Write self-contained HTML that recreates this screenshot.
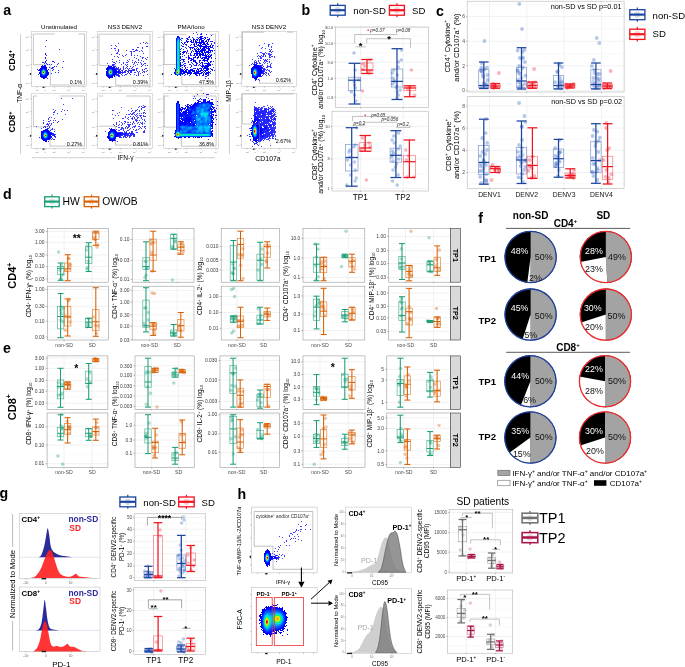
<!DOCTYPE html>
<html><head><meta charset="utf-8"><style>html,body{margin:0;padding:0;background:#fff;}svg{display:block;}</style></head>
<body><svg width="685" height="667" viewBox="0 0 685 667" font-family='"Liberation Sans", Arial, sans-serif'>
<rect width="685" height="667" fill="#fff"/>
<text x="3.2" y="14.9" font-size="14.2" font-weight="bold">a</text>
<text x="59" y="28.8" font-size="6.2" text-anchor="middle">Unstimulated</text>
<text x="125" y="28.8" font-size="6.2" text-anchor="middle">NS3 DENV2</text>
<text x="191" y="28.8" font-size="6.2" text-anchor="middle">PMA/Iono</text>
<text x="269" y="28.8" font-size="6.2" text-anchor="middle">NS3 DENV2</text>
<rect x="31.5" y="31.5" width="55" height="55" fill="none" stroke="#cdcdcd" stroke-width="0.7"/>
<line x1="33.4" y1="34" x2="54.8" y2="34" stroke="#8f8f8f" stroke-width="0.5"/>
<line x1="78.2" y1="34" x2="84.5" y2="34" stroke="#8f8f8f" stroke-width="0.5"/>
<line x1="33.4" y1="34" x2="33.4" y2="64.7" stroke="#8f8f8f" stroke-width="0.5"/>
<line x1="33.4" y1="64.7" x2="50.3" y2="64.7" stroke="#8f8f8f" stroke-width="0.5"/>
<line x1="50.3" y1="64.7" x2="50.3" y2="85" stroke="#8f8f8f" stroke-width="0.5"/>
<line x1="50.3" y1="85" x2="84.5" y2="85" stroke="#8f8f8f" stroke-width="0.5"/>
<line x1="84.5" y1="34" x2="84.5" y2="85" stroke="#8f8f8f" stroke-width="0.5"/>
<line x1="30.2" y1="37" x2="31.5" y2="37" stroke="#777" stroke-width="0.4"/>
<line x1="30.2" y1="50" x2="31.5" y2="50" stroke="#777" stroke-width="0.4"/>
<line x1="30.2" y1="64.8" x2="31.5" y2="64.8" stroke="#777" stroke-width="0.4"/>
<line x1="30.2" y1="74" x2="31.5" y2="74" stroke="#777" stroke-width="0.4"/>
<line x1="30.2" y1="83.2" x2="31.5" y2="83.2" stroke="#777" stroke-width="0.4"/>
<line x1="36.8" y1="86.5" x2="36.8" y2="87.8" stroke="#777" stroke-width="0.4"/>
<line x1="45.1" y1="86.5" x2="45.1" y2="87.8" stroke="#777" stroke-width="0.4"/>
<line x1="54.2" y1="86.5" x2="54.2" y2="87.8" stroke="#777" stroke-width="0.4"/>
<line x1="69" y1="86.5" x2="69" y2="87.8" stroke="#777" stroke-width="0.4"/>
<line x1="83.8" y1="86.5" x2="83.8" y2="87.8" stroke="#777" stroke-width="0.4"/>
<line x1="30.8" y1="34.5" x2="31.5" y2="34.5" stroke="#aaa" stroke-width="0.3"/>
<line x1="30.8" y1="37.5" x2="31.5" y2="37.5" stroke="#aaa" stroke-width="0.3"/>
<line x1="30.8" y1="40.5" x2="31.5" y2="40.5" stroke="#aaa" stroke-width="0.3"/>
<line x1="30.8" y1="43.5" x2="31.5" y2="43.5" stroke="#aaa" stroke-width="0.3"/>
<line x1="30.8" y1="46.5" x2="31.5" y2="46.5" stroke="#aaa" stroke-width="0.3"/>
<line x1="30.8" y1="49.5" x2="31.5" y2="49.5" stroke="#aaa" stroke-width="0.3"/>
<line x1="30.8" y1="52.5" x2="31.5" y2="52.5" stroke="#aaa" stroke-width="0.3"/>
<line x1="30.8" y1="55.5" x2="31.5" y2="55.5" stroke="#aaa" stroke-width="0.3"/>
<line x1="30.8" y1="58.5" x2="31.5" y2="58.5" stroke="#aaa" stroke-width="0.3"/>
<line x1="30.8" y1="61.5" x2="31.5" y2="61.5" stroke="#aaa" stroke-width="0.3"/>
<line x1="30.8" y1="64.5" x2="31.5" y2="64.5" stroke="#aaa" stroke-width="0.3"/>
<line x1="30.8" y1="67.5" x2="31.5" y2="67.5" stroke="#aaa" stroke-width="0.3"/>
<line x1="30.8" y1="70.5" x2="31.5" y2="70.5" stroke="#aaa" stroke-width="0.3"/>
<line x1="30.8" y1="73.5" x2="31.5" y2="73.5" stroke="#aaa" stroke-width="0.3"/>
<line x1="30.8" y1="76.5" x2="31.5" y2="76.5" stroke="#aaa" stroke-width="0.3"/>
<line x1="30.8" y1="79.5" x2="31.5" y2="79.5" stroke="#aaa" stroke-width="0.3"/>
<line x1="30.8" y1="82.5" x2="31.5" y2="82.5" stroke="#aaa" stroke-width="0.3"/>
<line x1="34.5" y1="86.5" x2="34.5" y2="87.2" stroke="#aaa" stroke-width="0.3"/>
<line x1="37.5" y1="86.5" x2="37.5" y2="87.2" stroke="#aaa" stroke-width="0.3"/>
<line x1="40.5" y1="86.5" x2="40.5" y2="87.2" stroke="#aaa" stroke-width="0.3"/>
<line x1="43.5" y1="86.5" x2="43.5" y2="87.2" stroke="#aaa" stroke-width="0.3"/>
<line x1="46.5" y1="86.5" x2="46.5" y2="87.2" stroke="#aaa" stroke-width="0.3"/>
<line x1="49.5" y1="86.5" x2="49.5" y2="87.2" stroke="#aaa" stroke-width="0.3"/>
<line x1="52.5" y1="86.5" x2="52.5" y2="87.2" stroke="#aaa" stroke-width="0.3"/>
<line x1="55.5" y1="86.5" x2="55.5" y2="87.2" stroke="#aaa" stroke-width="0.3"/>
<line x1="58.5" y1="86.5" x2="58.5" y2="87.2" stroke="#aaa" stroke-width="0.3"/>
<line x1="61.5" y1="86.5" x2="61.5" y2="87.2" stroke="#aaa" stroke-width="0.3"/>
<line x1="64.5" y1="86.5" x2="64.5" y2="87.2" stroke="#aaa" stroke-width="0.3"/>
<line x1="67.5" y1="86.5" x2="67.5" y2="87.2" stroke="#aaa" stroke-width="0.3"/>
<line x1="70.5" y1="86.5" x2="70.5" y2="87.2" stroke="#aaa" stroke-width="0.3"/>
<line x1="73.5" y1="86.5" x2="73.5" y2="87.2" stroke="#aaa" stroke-width="0.3"/>
<line x1="76.5" y1="86.5" x2="76.5" y2="87.2" stroke="#aaa" stroke-width="0.3"/>
<line x1="79.5" y1="86.5" x2="79.5" y2="87.2" stroke="#aaa" stroke-width="0.3"/>
<line x1="82.5" y1="86.5" x2="82.5" y2="87.2" stroke="#aaa" stroke-width="0.3"/>
<rect x="29.9" y="73.1" width="1.2" height="1.8" fill="#222" stroke="none" stroke-width="1"/>
<rect x="42.6" y="86.8" width="1.8" height="1.2" fill="#222" stroke="none" stroke-width="1"/>
<text x="29.3" y="37.9" font-size="2.3" text-anchor="end" fill="#777">10⁵</text>
<text x="29.3" y="50.9" font-size="2.3" text-anchor="end" fill="#777">10⁴</text>
<text x="29.3" y="65.7" font-size="2.3" text-anchor="end" fill="#777">10³</text>
<text x="29.3" y="74.9" font-size="2.3" text-anchor="end" fill="#777">0</text>
<text x="29.3" y="84.1" font-size="2.3" text-anchor="end" fill="#777">-10³</text>
<text x="36.8" y="90.7" font-size="2.3" text-anchor="middle" fill="#777">-10³</text>
<text x="45.1" y="90.7" font-size="2.3" text-anchor="middle" fill="#777">0</text>
<text x="54.2" y="90.7" font-size="2.3" text-anchor="middle" fill="#777">10³</text>
<text x="69" y="90.7" font-size="2.3" text-anchor="middle" fill="#777">10⁴</text>
<text x="83.8" y="90.7" font-size="2.3" text-anchor="middle" fill="#777">10⁵</text>
<g transform="translate(31.5 31.5)" stroke-width="1" stroke-linecap="square"><path d="M15 9h0M14 15h0M28 18h0M32 30h0M18 33h0M20 33h0M25 35h0M18 36h0M31 36h0M27 39h0M24 41h0M27 41h0M20 42h0" stroke="#3333ff"/><path d="M7 39h0" stroke="#2525ff"/><path d="M11 35h3M10 36h5M9 37h2M14 37h1M9 38h1M15 38h0M8 39h1M15 39h1M9 40h0M15 40h1M8 41h1M16 41h0M8 42h1M15 42h1M9 43h0M15 43h1M9 44h1M14 44h2M9 45h6M10 46h4M12 47h0" stroke="#0000ff"/><path d="M12 41h0" stroke="#f00000"/><path d="M12 31h0M13 32h0M15 32h0M20 37h0" stroke="#2626ff"/><path d="M12 43h0" stroke="#00b8ff"/><path d="M11 31h0M22 38h0" stroke="#2a2aff"/><path d="M14 22h0M14 27h0M15 29h0M21 30h0M21 37h0M17 38h0" stroke="#1818ff"/><path d="M14 40h0" stroke="#006dff"/><path d="M12 44h0" stroke="#0038ff"/><path d="M11 34h0" stroke="#1616ff"/><path d="M10 40h0" stroke="#0053ff"/><path d="M10 39h0M14 43h0" stroke="#0026ff"/><path d="M12 38h0" stroke="#0067ff"/><path d="M13 44h0" stroke="#0025ff"/><path d="M8 38h0M17 41h0" stroke="#0a0aff"/><path d="M14 41h0" stroke="#0079ff"/><path d="M12 42h0" stroke="#bcff04"/><path d="M13 40h0" stroke="#04ff4e"/><path d="M15 24h0M23 31h0M27 32h0M16 33h0M26 33h0M23 35h0M6 38h0M21 39h0" stroke="#2f2fff"/><path d="M12 37h0M14 38h0" stroke="#000dff"/><path d="M13 34h0" stroke="#1111ff"/><path d="M11 41h0" stroke="#53ff2e"/><path d="M10 41h0" stroke="#0062ff"/><path d="M13 39h0" stroke="#00b7ff"/><path d="M16 47h0" stroke="#2c2cff"/><path d="M11 44h0" stroke="#001aff"/><path d="M14 30h0M14 31h0" stroke="#0606ff"/><path d="M11 40h0" stroke="#00fa65"/><path d="M7 43h0" stroke="#2828ff"/><path d="M14 34h0" stroke="#1a1aff"/><path d="M14 26h0M22 36h0" stroke="#2121ff"/><path d="M14 23h0M22 30h0M21 36h0" stroke="#1d1dff"/><path d="M10 35h0" stroke="#0909ff"/><path d="M10 42h0" stroke="#0042ff"/><path d="M10 43h0" stroke="#0012ff"/><path d="M11 38h0" stroke="#003cff"/><path d="M11 39h0" stroke="#00aaff"/><path d="M11 42h0" stroke="#00e7c3"/><path d="M11 43h0" stroke="#007aff"/><path d="M12 39h0" stroke="#00eab4"/><path d="M12 40h0" stroke="#ffad00"/><path d="M13 37h0" stroke="#0003ff"/><path d="M13 38h0" stroke="#0048ff"/><path d="M13 41h0" stroke="#75ff21"/><path d="M13 42h0" stroke="#00ecac"/><path d="M13 43h0" stroke="#0085ff"/><path d="M13 47h0" stroke="#0101ff"/><path d="M14 39h0" stroke="#003dff"/><path d="M14 42h0" stroke="#005aff"/><path d="M15 41h0" stroke="#0002ff"/><path d="M15 46h0" stroke="#0707ff"/><path d="M17 42h0" stroke="#0d0dff"/><path d="M17 43h0" stroke="#1515ff"/></g>
<text x="81.9" y="83.9" font-size="5.35" text-anchor="end">0.1%</text>
<rect x="97.6" y="31.5" width="55" height="55" fill="none" stroke="#cdcdcd" stroke-width="0.7"/>
<line x1="99" y1="34.2" x2="150" y2="34.2" stroke="#8f8f8f" stroke-width="0.5"/>
<line x1="99" y1="34.2" x2="99" y2="65.4" stroke="#8f8f8f" stroke-width="0.5"/>
<line x1="99" y1="65.4" x2="115.7" y2="65.4" stroke="#8f8f8f" stroke-width="0.5"/>
<line x1="115.7" y1="65.4" x2="115.7" y2="85.3" stroke="#8f8f8f" stroke-width="0.5"/>
<line x1="115.7" y1="85.3" x2="150" y2="85.3" stroke="#8f8f8f" stroke-width="0.5"/>
<line x1="150" y1="34.2" x2="150" y2="85.3" stroke="#8f8f8f" stroke-width="0.5"/>
<line x1="96.3" y1="37" x2="97.6" y2="37" stroke="#777" stroke-width="0.4"/>
<line x1="96.3" y1="50" x2="97.6" y2="50" stroke="#777" stroke-width="0.4"/>
<line x1="96.3" y1="64.8" x2="97.6" y2="64.8" stroke="#777" stroke-width="0.4"/>
<line x1="96.3" y1="74" x2="97.6" y2="74" stroke="#777" stroke-width="0.4"/>
<line x1="96.3" y1="83.2" x2="97.6" y2="83.2" stroke="#777" stroke-width="0.4"/>
<line x1="102.9" y1="86.5" x2="102.9" y2="87.8" stroke="#777" stroke-width="0.4"/>
<line x1="111.2" y1="86.5" x2="111.2" y2="87.8" stroke="#777" stroke-width="0.4"/>
<line x1="120.3" y1="86.5" x2="120.3" y2="87.8" stroke="#777" stroke-width="0.4"/>
<line x1="135.1" y1="86.5" x2="135.1" y2="87.8" stroke="#777" stroke-width="0.4"/>
<line x1="149.9" y1="86.5" x2="149.9" y2="87.8" stroke="#777" stroke-width="0.4"/>
<line x1="96.9" y1="34.5" x2="97.6" y2="34.5" stroke="#aaa" stroke-width="0.3"/>
<line x1="96.9" y1="37.5" x2="97.6" y2="37.5" stroke="#aaa" stroke-width="0.3"/>
<line x1="96.9" y1="40.5" x2="97.6" y2="40.5" stroke="#aaa" stroke-width="0.3"/>
<line x1="96.9" y1="43.5" x2="97.6" y2="43.5" stroke="#aaa" stroke-width="0.3"/>
<line x1="96.9" y1="46.5" x2="97.6" y2="46.5" stroke="#aaa" stroke-width="0.3"/>
<line x1="96.9" y1="49.5" x2="97.6" y2="49.5" stroke="#aaa" stroke-width="0.3"/>
<line x1="96.9" y1="52.5" x2="97.6" y2="52.5" stroke="#aaa" stroke-width="0.3"/>
<line x1="96.9" y1="55.5" x2="97.6" y2="55.5" stroke="#aaa" stroke-width="0.3"/>
<line x1="96.9" y1="58.5" x2="97.6" y2="58.5" stroke="#aaa" stroke-width="0.3"/>
<line x1="96.9" y1="61.5" x2="97.6" y2="61.5" stroke="#aaa" stroke-width="0.3"/>
<line x1="96.9" y1="64.5" x2="97.6" y2="64.5" stroke="#aaa" stroke-width="0.3"/>
<line x1="96.9" y1="67.5" x2="97.6" y2="67.5" stroke="#aaa" stroke-width="0.3"/>
<line x1="96.9" y1="70.5" x2="97.6" y2="70.5" stroke="#aaa" stroke-width="0.3"/>
<line x1="96.9" y1="73.5" x2="97.6" y2="73.5" stroke="#aaa" stroke-width="0.3"/>
<line x1="96.9" y1="76.5" x2="97.6" y2="76.5" stroke="#aaa" stroke-width="0.3"/>
<line x1="96.9" y1="79.5" x2="97.6" y2="79.5" stroke="#aaa" stroke-width="0.3"/>
<line x1="96.9" y1="82.5" x2="97.6" y2="82.5" stroke="#aaa" stroke-width="0.3"/>
<line x1="100.6" y1="86.5" x2="100.6" y2="87.2" stroke="#aaa" stroke-width="0.3"/>
<line x1="103.6" y1="86.5" x2="103.6" y2="87.2" stroke="#aaa" stroke-width="0.3"/>
<line x1="106.6" y1="86.5" x2="106.6" y2="87.2" stroke="#aaa" stroke-width="0.3"/>
<line x1="109.6" y1="86.5" x2="109.6" y2="87.2" stroke="#aaa" stroke-width="0.3"/>
<line x1="112.6" y1="86.5" x2="112.6" y2="87.2" stroke="#aaa" stroke-width="0.3"/>
<line x1="115.6" y1="86.5" x2="115.6" y2="87.2" stroke="#aaa" stroke-width="0.3"/>
<line x1="118.6" y1="86.5" x2="118.6" y2="87.2" stroke="#aaa" stroke-width="0.3"/>
<line x1="121.6" y1="86.5" x2="121.6" y2="87.2" stroke="#aaa" stroke-width="0.3"/>
<line x1="124.6" y1="86.5" x2="124.6" y2="87.2" stroke="#aaa" stroke-width="0.3"/>
<line x1="127.6" y1="86.5" x2="127.6" y2="87.2" stroke="#aaa" stroke-width="0.3"/>
<line x1="130.6" y1="86.5" x2="130.6" y2="87.2" stroke="#aaa" stroke-width="0.3"/>
<line x1="133.6" y1="86.5" x2="133.6" y2="87.2" stroke="#aaa" stroke-width="0.3"/>
<line x1="136.6" y1="86.5" x2="136.6" y2="87.2" stroke="#aaa" stroke-width="0.3"/>
<line x1="139.6" y1="86.5" x2="139.6" y2="87.2" stroke="#aaa" stroke-width="0.3"/>
<line x1="142.6" y1="86.5" x2="142.6" y2="87.2" stroke="#aaa" stroke-width="0.3"/>
<line x1="145.6" y1="86.5" x2="145.6" y2="87.2" stroke="#aaa" stroke-width="0.3"/>
<line x1="148.6" y1="86.5" x2="148.6" y2="87.2" stroke="#aaa" stroke-width="0.3"/>
<rect x="96" y="73.1" width="1.2" height="1.8" fill="#222" stroke="none" stroke-width="1"/>
<rect x="108.7" y="86.8" width="1.8" height="1.2" fill="#222" stroke="none" stroke-width="1"/>
<text x="95.4" y="37.9" font-size="2.3" text-anchor="end" fill="#777">10⁵</text>
<text x="95.4" y="50.9" font-size="2.3" text-anchor="end" fill="#777">10⁴</text>
<text x="95.4" y="65.7" font-size="2.3" text-anchor="end" fill="#777">10³</text>
<text x="95.4" y="74.9" font-size="2.3" text-anchor="end" fill="#777">0</text>
<text x="95.4" y="84.1" font-size="2.3" text-anchor="end" fill="#777">-10³</text>
<text x="102.9" y="90.7" font-size="2.3" text-anchor="middle" fill="#777">-10³</text>
<text x="111.2" y="90.7" font-size="2.3" text-anchor="middle" fill="#777">0</text>
<text x="120.3" y="90.7" font-size="2.3" text-anchor="middle" fill="#777">10³</text>
<text x="135.1" y="90.7" font-size="2.3" text-anchor="middle" fill="#777">10⁴</text>
<text x="149.9" y="90.7" font-size="2.3" text-anchor="middle" fill="#777">10⁵</text>
<g transform="translate(97.5 31.5)" stroke-width="1" stroke-linecap="square"><path d="M12 35h2M11 36h5M10 37h2M15 37h1M10 38h0M16 38h1M10 39h0M16 39h2M9 40h1M16 40h2M9 41h1M16 41h3M9 42h1M16 42h1M10 43h0M16 43h1M10 44h1M15 44h2M11 45h4M12 46h3" stroke="#0000ff"/><path d="M17 45h0M12 47h0" stroke="#1515ff"/><path d="M17 37h0M9 43h0" stroke="#0303ff"/><path d="M13 39h0" stroke="#00f388"/><path d="M14 44h0" stroke="#0014ff"/><path d="M14 41h0" stroke="#00ff4f"/><path d="M12 38h0" stroke="#004eff"/><path d="M14 40h0" stroke="#00f57f"/><path d="M16 35h0M22 41h0M9 44h0" stroke="#1414ff"/><path d="M10 32h0" stroke="#3e3eff"/><path d="M15 34h0" stroke="#1c1cff"/><path d="M14 42h0" stroke="#00ddf7"/><path d="M14 39h0" stroke="#00b1ff"/><path d="M17 35h0" stroke="#2626ff"/><path d="M13 40h0" stroke="#ff7700"/><path d="M11 40h0" stroke="#0078ff"/><path d="M14 37h0" stroke="#0003ff"/><path d="M15 38h0" stroke="#000cff"/><path d="M11 34h0" stroke="#2323ff"/><path d="M12 40h0" stroke="#90ff16"/><path d="M16 34h0M19 38h0M21 39h0M22 42h0" stroke="#2424ff"/><path d="M18 37h0" stroke="#1d1dff"/><path d="M13 38h0" stroke="#0073ff"/><path d="M15 40h0" stroke="#005fff"/><path d="M48 12h0M34 21h0M19 22h0M16 31h0M17 33h0M31 38h0M37 38h0M39 38h0M25 39h0M28 39h0M37 39h0M49 40h0M28 41h0M47 41h0M24 43h0M33 43h0M22 45h0" stroke="#3636ff"/><path d="M21 20h0M20 21h0M17 31h0M18 35h0M21 36h0M23 38h0M24 39h0M27 40h0M46 40h0M27 41h0M31 41h0M21 45h0" stroke="#3333ff"/><path d="M15 42h0" stroke="#0047ff"/><path d="M21 18h0M39 19h0M19 36h0M34 37h0M29 39h0M22 44h0" stroke="#3535ff"/><path d="M14 38h0" stroke="#0049ff"/><path d="M13 41h0" stroke="#f00000"/><path d="M15 41h0" stroke="#0067ff"/><path d="M15 33h1M21 37h0M20 38h0M33 41h1M25 42h0" stroke="#2e2eff"/><path d="M19 37h0M30 40h0M34 40h0" stroke="#2929ff"/><path d="M22 39h0M21 42h0" stroke="#1f1fff"/><path d="M21 40h1" stroke="#1313ff"/><path d="M25 41h0M21 43h0M19 44h0M21 44h0" stroke="#2a2aff"/><path d="M20 41h0M18 42h0" stroke="#0707ff"/><path d="M21 19h0M20 22h0M35 38h1M32 39h0M35 39h1M25 40h0M28 40h0M47 40h0M26 41h0" stroke="#3131ff"/><path d="M20 37h0M21 38h1M31 40h0" stroke="#2c2cff"/><path d="M17 36h0M9 37h0" stroke="#1616ff"/><path d="M49 15h1M40 16h1M45 16h0M17 17h1M45 17h0M35 18h1M36 20h0M34 24h0M41 28h0M41 29h0M31 30h0M38 30h0M26 31h0M29 31h0M26 32h0M48 32h0M46 33h0M26 35h0M30 35h0M30 37h0M49 37h0M45 38h0M50 39h0M40 40h0M37 41h1M30 42h0M41 44h0" stroke="#3b3bff"/><path d="M49 11h0M40 19h0M33 20h0M37 20h0M46 26h0M45 27h0M30 31h0M37 31h0M18 32h0M37 32h0M44 32h0M47 32h0M44 33h0M29 34h0M45 34h0M29 36h0M35 36h0M23 37h0M40 37h0M48 37h0M26 38h0M39 39h0M45 39h0M28 43h1" stroke="#3a3aff"/><path d="M19 43h0" stroke="#2222ff"/><path d="M19 42h0" stroke="#1111ff"/><path d="M20 40h0" stroke="#0f0fff"/><path d="M24 41h0" stroke="#2020ff"/><path d="M31 39h0M33 39h1" stroke="#2f2fff"/><path d="M11 35h0M18 38h0" stroke="#0a0aff"/><path d="M19 40h0M11 46h0" stroke="#0505ff"/><path d="M23 41h0" stroke="#1818ff"/><path d="M33 40h0M23 42h0" stroke="#2727ff"/><path d="M23 40h0" stroke="#1919ff"/><path d="M19 39h0" stroke="#1b1bff"/><path d="M50 12h0M18 14h0M19 15h0M44 19h0M45 20h0M29 23h0M25 24h0M28 24h0M20 25h0M26 25h0M21 26h0M48 27h0M49 28h0M30 29h0M15 30h0M39 31h0M43 31h0M28 33h0M30 33h0M36 33h0M36 35h0M44 35h0M28 37h0M32 37h0M47 38h0M42 40h0M45 41h0M25 44h0M27 44h0" stroke="#3d3dff"/><path d="M20 43h0M20 44h0" stroke="#2525ff"/><path d="M21 41h0" stroke="#0e0eff"/><path d="M46 11h0M39 18h0M18 19h0M38 19h0M34 20h0M34 22h0M34 23h0M45 26h0M35 29h0M40 33h0M26 36h0M26 37h0M39 37h0M41 41h0M32 42h0M41 42h0M41 43h0" stroke="#3838ff"/><path d="M18 43h0" stroke="#1717ff"/><path d="M21 12h0M43 12h0M14 14h0M14 17h0M29 19h0M42 20h0M46 22h0M14 23h0M22 23h0M37 24h0M40 24h0M17 25h0M43 25h0M37 26h0M50 26h0M39 27h0M15 28h0M32 28h0M22 29h0M44 29h0M19 30h0M46 30h0M22 31h0M35 31h0M41 31h0M24 33h0M38 34h0M48 34h0M50 34h0M33 35h0M43 42h0M37 43h0M50 43h0M39 44h0M46 44h0" stroke="#3f3fff"/><path d="M15 43h0" stroke="#0019ff"/><path d="M9 38h0" stroke="#0606ff"/><path d="M10 36h0" stroke="#0909ff"/><path d="M10 45h0" stroke="#0404ff"/><path d="M11 38h0" stroke="#0005ff"/><path d="M11 39h0" stroke="#003eff"/><path d="M11 41h0" stroke="#0083ff"/><path d="M11 42h0" stroke="#0056ff"/><path d="M11 43h0" stroke="#0016ff"/><path d="M12 39h0" stroke="#00d6ff"/><path d="M12 41h0" stroke="#d4f200"/><path d="M12 42h0" stroke="#00f192"/><path d="M12 43h0" stroke="#007cff"/><path d="M12 44h0" stroke="#0013ff"/><path d="M13 37h0" stroke="#000fff"/><path d="M13 42h0" stroke="#8dff17"/><path d="M13 43h0" stroke="#00a6ff"/><path d="M13 44h0" stroke="#0028ff"/><path d="M14 43h0" stroke="#006eff"/><path d="M15 39h0" stroke="#0038ff"/></g>
<text x="148" y="83.9" font-size="5.35" text-anchor="end">0.39%</text>
<rect x="163.7" y="31.5" width="55" height="55" fill="none" stroke="#cdcdcd" stroke-width="0.7"/>
<line x1="164.2" y1="34.3" x2="186" y2="34.3" stroke="#8f8f8f" stroke-width="0.5"/>
<line x1="209.7" y1="34.3" x2="215.6" y2="34.3" stroke="#8f8f8f" stroke-width="0.5"/>
<line x1="164.2" y1="34.3" x2="164.2" y2="64.5" stroke="#8f8f8f" stroke-width="0.5"/>
<line x1="164.2" y1="64.5" x2="181.8" y2="64.5" stroke="#8f8f8f" stroke-width="0.5"/>
<line x1="181.8" y1="64.5" x2="181.8" y2="84.7" stroke="#8f8f8f" stroke-width="0.5"/>
<line x1="181.8" y1="84.7" x2="215.6" y2="84.7" stroke="#8f8f8f" stroke-width="0.5"/>
<line x1="215.6" y1="34.3" x2="215.6" y2="84.7" stroke="#8f8f8f" stroke-width="0.5"/>
<line x1="162.4" y1="37" x2="163.7" y2="37" stroke="#777" stroke-width="0.4"/>
<line x1="162.4" y1="50" x2="163.7" y2="50" stroke="#777" stroke-width="0.4"/>
<line x1="162.4" y1="64.8" x2="163.7" y2="64.8" stroke="#777" stroke-width="0.4"/>
<line x1="162.4" y1="74" x2="163.7" y2="74" stroke="#777" stroke-width="0.4"/>
<line x1="162.4" y1="83.2" x2="163.7" y2="83.2" stroke="#777" stroke-width="0.4"/>
<line x1="169" y1="86.5" x2="169" y2="87.8" stroke="#777" stroke-width="0.4"/>
<line x1="177.3" y1="86.5" x2="177.3" y2="87.8" stroke="#777" stroke-width="0.4"/>
<line x1="186.4" y1="86.5" x2="186.4" y2="87.8" stroke="#777" stroke-width="0.4"/>
<line x1="201.2" y1="86.5" x2="201.2" y2="87.8" stroke="#777" stroke-width="0.4"/>
<line x1="216" y1="86.5" x2="216" y2="87.8" stroke="#777" stroke-width="0.4"/>
<line x1="163" y1="34.5" x2="163.7" y2="34.5" stroke="#aaa" stroke-width="0.3"/>
<line x1="163" y1="37.5" x2="163.7" y2="37.5" stroke="#aaa" stroke-width="0.3"/>
<line x1="163" y1="40.5" x2="163.7" y2="40.5" stroke="#aaa" stroke-width="0.3"/>
<line x1="163" y1="43.5" x2="163.7" y2="43.5" stroke="#aaa" stroke-width="0.3"/>
<line x1="163" y1="46.5" x2="163.7" y2="46.5" stroke="#aaa" stroke-width="0.3"/>
<line x1="163" y1="49.5" x2="163.7" y2="49.5" stroke="#aaa" stroke-width="0.3"/>
<line x1="163" y1="52.5" x2="163.7" y2="52.5" stroke="#aaa" stroke-width="0.3"/>
<line x1="163" y1="55.5" x2="163.7" y2="55.5" stroke="#aaa" stroke-width="0.3"/>
<line x1="163" y1="58.5" x2="163.7" y2="58.5" stroke="#aaa" stroke-width="0.3"/>
<line x1="163" y1="61.5" x2="163.7" y2="61.5" stroke="#aaa" stroke-width="0.3"/>
<line x1="163" y1="64.5" x2="163.7" y2="64.5" stroke="#aaa" stroke-width="0.3"/>
<line x1="163" y1="67.5" x2="163.7" y2="67.5" stroke="#aaa" stroke-width="0.3"/>
<line x1="163" y1="70.5" x2="163.7" y2="70.5" stroke="#aaa" stroke-width="0.3"/>
<line x1="163" y1="73.5" x2="163.7" y2="73.5" stroke="#aaa" stroke-width="0.3"/>
<line x1="163" y1="76.5" x2="163.7" y2="76.5" stroke="#aaa" stroke-width="0.3"/>
<line x1="163" y1="79.5" x2="163.7" y2="79.5" stroke="#aaa" stroke-width="0.3"/>
<line x1="163" y1="82.5" x2="163.7" y2="82.5" stroke="#aaa" stroke-width="0.3"/>
<line x1="166.7" y1="86.5" x2="166.7" y2="87.2" stroke="#aaa" stroke-width="0.3"/>
<line x1="169.7" y1="86.5" x2="169.7" y2="87.2" stroke="#aaa" stroke-width="0.3"/>
<line x1="172.7" y1="86.5" x2="172.7" y2="87.2" stroke="#aaa" stroke-width="0.3"/>
<line x1="175.7" y1="86.5" x2="175.7" y2="87.2" stroke="#aaa" stroke-width="0.3"/>
<line x1="178.7" y1="86.5" x2="178.7" y2="87.2" stroke="#aaa" stroke-width="0.3"/>
<line x1="181.7" y1="86.5" x2="181.7" y2="87.2" stroke="#aaa" stroke-width="0.3"/>
<line x1="184.7" y1="86.5" x2="184.7" y2="87.2" stroke="#aaa" stroke-width="0.3"/>
<line x1="187.7" y1="86.5" x2="187.7" y2="87.2" stroke="#aaa" stroke-width="0.3"/>
<line x1="190.7" y1="86.5" x2="190.7" y2="87.2" stroke="#aaa" stroke-width="0.3"/>
<line x1="193.7" y1="86.5" x2="193.7" y2="87.2" stroke="#aaa" stroke-width="0.3"/>
<line x1="196.7" y1="86.5" x2="196.7" y2="87.2" stroke="#aaa" stroke-width="0.3"/>
<line x1="199.7" y1="86.5" x2="199.7" y2="87.2" stroke="#aaa" stroke-width="0.3"/>
<line x1="202.7" y1="86.5" x2="202.7" y2="87.2" stroke="#aaa" stroke-width="0.3"/>
<line x1="205.7" y1="86.5" x2="205.7" y2="87.2" stroke="#aaa" stroke-width="0.3"/>
<line x1="208.7" y1="86.5" x2="208.7" y2="87.2" stroke="#aaa" stroke-width="0.3"/>
<line x1="211.7" y1="86.5" x2="211.7" y2="87.2" stroke="#aaa" stroke-width="0.3"/>
<line x1="214.7" y1="86.5" x2="214.7" y2="87.2" stroke="#aaa" stroke-width="0.3"/>
<rect x="162.1" y="73.1" width="1.2" height="1.8" fill="#222" stroke="none" stroke-width="1"/>
<rect x="174.8" y="86.8" width="1.8" height="1.2" fill="#222" stroke="none" stroke-width="1"/>
<text x="161.5" y="37.9" font-size="2.3" text-anchor="end" fill="#777">10⁵</text>
<text x="161.5" y="50.9" font-size="2.3" text-anchor="end" fill="#777">10⁴</text>
<text x="161.5" y="65.7" font-size="2.3" text-anchor="end" fill="#777">10³</text>
<text x="161.5" y="74.9" font-size="2.3" text-anchor="end" fill="#777">0</text>
<text x="161.5" y="84.1" font-size="2.3" text-anchor="end" fill="#777">-10³</text>
<text x="169" y="90.7" font-size="2.3" text-anchor="middle" fill="#777">-10³</text>
<text x="177.3" y="90.7" font-size="2.3" text-anchor="middle" fill="#777">0</text>
<text x="186.4" y="90.7" font-size="2.3" text-anchor="middle" fill="#777">10³</text>
<text x="201.2" y="90.7" font-size="2.3" text-anchor="middle" fill="#777">10⁴</text>
<text x="216" y="90.7" font-size="2.3" text-anchor="middle" fill="#777">10⁵</text>
<g transform="translate(163.5 31.5)" stroke-width="1" stroke-linecap="square"><path d="M38 3h0M42 7h0M24 8h0M38 9h0M40 9h0M24 11h0M34 11h0M44 11h0M33 12h0M28 16h0M27 17h0M31 17h0M32 18h0M42 19h0M45 22h0M25 25h0M25 27h0M27 27h0M30 27h0M27 29h0M36 29h0M47 30h0M33 31h0M33 32h0M33 33h0M33 34h0M42 34h0M41 37h0M19 38h0M35 38h0M33 39h0M41 39h0" stroke="#0707ff"/><path d="M14 5h1M37 5h1M16 6h0M36 6h2M13 7h0M35 7h0M37 7h1M13 8h0M17 8h0M30 8h1M33 8h1M36 8h2M23 9h0M28 9h0M30 9h0M32 9h0M39 9h0M43 9h0M23 10h1M27 10h1M32 10h1M36 10h0M38 10h2M42 10h1M28 11h1M33 11h0M35 11h6M36 12h2M40 12h1M43 12h1M31 13h0M35 13h0M37 13h0M39 13h3M44 13h0M31 14h0M35 14h3M42 14h1M31 15h0M36 15h11M27 16h0M37 16h0M40 16h3M45 16h0M35 17h0M37 17h0M39 17h2M43 17h2M17 18h0M34 18h2M38 18h4M45 18h1M32 19h1M35 19h0M37 19h4M45 19h3M17 20h0M32 20h7M41 20h0M43 20h2M47 20h0M33 21h1M36 21h0M38 21h1M41 21h5M17 22h0M31 22h6M39 22h1M42 22h0M17 23h0M31 23h0M33 23h1M36 23h4M42 23h0M34 24h0M36 24h1M39 24h4M45 24h0M47 24h0M17 25h0M35 25h0M42 25h5M17 26h0M26 26h0M34 26h0M41 26h2M45 26h1M17 27h0M26 27h0M38 27h1M41 27h4M28 28h2M40 28h1M44 28h1M17 29h0M30 29h1M40 29h4M31 30h1M41 30h0M44 30h0M17 31h0M32 31h0M45 31h0M17 32h0M39 32h0M44 32h2M17 33h0M39 33h0M44 33h3M17 34h0M39 34h1M43 34h4M17 35h0M39 35h6M41 36h3M17 37h0M42 37h3M47 37h0M12 38h0M17 38h0M23 38h1M27 38h2M38 38h0M43 38h2M48 38h0M17 39h3M22 39h1M25 39h6M35 39h0M37 39h2M42 39h2M18 40h5M25 40h2M29 40h2M33 40h4M40 40h0M42 40h0M11 41h0M17 41h1M20 41h8M31 41h4M38 41h1M43 41h3M11 42h0M17 42h0M19 42h2M24 42h3M30 42h8M40 42h0M42 42h2M12 43h0M17 43h0M32 43h1M36 43h0M40 43h0M14 44h0" stroke="#0000ff"/><path d="M30 7h0M45 9h0M30 11h0M19 12h0M33 13h0M34 14h0M47 14h0M19 15h0M26 16h0M30 16h0M48 16h0M31 18h0M21 20h0M24 20h0M21 21h0M20 22h0M31 26h0M39 26h0M28 27h0M20 29h0M36 30h0M43 32h0M32 34h0M22 36h0M22 37h0M38 37h0M34 38h0M18 42h0M33 44h0" stroke="#0c0cff"/><path d="M26 5h0M34 6h0M23 7h0M25 8h0M45 10h0M20 13h0M23 14h0M50 14h0M28 20h0M28 21h0M27 22h0M28 24h0M30 24h0M48 26h0M21 28h0M25 28h0M39 29h0M21 30h0M36 31h0M21 32h0M37 32h0M20 33h0M27 33h0M36 33h0M22 34h0M28 34h0M31 34h0M28 35h0M34 37h0M36 37h0M21 38h0M43 45h0" stroke="#2121ff"/><path d="M48 4h0M25 6h1M44 6h0M40 7h0M41 8h0M25 10h0M48 10h0M21 11h1M22 13h1M48 13h0M20 15h0M33 15h0M34 16h0M29 17h0M24 19h0M22 20h0M49 20h0M19 21h0M47 21h0M21 24h0M27 24h0M19 25h0M30 26h0M34 32h0M42 32h0M30 37h1M49 39h0M34 44h0M39 44h0M45 44h0" stroke="#1c1cff"/><path d="M33 1h0M30 2h0M34 3h0M43 3h0M18 9h0M54 15h0M18 17h0M20 18h0M51 19h0M25 22h0M51 22h0M23 26h0M52 27h0M50 30h0M49 33h0M19 36h0M24 36h0M50 36h0M51 39h0M8 43h0M42 47h0M45 47h0M44 50h0" stroke="#3131ff"/><path d="M45 8h1M36 9h0M30 10h0M32 11h0M45 13h0M32 15h0M47 16h0M46 17h0M20 21h0M19 23h0M44 23h0M33 24h0M48 24h0M32 25h0M25 26h0M35 26h0M28 29h0M30 30h0M47 31h0M18 38h0M41 41h0M28 42h0M45 42h0M27 43h0M43 43h0" stroke="#0202ff"/><path d="M42 6h0M24 7h0M39 7h0M34 9h0M18 11h0M30 13h0M49 15h0M29 16h0M33 17h0M49 19h0M20 20h0M25 24h0M31 24h0M32 26h0M40 26h0M20 28h0M39 31h0M18 34h0M38 35h0M39 36h0M37 37h0M40 37h0M40 38h0M49 38h0M45 40h0M24 43h0M42 43h0M45 43h0M40 44h0" stroke="#1111ff"/><path d="M18 7h1M27 8h0M47 10h0M49 10h0M51 11h0M48 12h0M51 12h0M18 14h0M23 17h0M27 18h0M29 19h0M23 22h0M48 27h0M18 28h0M25 30h0M25 31h0M22 32h0M29 32h0M41 32h0M26 33h0M30 33h0M37 34h0M32 37h0M47 40h0M47 42h0M22 43h0M36 44h0M42 45h0" stroke="#2626ff"/><path d="M38 2h0M37 3h0M39 5h0M41 6h0M46 7h0M44 8h0M21 12h0M31 12h0M49 14h0M25 15h0M22 16h0M49 16h0M23 21h0M27 23h0M46 23h0M48 23h0M37 25h0M37 26h0M34 27h0M19 28h0M32 29h0M37 29h0M20 30h0M48 30h0M38 31h0M19 34h0M21 34h0M21 35h0M19 43h0M26 44h0M44 44h0" stroke="#1717ff"/><path d="M29 6h0M28 13h0M27 14h0M50 17h0M30 20h0M19 31h0M28 31h0M35 34h0M27 36h0M21 44h0" stroke="#2b2bff"/><path d="M17 44h0" stroke="#1212ff"/><path d="M12 40h0" stroke="#0030ff"/><path d="M11 37h0" stroke="#2a2aff"/><path d="M14 38h0" stroke="#00eea3"/><path d="M16 42h0" stroke="#0075ff"/><path d="M16 40h0" stroke="#00d3ff"/><path d="M13 37h0" stroke="#0036ff"/><path d="M12 39h0" stroke="#0003ff"/><path d="M12 41h0" stroke="#0043ff"/><path d="M12 42h0" stroke="#0020ff"/><path d="M13 9h0" stroke="#0006ff"/><path d="M13 10h0" stroke="#0012ff"/><path d="M13 11h0" stroke="#0018ff"/><path d="M13 12h0" stroke="#001aff"/><path d="M13 13h0M13 14h0M13 15h0M13 16h0M13 17h0M13 18h0M13 19h0M13 20h0M13 21h0M13 22h0M13 23h0M13 24h0M13 25h0M13 26h0M13 27h0M13 28h0M13 29h0M13 30h0M13 31h0M13 32h0M13 33h0" stroke="#001bff"/><path d="M13 34h0" stroke="#001cff"/><path d="M13 35h0" stroke="#001eff"/><path d="M13 36h0" stroke="#0024ff"/><path d="M13 38h0" stroke="#005dff"/><path d="M13 39h0" stroke="#00a3ff"/><path d="M13 40h0" stroke="#00eda8"/><path d="M13 41h0" stroke="#0eff4a"/><path d="M13 42h0" stroke="#00e2df"/><path d="M13 43h0" stroke="#0052ff"/><path d="M14 6h0" stroke="#0014ff"/><path d="M14 7h0" stroke="#0051ff"/><path d="M14 8h0" stroke="#0082ff"/><path d="M14 9h0" stroke="#00a6ff"/><path d="M14 10h0" stroke="#00c0ff"/><path d="M14 11h0" stroke="#00cfff"/><path d="M14 12h0" stroke="#00d4ff"/><path d="M14 13h0M14 14h0M14 15h0M14 16h0M14 17h0M14 18h0M14 19h0M14 20h0M14 21h0M14 22h0M14 23h0M14 24h0M14 25h0M14 26h0M14 27h0M14 28h0M14 29h0M14 30h0M14 31h0M14 32h0M14 33h0" stroke="#00d6ff"/><path d="M14 34h0" stroke="#00d7ff"/><path d="M14 35h0" stroke="#00d9ff"/><path d="M14 36h0" stroke="#00ddf8"/><path d="M14 37h0" stroke="#00e2dd"/><path d="M14 39h0" stroke="#4fff30"/><path d="M14 40h0" stroke="#ff9900"/><path d="M14 41h0" stroke="#f00000"/><path d="M14 42h0" stroke="#cef800"/><path d="M14 43h0" stroke="#00a5ff"/><path d="M15 6h0" stroke="#003eff"/><path d="M15 7h0" stroke="#0087ff"/><path d="M15 8h0" stroke="#00bfff"/><path d="M15 9h0" stroke="#00e2dc"/><path d="M15 10h0" stroke="#00ef9f"/><path d="M15 11h0" stroke="#00f67c"/><path d="M15 12h0" stroke="#00f86e"/><path d="M15 13h0" stroke="#00f96b"/><path d="M15 14h0M15 15h0M15 16h0M15 17h0M15 18h0M15 19h0M15 20h0M15 21h0M15 22h0M15 23h0M15 24h0M15 25h0M15 26h0M15 27h0M15 28h0M15 29h0M15 30h0M15 31h0M15 32h0M15 33h0" stroke="#00f96a"/><path d="M15 34h0" stroke="#00f969"/><path d="M15 35h0" stroke="#00fa66"/><path d="M15 36h0" stroke="#00fc5c"/><path d="M15 37h0" stroke="#0cff4a"/><path d="M15 38h0" stroke="#40ff36"/><path d="M15 39h0" stroke="#a5ff0d"/><path d="M15 40h0" stroke="#f2d400"/><path d="M15 41h0" stroke="#f9cd00"/><path d="M15 42h0" stroke="#0bff4b"/><path d="M15 43h0" stroke="#007dff"/><path d="M16 7h0" stroke="#0026ff"/><path d="M16 8h0" stroke="#0050ff"/><path d="M16 9h0" stroke="#0073ff"/><path d="M16 10h0" stroke="#0088ff"/><path d="M16 11h0" stroke="#0094ff"/><path d="M16 12h0" stroke="#0099ff"/><path d="M16 13h0M16 14h0M16 15h0M16 16h0M16 17h0M16 18h0M16 19h0M16 20h0M16 21h0M16 22h0M16 23h0M16 24h0M16 25h0M16 26h0M16 27h0M16 28h0M16 29h0M16 30h0M16 31h0M16 32h0M16 33h0M16 34h0" stroke="#009aff"/><path d="M16 35h0" stroke="#009cff"/><path d="M16 36h0" stroke="#00a0ff"/><path d="M16 37h0" stroke="#00a9ff"/><path d="M16 38h0" stroke="#00b8ff"/><path d="M16 39h0" stroke="#00c8ff"/><path d="M16 41h0" stroke="#00bdff"/><path d="M16 43h0" stroke="#000dff"/><path d="M17 40h0" stroke="#0008ff"/></g>
<text x="214.1" y="83.9" font-size="5.35" text-anchor="end">47.5%</text>
<rect x="241.7" y="31.5" width="55" height="55" fill="none" stroke="#cdcdcd" stroke-width="0.7"/>
<line x1="242.5" y1="32.2" x2="264.3" y2="32.2" stroke="#8f8f8f" stroke-width="0.5"/>
<line x1="287.3" y1="32.2" x2="293.2" y2="32.2" stroke="#8f8f8f" stroke-width="0.5"/>
<line x1="242.5" y1="32.2" x2="242.5" y2="78.6" stroke="#8f8f8f" stroke-width="0.5"/>
<line x1="259.4" y1="78.6" x2="259.4" y2="83.2" stroke="#8f8f8f" stroke-width="0.5"/>
<line x1="259.4" y1="83.2" x2="293.2" y2="83.2" stroke="#8f8f8f" stroke-width="0.5"/>
<line x1="240.4" y1="37" x2="241.7" y2="37" stroke="#777" stroke-width="0.4"/>
<line x1="240.4" y1="50" x2="241.7" y2="50" stroke="#777" stroke-width="0.4"/>
<line x1="240.4" y1="64.8" x2="241.7" y2="64.8" stroke="#777" stroke-width="0.4"/>
<line x1="240.4" y1="74" x2="241.7" y2="74" stroke="#777" stroke-width="0.4"/>
<line x1="240.4" y1="83.2" x2="241.7" y2="83.2" stroke="#777" stroke-width="0.4"/>
<line x1="247" y1="86.5" x2="247" y2="87.8" stroke="#777" stroke-width="0.4"/>
<line x1="255.3" y1="86.5" x2="255.3" y2="87.8" stroke="#777" stroke-width="0.4"/>
<line x1="264.4" y1="86.5" x2="264.4" y2="87.8" stroke="#777" stroke-width="0.4"/>
<line x1="279.2" y1="86.5" x2="279.2" y2="87.8" stroke="#777" stroke-width="0.4"/>
<line x1="294" y1="86.5" x2="294" y2="87.8" stroke="#777" stroke-width="0.4"/>
<line x1="241" y1="34.5" x2="241.7" y2="34.5" stroke="#aaa" stroke-width="0.3"/>
<line x1="241" y1="37.5" x2="241.7" y2="37.5" stroke="#aaa" stroke-width="0.3"/>
<line x1="241" y1="40.5" x2="241.7" y2="40.5" stroke="#aaa" stroke-width="0.3"/>
<line x1="241" y1="43.5" x2="241.7" y2="43.5" stroke="#aaa" stroke-width="0.3"/>
<line x1="241" y1="46.5" x2="241.7" y2="46.5" stroke="#aaa" stroke-width="0.3"/>
<line x1="241" y1="49.5" x2="241.7" y2="49.5" stroke="#aaa" stroke-width="0.3"/>
<line x1="241" y1="52.5" x2="241.7" y2="52.5" stroke="#aaa" stroke-width="0.3"/>
<line x1="241" y1="55.5" x2="241.7" y2="55.5" stroke="#aaa" stroke-width="0.3"/>
<line x1="241" y1="58.5" x2="241.7" y2="58.5" stroke="#aaa" stroke-width="0.3"/>
<line x1="241" y1="61.5" x2="241.7" y2="61.5" stroke="#aaa" stroke-width="0.3"/>
<line x1="241" y1="64.5" x2="241.7" y2="64.5" stroke="#aaa" stroke-width="0.3"/>
<line x1="241" y1="67.5" x2="241.7" y2="67.5" stroke="#aaa" stroke-width="0.3"/>
<line x1="241" y1="70.5" x2="241.7" y2="70.5" stroke="#aaa" stroke-width="0.3"/>
<line x1="241" y1="73.5" x2="241.7" y2="73.5" stroke="#aaa" stroke-width="0.3"/>
<line x1="241" y1="76.5" x2="241.7" y2="76.5" stroke="#aaa" stroke-width="0.3"/>
<line x1="241" y1="79.5" x2="241.7" y2="79.5" stroke="#aaa" stroke-width="0.3"/>
<line x1="241" y1="82.5" x2="241.7" y2="82.5" stroke="#aaa" stroke-width="0.3"/>
<line x1="244.7" y1="86.5" x2="244.7" y2="87.2" stroke="#aaa" stroke-width="0.3"/>
<line x1="247.7" y1="86.5" x2="247.7" y2="87.2" stroke="#aaa" stroke-width="0.3"/>
<line x1="250.7" y1="86.5" x2="250.7" y2="87.2" stroke="#aaa" stroke-width="0.3"/>
<line x1="253.7" y1="86.5" x2="253.7" y2="87.2" stroke="#aaa" stroke-width="0.3"/>
<line x1="256.7" y1="86.5" x2="256.7" y2="87.2" stroke="#aaa" stroke-width="0.3"/>
<line x1="259.7" y1="86.5" x2="259.7" y2="87.2" stroke="#aaa" stroke-width="0.3"/>
<line x1="262.7" y1="86.5" x2="262.7" y2="87.2" stroke="#aaa" stroke-width="0.3"/>
<line x1="265.7" y1="86.5" x2="265.7" y2="87.2" stroke="#aaa" stroke-width="0.3"/>
<line x1="268.7" y1="86.5" x2="268.7" y2="87.2" stroke="#aaa" stroke-width="0.3"/>
<line x1="271.7" y1="86.5" x2="271.7" y2="87.2" stroke="#aaa" stroke-width="0.3"/>
<line x1="274.7" y1="86.5" x2="274.7" y2="87.2" stroke="#aaa" stroke-width="0.3"/>
<line x1="277.7" y1="86.5" x2="277.7" y2="87.2" stroke="#aaa" stroke-width="0.3"/>
<line x1="280.7" y1="86.5" x2="280.7" y2="87.2" stroke="#aaa" stroke-width="0.3"/>
<line x1="283.7" y1="86.5" x2="283.7" y2="87.2" stroke="#aaa" stroke-width="0.3"/>
<line x1="286.7" y1="86.5" x2="286.7" y2="87.2" stroke="#aaa" stroke-width="0.3"/>
<line x1="289.7" y1="86.5" x2="289.7" y2="87.2" stroke="#aaa" stroke-width="0.3"/>
<line x1="292.7" y1="86.5" x2="292.7" y2="87.2" stroke="#aaa" stroke-width="0.3"/>
<rect x="240.1" y="73.1" width="1.2" height="1.8" fill="#222" stroke="none" stroke-width="1"/>
<rect x="252.8" y="86.8" width="1.8" height="1.2" fill="#222" stroke="none" stroke-width="1"/>
<text x="239.5" y="37.9" font-size="2.3" text-anchor="end" fill="#777">10⁵</text>
<text x="239.5" y="50.9" font-size="2.3" text-anchor="end" fill="#777">10⁴</text>
<text x="239.5" y="65.7" font-size="2.3" text-anchor="end" fill="#777">10³</text>
<text x="239.5" y="74.9" font-size="2.3" text-anchor="end" fill="#777">0</text>
<text x="239.5" y="84.1" font-size="2.3" text-anchor="end" fill="#777">-10³</text>
<text x="247" y="90.7" font-size="2.3" text-anchor="middle" fill="#777">-10³</text>
<text x="255.3" y="90.7" font-size="2.3" text-anchor="middle" fill="#777">0</text>
<text x="264.4" y="90.7" font-size="2.3" text-anchor="middle" fill="#777">10³</text>
<text x="279.2" y="90.7" font-size="2.3" text-anchor="middle" fill="#777">10⁴</text>
<text x="294" y="90.7" font-size="2.3" text-anchor="middle" fill="#777">10⁵</text>
<g transform="translate(241.5 31.5)" stroke-width="1" stroke-linecap="square"><path d="M12 41h0" stroke="#00e0e9"/><path d="M16 38h0" stroke="#000dff"/><path d="M13 34h3M12 35h5M11 36h7M11 37h1M16 37h3M10 38h1M17 38h2M10 39h1M17 39h2M10 40h1M17 40h2M10 41h0M17 41h2M10 42h1M17 42h2M11 43h0M17 43h2M11 44h0M17 44h2M11 45h1M16 45h2M12 46h4M13 47h2" stroke="#0000ff"/><path d="M13 42h0" stroke="#ff7700"/><path d="M16 44h0" stroke="#0002ff"/><path d="M14 39h0" stroke="#00e3d9"/><path d="M21 42h0M14 49h0" stroke="#2020ff"/><path d="M15 43h0" stroke="#0074ff"/><path d="M13 32h0M20 35h0" stroke="#2a2aff"/><path d="M14 37h0" stroke="#002eff"/><path d="M14 45h0" stroke="#002cff"/><path d="M16 32h0M21 37h0" stroke="#2828ff"/><path d="M15 37h0" stroke="#0013ff"/><path d="M14 38h0" stroke="#0083ff"/><path d="M23 12h0M31 12h0M18 14h0M16 22h0M17 27h0M11 28h0M28 28h0M19 29h0M26 32h0" stroke="#4141ff"/><path d="M21 16h0M20 17h0M28 18h0M30 18h0M25 22h0M16 25h0M30 32h0M8 34h0M25 44h0M28 44h0" stroke="#3f3fff"/><path d="M21 25h1M28 25h0M25 30h0M11 32h0M10 33h0M27 35h0M24 41h0M25 42h0" stroke="#3737ff"/><path d="M13 33h0M21 41h0" stroke="#1717ff"/><path d="M29 19h0M21 22h0M27 22h0M13 30h0M17 30h0M26 36h0M30 36h0M28 40h0" stroke="#3b3bff"/><path d="M13 37h0" stroke="#0027ff"/><path d="M20 37h0M20 42h0" stroke="#0a0aff"/><path d="M19 36h0M10 37h0M20 38h0M19 45h0" stroke="#0c0cff"/><path d="M19 35h0" stroke="#1a1aff"/><path d="M15 42h0" stroke="#009aff"/><path d="M22 39h0M20 45h0" stroke="#2121ff"/><path d="M14 40h0" stroke="#6fff23"/><path d="M12 38h0" stroke="#0029ff"/><path d="M12 39h0" stroke="#0077ff"/><path d="M16 43h0" stroke="#001eff"/><path d="M14 43h0" stroke="#00eea1"/><path d="M16 40h0" stroke="#0037ff"/><path d="M15 41h0" stroke="#00a9ff"/><path d="M18 34h0" stroke="#1919ff"/><path d="M13 38h0" stroke="#008bff"/><path d="M14 33h1M21 40h0" stroke="#1111ff"/><path d="M14 42h0" stroke="#b6ff07"/><path d="M13 40h0" stroke="#f6d000"/><path d="M15 38h0" stroke="#0042ff"/><path d="M18 35h0M20 40h0M20 41h0M15 48h0" stroke="#0707ff"/><path d="M22 23h0M28 23h0M28 24h0M14 31h1M22 37h0M24 38h0M23 40h0M18 49h0" stroke="#3232ff"/><path d="M15 44h0" stroke="#003bff"/><path d="M12 33h0M22 41h0" stroke="#2323ff"/><path d="M30 15h0M30 16h0M31 20h0M19 21h0M24 21h0M17 24h0M20 24h0M24 25h0M31 25h0M33 25h0M33 26h0M14 29h0M17 29h0M28 30h0M22 31h0M28 31h0M23 32h0M26 38h0M30 40h0M27 42h0" stroke="#3e3eff"/><path d="M15 39h0" stroke="#0075ff"/><path d="M12 40h0" stroke="#00bfff"/><path d="M13 31h0" stroke="#3535ff"/><path d="M13 39h0" stroke="#00f389"/><path d="M20 39h0" stroke="#0909ff"/><path d="M19 34h0M22 42h0" stroke="#2626ff"/><path d="M12 43h0" stroke="#0088ff"/><path d="M23 29h1M18 32h0" stroke="#3030ff"/><path d="M15 32h0" stroke="#2525ff"/><path d="M23 38h0" stroke="#2929ff"/><path d="M16 41h0" stroke="#003cff"/><path d="M27 13h0M29 20h0M30 21h0M28 22h0M19 27h0M21 34h0M29 34h0M25 41h0M29 41h0M24 43h0" stroke="#3939ff"/><path d="M23 39h0M23 42h0" stroke="#2d2dff"/><path d="M28 20h0M20 21h0M30 23h0M24 24h0M22 28h0M24 31h0M21 33h0M29 33h0M26 34h0M22 35h0M25 36h0M25 39h0M27 43h0" stroke="#3d3dff"/><path d="M21 36h0M22 38h0" stroke="#2c2cff"/><path d="M17 34h0" stroke="#0b0bff"/><path d="M16 39h0" stroke="#0026ff"/><path d="M21 39h0" stroke="#1414ff"/><path d="M20 36h0" stroke="#1818ff"/><path d="M16 42h0" stroke="#0033ff"/><path d="M25 29h0M20 34h0M23 37h0" stroke="#3131ff"/><path d="M28 13h0M27 15h0M24 17h0M18 25h0M30 25h0M28 26h1M26 30h0M27 39h1" stroke="#3c3cff"/><path d="M20 26h0M19 32h0M28 35h1M22 43h0" stroke="#3333ff"/><path d="M22 40h0" stroke="#1e1eff"/><path d="M21 44h0" stroke="#2b2bff"/><path d="M22 24h0M29 24h0M19 26h0M26 28h0M29 36h0" stroke="#3434ff"/><path d="M23 22h0M27 23h0M19 25h0M20 27h0M24 28h0M26 35h0" stroke="#3838ff"/><path d="M27 14h0M22 22h0M23 23h0M29 23h0M23 30h0" stroke="#3636ff"/><path d="M18 31h0" stroke="#2e2eff"/><path d="M15 30h0" stroke="#3a3aff"/><path d="M11 41h0" stroke="#0004ff"/><path d="M11 46h0" stroke="#0202ff"/><path d="M12 42h0" stroke="#00d0ff"/><path d="M12 44h0" stroke="#0032ff"/><path d="M13 41h0" stroke="#f00000"/><path d="M13 43h0" stroke="#35ff3a"/><path d="M13 44h0" stroke="#00a8ff"/><path d="M13 45h0" stroke="#002dff"/><path d="M14 41h0" stroke="#e1e500"/><path d="M14 44h0" stroke="#0091ff"/><path d="M14 48h0" stroke="#0303ff"/><path d="M15 40h0" stroke="#0099ff"/><path d="M15 45h0" stroke="#0008ff"/><path d="M17 48h0" stroke="#1c1cff"/></g>
<text x="291" y="81.5" font-size="5.35" text-anchor="end">0.62%</text>
<rect x="31.5" y="93.3" width="55" height="55" fill="none" stroke="#cdcdcd" stroke-width="0.7"/>
<line x1="33.4" y1="96" x2="37.1" y2="96" stroke="#8f8f8f" stroke-width="0.5"/>
<line x1="60.2" y1="96" x2="84.5" y2="96" stroke="#8f8f8f" stroke-width="0.5"/>
<line x1="33.4" y1="96" x2="33.4" y2="126.9" stroke="#8f8f8f" stroke-width="0.5"/>
<line x1="33.4" y1="126.9" x2="50" y2="126.9" stroke="#8f8f8f" stroke-width="0.5"/>
<line x1="50" y1="126.9" x2="50" y2="146.1" stroke="#8f8f8f" stroke-width="0.5"/>
<line x1="50" y1="146.1" x2="84.5" y2="146.1" stroke="#8f8f8f" stroke-width="0.5"/>
<line x1="84.5" y1="96" x2="84.5" y2="146.1" stroke="#8f8f8f" stroke-width="0.5"/>
<line x1="30.2" y1="98.8" x2="31.5" y2="98.8" stroke="#777" stroke-width="0.4"/>
<line x1="30.2" y1="111.8" x2="31.5" y2="111.8" stroke="#777" stroke-width="0.4"/>
<line x1="30.2" y1="126.6" x2="31.5" y2="126.6" stroke="#777" stroke-width="0.4"/>
<line x1="30.2" y1="135.8" x2="31.5" y2="135.8" stroke="#777" stroke-width="0.4"/>
<line x1="30.2" y1="145" x2="31.5" y2="145" stroke="#777" stroke-width="0.4"/>
<line x1="36.8" y1="148.3" x2="36.8" y2="149.6" stroke="#777" stroke-width="0.4"/>
<line x1="45.1" y1="148.3" x2="45.1" y2="149.6" stroke="#777" stroke-width="0.4"/>
<line x1="54.2" y1="148.3" x2="54.2" y2="149.6" stroke="#777" stroke-width="0.4"/>
<line x1="69" y1="148.3" x2="69" y2="149.6" stroke="#777" stroke-width="0.4"/>
<line x1="83.8" y1="148.3" x2="83.8" y2="149.6" stroke="#777" stroke-width="0.4"/>
<line x1="30.8" y1="96.3" x2="31.5" y2="96.3" stroke="#aaa" stroke-width="0.3"/>
<line x1="30.8" y1="99.3" x2="31.5" y2="99.3" stroke="#aaa" stroke-width="0.3"/>
<line x1="30.8" y1="102.3" x2="31.5" y2="102.3" stroke="#aaa" stroke-width="0.3"/>
<line x1="30.8" y1="105.3" x2="31.5" y2="105.3" stroke="#aaa" stroke-width="0.3"/>
<line x1="30.8" y1="108.3" x2="31.5" y2="108.3" stroke="#aaa" stroke-width="0.3"/>
<line x1="30.8" y1="111.3" x2="31.5" y2="111.3" stroke="#aaa" stroke-width="0.3"/>
<line x1="30.8" y1="114.3" x2="31.5" y2="114.3" stroke="#aaa" stroke-width="0.3"/>
<line x1="30.8" y1="117.3" x2="31.5" y2="117.3" stroke="#aaa" stroke-width="0.3"/>
<line x1="30.8" y1="120.3" x2="31.5" y2="120.3" stroke="#aaa" stroke-width="0.3"/>
<line x1="30.8" y1="123.3" x2="31.5" y2="123.3" stroke="#aaa" stroke-width="0.3"/>
<line x1="30.8" y1="126.3" x2="31.5" y2="126.3" stroke="#aaa" stroke-width="0.3"/>
<line x1="30.8" y1="129.3" x2="31.5" y2="129.3" stroke="#aaa" stroke-width="0.3"/>
<line x1="30.8" y1="132.3" x2="31.5" y2="132.3" stroke="#aaa" stroke-width="0.3"/>
<line x1="30.8" y1="135.3" x2="31.5" y2="135.3" stroke="#aaa" stroke-width="0.3"/>
<line x1="30.8" y1="138.3" x2="31.5" y2="138.3" stroke="#aaa" stroke-width="0.3"/>
<line x1="30.8" y1="141.3" x2="31.5" y2="141.3" stroke="#aaa" stroke-width="0.3"/>
<line x1="30.8" y1="144.3" x2="31.5" y2="144.3" stroke="#aaa" stroke-width="0.3"/>
<line x1="34.5" y1="148.3" x2="34.5" y2="149" stroke="#aaa" stroke-width="0.3"/>
<line x1="37.5" y1="148.3" x2="37.5" y2="149" stroke="#aaa" stroke-width="0.3"/>
<line x1="40.5" y1="148.3" x2="40.5" y2="149" stroke="#aaa" stroke-width="0.3"/>
<line x1="43.5" y1="148.3" x2="43.5" y2="149" stroke="#aaa" stroke-width="0.3"/>
<line x1="46.5" y1="148.3" x2="46.5" y2="149" stroke="#aaa" stroke-width="0.3"/>
<line x1="49.5" y1="148.3" x2="49.5" y2="149" stroke="#aaa" stroke-width="0.3"/>
<line x1="52.5" y1="148.3" x2="52.5" y2="149" stroke="#aaa" stroke-width="0.3"/>
<line x1="55.5" y1="148.3" x2="55.5" y2="149" stroke="#aaa" stroke-width="0.3"/>
<line x1="58.5" y1="148.3" x2="58.5" y2="149" stroke="#aaa" stroke-width="0.3"/>
<line x1="61.5" y1="148.3" x2="61.5" y2="149" stroke="#aaa" stroke-width="0.3"/>
<line x1="64.5" y1="148.3" x2="64.5" y2="149" stroke="#aaa" stroke-width="0.3"/>
<line x1="67.5" y1="148.3" x2="67.5" y2="149" stroke="#aaa" stroke-width="0.3"/>
<line x1="70.5" y1="148.3" x2="70.5" y2="149" stroke="#aaa" stroke-width="0.3"/>
<line x1="73.5" y1="148.3" x2="73.5" y2="149" stroke="#aaa" stroke-width="0.3"/>
<line x1="76.5" y1="148.3" x2="76.5" y2="149" stroke="#aaa" stroke-width="0.3"/>
<line x1="79.5" y1="148.3" x2="79.5" y2="149" stroke="#aaa" stroke-width="0.3"/>
<line x1="82.5" y1="148.3" x2="82.5" y2="149" stroke="#aaa" stroke-width="0.3"/>
<rect x="29.9" y="134.9" width="1.2" height="1.8" fill="#222" stroke="none" stroke-width="1"/>
<rect x="42.6" y="148.6" width="1.8" height="1.2" fill="#222" stroke="none" stroke-width="1"/>
<text x="29.3" y="99.7" font-size="2.3" text-anchor="end" fill="#777">10⁵</text>
<text x="29.3" y="112.7" font-size="2.3" text-anchor="end" fill="#777">10⁴</text>
<text x="29.3" y="127.5" font-size="2.3" text-anchor="end" fill="#777">10³</text>
<text x="29.3" y="136.7" font-size="2.3" text-anchor="end" fill="#777">0</text>
<text x="29.3" y="145.9" font-size="2.3" text-anchor="end" fill="#777">-10³</text>
<text x="36.8" y="152.5" font-size="2.3" text-anchor="middle" fill="#777">-10³</text>
<text x="45.1" y="152.5" font-size="2.3" text-anchor="middle" fill="#777">0</text>
<text x="54.2" y="152.5" font-size="2.3" text-anchor="middle" fill="#777">10³</text>
<text x="69" y="152.5" font-size="2.3" text-anchor="middle" fill="#777">10⁴</text>
<text x="83.8" y="152.5" font-size="2.3" text-anchor="middle" fill="#777">10⁵</text>
<g transform="translate(31.5 93.5)" stroke-width="1" stroke-linecap="square"><path d="M13 38h0M15 38h0M11 42h0" stroke="#0002ff"/><path d="M14 36h2M12 37h5M11 38h1M16 38h2M10 39h1M17 39h1M10 40h1M17 40h2M10 41h1M17 41h2M10 42h0M17 42h1M10 43h1M17 43h2M10 44h1M17 44h2M11 45h1M16 45h2M11 46h6M12 47h3M14 48h0" stroke="#0000ff"/><path d="M14 41h0" stroke="#f8ce00"/><path d="M15 41h0" stroke="#00ecab"/><path d="M15 40h0" stroke="#009bff"/><path d="M16 42h0" stroke="#0065ff"/><path d="M14 43h0" stroke="#d1f500"/><path d="M17 25h0M17 32h0M18 34h0M20 36h0M24 44h0M21 45h0" stroke="#3838ff"/><path d="M13 39h0" stroke="#0048ff"/><path d="M17 28h0M12 29h0M12 30h0M20 30h0M19 32h0" stroke="#3c3cff"/><path d="M13 44h0" stroke="#0097ff"/><path d="M10 45h0M15 48h0" stroke="#0404ff"/><path d="M14 42h0" stroke="#f00000"/><path d="M16 31h0M13 33h0M21 35h0M24 41h0M22 46h0" stroke="#3535ff"/><path d="M16 40h0" stroke="#0032ff"/><path d="M16 44h0" stroke="#0020ff"/><path d="M12 40h0" stroke="#0041ff"/><path d="M17 26h0M17 31h0M16 33h0M21 36h0M20 46h0" stroke="#3636ff"/><path d="M14 38h0" stroke="#000eff"/><path d="M12 39h0" stroke="#000bff"/><path d="M12 41h0M15 44h0" stroke="#007cff"/><path d="M13 40h0" stroke="#00beff"/><path d="M12 34h0" stroke="#2e2eff"/><path d="M10 35h0M8 44h0" stroke="#3434ff"/><path d="M12 43h0" stroke="#006eff"/><path d="M14 34h0" stroke="#2525ff"/><path d="M13 43h0" stroke="#00fd57"/><path d="M14 40h0" stroke="#00e5d0"/><path d="M18 46h0" stroke="#0e0eff"/><path d="M15 42h0" stroke="#00fd55"/><path d="M10 38h0" stroke="#0c0cff"/><path d="M14 39h0" stroke="#0063ff"/><path d="M24 43h0" stroke="#2b2bff"/><path d="M23 42h0M20 43h0" stroke="#1717ff"/><path d="M22 40h0" stroke="#2a2aff"/><path d="M20 40h0M19 42h0" stroke="#0606ff"/><path d="M20 39h0M22 41h0" stroke="#2121ff"/><path d="M19 45h0" stroke="#1a1aff"/><path d="M20 44h0" stroke="#1919ff"/><path d="M19 39h0" stroke="#1515ff"/><path d="M17 35h0M23 41h0" stroke="#2424ff"/><path d="M21 42h0" stroke="#2828ff"/><path d="M20 41h0" stroke="#0b0bff"/><path d="M23 43h0" stroke="#2727ff"/><path d="M21 40h0M17 48h0" stroke="#1f1fff"/><path d="M22 42h0" stroke="#2222ff"/><path d="M23 18h0M23 19h0M16 30h0M18 33h0M23 46h0" stroke="#3939ff"/><path d="M19 37h0" stroke="#2929ff"/><path d="M21 41h0" stroke="#1c1cff"/><path d="M30 5h0M41 5h0M32 11h0M22 16h0M31 16h0M33 17h0M36 17h0M30 18h0M26 20h0M22 21h0M34 21h0M20 24h0M23 25h0M31 26h0M12 27h0M22 27h0M24 27h0M22 29h0M5 33h0M23 36h0M23 38h0" stroke="#3f3fff"/><path d="M24 17h0M18 24h0M19 27h0M27 28h0M26 29h0M18 30h0" stroke="#3e3eff"/><path d="M14 33h0" stroke="#3333ff"/><path d="M22 19h0M18 28h0M15 31h0M20 31h0" stroke="#3b3bff"/><path d="M16 35h0" stroke="#1818ff"/><path d="M12 42h0" stroke="#008fff"/><path d="M12 44h0" stroke="#002bff"/><path d="M13 41h0" stroke="#50ff2f"/><path d="M13 42h0" stroke="#d9ed00"/><path d="M13 45h0" stroke="#0026ff"/><path d="M14 44h0" stroke="#00c4ff"/><path d="M14 45h0" stroke="#003bff"/><path d="M15 39h0" stroke="#003fff"/><path d="M15 43h0" stroke="#00e2dc"/><path d="M15 45h0" stroke="#0021ff"/><path d="M16 39h0" stroke="#0009ff"/><path d="M16 41h0" stroke="#0058ff"/><path d="M16 43h0" stroke="#004bff"/></g>
<text x="81.9" y="145.7" font-size="5.35" text-anchor="end">0.27%</text>
<rect x="97.6" y="93.3" width="55" height="55" fill="none" stroke="#cdcdcd" stroke-width="0.7"/>
<line x1="98.7" y1="96" x2="103.2" y2="96" stroke="#8f8f8f" stroke-width="0.5"/>
<line x1="126.1" y1="96" x2="150.1" y2="96" stroke="#8f8f8f" stroke-width="0.5"/>
<line x1="98.7" y1="126.2" x2="115.5" y2="126.2" stroke="#8f8f8f" stroke-width="0.5"/>
<line x1="115.5" y1="126.2" x2="115.5" y2="145.1" stroke="#8f8f8f" stroke-width="0.5"/>
<line x1="115.5" y1="145.1" x2="150.1" y2="145.1" stroke="#8f8f8f" stroke-width="0.5"/>
<line x1="150.1" y1="96" x2="150.1" y2="145.1" stroke="#8f8f8f" stroke-width="0.5"/>
<line x1="96.3" y1="98.8" x2="97.6" y2="98.8" stroke="#777" stroke-width="0.4"/>
<line x1="96.3" y1="111.8" x2="97.6" y2="111.8" stroke="#777" stroke-width="0.4"/>
<line x1="96.3" y1="126.6" x2="97.6" y2="126.6" stroke="#777" stroke-width="0.4"/>
<line x1="96.3" y1="135.8" x2="97.6" y2="135.8" stroke="#777" stroke-width="0.4"/>
<line x1="96.3" y1="145" x2="97.6" y2="145" stroke="#777" stroke-width="0.4"/>
<line x1="102.9" y1="148.3" x2="102.9" y2="149.6" stroke="#777" stroke-width="0.4"/>
<line x1="111.2" y1="148.3" x2="111.2" y2="149.6" stroke="#777" stroke-width="0.4"/>
<line x1="120.3" y1="148.3" x2="120.3" y2="149.6" stroke="#777" stroke-width="0.4"/>
<line x1="135.1" y1="148.3" x2="135.1" y2="149.6" stroke="#777" stroke-width="0.4"/>
<line x1="149.9" y1="148.3" x2="149.9" y2="149.6" stroke="#777" stroke-width="0.4"/>
<line x1="96.9" y1="96.3" x2="97.6" y2="96.3" stroke="#aaa" stroke-width="0.3"/>
<line x1="96.9" y1="99.3" x2="97.6" y2="99.3" stroke="#aaa" stroke-width="0.3"/>
<line x1="96.9" y1="102.3" x2="97.6" y2="102.3" stroke="#aaa" stroke-width="0.3"/>
<line x1="96.9" y1="105.3" x2="97.6" y2="105.3" stroke="#aaa" stroke-width="0.3"/>
<line x1="96.9" y1="108.3" x2="97.6" y2="108.3" stroke="#aaa" stroke-width="0.3"/>
<line x1="96.9" y1="111.3" x2="97.6" y2="111.3" stroke="#aaa" stroke-width="0.3"/>
<line x1="96.9" y1="114.3" x2="97.6" y2="114.3" stroke="#aaa" stroke-width="0.3"/>
<line x1="96.9" y1="117.3" x2="97.6" y2="117.3" stroke="#aaa" stroke-width="0.3"/>
<line x1="96.9" y1="120.3" x2="97.6" y2="120.3" stroke="#aaa" stroke-width="0.3"/>
<line x1="96.9" y1="123.3" x2="97.6" y2="123.3" stroke="#aaa" stroke-width="0.3"/>
<line x1="96.9" y1="126.3" x2="97.6" y2="126.3" stroke="#aaa" stroke-width="0.3"/>
<line x1="96.9" y1="129.3" x2="97.6" y2="129.3" stroke="#aaa" stroke-width="0.3"/>
<line x1="96.9" y1="132.3" x2="97.6" y2="132.3" stroke="#aaa" stroke-width="0.3"/>
<line x1="96.9" y1="135.3" x2="97.6" y2="135.3" stroke="#aaa" stroke-width="0.3"/>
<line x1="96.9" y1="138.3" x2="97.6" y2="138.3" stroke="#aaa" stroke-width="0.3"/>
<line x1="96.9" y1="141.3" x2="97.6" y2="141.3" stroke="#aaa" stroke-width="0.3"/>
<line x1="96.9" y1="144.3" x2="97.6" y2="144.3" stroke="#aaa" stroke-width="0.3"/>
<line x1="100.6" y1="148.3" x2="100.6" y2="149" stroke="#aaa" stroke-width="0.3"/>
<line x1="103.6" y1="148.3" x2="103.6" y2="149" stroke="#aaa" stroke-width="0.3"/>
<line x1="106.6" y1="148.3" x2="106.6" y2="149" stroke="#aaa" stroke-width="0.3"/>
<line x1="109.6" y1="148.3" x2="109.6" y2="149" stroke="#aaa" stroke-width="0.3"/>
<line x1="112.6" y1="148.3" x2="112.6" y2="149" stroke="#aaa" stroke-width="0.3"/>
<line x1="115.6" y1="148.3" x2="115.6" y2="149" stroke="#aaa" stroke-width="0.3"/>
<line x1="118.6" y1="148.3" x2="118.6" y2="149" stroke="#aaa" stroke-width="0.3"/>
<line x1="121.6" y1="148.3" x2="121.6" y2="149" stroke="#aaa" stroke-width="0.3"/>
<line x1="124.6" y1="148.3" x2="124.6" y2="149" stroke="#aaa" stroke-width="0.3"/>
<line x1="127.6" y1="148.3" x2="127.6" y2="149" stroke="#aaa" stroke-width="0.3"/>
<line x1="130.6" y1="148.3" x2="130.6" y2="149" stroke="#aaa" stroke-width="0.3"/>
<line x1="133.6" y1="148.3" x2="133.6" y2="149" stroke="#aaa" stroke-width="0.3"/>
<line x1="136.6" y1="148.3" x2="136.6" y2="149" stroke="#aaa" stroke-width="0.3"/>
<line x1="139.6" y1="148.3" x2="139.6" y2="149" stroke="#aaa" stroke-width="0.3"/>
<line x1="142.6" y1="148.3" x2="142.6" y2="149" stroke="#aaa" stroke-width="0.3"/>
<line x1="145.6" y1="148.3" x2="145.6" y2="149" stroke="#aaa" stroke-width="0.3"/>
<line x1="148.6" y1="148.3" x2="148.6" y2="149" stroke="#aaa" stroke-width="0.3"/>
<rect x="96" y="134.9" width="1.2" height="1.8" fill="#222" stroke="none" stroke-width="1"/>
<rect x="108.7" y="148.6" width="1.8" height="1.2" fill="#222" stroke="none" stroke-width="1"/>
<text x="95.4" y="99.7" font-size="2.3" text-anchor="end" fill="#777">10⁵</text>
<text x="95.4" y="112.7" font-size="2.3" text-anchor="end" fill="#777">10⁴</text>
<text x="95.4" y="127.5" font-size="2.3" text-anchor="end" fill="#777">10³</text>
<text x="95.4" y="136.7" font-size="2.3" text-anchor="end" fill="#777">0</text>
<text x="95.4" y="145.9" font-size="2.3" text-anchor="end" fill="#777">-10³</text>
<text x="102.9" y="152.5" font-size="2.3" text-anchor="middle" fill="#777">-10³</text>
<text x="111.2" y="152.5" font-size="2.3" text-anchor="middle" fill="#777">0</text>
<text x="120.3" y="152.5" font-size="2.3" text-anchor="middle" fill="#777">10³</text>
<text x="135.1" y="152.5" font-size="2.3" text-anchor="middle" fill="#777">10⁴</text>
<text x="149.9" y="152.5" font-size="2.3" text-anchor="middle" fill="#777">10⁵</text>
<g transform="translate(97.5 93.5)" stroke-width="1" stroke-linecap="square"><path d="M13 40h0" stroke="#007dff"/><path d="M14 41h0" stroke="#f9cd00"/><path d="M13 36h3M13 37h4M12 38h1M16 38h2M11 39h1M17 39h2M11 40h0M18 40h1M11 41h0M18 41h3M11 42h0M18 42h1M11 43h0M18 43h1M11 44h1M18 44h0M11 45h1M17 45h1M12 46h5M13 47h4" stroke="#0000ff"/><path d="M16 42h0" stroke="#00ddf6"/><path d="M15 44h0" stroke="#00baff"/><path d="M16 41h0M13 43h0M14 44h0" stroke="#00c2ff"/><path d="M18 47h0" stroke="#1313ff"/><path d="M17 41h0M12 42h0" stroke="#0034ff"/><path d="M15 42h0" stroke="#ff5b00"/><path d="M21 42h0" stroke="#0a0aff"/><path d="M44 15h0M38 18h0M36 19h0M34 21h1M47 23h0M40 24h0M47 27h0M38 33h0M24 34h0M28 34h0M37 34h0M26 35h0M26 36h0M8 38h0M24 44h0" stroke="#3d3dff"/><path d="M47 13h0M46 14h0M39 17h0M36 20h0M39 26h0M38 27h0M36 28h0M48 28h0M45 30h0M19 31h0M31 32h1M31 33h0M36 33h1M24 36h0M21 37h0M47 38h0M30 43h0M20 48h0" stroke="#3a3aff"/><path d="M46 12h0M42 13h0M41 14h0M35 17h0M34 18h0M40 20h0M48 20h0M31 24h0M31 26h0M45 26h0M24 29h0M41 29h0M43 29h0M27 30h0M40 30h0M16 31h0M22 31h0M21 32h0M24 32h0M44 35h0M48 35h0M41 36h0" stroke="#4141ff"/><path d="M14 39h1" stroke="#0060ff"/><path d="M12 43h0" stroke="#0021ff"/><path d="M15 40h0" stroke="#00e1e4"/><path d="M19 38h0M21 40h0M24 40h0M10 44h0" stroke="#0d0dff"/><path d="M17 42h0" stroke="#003bff"/><path d="M17 40h0" stroke="#001aff"/><path d="M12 41h0" stroke="#002bff"/><path d="M15 38h0M13 45h0" stroke="#000cff"/><path d="M16 45h0" stroke="#0011ff"/><path d="M16 40h0" stroke="#0079ff"/><path d="M13 42h0" stroke="#00e9bc"/><path d="M27 41h0M21 43h0" stroke="#1b1bff"/><path d="M12 40h0" stroke="#000eff"/><path d="M16 39h0" stroke="#002dff"/><path d="M17 36h0M22 40h1" stroke="#0505ff"/><path d="M12 35h0M27 42h0" stroke="#2626ff"/><path d="M23 42h0" stroke="#2020ff"/><path d="M28 44h0" stroke="#3838ff"/><path d="M21 39h0M33 40h0M33 41h0M35 41h0M36 42h0M23 43h0" stroke="#2b2bff"/><path d="M31 40h0M31 41h0M34 42h0M22 44h0" stroke="#3333ff"/><path d="M44 22h0M34 25h0M36 29h0M19 30h0M24 35h1M46 38h0M29 44h0" stroke="#3939ff"/><path d="M23 39h0M24 41h0M20 43h0" stroke="#1616ff"/><path d="M23 41h0" stroke="#1010ff"/><path d="M39 27h0M35 39h0M31 42h0M27 43h0M33 43h0M23 44h0" stroke="#3636ff"/><path d="M28 40h0M36 41h0M22 43h0" stroke="#2525ff"/><path d="M29 40h0M29 42h0" stroke="#2727ff"/><path d="M25 39h0" stroke="#3131ff"/><path d="M43 22h0M27 39h0M36 43h1" stroke="#3535ff"/><path d="M29 39h0M30 40h0M25 42h0" stroke="#3030ff"/><path d="M26 41h0" stroke="#2424ff"/><path d="M26 40h0M35 40h1M34 41h0" stroke="#2e2eff"/><path d="M25 40h0M29 41h0" stroke="#2323ff"/><path d="M20 42h0M10 43h0" stroke="#0101ff"/><path d="M32 40h0" stroke="#2c2cff"/><path d="M37 41h0M30 42h0M32 42h0" stroke="#3232ff"/><path d="M22 41h0" stroke="#0808ff"/><path d="M20 40h0M12 47h0" stroke="#0606ff"/><path d="M20 39h0M28 42h0" stroke="#1f1fff"/><path d="M27 40h0M24 42h0" stroke="#2828ff"/><path d="M44 13h0M46 20h0M39 21h0M46 22h0M39 23h0M37 24h0M41 24h0M37 25h0M44 25h0M27 28h0M25 30h0M25 31h0M30 31h0M33 31h0M45 31h0M17 32h0M38 32h0M19 33h0M42 33h0M48 33h0M43 34h0M30 35h0M39 36h0M26 37h0M30 37h0M38 37h0M26 44h0M32 44h0" stroke="#3f3fff"/><path d="M48 13h0M35 24h0M38 26h0M45 29h0M31 31h1M23 36h0M32 36h0M22 37h0M27 38h0M29 38h0M34 38h0M46 39h0M26 43h0" stroke="#3b3bff"/><path d="M24 39h0" stroke="#1d1dff"/><path d="M34 39h0" stroke="#3434ff"/><path d="M45 14h0M43 23h0M35 25h0M32 39h0M32 43h0" stroke="#3737ff"/><path d="M33 42h0" stroke="#2d2dff"/><path d="M28 39h0M34 40h0M30 41h0M37 42h0M28 43h0" stroke="#2f2fff"/><path d="M28 41h0M22 42h0" stroke="#1919ff"/><path d="M17 43h0" stroke="#002aff"/><path d="M22 39h0" stroke="#1c1cff"/><path d="M25 41h0" stroke="#2222ff"/><path d="M24 14h0M34 15h0M31 17h0M47 17h0M22 19h0M20 20h0M42 20h0M44 20h0M15 21h0M29 21h0M18 22h0M21 22h0M33 23h0M16 25h0M42 27h0M22 28h0M33 29h0M47 30h0M45 33h0M36 36h0" stroke="#4242ff"/><path d="M47 14h0M40 16h0M38 17h0M33 20h0M35 20h0M37 21h0M42 22h0M25 25h0M35 26h0M40 27h0M39 28h0M44 30h0M32 33h0M25 34h0M30 34h1M28 35h0M33 35h0M35 38h0M47 39h0" stroke="#3c3cff"/><path d="M44 16h0M15 17h1M42 17h0M42 18h0M31 21h0M40 22h0M28 23h0M36 23h0M48 23h0M28 24h0M30 25h0M47 26h0M30 29h1M37 30h0M35 31h0M29 33h0M41 33h0M21 34h1M35 34h0M42 35h0M39 39h1" stroke="#4040ff"/><path d="M37 19h0M46 19h1M32 21h0M38 22h0M46 23h0M44 24h0M26 25h0M40 25h0M28 28h0M19 29h0M28 29h0M35 30h0M42 31h0M47 33h0M47 34h0M31 37h0M39 37h0M47 37h0" stroke="#3e3eff"/><path d="M19 36h0" stroke="#2a2aff"/><path d="M13 39h0" stroke="#0027ff"/><path d="M13 41h0" stroke="#00daff"/><path d="M13 44h0" stroke="#005eff"/><path d="M14 35h0" stroke="#1212ff"/><path d="M14 38h0" stroke="#0009ff"/><path d="M14 40h0" stroke="#00e5d1"/><path d="M14 42h0" stroke="#f00000"/><path d="M14 43h0" stroke="#d1f500"/><path d="M14 45h1" stroke="#0037ff"/><path d="M15 41h0" stroke="#e1e500"/><path d="M15 43h0" stroke="#a4ff0e"/><path d="M15 48h0" stroke="#0404ff"/><path d="M16 43h0" stroke="#00adff"/><path d="M16 44h0" stroke="#005bff"/><path d="M17 44h0" stroke="#000aff"/><path d="M18 37h0" stroke="#0202ff"/></g>
<text x="148" y="145.7" font-size="5.35" text-anchor="end">0.81%</text>
<rect x="163.7" y="93.3" width="55" height="55" fill="none" stroke="#cdcdcd" stroke-width="0.7"/>
<line x1="164.3" y1="96" x2="168.7" y2="96" stroke="#8f8f8f" stroke-width="0.5"/>
<line x1="191.7" y1="96" x2="216.1" y2="96" stroke="#8f8f8f" stroke-width="0.5"/>
<line x1="164.3" y1="96" x2="164.3" y2="127.1" stroke="#8f8f8f" stroke-width="0.5"/>
<line x1="164.3" y1="127.1" x2="181.4" y2="127.1" stroke="#8f8f8f" stroke-width="0.5"/>
<line x1="181.4" y1="127.1" x2="181.4" y2="146.2" stroke="#8f8f8f" stroke-width="0.5"/>
<line x1="181.4" y1="146.2" x2="216.1" y2="146.2" stroke="#8f8f8f" stroke-width="0.5"/>
<line x1="216.1" y1="96" x2="216.1" y2="146.2" stroke="#8f8f8f" stroke-width="0.5"/>
<line x1="162.4" y1="98.8" x2="163.7" y2="98.8" stroke="#777" stroke-width="0.4"/>
<line x1="162.4" y1="111.8" x2="163.7" y2="111.8" stroke="#777" stroke-width="0.4"/>
<line x1="162.4" y1="126.6" x2="163.7" y2="126.6" stroke="#777" stroke-width="0.4"/>
<line x1="162.4" y1="135.8" x2="163.7" y2="135.8" stroke="#777" stroke-width="0.4"/>
<line x1="162.4" y1="145" x2="163.7" y2="145" stroke="#777" stroke-width="0.4"/>
<line x1="169" y1="148.3" x2="169" y2="149.6" stroke="#777" stroke-width="0.4"/>
<line x1="177.3" y1="148.3" x2="177.3" y2="149.6" stroke="#777" stroke-width="0.4"/>
<line x1="186.4" y1="148.3" x2="186.4" y2="149.6" stroke="#777" stroke-width="0.4"/>
<line x1="201.2" y1="148.3" x2="201.2" y2="149.6" stroke="#777" stroke-width="0.4"/>
<line x1="216" y1="148.3" x2="216" y2="149.6" stroke="#777" stroke-width="0.4"/>
<line x1="163" y1="96.3" x2="163.7" y2="96.3" stroke="#aaa" stroke-width="0.3"/>
<line x1="163" y1="99.3" x2="163.7" y2="99.3" stroke="#aaa" stroke-width="0.3"/>
<line x1="163" y1="102.3" x2="163.7" y2="102.3" stroke="#aaa" stroke-width="0.3"/>
<line x1="163" y1="105.3" x2="163.7" y2="105.3" stroke="#aaa" stroke-width="0.3"/>
<line x1="163" y1="108.3" x2="163.7" y2="108.3" stroke="#aaa" stroke-width="0.3"/>
<line x1="163" y1="111.3" x2="163.7" y2="111.3" stroke="#aaa" stroke-width="0.3"/>
<line x1="163" y1="114.3" x2="163.7" y2="114.3" stroke="#aaa" stroke-width="0.3"/>
<line x1="163" y1="117.3" x2="163.7" y2="117.3" stroke="#aaa" stroke-width="0.3"/>
<line x1="163" y1="120.3" x2="163.7" y2="120.3" stroke="#aaa" stroke-width="0.3"/>
<line x1="163" y1="123.3" x2="163.7" y2="123.3" stroke="#aaa" stroke-width="0.3"/>
<line x1="163" y1="126.3" x2="163.7" y2="126.3" stroke="#aaa" stroke-width="0.3"/>
<line x1="163" y1="129.3" x2="163.7" y2="129.3" stroke="#aaa" stroke-width="0.3"/>
<line x1="163" y1="132.3" x2="163.7" y2="132.3" stroke="#aaa" stroke-width="0.3"/>
<line x1="163" y1="135.3" x2="163.7" y2="135.3" stroke="#aaa" stroke-width="0.3"/>
<line x1="163" y1="138.3" x2="163.7" y2="138.3" stroke="#aaa" stroke-width="0.3"/>
<line x1="163" y1="141.3" x2="163.7" y2="141.3" stroke="#aaa" stroke-width="0.3"/>
<line x1="163" y1="144.3" x2="163.7" y2="144.3" stroke="#aaa" stroke-width="0.3"/>
<line x1="166.7" y1="148.3" x2="166.7" y2="149" stroke="#aaa" stroke-width="0.3"/>
<line x1="169.7" y1="148.3" x2="169.7" y2="149" stroke="#aaa" stroke-width="0.3"/>
<line x1="172.7" y1="148.3" x2="172.7" y2="149" stroke="#aaa" stroke-width="0.3"/>
<line x1="175.7" y1="148.3" x2="175.7" y2="149" stroke="#aaa" stroke-width="0.3"/>
<line x1="178.7" y1="148.3" x2="178.7" y2="149" stroke="#aaa" stroke-width="0.3"/>
<line x1="181.7" y1="148.3" x2="181.7" y2="149" stroke="#aaa" stroke-width="0.3"/>
<line x1="184.7" y1="148.3" x2="184.7" y2="149" stroke="#aaa" stroke-width="0.3"/>
<line x1="187.7" y1="148.3" x2="187.7" y2="149" stroke="#aaa" stroke-width="0.3"/>
<line x1="190.7" y1="148.3" x2="190.7" y2="149" stroke="#aaa" stroke-width="0.3"/>
<line x1="193.7" y1="148.3" x2="193.7" y2="149" stroke="#aaa" stroke-width="0.3"/>
<line x1="196.7" y1="148.3" x2="196.7" y2="149" stroke="#aaa" stroke-width="0.3"/>
<line x1="199.7" y1="148.3" x2="199.7" y2="149" stroke="#aaa" stroke-width="0.3"/>
<line x1="202.7" y1="148.3" x2="202.7" y2="149" stroke="#aaa" stroke-width="0.3"/>
<line x1="205.7" y1="148.3" x2="205.7" y2="149" stroke="#aaa" stroke-width="0.3"/>
<line x1="208.7" y1="148.3" x2="208.7" y2="149" stroke="#aaa" stroke-width="0.3"/>
<line x1="211.7" y1="148.3" x2="211.7" y2="149" stroke="#aaa" stroke-width="0.3"/>
<line x1="214.7" y1="148.3" x2="214.7" y2="149" stroke="#aaa" stroke-width="0.3"/>
<rect x="162.1" y="134.9" width="1.2" height="1.8" fill="#222" stroke="none" stroke-width="1"/>
<rect x="174.8" y="148.6" width="1.8" height="1.2" fill="#222" stroke="none" stroke-width="1"/>
<text x="161.5" y="99.7" font-size="2.3" text-anchor="end" fill="#777">10⁵</text>
<text x="161.5" y="112.7" font-size="2.3" text-anchor="end" fill="#777">10⁴</text>
<text x="161.5" y="127.5" font-size="2.3" text-anchor="end" fill="#777">10³</text>
<text x="161.5" y="136.7" font-size="2.3" text-anchor="end" fill="#777">0</text>
<text x="161.5" y="145.9" font-size="2.3" text-anchor="end" fill="#777">-10³</text>
<text x="169" y="152.5" font-size="2.3" text-anchor="middle" fill="#777">-10³</text>
<text x="177.3" y="152.5" font-size="2.3" text-anchor="middle" fill="#777">0</text>
<text x="186.4" y="152.5" font-size="2.3" text-anchor="middle" fill="#777">10³</text>
<text x="201.2" y="152.5" font-size="2.3" text-anchor="middle" fill="#777">10⁴</text>
<text x="216" y="152.5" font-size="2.3" text-anchor="middle" fill="#777">10⁵</text>
<g transform="translate(163.5 93.5)" stroke-width="1" stroke-linecap="square"><path d="M18 40h0" stroke="#0076ff"/><path d="M38 10h0M28 16h0M28 19h0M26 21h0M23 22h0M28 23h0M28 27h0M32 27h0M24 31h0M29 32h0M48 41h0" stroke="#001aff"/><path d="M46 15h0M30 17h0M28 21h0M21 23h0M29 23h0M20 32h0M47 32h0M18 36h0M26 37h0M44 43h0" stroke="#003cff"/><path d="M19 41h0" stroke="#00eab6"/><path d="M37 13h0M42 14h0M26 16h0M46 19h0M35 20h0M47 26h0M38 31h0M40 31h0M22 33h0M23 34h0M23 38h0M30 38h0M41 38h0M33 39h0" stroke="#0066ff"/><path d="M45 33h0M45 41h0M21 42h21" stroke="#00e2e0"/><path d="M21 40h21" stroke="#0069ff"/><path d="M22 41h20" stroke="#00e9ba"/><path d="M41 20h0M42 22h0" stroke="#00e3da"/><path d="M31 14h0M31 15h0M47 15h0M31 16h0M28 17h0M25 19h0M18 20h0M25 21h0M18 25h0M22 26h0M28 26h0M23 28h0M48 28h0M25 30h0M20 31h0M27 32h0" stroke="#0012ff"/><path d="M36 11h0M47 11h0M38 13h0M32 20h0M38 26h0M29 27h0M30 29h0M46 30h0M33 31h0M27 37h0M25 38h0M47 40h0" stroke="#0046ff"/><path d="M46 18h0M29 19h0M47 19h0M46 20h0M34 21h0M47 25h0M31 33h0M24 38h0M31 39h0M47 39h0M17 43h0" stroke="#0056ff"/><path d="M45 34h0M45 42h0" stroke="#00d9ff"/><path d="M44 12h0M14 13h0M44 13h0M31 23h0M29 28h0M32 29h0M47 29h0M32 32h0M26 33h0M29 33h0M22 35h0M23 39h0M46 40h0" stroke="#004cff"/><path d="M40 13h0M45 24h0M33 25h0M37 27h0M35 30h0M42 31h0M40 35h0M33 38h0" stroke="#008dff"/><path d="M41 6h1M35 7h0M40 7h2M14 8h1M35 8h2M40 8h2M44 8h2M14 9h1M34 9h1M38 9h4M46 9h3M13 10h0M31 10h2M47 10h2M13 11h0M16 11h0M30 11h2M49 11h0M13 12h0M16 12h0M24 12h0M26 12h1M29 12h2M13 13h0M16 13h0M23 13h2M27 13h3M49 13h0M13 14h0M16 14h0M18 14h1M24 14h0M27 14h3M47 14h0M49 14h1M13 15h0M16 15h1M19 15h3M24 15h0M29 15h0M48 15h0M50 15h0M13 16h0M16 16h3M21 16h0M23 16h1M48 16h0M51 16h0M13 17h0M16 17h2M22 17h2M48 17h0M51 17h1M13 18h0M16 18h0M18 18h0M20 18h3M25 18h0M49 18h2M13 19h0M16 19h1M19 19h5M49 19h1M13 20h0M16 20h1M21 20h2M48 20h0M13 21h0M16 21h0M21 21h0M48 21h2M13 22h0M16 22h0M18 22h1M48 22h0M50 22h0M13 23h0M16 23h3M23 23h0M48 23h1M13 24h0M16 24h0M22 24h4M48 24h1M13 25h0M16 25h1M23 25h4M49 25h0M13 26h0M16 26h0M18 26h0M23 26h4M31 26h0M13 27h0M16 27h1M19 27h0M21 27h6M49 27h0M13 28h0M16 28h3M21 28h1M26 28h1M49 28h0M13 29h0M16 29h1M20 29h2M26 29h0M28 29h0M48 29h2M13 30h0M16 30h1M20 30h3M49 30h0M13 31h0M16 31h2M30 31h1M49 31h0M13 32h0M16 32h0M49 32h0M13 33h0M16 33h0M49 33h0M13 34h0M16 34h0M16 35h0M48 35h0M16 36h0M12 37h0M12 38h0M48 38h0M48 39h0M11 40h0M49 40h0M49 41h0M49 42h0M11 43h0M47 43h0M13 44h0M16 44h2M21 44h1M25 44h1M30 44h0M32 44h0M34 44h2M38 44h0M15 45h0" stroke="#0000ff"/><path d="M41 11h0M41 13h0M44 15h0M45 19h0M37 22h0M38 24h0M45 25h0M41 32h0M44 32h0M26 34h0M26 35h0M34 37h0M45 37h0" stroke="#008fff"/><path d="M30 15h0M26 20h0M24 21h0M22 23h0M18 24h0M28 28h0M25 29h0M22 31h0M26 31h1M48 31h0" stroke="#000aff"/><path d="M41 14h0M36 15h0M36 16h0M41 16h0M33 17h0M35 28h0M40 29h0M45 29h0M21 33h0M34 35h0" stroke="#0073ff"/><path d="M31 17h0M46 17h0M19 21h0M27 21h0M20 22h1M25 23h0M20 24h0M20 25h0M30 27h0M25 31h0M17 32h0M21 32h0M25 32h0" stroke="#0024ff"/><path d="M43 10h0M26 17h0M28 20h0M31 29h0M45 31h0M30 33h0M15 35h0M29 36h0" stroke="#0044ff"/><path d="M34 13h0M47 18h0M32 21h1M46 21h0M32 26h0M13 38h0M26 39h0M43 43h0" stroke="#003eff"/><path d="M14 10h0M37 10h0M32 15h0M32 16h0M46 16h0M47 20h0M29 22h0M28 24h0M31 28h1M28 30h0M22 32h0" stroke="#0027ff"/><path d="M40 18h0M34 23h0M38 23h0M41 24h0M34 25h0M33 26h0M37 28h0M39 35h0M35 36h0M46 36h0M35 37h0" stroke="#00a1ff"/><path d="M32 14h0M45 16h0M29 17h0M32 17h0M19 25h0M29 26h0" stroke="#002fff"/><path d="M33 24h0M37 25h0M46 26h0M35 32h0M42 32h0M45 32h0M28 34h0M37 38h0M39 38h0" stroke="#0093ff"/><path d="M40 11h0M41 12h0M38 32h0M21 38h0" stroke="#009dff"/><path d="M44 22h0M43 28h0M34 32h0M36 33h0M40 34h0M41 35h0M40 36h0M38 39h0" stroke="#0099ff"/><path d="M45 15h0M35 23h0M39 29h0M44 29h0M43 30h0M37 31h0M24 34h0M28 35h0M43 39h0" stroke="#0079ff"/><path d="M30 19h0M35 19h0M37 26h0M39 28h0M34 29h0M36 32h0M33 34h0M22 38h0M37 39h0" stroke="#0085ff"/><path d="M25 15h0M19 20h0M28 31h0M28 32h0M26 38h1" stroke="#0031ff"/><path d="M38 17h0M43 27h0M39 34h0" stroke="#00abff"/><path d="M34 14h0M35 22h0M45 23h0M47 27h0M36 30h0M19 33h1M15 38h0M39 39h0" stroke="#0077ff"/><path d="M44 36h0M15 43h0" stroke="#00bbff"/><path d="M40 12h0M38 16h0M35 18h0M35 33h0M40 33h0M36 37h1" stroke="#00a3ff"/><path d="M35 14h0M35 15h0M43 18h0M45 21h0M35 24h0M44 26h0M33 27h0M38 27h0M34 28h0M35 29h0M42 29h0M47 33h0M21 37h0M36 38h0M35 39h0M46 39h0" stroke="#0081ff"/><path d="M15 14h0M15 15h0M15 16h0M15 17h0M15 18h0M15 19h0M15 20h0M15 21h0M15 22h0M15 23h0M15 24h0M15 25h0M15 26h0M15 27h0M15 28h0M15 29h0M15 30h0M15 31h0M15 32h0M15 33h0M15 34h0M19 43h0" stroke="#0042ff"/><path d="M46 12h1M36 17h0M46 24h0M46 25h0M45 26h0M46 28h0M24 36h0M41 37h0" stroke="#0089ff"/><path d="M41 10h0M38 11h0M46 14h0M30 24h0M47 24h0M32 25h0M40 38h0M19 39h0" stroke="#0051ff"/><path d="M42 10h0M35 12h0M25 16h0M47 16h0M27 17h0M32 18h0M48 19h0M26 22h0M30 22h0M20 23h0M29 29h0M29 30h0M18 32h0M25 39h0" stroke="#002cff"/><path d="M38 15h0M43 15h0M42 18h0M37 19h0M41 25h0M34 31h0M33 32h0M32 33h0M25 34h0M22 37h0M33 37h0" stroke="#0083ff"/><path d="M40 21h0M37 35h0M43 35h0" stroke="#00cbff"/><path d="M42 13h0M46 13h0M34 16h0M37 23h0M36 24h0M39 27h0M36 29h0M42 30h0M36 31h0M39 32h0M20 35h0M32 37h0M40 37h0M29 38h0M17 39h0M21 39h0" stroke="#007dff"/><path d="M39 17h0M39 18h0M40 19h0M43 23h0M42 35h0" stroke="#00c1ff"/><path d="M38 28h0M38 38h0" stroke="#00b3ff"/><path d="M40 14h0M42 16h0M40 25h0M45 27h0M40 28h0M46 29h0M40 30h0M27 33h0M32 34h0M31 37h0M32 38h0" stroke="#0071ff"/><path d="M44 10h0M39 13h0M33 15h0M42 17h0M36 22h0M33 28h0M39 30h0M47 35h0M30 39h0M36 39h0" stroke="#0060ff"/><path d="M44 11h0M36 13h0M45 13h0M41 15h0M41 17h0M33 18h0M33 19h0M30 20h0M33 20h1M39 26h0M36 28h0M45 28h0M33 29h0M44 31h0M25 36h1M20 37h0M24 37h0M29 39h0M47 42h0" stroke="#006fff"/><path d="M34 17h0M36 27h0M37 32h0M18 34h0M17 38h0" stroke="#0095ff"/><path d="M33 23h0M37 24h0M41 27h0M43 31h0M20 34h0M34 34h0M18 39h0M34 39h0M44 39h0" stroke="#008bff"/><path d="M36 25h0M38 35h0M45 35h0M43 36h0M38 37h0M42 37h0M44 37h0" stroke="#00b7ff"/><path d="M40 10h0M37 11h0M43 13h0M33 14h0M39 14h0M31 19h0M33 30h0M39 31h0M23 33h1M22 36h0M32 36h0M32 39h0" stroke="#005bff"/><path d="M36 10h0M34 12h0M20 20h0M27 22h0M28 25h0M20 26h0M30 30h1M46 43h0" stroke="#001dff"/><path d="M36 14h0M36 18h0M41 18h0M36 20h0M40 27h0M41 29h0M40 32h0M20 38h0M46 38h0M16 43h0" stroke="#007bff"/><path d="M38 34h0M43 34h1M36 36h0" stroke="#00c7ff"/><path d="M44 9h0M26 18h0M18 21h0M22 22h0M28 22h0M21 26h0M30 26h0M24 28h0M24 29h0M48 33h0M16 38h0" stroke="#0017ff"/><path d="M34 26h0M42 27h0M41 33h0M44 33h0M37 36h0M44 38h0" stroke="#00bfff"/><path d="M40 17h0M34 24h0M44 24h0M42 25h0M42 28h0M27 35h0" stroke="#00a5ff"/><path d="M38 19h0M41 34h0M38 36h0" stroke="#00b5ff"/><path d="M38 12h0M44 17h0M31 24h0M45 30h0M25 33h0M17 34h0M29 35h0M33 35h0M19 36h0M19 37h0M25 37h0M20 39h0" stroke="#0053ff"/><path d="M33 11h0M33 12h0M32 13h0M26 14h0M29 16h0M48 18h0M27 20h0M23 21h0M24 22h0M21 25h0M48 27h0M18 29h0M19 31h0M31 32h0M48 32h0M13 37h0" stroke="#0015ff"/><path d="M37 20h0M39 23h0M43 25h0M43 26h0M37 33h0M42 36h0M39 37h0M42 38h0" stroke="#00adff"/><path d="M45 9h0M32 12h0M48 13h0M25 17h0M22 21h0M47 22h0M48 26h0M20 27h0M25 28h0M19 29h0M24 30h0M12 43h0" stroke="#0005ff"/><path d="M36 12h0M45 12h0M47 13h0M38 14h0M21 36h0M30 36h1M33 36h0M47 37h0" stroke="#0059ff"/><path d="M42 12h0M44 14h0M34 15h0M37 16h0M43 16h0M37 18h0M40 26h0M43 29h0M18 33h0M25 35h0M23 36h0M27 36h0M23 37h0M46 37h0" stroke="#007fff"/><path d="M39 11h0M33 16h0M30 18h0M45 18h0M36 19h0M29 20h0M35 21h0M38 25h1M47 28h0M44 30h0M18 35h0M20 36h0M17 37h0" stroke="#006bff"/><path d="M41 22h0" stroke="#00dfeb"/><path d="M39 15h0M44 23h0M44 25h0M37 29h1" stroke="#0097ff"/><path d="M43 11h0M46 11h0M37 12h0M44 27h0M38 30h0M46 32h0M30 37h0M31 38h0" stroke="#0063ff"/><path d="M38 22h0M41 23h0M38 33h0M36 34h1M46 34h0M43 38h0" stroke="#00c9ff"/><path d="M45 10h0M35 13h0M27 16h0M30 23h0M30 28h0M12 42h0" stroke="#004eff"/><path d="M41 19h0M34 27h0M46 42h0" stroke="#00b1ff"/><path d="M45 11h0M43 12h0M37 14h0M44 16h0M46 23h0M31 34h0M23 35h0M34 36h0M18 37h0M28 38h0M22 39h0M42 39h0M43 40h0" stroke="#0068ff"/><path d="M40 15h0M39 24h1M41 26h0M41 28h0M35 31h0M43 32h0M21 34h0M47 34h0M19 35h0M24 35h0" stroke="#0087ff"/><path d="M35 10h0M28 15h0M26 19h0M25 20h0M17 22h0M27 23h0M19 26h0M19 30h0M23 31h0" stroke="#000fff"/><path d="M45 14h0M35 17h0M37 17h0M34 19h0M34 30h0M45 39h0" stroke="#0091ff"/><path d="M15 12h0M21 43h21" stroke="#003fff"/><path d="M37 15h0M43 17h0M34 22h0M44 28h0M29 34h1M19 38h0M19 40h0" stroke="#006eff"/><path d="M40 16h0M34 18h0M35 27h0M33 33h0M39 33h0M27 34h0M46 35h0" stroke="#00a9ff"/><path d="M42 23h0M42 34h0" stroke="#00d5ff"/><path d="M46 10h0M34 11h0M30 16h0M20 21h0M25 22h0M21 24h0M29 31h0M47 31h0" stroke="#0022ff"/><path d="M42 11h0M43 14h0M45 22h0M32 23h0M36 23h0M32 24h0M17 33h0M21 35h0M30 35h0M28 36h0M47 36h0M28 37h1" stroke="#005eff"/><path d="M40 6h0M32 9h0M50 11h0M22 14h0M53 22h0M49 38h0" stroke="#0808ff"/><path d="M39 20h1" stroke="#00ddf8"/><path d="M48 11h0M27 18h0M17 21h0M22 25h0M26 30h1" stroke="#000dff"/><path d="M39 19h0M44 21h0" stroke="#00cfff"/><path d="M43 19h0M37 21h0M40 23h0M35 34h0M35 35h0M39 36h0M45 36h0M35 38h0" stroke="#00afff"/><path d="M39 22h0M44 35h0M34 38h0" stroke="#00bdff"/><path d="M38 20h0M44 20h0" stroke="#00dbff"/><path d="M42 19h0M40 22h0M42 24h0M42 26h0M42 33h0" stroke="#00b9ff"/><path d="M35 26h1" stroke="#00cdff"/><path d="M32 19h0M31 21h0M47 23h0M29 25h1M47 30h0M19 32h0M23 32h1M27 39h0" stroke="#0037ff"/><path d="M38 18h0M44 19h0M35 25h0M34 33h0" stroke="#00a7ff"/><path d="M43 9h0M31 13h0M27 24h0M48 25h0M18 30h0M21 31h0M26 32h0M30 32h0M48 40h0" stroke="#0002ff"/><path d="M15 13h0M29 21h0M32 22h0M29 24h0M32 35h0" stroke="#0041ff"/><path d="M18 38h0M45 38h0" stroke="#009fff"/><path d="M39 10h0M35 11h0M48 12h0M45 17h0M32 30h0" stroke="#002aff"/><path d="M33 13h0M27 15h0M30 21h0M46 22h0M31 25h0M17 35h0" stroke="#0034ff"/><path d="M44 42h0" stroke="#00e0e9"/><path d="M39 16h0M46 33h0M43 37h0" stroke="#00c5ff"/><path d="M45 20h0M46 27h0M43 33h0M19 34h0M41 36h0" stroke="#009bff"/><path d="M43 24h0M46 41h0" stroke="#00c3ff"/><path d="M18 42h0" stroke="#00e2dc"/><path d="M39 21h0M43 22h0" stroke="#00d1ff"/><path d="M34 10h0M28 18h0M27 19h0M24 23h0M23 29h0M16 37h0" stroke="#0008ff"/><path d="M14 37h0M16 39h0" stroke="#0062ff"/><path d="M41 21h0" stroke="#00e8c2"/><path d="M45 40h0" stroke="#005aff"/><path d="M17 42h0" stroke="#00e3d7"/><path d="M19 42h0" stroke="#00e2dd"/><path d="M51 14h0M52 19h0M49 37h0" stroke="#1a1aff"/><path d="M39 12h0M42 15h0M35 16h0M44 18h0M36 21h0M37 30h0M41 30h0M41 31h0M28 33h0M22 34h0" stroke="#0075ff"/><path d="M26 15h0M31 18h0M31 20h0M31 35h0M15 36h0M47 38h0M28 39h0M40 39h1" stroke="#0049ff"/><path d="M17 40h0" stroke="#008eff"/><path d="M18 43h0" stroke="#0048ff"/><path d="M38 21h0" stroke="#00e0e7"/><path d="M43 21h0M43 41h0" stroke="#00e9bb"/><path d="M42 20h0" stroke="#00e5d0"/><path d="M44 41h0" stroke="#00e7c3"/><path d="M20 41h0" stroke="#00eab8"/><path d="M29 18h0M31 22h0M17 36h0M24 39h0" stroke="#0039ff"/><path d="M20 40h0" stroke="#006aff"/><path d="M47 41h0" stroke="#007cff"/><path d="M15 10h0M25 14h0M26 23h0" stroke="#001fff"/><path d="M42 21h0" stroke="#00eda7"/><path d="M43 42h0" stroke="#00e1e2"/><path d="M12 39h0M48 42h0" stroke="#0011ff"/><path d="M37 5h0M36 6h0M49 16h0M52 18h0M50 25h0M50 26h0M49 34h0M49 43h0" stroke="#0202ff"/><path d="M16 42h0" stroke="#00f38b"/><path d="M43 20h0" stroke="#00e4d6"/><path d="M44 1h0M34 7h0M24 11h1M52 22h0M52 31h0M49 35h0" stroke="#1414ff"/><path d="M46 7h0M28 11h0" stroke="#0e0eff"/><path d="M14 11h0M20 43h0" stroke="#0040ff"/><path d="M45 43h0" stroke="#0033ff"/><path d="M16 40h0" stroke="#00def4"/><path d="M17 41h0" stroke="#00eda6"/><path d="M20 42h0" stroke="#00e2df"/><path d="M36 35h0" stroke="#00d3ff"/><path d="M18 41h0" stroke="#00eab4"/><path d="M16 41h0" stroke="#26ff40"/><path d="M40 0h0M34 1h0M31 3h0M43 4h0M30 5h0M32 5h0M45 5h0M54 8h0M54 12h0M53 15h0M52 24h0M53 26h0M45 46h0" stroke="#2d2dff"/><path d="M43 1h0M45 1h0M38 6h0M48 6h1" stroke="#2020ff"/><path d="M22 12h0" stroke="#2727ff"/><path d="M12 40h0" stroke="#0052ff"/><path d="M12 41h0" stroke="#0072ff"/><path d="M13 35h0" stroke="#0001ff"/><path d="M13 36h0" stroke="#0007ff"/><path d="M13 39h0" stroke="#009cff"/><path d="M13 40h0" stroke="#00f483"/><path d="M13 41h0" stroke="#64ff27"/><path d="M13 42h0" stroke="#00f194"/><path d="M13 43h0" stroke="#007eff"/><path d="M14 12h0" stroke="#004aff"/><path d="M14 14h0M14 15h0M14 16h0M14 17h0M14 18h0M14 19h0M14 20h0M14 21h0M14 22h0M14 23h0M14 24h0M14 25h0M14 26h0M14 27h0M14 28h0M14 29h0M14 30h0M14 31h0M14 32h0M14 33h0M14 34h0" stroke="#004dff"/><path d="M14 35h0" stroke="#004fff"/><path d="M14 36h0" stroke="#0055ff"/><path d="M14 38h0" stroke="#008aff"/><path d="M14 39h0" stroke="#00e8c1"/><path d="M14 40h0" stroke="#eed800"/><path d="M14 41h0" stroke="#f00000"/><path d="M14 42h0" stroke="#e8de00"/><path d="M14 43h0" stroke="#00d0ff"/><path d="M14 44h0" stroke="#001bff"/><path d="M15 11h0" stroke="#0036ff"/><path d="M15 37h0" stroke="#0054ff"/><path d="M15 39h0" stroke="#00d6ff"/><path d="M15 40h0" stroke="#a1ff0f"/><path d="M15 41h0" stroke="#ff8f00"/><path d="M15 42h0" stroke="#c6ff00"/><path d="M15 44h0" stroke="#0010ff"/><path d="M21 41h0" stroke="#00e9b9"/><path d="M44 40h0" stroke="#0065ff"/></g>
<text x="214.1" y="145.7" font-size="5.35" text-anchor="end">36.8%</text>
<rect x="241.7" y="93.3" width="55" height="55" fill="none" stroke="#cdcdcd" stroke-width="0.7"/>
<line x1="240.4" y1="98.8" x2="241.7" y2="98.8" stroke="#777" stroke-width="0.4"/>
<line x1="240.4" y1="111.8" x2="241.7" y2="111.8" stroke="#777" stroke-width="0.4"/>
<line x1="240.4" y1="126.6" x2="241.7" y2="126.6" stroke="#777" stroke-width="0.4"/>
<line x1="240.4" y1="135.8" x2="241.7" y2="135.8" stroke="#777" stroke-width="0.4"/>
<line x1="240.4" y1="145" x2="241.7" y2="145" stroke="#777" stroke-width="0.4"/>
<line x1="247" y1="148.3" x2="247" y2="149.6" stroke="#777" stroke-width="0.4"/>
<line x1="255.3" y1="148.3" x2="255.3" y2="149.6" stroke="#777" stroke-width="0.4"/>
<line x1="264.4" y1="148.3" x2="264.4" y2="149.6" stroke="#777" stroke-width="0.4"/>
<line x1="279.2" y1="148.3" x2="279.2" y2="149.6" stroke="#777" stroke-width="0.4"/>
<line x1="294" y1="148.3" x2="294" y2="149.6" stroke="#777" stroke-width="0.4"/>
<line x1="241" y1="96.3" x2="241.7" y2="96.3" stroke="#aaa" stroke-width="0.3"/>
<line x1="241" y1="99.3" x2="241.7" y2="99.3" stroke="#aaa" stroke-width="0.3"/>
<line x1="241" y1="102.3" x2="241.7" y2="102.3" stroke="#aaa" stroke-width="0.3"/>
<line x1="241" y1="105.3" x2="241.7" y2="105.3" stroke="#aaa" stroke-width="0.3"/>
<line x1="241" y1="108.3" x2="241.7" y2="108.3" stroke="#aaa" stroke-width="0.3"/>
<line x1="241" y1="111.3" x2="241.7" y2="111.3" stroke="#aaa" stroke-width="0.3"/>
<line x1="241" y1="114.3" x2="241.7" y2="114.3" stroke="#aaa" stroke-width="0.3"/>
<line x1="241" y1="117.3" x2="241.7" y2="117.3" stroke="#aaa" stroke-width="0.3"/>
<line x1="241" y1="120.3" x2="241.7" y2="120.3" stroke="#aaa" stroke-width="0.3"/>
<line x1="241" y1="123.3" x2="241.7" y2="123.3" stroke="#aaa" stroke-width="0.3"/>
<line x1="241" y1="126.3" x2="241.7" y2="126.3" stroke="#aaa" stroke-width="0.3"/>
<line x1="241" y1="129.3" x2="241.7" y2="129.3" stroke="#aaa" stroke-width="0.3"/>
<line x1="241" y1="132.3" x2="241.7" y2="132.3" stroke="#aaa" stroke-width="0.3"/>
<line x1="241" y1="135.3" x2="241.7" y2="135.3" stroke="#aaa" stroke-width="0.3"/>
<line x1="241" y1="138.3" x2="241.7" y2="138.3" stroke="#aaa" stroke-width="0.3"/>
<line x1="241" y1="141.3" x2="241.7" y2="141.3" stroke="#aaa" stroke-width="0.3"/>
<line x1="241" y1="144.3" x2="241.7" y2="144.3" stroke="#aaa" stroke-width="0.3"/>
<line x1="244.7" y1="148.3" x2="244.7" y2="149" stroke="#aaa" stroke-width="0.3"/>
<line x1="247.7" y1="148.3" x2="247.7" y2="149" stroke="#aaa" stroke-width="0.3"/>
<line x1="250.7" y1="148.3" x2="250.7" y2="149" stroke="#aaa" stroke-width="0.3"/>
<line x1="253.7" y1="148.3" x2="253.7" y2="149" stroke="#aaa" stroke-width="0.3"/>
<line x1="256.7" y1="148.3" x2="256.7" y2="149" stroke="#aaa" stroke-width="0.3"/>
<line x1="259.7" y1="148.3" x2="259.7" y2="149" stroke="#aaa" stroke-width="0.3"/>
<line x1="262.7" y1="148.3" x2="262.7" y2="149" stroke="#aaa" stroke-width="0.3"/>
<line x1="265.7" y1="148.3" x2="265.7" y2="149" stroke="#aaa" stroke-width="0.3"/>
<line x1="268.7" y1="148.3" x2="268.7" y2="149" stroke="#aaa" stroke-width="0.3"/>
<line x1="271.7" y1="148.3" x2="271.7" y2="149" stroke="#aaa" stroke-width="0.3"/>
<line x1="274.7" y1="148.3" x2="274.7" y2="149" stroke="#aaa" stroke-width="0.3"/>
<line x1="277.7" y1="148.3" x2="277.7" y2="149" stroke="#aaa" stroke-width="0.3"/>
<line x1="280.7" y1="148.3" x2="280.7" y2="149" stroke="#aaa" stroke-width="0.3"/>
<line x1="283.7" y1="148.3" x2="283.7" y2="149" stroke="#aaa" stroke-width="0.3"/>
<line x1="286.7" y1="148.3" x2="286.7" y2="149" stroke="#aaa" stroke-width="0.3"/>
<line x1="289.7" y1="148.3" x2="289.7" y2="149" stroke="#aaa" stroke-width="0.3"/>
<line x1="292.7" y1="148.3" x2="292.7" y2="149" stroke="#aaa" stroke-width="0.3"/>
<rect x="240.1" y="134.9" width="1.2" height="1.8" fill="#222" stroke="none" stroke-width="1"/>
<rect x="252.8" y="148.6" width="1.8" height="1.2" fill="#222" stroke="none" stroke-width="1"/>
<text x="239.5" y="99.7" font-size="2.3" text-anchor="end" fill="#777">10⁵</text>
<text x="239.5" y="112.7" font-size="2.3" text-anchor="end" fill="#777">10⁴</text>
<text x="239.5" y="127.5" font-size="2.3" text-anchor="end" fill="#777">10³</text>
<text x="239.5" y="136.7" font-size="2.3" text-anchor="end" fill="#777">0</text>
<text x="239.5" y="145.9" font-size="2.3" text-anchor="end" fill="#777">-10³</text>
<text x="247" y="152.5" font-size="2.3" text-anchor="middle" fill="#777">-10³</text>
<text x="255.3" y="152.5" font-size="2.3" text-anchor="middle" fill="#777">0</text>
<text x="264.4" y="152.5" font-size="2.3" text-anchor="middle" fill="#777">10³</text>
<text x="279.2" y="152.5" font-size="2.3" text-anchor="middle" fill="#777">10⁴</text>
<text x="294" y="152.5" font-size="2.3" text-anchor="middle" fill="#777">10⁵</text>
<g transform="translate(241.5 93.5)" stroke-width="1" stroke-linecap="square"><path d="M20 17h0M22 17h0M22 18h0M26 19h0M18 20h0M18 21h0M24 21h0M30 22h0M20 23h0M25 24h0M30 25h0M19 26h0M20 27h0M24 27h0M26 29h0M22 30h0M24 30h0M21 31h0M28 33h0M31 39h0M27 40h0M22 41h0M24 41h0M28 41h0M27 42h0M26 43h0" stroke="#2828ff"/><path d="M22 13h0M34 42h0" stroke="#3f3fff"/><path d="M13 14h0M20 15h0M25 16h0M27 17h0M25 21h0M32 21h0M25 23h0M19 24h0M31 28h0M21 32h0M26 32h0M30 33h0M32 34h1M31 35h0M32 38h0M32 39h1M32 43h0M23 45h0M20 46h0" stroke="#3232ff"/><path d="M15 15h0M23 19h0M27 20h0M20 22h0M29 23h0M20 24h0M22 25h0M27 25h0M30 27h0M19 28h1M27 29h0M32 29h0M27 31h0M33 32h0M31 41h0" stroke="#2c2cff"/><path d="M30 17h0M32 18h0M15 20h0M24 24h0M26 24h0M20 26h0M22 27h0M28 28h1M30 31h0M20 32h0M25 32h0M26 33h0M9 35h0M25 38h0M26 40h0M24 43h0" stroke="#2929ff"/><path d="M24 15h0M27 18h1M13 19h0M19 22h0M24 22h0M19 23h0M24 23h0M27 24h0M29 24h0M33 24h0M26 30h0M22 33h0M27 35h0M30 35h0M30 42h0M27 43h0M21 45h0M17 48h0" stroke="#2f2fff"/><path d="M14 28h0M12 29h1M15 29h0M12 30h4M12 31h0M15 31h1M11 32h0M16 32h1M11 33h0M16 33h1M10 34h1M16 34h1M10 35h1M17 35h2M17 36h2M10 37h0M17 37h3M17 38h3M10 39h0M17 39h2M10 40h0M17 40h1M10 41h1M17 41h0M11 42h0M16 42h1M11 43h0M16 43h1M12 44h0M15 44h2M12 45h4M12 46h3M12 47h3" stroke="#0000ff"/><path d="M16 15h1M26 20h0M27 21h0M26 23h0M32 23h0M22 24h0M21 25h0M31 29h0M31 30h0M25 31h0M33 31h0M28 43h0M19 47h0" stroke="#3030ff"/><path d="M14 24h0M16 29h0M23 35h0M18 43h0" stroke="#0c0cff"/><path d="M15 25h0M15 27h0M16 28h0M25 33h0M22 35h0M25 35h0M22 36h0M27 37h0M18 44h0" stroke="#1717ff"/><path d="M20 40h0" stroke="#0808ff"/><path d="M13 15h0M19 17h0M21 17h0M23 18h0M22 19h0M28 19h1M19 20h0M29 21h1M18 22h0M18 23h0M30 23h0M29 27h0M11 28h0M18 28h0M20 29h0M33 29h0M25 30h0M31 31h1M31 40h0M19 46h0M11 48h0M14 50h0" stroke="#2a2aff"/><path d="M31 16h0M25 17h0M19 21h0M33 21h0M28 23h0M23 24h0M29 25h0M32 30h0M28 42h1M24 44h0M26 44h0" stroke="#2e2eff"/><path d="M23 15h0M19 16h1M29 18h0M23 23h0M27 23h0M30 24h0M21 26h0M28 26h0M21 27h0M30 28h0M33 30h0M32 33h0M24 40h0M18 47h0M15 50h0" stroke="#2d2dff"/><path d="M11 27h0M34 27h0M29 29h0M28 34h1M33 38h0M32 42h0M29 43h0M22 45h0M24 45h0" stroke="#3434ff"/><path d="M17 16h0M30 18h0M23 20h0M28 20h1M17 21h0M17 22h0M23 25h0M25 27h0M28 27h0M21 29h0M24 29h0M18 30h0M30 32h0M28 36h0M28 37h0M31 38h0M24 39h0M29 39h0M17 47h0" stroke="#2626ff"/><path d="M13 16h0M15 16h0M15 17h0M17 18h0M19 18h0M21 18h0M14 20h0M22 20h0M16 23h0M16 24h0M27 26h0M23 28h0M26 35h0M25 37h0M30 38h0M28 40h0M20 45h0" stroke="#2323ff"/><path d="M13 33h0" stroke="#0095ff"/><path d="M14 15h0M24 17h0M18 18h0M24 18h1M15 19h1M18 19h0M20 19h0M13 20h0M21 20h0M14 21h0M21 22h0M23 22h0M17 24h0M25 25h0M23 26h0M19 27h0M23 27h0M22 28h0M25 28h0M27 28h0M25 29h0M19 30h0M21 30h0M29 31h0M24 32h0M32 32h0M26 34h0M29 36h0M24 37h0M23 38h1M26 38h0M25 41h0M27 41h0M23 43h0M25 43h0M22 44h0" stroke="#2424ff"/><path d="M18 16h0M13 18h0M27 19h0M30 19h0M20 20h0M30 20h0M16 21h0M28 21h0M16 22h0M31 22h2M22 23h0M31 23h0M18 24h0M21 24h0M22 26h0M31 26h0M27 30h0M22 32h0M20 33h0M31 36h0M25 39h3M25 40h0M23 41h0M23 44h0M25 44h0M16 49h0M13 50h0" stroke="#2b2bff"/><path d="M13 44h1" stroke="#002aff"/><path d="M14 23h0M25 34h0M24 35h0M21 40h0M22 43h0" stroke="#1010ff"/><path d="M17 17h0M23 17h0M31 17h0M16 18h0M20 18h0M31 18h0M19 19h0M23 21h0M17 23h0M26 25h0M23 31h0M23 32h0M28 32h0M27 38h0M30 39h0M24 42h0M26 42h0M18 45h0" stroke="#2222ff"/><path d="M14 43h0" stroke="#006dff"/><path d="M24 16h0M15 18h0M14 19h0M17 19h0M21 19h0M24 19h0M16 20h1M24 20h0M21 23h0M25 26h0M22 31h0M9 37h0M23 39h0M30 41h0M18 46h0" stroke="#2525ff"/><path d="M13 21h0M14 22h0M26 26h0M34 26h0M18 27h0M26 27h1M17 28h0M29 32h0M24 36h1M27 36h0M22 37h0M30 37h0M29 40h0" stroke="#1e1eff"/><path d="M16 16h0M32 17h0M32 25h0M24 26h0M30 26h0M32 26h0M24 28h0M22 29h1M23 30h0M28 30h0M29 33h0M23 37h0M31 37h0M22 40h0M12 49h0" stroke="#2727ff"/><path d="M23 16h0M16 17h0M25 19h0M21 21h0M13 24h0M34 25h0M26 41h0M25 42h0" stroke="#2121ff"/><path d="M14 27h0M20 35h0M17 45h0M15 48h0" stroke="#0d0dff"/><path d="M30 14h0M29 45h0M28 47h0M16 51h0" stroke="#3a3aff"/><path d="M14 9h0M26 12h0M10 25h0M6 42h0M29 52h0M11 53h0M20 53h0" stroke="#4242ff"/><path d="M13 28h0M20 36h0M14 48h0" stroke="#0101ff"/><path d="M22 39h0M19 42h1M20 43h0M20 44h0M17 46h0" stroke="#1a1aff"/><path d="M16 26h0M13 27h0M24 34h0M21 38h0M21 39h0" stroke="#0a0aff"/><path d="M17 27h0M18 42h0" stroke="#0f0fff"/><path d="M30 16h0M32 16h0M15 21h0M12 22h0M27 22h0M31 24h0M19 25h0M18 29h0M27 32h0M29 35h0M29 38h0M31 42h0M9 43h0M28 44h0" stroke="#3131ff"/><path d="M14 25h0M17 26h0M17 31h0M23 34h0M21 36h0M19 41h0M21 42h0M16 47h0" stroke="#0e0eff"/><path d="M13 26h0M16 27h0" stroke="#0b0bff"/><path d="M13 42h0" stroke="#00c5ff"/><path d="M22 21h0M15 23h0M13 25h0M19 32h0M19 33h0M23 33h0M23 36h0M26 37h0M21 44h0" stroke="#1c1cff"/><path d="M14 14h0M26 16h1M29 17h0M32 27h0M10 29h0M34 34h0M32 35h0M32 37h0" stroke="#3333ff"/><path d="M13 17h0M17 25h0M18 26h0M26 28h0M17 29h0M20 30h0M28 31h0M21 35h0M30 36h0M30 40h0M23 42h0M15 49h0" stroke="#2020ff"/><path d="M20 14h0M27 15h0M29 15h0M31 15h0M33 16h0M26 21h0M30 34h0M33 36h0" stroke="#3838ff"/><path d="M13 37h0" stroke="#f52200"/><path d="M18 41h0" stroke="#0303ff"/><path d="M13 43h0" stroke="#0072ff"/><path d="M15 24h0M12 28h0M17 30h0" stroke="#1515ff"/><path d="M14 35h0" stroke="#0bff4b"/><path d="M18 34h1M20 39h0" stroke="#0505ff"/><path d="M14 37h0" stroke="#ffb800"/><path d="M15 32h0M16 41h0" stroke="#0007ff"/><path d="M14 17h0M13 22h0M13 23h0M22 38h0M19 43h0" stroke="#1b1bff"/><path d="M15 34h0" stroke="#005eff"/><path d="M23 13h0M29 13h0M31 13h0M34 19h0M34 43h0M34 45h0M34 46h0M22 47h0" stroke="#4040ff"/><path d="M15 40h0" stroke="#009fff"/><path d="M13 35h0" stroke="#6bff25"/><path d="M15 35h0" stroke="#0089ff"/><path d="M19 31h0M18 33h0M24 33h0" stroke="#1616ff"/><path d="M13 13h0M18 14h0M8 43h0M9 47h0" stroke="#3e3eff"/><path d="M22 22h0M19 45h0" stroke="#1f1fff"/><path d="M14 16h0M33 25h0M33 26h0M18 31h0" stroke="#1818ff"/><path d="M13 31h1M11 40h0" stroke="#0008ff"/><path d="M15 39h0" stroke="#00bdff"/><path d="M27 14h0M8 35h0M8 41h0M32 45h0M23 46h0M25 46h0" stroke="#3c3cff"/><path d="M15 37h0" stroke="#00c6ff"/><path d="M14 26h0" stroke="#0707ff"/><path d="M16 37h0M15 43h0" stroke="#0022ff"/><path d="M20 41h0M22 42h0" stroke="#1414ff"/><path d="M35 23h0M31 45h0" stroke="#3d3dff"/><path d="M19 15h0M31 20h0M33 28h0M34 29h0M27 34h0M33 35h0M32 36h0M31 43h0M27 45h1M13 51h0" stroke="#3535ff"/><path d="M21 15h0M34 33h0M33 37h0M34 39h0M18 48h1" stroke="#3737ff"/><path d="M33 18h0M32 19h0M34 23h0M34 30h0M31 34h0M33 40h0M32 41h0" stroke="#3636ff"/><path d="M15 41h0" stroke="#007aff"/><path d="M14 38h0" stroke="#ff9c00"/><path d="M15 33h0" stroke="#002fff"/><path d="M15 14h0M21 14h0M25 15h0M28 15h0M34 17h0M33 20h0M34 21h0M34 35h0M34 38h0M31 44h0M21 46h0M27 46h0M20 47h0" stroke="#3939ff"/><path d="M14 36h0M13 40h0" stroke="#d3f300"/><path d="M16 38h0" stroke="#0024ff"/><path d="M14 39h0" stroke="#eed800"/><path d="M17 14h0M32 15h0M34 31h0M33 41h0M9 46h0M26 46h0" stroke="#3b3bff"/><path d="M14 33h0" stroke="#008aff"/><path d="M16 40h0" stroke="#0016ff"/><path d="M14 34h0" stroke="#00ddf6"/><path d="M21 37h0M19 40h0" stroke="#0404ff"/><path d="M12 35h0" stroke="#00a7ff"/><path d="M15 36h0" stroke="#00adff"/><path d="M14 42h0" stroke="#00b6ff"/><path d="M14 40h0" stroke="#7bff1e"/><path d="M13 39h0" stroke="#ff6e00"/><path d="M13 34h0" stroke="#00e6cc"/><path d="M16 39h0" stroke="#0020ff"/><path d="M16 25h0M20 31h0M26 36h0" stroke="#1d1dff"/><path d="M18 32h0M20 34h0M19 44h0" stroke="#1919ff"/><path d="M14 32h0" stroke="#0041ff"/><path d="M14 41h0" stroke="#00eea0"/><path d="M12 42h0" stroke="#0054ff"/><path d="M13 36h0" stroke="#ffc400"/><path d="M21 43h0" stroke="#0909ff"/><path d="M15 26h0" stroke="#1212ff"/><path d="M13 41h0" stroke="#00f96b"/><path d="M16 35h0" stroke="#000aff"/><path d="M12 36h0" stroke="#00dcfd"/><path d="M15 42h0" stroke="#004dff"/><path d="M12 40h0" stroke="#00c3ff"/><path d="M15 38h0" stroke="#00cbff"/><path d="M11 36h0" stroke="#000dff"/><path d="M16 36h0M11 37h0" stroke="#0018ff"/><path d="M17 52h0" stroke="#4141ff"/><path d="M12 38h0" stroke="#00ebb2"/><path d="M12 34h0" stroke="#0070ff"/><path d="M13 38h0" stroke="#f00000"/><path d="M12 39h0" stroke="#00e3d9"/><path d="M12 37h0" stroke="#00e8bf"/><path d="M13 32h0" stroke="#0045ff"/><path d="M11 38h0" stroke="#001bff"/><path d="M11 39h0" stroke="#0015ff"/><path d="M12 32h0" stroke="#0003ff"/><path d="M12 33h0" stroke="#0033ff"/><path d="M12 41h0" stroke="#008dff"/><path d="M12 43h0" stroke="#001fff"/></g>
<line x1="242.3" y1="94" x2="293.7" y2="94" stroke="#8f8f8f" stroke-width="0.5"/>
<line x1="242.3" y1="94" x2="242.3" y2="124" stroke="#8f8f8f" stroke-width="0.5"/>
<line x1="242.3" y1="124" x2="259.4" y2="124" stroke="#8f8f8f" stroke-width="0.5"/>
<line x1="259.4" y1="124" x2="259.4" y2="145.6" stroke="#8f8f8f" stroke-width="0.5"/>
<text x="291" y="143.3" font-size="5.35" text-anchor="end">2.67%</text>
<line x1="20.5" y1="34" x2="20.5" y2="84" stroke="#b0b0b0" stroke-width="0.6"/>
<line x1="20.5" y1="103" x2="20.5" y2="154" stroke="#b0b0b0" stroke-width="0.6"/>
<text x="22.4" y="93.3" font-size="6.7" text-anchor="middle" transform="rotate(-90 22.4 93.3)">TNF-α</text>
<line x1="32" y1="157.7" x2="116" y2="157.7" stroke="#b0b0b0" stroke-width="0.6"/>
<line x1="135" y1="157.7" x2="215" y2="157.7" stroke="#b0b0b0" stroke-width="0.6"/>
<text x="125.5" y="160.2" font-size="6.6" text-anchor="middle">IFN-γ</text>
<line x1="229.5" y1="34" x2="229.5" y2="78" stroke="#b0b0b0" stroke-width="0.6"/>
<line x1="229.5" y1="104" x2="229.5" y2="154" stroke="#b0b0b0" stroke-width="0.6"/>
<text x="231.4" y="91" font-size="6.7" text-anchor="middle" transform="rotate(-90 231.4 91)">MIP-1β</text>
<text x="268" y="160.8" font-size="6.9" text-anchor="middle">CD107a</text>
<text x="15" y="60.5" font-size="8.8" text-anchor="middle" font-weight="bold" transform="rotate(-90 15 60.5)">CD4<tspan dy="-3.34" font-size="5.46">+</tspan></text>
<text x="15" y="122" font-size="8.8" text-anchor="middle" font-weight="bold" transform="rotate(-90 15 122)">CD8<tspan dy="-3.34" font-size="5.46">+</tspan></text>
<text x="301.6" y="14.9" font-size="14.2" font-weight="bold">b</text>
<circle cx="337.7" cy="10.2" r="3.08" fill="#1c45a0" fill-opacity="0.2"/>
<rect x="330.2" y="5.4" width="15" height="9.8" fill="none" stroke="#1c45a0" stroke-width="1.32"/>
<line x1="330.2" y1="10.2" x2="345.2" y2="10.2" stroke="#1c45a0" stroke-width="2.16"/>
<line x1="337.7" y1="3.2" x2="337.7" y2="5.4" stroke="#1c45a0" stroke-width="1.2"/>
<line x1="337.7" y1="15.2" x2="337.7" y2="17.2" stroke="#1c45a0" stroke-width="1.2"/>
<text x="353.3" y="14.2" font-size="9.6">non-SD</text>
<circle cx="396.9" cy="10.2" r="3.08" fill="#f0141e" fill-opacity="0.2"/>
<rect x="389.4" y="5.4" width="15" height="9.8" fill="none" stroke="#f0141e" stroke-width="1.32"/>
<line x1="389.4" y1="10.2" x2="404.4" y2="10.2" stroke="#f0141e" stroke-width="2.16"/>
<line x1="396.9" y1="3.2" x2="396.9" y2="5.4" stroke="#f0141e" stroke-width="1.2"/>
<line x1="396.9" y1="15.2" x2="396.9" y2="17.2" stroke="#f0141e" stroke-width="1.2"/>
<text x="412" y="14.2" font-size="9.6">SD</text>
<rect x="335.5" y="27" width="93" height="80.4" fill="#fff" stroke="none" stroke-width="1"/>
<line x1="335.5" y1="35.4" x2="428.5" y2="35.4" stroke="#f3f3f3" stroke-width="0.5"/>
<line x1="335.5" y1="52.8" x2="428.5" y2="52.8" stroke="#f3f3f3" stroke-width="0.5"/>
<line x1="335.5" y1="70.2" x2="428.5" y2="70.2" stroke="#f3f3f3" stroke-width="0.5"/>
<line x1="335.5" y1="87.7" x2="428.5" y2="87.7" stroke="#f3f3f3" stroke-width="0.5"/>
<line x1="335.5" y1="104.5" x2="428.5" y2="104.5" stroke="#f3f3f3" stroke-width="0.5"/>
<line x1="335.5" y1="27.3" x2="428.5" y2="27.3" stroke="#e8e8e8" stroke-width="0.6"/>
<line x1="335.5" y1="43.5" x2="428.5" y2="43.5" stroke="#e8e8e8" stroke-width="0.6"/>
<line x1="335.5" y1="62.2" x2="428.5" y2="62.2" stroke="#e8e8e8" stroke-width="0.6"/>
<line x1="335.5" y1="78.3" x2="428.5" y2="78.3" stroke="#e8e8e8" stroke-width="0.6"/>
<line x1="335.5" y1="97.2" x2="428.5" y2="97.2" stroke="#e8e8e8" stroke-width="0.6"/>
<line x1="360.7" y1="27" x2="360.7" y2="107.4" stroke="#e8e8e8" stroke-width="0.6"/>
<line x1="403.2" y1="27" x2="403.2" y2="107.4" stroke="#e8e8e8" stroke-width="0.6"/>
<rect x="335.5" y="27" width="93" height="80.4" fill="none" stroke="#b5b5b5" stroke-width="0.6"/>
<line x1="334.3" y1="27.3" x2="335.5" y2="27.3" stroke="#555" stroke-width="0.4"/>
<text x="333.3" y="28.8" font-size="4.4" text-anchor="end" fill="#4d4d4d">30.0</text>
<line x1="334.3" y1="43.5" x2="335.5" y2="43.5" stroke="#555" stroke-width="0.4"/>
<text x="333.3" y="45" font-size="4.4" text-anchor="end" fill="#4d4d4d">10.0</text>
<line x1="334.3" y1="62.2" x2="335.5" y2="62.2" stroke="#555" stroke-width="0.4"/>
<text x="333.3" y="63.7" font-size="4.4" text-anchor="end" fill="#4d4d4d">3.0</text>
<line x1="334.3" y1="78.3" x2="335.5" y2="78.3" stroke="#555" stroke-width="0.4"/>
<text x="333.3" y="79.8" font-size="4.4" text-anchor="end" fill="#4d4d4d">1.0</text>
<line x1="334.3" y1="97.2" x2="335.5" y2="97.2" stroke="#555" stroke-width="0.4"/>
<text x="333.3" y="98.7" font-size="4.4" text-anchor="end" fill="#4d4d4d">0.3</text>
<circle cx="354" cy="53" r="1.8" fill="#5f82cc" fill-opacity="0.45"/>
<circle cx="355.1" cy="70" r="1.8" fill="#5f82cc" fill-opacity="0.45"/>
<circle cx="358.7" cy="80" r="1.8" fill="#5f82cc" fill-opacity="0.45"/>
<circle cx="354.2" cy="82" r="1.8" fill="#5f82cc" fill-opacity="0.45"/>
<circle cx="354.6" cy="85" r="1.8" fill="#5f82cc" fill-opacity="0.45"/>
<circle cx="355.4" cy="88" r="1.8" fill="#5f82cc" fill-opacity="0.45"/>
<circle cx="351.4" cy="92" r="1.8" fill="#5f82cc" fill-opacity="0.45"/>
<circle cx="354.6" cy="95" r="1.8" fill="#5f82cc" fill-opacity="0.45"/>
<circle cx="355.8" cy="101" r="1.8" fill="#5f82cc" fill-opacity="0.45"/>
<rect x="348.3" y="77.2" width="12.4" height="13.5" fill="none" stroke="#1c45a0" stroke-width="0.7" stroke-opacity="0.55"/>
<line x1="354.5" y1="63.3" x2="354.5" y2="104" stroke="#1c45a0" stroke-width="1.25"/>
<line x1="348.6" y1="63.3" x2="360.4" y2="63.3" stroke="#1c45a0" stroke-width="1.25"/>
<line x1="348.6" y1="104" x2="360.4" y2="104" stroke="#1c45a0" stroke-width="1.25"/>
<line x1="348.3" y1="80.2" x2="360.7" y2="80.2" stroke="#1c45a0" stroke-width="1.25"/>
<circle cx="369.8" cy="60" r="1.8" fill="#f25566" fill-opacity="0.45"/>
<circle cx="363.1" cy="64" r="1.8" fill="#f25566" fill-opacity="0.45"/>
<circle cx="365.1" cy="66" r="1.8" fill="#f25566" fill-opacity="0.45"/>
<circle cx="363.1" cy="69" r="1.8" fill="#f25566" fill-opacity="0.45"/>
<circle cx="370" cy="71" r="1.8" fill="#f25566" fill-opacity="0.45"/>
<circle cx="368.9" cy="73" r="1.8" fill="#f25566" fill-opacity="0.45"/>
<circle cx="362.6" cy="91" r="1.8" fill="#f25566" fill-opacity="0.45"/>
<rect x="361" y="63" width="12" height="10.5" fill="none" stroke="#f0141e" stroke-width="0.7" stroke-opacity="0.55"/>
<line x1="367" y1="59.5" x2="367" y2="73.5" stroke="#f0141e" stroke-width="1.25"/>
<line x1="361.3" y1="59.5" x2="372.7" y2="59.5" stroke="#f0141e" stroke-width="1.25"/>
<line x1="361.3" y1="73.5" x2="372.7" y2="73.5" stroke="#f0141e" stroke-width="1.25"/>
<line x1="361" y1="70" x2="373" y2="70" stroke="#f0141e" stroke-width="1.25"/>
<circle cx="401.5" cy="50" r="1.8" fill="#5f82cc" fill-opacity="0.45"/>
<circle cx="401.3" cy="60" r="1.8" fill="#5f82cc" fill-opacity="0.45"/>
<circle cx="398.4" cy="62" r="1.8" fill="#5f82cc" fill-opacity="0.45"/>
<circle cx="398.1" cy="67" r="1.8" fill="#5f82cc" fill-opacity="0.45"/>
<circle cx="393.8" cy="70" r="1.8" fill="#5f82cc" fill-opacity="0.45"/>
<circle cx="392.5" cy="73" r="1.8" fill="#5f82cc" fill-opacity="0.45"/>
<circle cx="397.3" cy="75" r="1.8" fill="#5f82cc" fill-opacity="0.45"/>
<circle cx="392.9" cy="78" r="1.8" fill="#5f82cc" fill-opacity="0.45"/>
<circle cx="394.1" cy="80" r="1.8" fill="#5f82cc" fill-opacity="0.45"/>
<circle cx="394.6" cy="82" r="1.8" fill="#5f82cc" fill-opacity="0.45"/>
<circle cx="392.6" cy="84" r="1.8" fill="#5f82cc" fill-opacity="0.45"/>
<circle cx="396.7" cy="86" r="1.8" fill="#5f82cc" fill-opacity="0.45"/>
<circle cx="396.4" cy="88" r="1.8" fill="#5f82cc" fill-opacity="0.45"/>
<circle cx="400.2" cy="90" r="1.8" fill="#5f82cc" fill-opacity="0.45"/>
<circle cx="397.2" cy="92" r="1.8" fill="#5f82cc" fill-opacity="0.45"/>
<circle cx="398.3" cy="95" r="1.8" fill="#5f82cc" fill-opacity="0.45"/>
<circle cx="397" cy="98" r="1.8" fill="#5f82cc" fill-opacity="0.45"/>
<rect x="391.2" y="69" width="11.6" height="18" fill="none" stroke="#1c45a0" stroke-width="0.7" stroke-opacity="0.55"/>
<line x1="397" y1="48.7" x2="397" y2="99.5" stroke="#1c45a0" stroke-width="1.25"/>
<line x1="391.5" y1="48.7" x2="402.5" y2="48.7" stroke="#1c45a0" stroke-width="1.25"/>
<line x1="391.5" y1="99.5" x2="402.5" y2="99.5" stroke="#1c45a0" stroke-width="1.25"/>
<line x1="391.2" y1="81.4" x2="402.8" y2="81.4" stroke="#1c45a0" stroke-width="1.25"/>
<circle cx="411.4" cy="70" r="1.8" fill="#f25566" fill-opacity="0.45"/>
<circle cx="409.4" cy="87" r="1.8" fill="#f25566" fill-opacity="0.45"/>
<circle cx="407.7" cy="89" r="1.8" fill="#f25566" fill-opacity="0.45"/>
<circle cx="414.6" cy="95" r="1.8" fill="#f25566" fill-opacity="0.45"/>
<rect x="403.8" y="85.8" width="12" height="4.9" fill="none" stroke="#f0141e" stroke-width="0.7" stroke-opacity="0.55"/>
<line x1="409.8" y1="85.8" x2="409.8" y2="96.7" stroke="#f0141e" stroke-width="1.25"/>
<line x1="404.1" y1="85.8" x2="415.5" y2="85.8" stroke="#f0141e" stroke-width="1.25"/>
<line x1="404.1" y1="96.7" x2="415.5" y2="96.7" stroke="#f0141e" stroke-width="1.25"/>
<line x1="403.8" y1="88" x2="415.8" y2="88" stroke="#f0141e" stroke-width="1.25"/>
<circle cx="368.2" cy="30.2" r="0.9" fill="#f25566"/>
<text x="370.3" y="32.2" font-size="4.6" fill="#222" font-style="italic">p=0.37</text>
<text x="396.2" y="32.2" font-size="4.6" fill="#222" font-style="italic">p=0.08</text>
<path d="M354.7 43.5V34.5H397.5" fill="none" stroke="#888" stroke-width="0.5"/>
<path d="M366.7 43.5V38.7H410.5V48" fill="none" stroke="#888" stroke-width="0.5"/>
<text x="389.2" y="41.5" font-size="9.5" text-anchor="middle" font-weight="bold">*</text>
<text x="360.7" y="49" font-size="9.5" text-anchor="middle" font-weight="bold">*</text>
<line x1="355.5" y1="46.8" x2="366" y2="46.8" stroke="#888" stroke-width="0.5"/>
<rect x="332" y="111.2" width="96.4" height="79.8" fill="#fff" stroke="none" stroke-width="1"/>
<line x1="332" y1="117" x2="428.4" y2="117" stroke="#f3f3f3" stroke-width="0.5"/>
<line x1="332" y1="142.6" x2="428.4" y2="142.6" stroke="#f3f3f3" stroke-width="0.5"/>
<line x1="332" y1="173.5" x2="428.4" y2="173.5" stroke="#f3f3f3" stroke-width="0.5"/>
<line x1="332" y1="126.4" x2="428.4" y2="126.4" stroke="#e8e8e8" stroke-width="0.6"/>
<line x1="332" y1="158.9" x2="428.4" y2="158.9" stroke="#e8e8e8" stroke-width="0.6"/>
<line x1="332" y1="188.3" x2="428.4" y2="188.3" stroke="#e8e8e8" stroke-width="0.6"/>
<line x1="360.7" y1="111.2" x2="360.7" y2="191" stroke="#e8e8e8" stroke-width="0.6"/>
<line x1="403.2" y1="111.2" x2="403.2" y2="191" stroke="#e8e8e8" stroke-width="0.6"/>
<rect x="332" y="111.2" width="96.4" height="79.8" fill="none" stroke="#b5b5b5" stroke-width="0.6"/>
<line x1="330.8" y1="126.4" x2="332" y2="126.4" stroke="#555" stroke-width="0.4"/>
<text x="329.8" y="127.9" font-size="4.4" text-anchor="end" fill="#4d4d4d">10</text>
<line x1="330.8" y1="158.9" x2="332" y2="158.9" stroke="#555" stroke-width="0.4"/>
<text x="329.8" y="160.4" font-size="4.4" text-anchor="end" fill="#4d4d4d">3</text>
<line x1="330.8" y1="188.3" x2="332" y2="188.3" stroke="#555" stroke-width="0.4"/>
<text x="329.8" y="189.8" font-size="4.4" text-anchor="end" fill="#4d4d4d">1</text>
<circle cx="356.7" cy="128" r="1.8" fill="#5f82cc" fill-opacity="0.45"/>
<circle cx="355.1" cy="145" r="1.8" fill="#5f82cc" fill-opacity="0.45"/>
<circle cx="353.8" cy="147" r="1.8" fill="#5f82cc" fill-opacity="0.45"/>
<circle cx="349.8" cy="150" r="1.8" fill="#5f82cc" fill-opacity="0.45"/>
<circle cx="349" cy="152" r="1.8" fill="#5f82cc" fill-opacity="0.45"/>
<circle cx="349.6" cy="157" r="1.8" fill="#5f82cc" fill-opacity="0.45"/>
<circle cx="347.4" cy="160" r="1.8" fill="#5f82cc" fill-opacity="0.45"/>
<circle cx="354.4" cy="162" r="1.8" fill="#5f82cc" fill-opacity="0.45"/>
<circle cx="350.7" cy="165" r="1.8" fill="#5f82cc" fill-opacity="0.45"/>
<circle cx="355.2" cy="170" r="1.8" fill="#5f82cc" fill-opacity="0.45"/>
<circle cx="350.6" cy="175" r="1.8" fill="#5f82cc" fill-opacity="0.45"/>
<circle cx="356.3" cy="178" r="1.8" fill="#5f82cc" fill-opacity="0.45"/>
<circle cx="355.2" cy="181" r="1.8" fill="#5f82cc" fill-opacity="0.45"/>
<circle cx="346.7" cy="185" r="1.8" fill="#5f82cc" fill-opacity="0.45"/>
<rect x="345.4" y="144.5" width="12.6" height="26.5" fill="none" stroke="#1c45a0" stroke-width="0.7" stroke-opacity="0.55"/>
<line x1="351.7" y1="127.7" x2="351.7" y2="186.2" stroke="#1c45a0" stroke-width="1.25"/>
<line x1="345.7" y1="127.7" x2="357.7" y2="127.7" stroke="#1c45a0" stroke-width="1.25"/>
<line x1="345.7" y1="186.2" x2="357.7" y2="186.2" stroke="#1c45a0" stroke-width="1.25"/>
<line x1="345.4" y1="157.5" x2="358" y2="157.5" stroke="#1c45a0" stroke-width="1.25"/>
<circle cx="362.4" cy="138" r="1.8" fill="#f25566" fill-opacity="0.45"/>
<circle cx="369.1" cy="143" r="1.8" fill="#f25566" fill-opacity="0.45"/>
<circle cx="364.9" cy="145" r="1.8" fill="#f25566" fill-opacity="0.45"/>
<circle cx="369.8" cy="147" r="1.8" fill="#f25566" fill-opacity="0.45"/>
<circle cx="364.2" cy="148" r="1.8" fill="#f25566" fill-opacity="0.45"/>
<circle cx="361.1" cy="150" r="1.8" fill="#f25566" fill-opacity="0.45"/>
<circle cx="366.4" cy="180" r="1.8" fill="#f25566" fill-opacity="0.45"/>
<rect x="359.2" y="142.7" width="12" height="8.5" fill="none" stroke="#f0141e" stroke-width="0.7" stroke-opacity="0.55"/>
<line x1="365.2" y1="135.5" x2="365.2" y2="151.2" stroke="#f0141e" stroke-width="1.25"/>
<line x1="359.5" y1="135.5" x2="370.9" y2="135.5" stroke="#f0141e" stroke-width="1.25"/>
<line x1="359.5" y1="151.2" x2="370.9" y2="151.2" stroke="#f0141e" stroke-width="1.25"/>
<line x1="359.2" y1="148" x2="371.2" y2="148" stroke="#f0141e" stroke-width="1.25"/>
<circle cx="398.5" cy="133" r="1.8" fill="#5f82cc" fill-opacity="0.45"/>
<circle cx="393.8" cy="136" r="1.8" fill="#5f82cc" fill-opacity="0.45"/>
<circle cx="392.1" cy="140" r="1.8" fill="#5f82cc" fill-opacity="0.45"/>
<circle cx="394.3" cy="143" r="1.8" fill="#5f82cc" fill-opacity="0.45"/>
<circle cx="400.2" cy="146" r="1.8" fill="#5f82cc" fill-opacity="0.45"/>
<circle cx="398.3" cy="149" r="1.8" fill="#5f82cc" fill-opacity="0.45"/>
<circle cx="392.4" cy="151" r="1.8" fill="#5f82cc" fill-opacity="0.45"/>
<circle cx="393.5" cy="153" r="1.8" fill="#5f82cc" fill-opacity="0.45"/>
<circle cx="392.2" cy="155" r="1.8" fill="#5f82cc" fill-opacity="0.45"/>
<circle cx="391.8" cy="157" r="1.8" fill="#5f82cc" fill-opacity="0.45"/>
<circle cx="398.7" cy="159" r="1.8" fill="#5f82cc" fill-opacity="0.45"/>
<circle cx="392.9" cy="161" r="1.8" fill="#5f82cc" fill-opacity="0.45"/>
<circle cx="396.5" cy="164" r="1.8" fill="#5f82cc" fill-opacity="0.45"/>
<circle cx="395.4" cy="167" r="1.8" fill="#5f82cc" fill-opacity="0.45"/>
<circle cx="393" cy="170" r="1.8" fill="#5f82cc" fill-opacity="0.45"/>
<circle cx="398.1" cy="175" r="1.8" fill="#5f82cc" fill-opacity="0.45"/>
<circle cx="392.5" cy="181" r="1.8" fill="#5f82cc" fill-opacity="0.45"/>
<circle cx="397.2" cy="185" r="1.8" fill="#5f82cc" fill-opacity="0.45"/>
<rect x="390.1" y="148.2" width="11.6" height="14" fill="none" stroke="#1c45a0" stroke-width="0.7" stroke-opacity="0.55"/>
<line x1="395.9" y1="130.7" x2="395.9" y2="177.5" stroke="#1c45a0" stroke-width="1.25"/>
<line x1="390.4" y1="130.7" x2="401.4" y2="130.7" stroke="#1c45a0" stroke-width="1.25"/>
<line x1="390.4" y1="177.5" x2="401.4" y2="177.5" stroke="#1c45a0" stroke-width="1.25"/>
<line x1="390.1" y1="155.3" x2="401.7" y2="155.3" stroke="#1c45a0" stroke-width="1.25"/>
<circle cx="405.7" cy="150" r="1.8" fill="#f25566" fill-opacity="0.45"/>
<circle cx="408.6" cy="156" r="1.8" fill="#f25566" fill-opacity="0.45"/>
<circle cx="406.6" cy="160" r="1.8" fill="#f25566" fill-opacity="0.45"/>
<circle cx="407.2" cy="177" r="1.8" fill="#f25566" fill-opacity="0.45"/>
<circle cx="414" cy="177" r="1.8" fill="#f25566" fill-opacity="0.45"/>
<rect x="403.3" y="155.3" width="12.2" height="22.2" fill="none" stroke="#f0141e" stroke-width="0.7" stroke-opacity="0.55"/>
<line x1="409.4" y1="140" x2="409.4" y2="177.5" stroke="#f0141e" stroke-width="1.25"/>
<line x1="403.6" y1="140" x2="415.2" y2="140" stroke="#f0141e" stroke-width="1.25"/>
<line x1="403.6" y1="177.5" x2="415.2" y2="177.5" stroke="#f0141e" stroke-width="1.25"/>
<line x1="403.3" y1="161.7" x2="415.5" y2="161.7" stroke="#f0141e" stroke-width="1.25"/>
<circle cx="365.3" cy="115.2" r="0.9" fill="#f25566"/>
<text x="371.2" y="116.6" font-size="4.6" fill="#222" font-style="italic">p=0.65</text>
<path d="M352.5 121V116.4H396" fill="none" stroke="#888" stroke-width="0.5"/>
<text x="353.5" y="124.6" font-size="4.6" fill="#222" font-style="italic">p=0.2</text>
<path d="M352.5 125.5H364.5V121.5" fill="none" stroke="#888" stroke-width="0.5"/>
<path d="M364.5 122.3H397" fill="none" stroke="#888" stroke-width="0.5"/>
<text x="381.5" y="121.3" font-size="4.6" fill="#222" font-style="italic">p=0.056</text>
<text x="397.2" y="126.3" font-size="4.6" fill="#222" font-style="italic">p=0.2</text>
<path d="M396 127.5H410V125" fill="none" stroke="#888" stroke-width="0.5"/>
<line x1="360.3" y1="191" x2="360.3" y2="192.2" stroke="#555" stroke-width="0.4"/>
<text x="360.3" y="200.3" font-size="8.2" text-anchor="middle">TP1</text>
<line x1="402.8" y1="191" x2="402.8" y2="192.2" stroke="#555" stroke-width="0.4"/>
<text x="402.8" y="200.3" font-size="8.2" text-anchor="middle">TP2</text>
<line x1="360.7" y1="107.4" x2="360.7" y2="108.6" stroke="#555" stroke-width="0.4"/>
<line x1="403.2" y1="107.4" x2="403.2" y2="108.6" stroke="#555" stroke-width="0.4"/>
<text x="316.8" y="70" font-size="7.4" text-anchor="middle" transform="rotate(-90 316.8 70)">CD4<tspan dy="-2.81" font-size="4.59">+</tspan><tspan dy="2.81"> Cytokine</tspan><tspan dy="-2.81" font-size="4.59">+</tspan></text>
<text x="323.4" y="69.6" font-size="7" text-anchor="middle" transform="rotate(-90 323.4 69.6)">and/or CD107a<tspan dy="-2.66" font-size="4.34">+</tspan><tspan dy="2.66"> (%) log</tspan><tspan dy="1.40" font-size="4.34">10</tspan></text>
<text x="316.8" y="154.8" font-size="7.4" text-anchor="middle" transform="rotate(-90 316.8 154.8)">CD8<tspan dy="-2.81" font-size="4.59">+</tspan><tspan dy="2.81"> Cytokine</tspan><tspan dy="-2.81" font-size="4.59">+</tspan></text>
<text x="323.4" y="154.3" font-size="7" text-anchor="middle" transform="rotate(-90 323.4 154.3)">and/or CD107a<tspan dy="-2.66" font-size="4.34">+</tspan><tspan dy="2.66"> (%) log</tspan><tspan dy="1.40" font-size="4.34">10</tspan></text>
<text x="435.9" y="15.8" font-size="14.2" font-weight="bold">c</text>
<rect x="467.2" y="1.2" width="156.9" height="90.8" fill="#fff" stroke="none" stroke-width="1"/>
<line x1="467.2" y1="78.1" x2="624.1" y2="78.1" stroke="#f3f3f3" stroke-width="0.5"/>
<line x1="467.2" y1="53.5" x2="624.1" y2="53.5" stroke="#f3f3f3" stroke-width="0.5"/>
<line x1="467.2" y1="28.9" x2="624.1" y2="28.9" stroke="#f3f3f3" stroke-width="0.5"/>
<line x1="467.2" y1="4.3" x2="624.1" y2="4.3" stroke="#f3f3f3" stroke-width="0.5"/>
<line x1="467.2" y1="90.4" x2="624.1" y2="90.4" stroke="#e8e8e8" stroke-width="0.6"/>
<line x1="467.2" y1="65.8" x2="624.1" y2="65.8" stroke="#e8e8e8" stroke-width="0.6"/>
<line x1="467.2" y1="41.2" x2="624.1" y2="41.2" stroke="#e8e8e8" stroke-width="0.6"/>
<line x1="467.2" y1="16.6" x2="624.1" y2="16.6" stroke="#e8e8e8" stroke-width="0.6"/>
<line x1="489.5" y1="1.2" x2="489.5" y2="92" stroke="#e8e8e8" stroke-width="0.6"/>
<line x1="526.8" y1="1.2" x2="526.8" y2="92" stroke="#e8e8e8" stroke-width="0.6"/>
<line x1="564.1" y1="1.2" x2="564.1" y2="92" stroke="#e8e8e8" stroke-width="0.6"/>
<line x1="601.4" y1="1.2" x2="601.4" y2="92" stroke="#e8e8e8" stroke-width="0.6"/>
<rect x="467.2" y="1.2" width="156.9" height="90.8" fill="none" stroke="#b5b5b5" stroke-width="0.6"/>
<line x1="466" y1="90.4" x2="467.2" y2="90.4" stroke="#555" stroke-width="0.4"/>
<text x="465" y="92.2" font-size="5" text-anchor="end" fill="#4d4d4d">0</text>
<line x1="466" y1="65.8" x2="467.2" y2="65.8" stroke="#555" stroke-width="0.4"/>
<text x="465" y="67.6" font-size="5" text-anchor="end" fill="#4d4d4d">2</text>
<line x1="466" y1="41.2" x2="467.2" y2="41.2" stroke="#555" stroke-width="0.4"/>
<text x="465" y="43" font-size="5" text-anchor="end" fill="#4d4d4d">4</text>
<line x1="466" y1="16.6" x2="467.2" y2="16.6" stroke="#555" stroke-width="0.4"/>
<text x="465" y="18.3" font-size="5" text-anchor="end" fill="#4d4d4d">6</text>
<text x="621.5" y="8.6" font-size="7.3" text-anchor="end">non-SD vs SD p=0.01</text>
<circle cx="484.5" cy="41" r="1.9" fill="#5f82cc" fill-opacity="0.45"/>
<circle cx="481.7" cy="63" r="1.9" fill="#5f82cc" fill-opacity="0.45"/>
<circle cx="484.6" cy="69" r="1.9" fill="#5f82cc" fill-opacity="0.45"/>
<circle cx="482.8" cy="75" r="1.9" fill="#5f82cc" fill-opacity="0.45"/>
<circle cx="483.4" cy="77" r="1.9" fill="#5f82cc" fill-opacity="0.45"/>
<circle cx="487.5" cy="80" r="1.9" fill="#5f82cc" fill-opacity="0.45"/>
<circle cx="483.7" cy="83" r="1.9" fill="#5f82cc" fill-opacity="0.45"/>
<circle cx="484.4" cy="85" r="1.9" fill="#5f82cc" fill-opacity="0.45"/>
<circle cx="486.8" cy="86" r="1.9" fill="#5f82cc" fill-opacity="0.45"/>
<circle cx="481.2" cy="87" r="1.9" fill="#5f82cc" fill-opacity="0.45"/>
<circle cx="481" cy="70.1" r="1.9" fill="#5f82cc" fill-opacity="0.45"/>
<circle cx="487.1" cy="67.6" r="1.9" fill="#5f82cc" fill-opacity="0.45"/>
<circle cx="486.4" cy="85.1" r="1.9" fill="#5f82cc" fill-opacity="0.45"/>
<circle cx="481.8" cy="71.5" r="1.9" fill="#5f82cc" fill-opacity="0.45"/>
<circle cx="481.3" cy="67.7" r="1.9" fill="#5f82cc" fill-opacity="0.45"/>
<circle cx="485.8" cy="83.6" r="1.9" fill="#5f82cc" fill-opacity="0.45"/>
<circle cx="487.4" cy="75" r="1.9" fill="#5f82cc" fill-opacity="0.45"/>
<circle cx="481.3" cy="71.3" r="1.9" fill="#5f82cc" fill-opacity="0.45"/>
<rect x="478.7" y="69.7" width="10.2" height="18" fill="none" stroke="#1c45a0" stroke-width="0.7" stroke-opacity="0.55"/>
<line x1="483.8" y1="62" x2="483.8" y2="88.5" stroke="#1c45a0" stroke-width="1.25"/>
<line x1="479" y1="62" x2="488.6" y2="62" stroke="#1c45a0" stroke-width="1.25"/>
<line x1="479" y1="88.5" x2="488.6" y2="88.5" stroke="#1c45a0" stroke-width="1.25"/>
<line x1="478.7" y1="85.5" x2="488.9" y2="85.5" stroke="#1c45a0" stroke-width="1.25"/>
<circle cx="519.3" cy="4" r="1.9" fill="#5f82cc" fill-opacity="0.45"/>
<circle cx="522" cy="29" r="1.9" fill="#5f82cc" fill-opacity="0.45"/>
<circle cx="524.4" cy="50" r="1.9" fill="#5f82cc" fill-opacity="0.45"/>
<circle cx="522.4" cy="52" r="1.9" fill="#5f82cc" fill-opacity="0.45"/>
<circle cx="519.7" cy="58" r="1.9" fill="#5f82cc" fill-opacity="0.45"/>
<circle cx="524.9" cy="62" r="1.9" fill="#5f82cc" fill-opacity="0.45"/>
<circle cx="519.1" cy="66" r="1.9" fill="#5f82cc" fill-opacity="0.45"/>
<circle cx="517.6" cy="70" r="1.9" fill="#5f82cc" fill-opacity="0.45"/>
<circle cx="519.6" cy="74" r="1.9" fill="#5f82cc" fill-opacity="0.45"/>
<circle cx="521.1" cy="78" r="1.9" fill="#5f82cc" fill-opacity="0.45"/>
<circle cx="517.9" cy="80" r="1.9" fill="#5f82cc" fill-opacity="0.45"/>
<circle cx="518.9" cy="82" r="1.9" fill="#5f82cc" fill-opacity="0.45"/>
<circle cx="520.4" cy="84" r="1.9" fill="#5f82cc" fill-opacity="0.45"/>
<circle cx="522.1" cy="86" r="1.9" fill="#5f82cc" fill-opacity="0.45"/>
<circle cx="518.5" cy="87" r="1.9" fill="#5f82cc" fill-opacity="0.45"/>
<circle cx="520.4" cy="88" r="1.9" fill="#5f82cc" fill-opacity="0.45"/>
<circle cx="524.7" cy="84.1" r="1.9" fill="#5f82cc" fill-opacity="0.45"/>
<circle cx="525.4" cy="75.7" r="1.9" fill="#5f82cc" fill-opacity="0.45"/>
<circle cx="522.8" cy="68" r="1.9" fill="#5f82cc" fill-opacity="0.45"/>
<circle cx="523.1" cy="57.5" r="1.9" fill="#5f82cc" fill-opacity="0.45"/>
<circle cx="522.2" cy="58.3" r="1.9" fill="#5f82cc" fill-opacity="0.45"/>
<circle cx="518.6" cy="72.3" r="1.9" fill="#5f82cc" fill-opacity="0.45"/>
<circle cx="517.7" cy="70.7" r="1.9" fill="#5f82cc" fill-opacity="0.45"/>
<circle cx="517.6" cy="50.5" r="1.9" fill="#5f82cc" fill-opacity="0.45"/>
<rect x="516.4" y="67.2" width="10.2" height="20.2" fill="none" stroke="#1c45a0" stroke-width="0.7" stroke-opacity="0.55"/>
<line x1="521.5" y1="47.7" x2="521.5" y2="89" stroke="#1c45a0" stroke-width="1.25"/>
<line x1="516.7" y1="47.7" x2="526.3" y2="47.7" stroke="#1c45a0" stroke-width="1.25"/>
<line x1="516.7" y1="89" x2="526.3" y2="89" stroke="#1c45a0" stroke-width="1.25"/>
<line x1="516.4" y1="81" x2="526.6" y2="81" stroke="#1c45a0" stroke-width="1.25"/>
<circle cx="561.9" cy="67" r="1.9" fill="#5f82cc" fill-opacity="0.45"/>
<circle cx="557.3" cy="72" r="1.9" fill="#5f82cc" fill-opacity="0.45"/>
<circle cx="560" cy="78" r="1.9" fill="#5f82cc" fill-opacity="0.45"/>
<circle cx="561.8" cy="83" r="1.9" fill="#5f82cc" fill-opacity="0.45"/>
<circle cx="561.5" cy="86" r="1.9" fill="#5f82cc" fill-opacity="0.45"/>
<circle cx="557.8" cy="87" r="1.9" fill="#5f82cc" fill-opacity="0.45"/>
<circle cx="560.9" cy="88" r="1.9" fill="#5f82cc" fill-opacity="0.45"/>
<circle cx="561.5" cy="81.2" r="1.9" fill="#5f82cc" fill-opacity="0.45"/>
<circle cx="559.1" cy="63.6" r="1.9" fill="#5f82cc" fill-opacity="0.45"/>
<circle cx="559.5" cy="81.7" r="1.9" fill="#5f82cc" fill-opacity="0.45"/>
<circle cx="557.5" cy="71.3" r="1.9" fill="#5f82cc" fill-opacity="0.45"/>
<circle cx="559.2" cy="65" r="1.9" fill="#5f82cc" fill-opacity="0.45"/>
<circle cx="559.4" cy="85.1" r="1.9" fill="#5f82cc" fill-opacity="0.45"/>
<circle cx="555.1" cy="82.2" r="1.9" fill="#5f82cc" fill-opacity="0.45"/>
<circle cx="559.6" cy="83.6" r="1.9" fill="#5f82cc" fill-opacity="0.45"/>
<rect x="553.4" y="75.4" width="10.2" height="13.1" fill="none" stroke="#1c45a0" stroke-width="0.7" stroke-opacity="0.55"/>
<line x1="558.5" y1="63" x2="558.5" y2="89" stroke="#1c45a0" stroke-width="1.25"/>
<line x1="553.7" y1="63" x2="563.3" y2="63" stroke="#1c45a0" stroke-width="1.25"/>
<line x1="553.7" y1="89" x2="563.3" y2="89" stroke="#1c45a0" stroke-width="1.25"/>
<line x1="553.4" y1="85.5" x2="563.6" y2="85.5" stroke="#1c45a0" stroke-width="1.25"/>
<circle cx="596.8" cy="38" r="1.9" fill="#5f82cc" fill-opacity="0.45"/>
<circle cx="599.3" cy="43" r="1.9" fill="#5f82cc" fill-opacity="0.45"/>
<circle cx="593.9" cy="60" r="1.9" fill="#5f82cc" fill-opacity="0.45"/>
<circle cx="591.9" cy="66" r="1.9" fill="#5f82cc" fill-opacity="0.45"/>
<circle cx="594.3" cy="70" r="1.9" fill="#5f82cc" fill-opacity="0.45"/>
<circle cx="597.4" cy="74" r="1.9" fill="#5f82cc" fill-opacity="0.45"/>
<circle cx="593.5" cy="78" r="1.9" fill="#5f82cc" fill-opacity="0.45"/>
<circle cx="593.2" cy="82" r="1.9" fill="#5f82cc" fill-opacity="0.45"/>
<circle cx="599.2" cy="85" r="1.9" fill="#5f82cc" fill-opacity="0.45"/>
<circle cx="597.2" cy="87" r="1.9" fill="#5f82cc" fill-opacity="0.45"/>
<circle cx="595.4" cy="88" r="1.9" fill="#5f82cc" fill-opacity="0.45"/>
<circle cx="599.1" cy="85.9" r="1.9" fill="#5f82cc" fill-opacity="0.45"/>
<circle cx="594.5" cy="73.1" r="1.9" fill="#5f82cc" fill-opacity="0.45"/>
<circle cx="597.3" cy="78.1" r="1.9" fill="#5f82cc" fill-opacity="0.45"/>
<circle cx="593.4" cy="85.5" r="1.9" fill="#5f82cc" fill-opacity="0.45"/>
<circle cx="595.3" cy="83.8" r="1.9" fill="#5f82cc" fill-opacity="0.45"/>
<circle cx="598.4" cy="81" r="1.9" fill="#5f82cc" fill-opacity="0.45"/>
<circle cx="599.3" cy="74" r="1.9" fill="#5f82cc" fill-opacity="0.45"/>
<circle cx="599" cy="79" r="1.9" fill="#5f82cc" fill-opacity="0.45"/>
<rect x="590.8" y="69.7" width="10.2" height="18.8" fill="none" stroke="#1c45a0" stroke-width="0.7" stroke-opacity="0.55"/>
<line x1="595.9" y1="63" x2="595.9" y2="89" stroke="#1c45a0" stroke-width="1.25"/>
<line x1="591.1" y1="63" x2="600.7" y2="63" stroke="#1c45a0" stroke-width="1.25"/>
<line x1="591.1" y1="89" x2="600.7" y2="89" stroke="#1c45a0" stroke-width="1.25"/>
<line x1="590.8" y1="84.5" x2="601" y2="84.5" stroke="#1c45a0" stroke-width="1.25"/>
<circle cx="498.9" cy="73" r="1.9" fill="#f25566" fill-opacity="0.45"/>
<circle cx="493.4" cy="84" r="1.9" fill="#f25566" fill-opacity="0.45"/>
<circle cx="492.5" cy="86" r="1.9" fill="#f25566" fill-opacity="0.45"/>
<circle cx="494.8" cy="87" r="1.9" fill="#f25566" fill-opacity="0.45"/>
<circle cx="493.4" cy="88" r="1.9" fill="#f25566" fill-opacity="0.45"/>
<circle cx="492.9" cy="86.2" r="1.9" fill="#f25566" fill-opacity="0.45"/>
<circle cx="494.5" cy="84.7" r="1.9" fill="#f25566" fill-opacity="0.45"/>
<circle cx="496.2" cy="87.1" r="1.9" fill="#f25566" fill-opacity="0.45"/>
<circle cx="495.2" cy="86.9" r="1.9" fill="#f25566" fill-opacity="0.45"/>
<rect x="490.1" y="84.2" width="10.2" height="3.5" fill="none" stroke="#f0141e" stroke-width="0.7" stroke-opacity="0.55"/>
<line x1="495.2" y1="83.5" x2="495.2" y2="88.3" stroke="#f0141e" stroke-width="1.25"/>
<line x1="490.4" y1="83.5" x2="500" y2="83.5" stroke="#f0141e" stroke-width="1.25"/>
<line x1="490.4" y1="88.3" x2="500" y2="88.3" stroke="#f0141e" stroke-width="1.25"/>
<line x1="490.1" y1="86" x2="500.3" y2="86" stroke="#f0141e" stroke-width="1.25"/>
<circle cx="534.1" cy="69" r="1.9" fill="#f25566" fill-opacity="0.45"/>
<circle cx="533" cy="83" r="1.9" fill="#f25566" fill-opacity="0.45"/>
<circle cx="530.8" cy="85" r="1.9" fill="#f25566" fill-opacity="0.45"/>
<circle cx="534.8" cy="86" r="1.9" fill="#f25566" fill-opacity="0.45"/>
<circle cx="528.5" cy="87" r="1.9" fill="#f25566" fill-opacity="0.45"/>
<circle cx="529.4" cy="86.8" r="1.9" fill="#f25566" fill-opacity="0.45"/>
<circle cx="532" cy="84.9" r="1.9" fill="#f25566" fill-opacity="0.45"/>
<circle cx="528.5" cy="82.4" r="1.9" fill="#f25566" fill-opacity="0.45"/>
<circle cx="535.1" cy="82.3" r="1.9" fill="#f25566" fill-opacity="0.45"/>
<rect x="527.3" y="82.2" width="10.2" height="5.5" fill="none" stroke="#f0141e" stroke-width="0.7" stroke-opacity="0.55"/>
<line x1="532.4" y1="82" x2="532.4" y2="88.3" stroke="#f0141e" stroke-width="1.25"/>
<line x1="527.6" y1="82" x2="537.2" y2="82" stroke="#f0141e" stroke-width="1.25"/>
<line x1="527.6" y1="88.3" x2="537.2" y2="88.3" stroke="#f0141e" stroke-width="1.25"/>
<line x1="527.3" y1="85.5" x2="537.5" y2="85.5" stroke="#f0141e" stroke-width="1.25"/>
<circle cx="573.6" cy="84" r="1.9" fill="#f25566" fill-opacity="0.45"/>
<circle cx="571.4" cy="85" r="1.9" fill="#f25566" fill-opacity="0.45"/>
<circle cx="567.4" cy="86" r="1.9" fill="#f25566" fill-opacity="0.45"/>
<circle cx="569.7" cy="87" r="1.9" fill="#f25566" fill-opacity="0.45"/>
<circle cx="567.3" cy="88" r="1.9" fill="#f25566" fill-opacity="0.45"/>
<circle cx="565.9" cy="84.5" r="1.9" fill="#f25566" fill-opacity="0.45"/>
<circle cx="569.7" cy="86.3" r="1.9" fill="#f25566" fill-opacity="0.45"/>
<circle cx="571.6" cy="86.3" r="1.9" fill="#f25566" fill-opacity="0.45"/>
<circle cx="567.3" cy="87" r="1.9" fill="#f25566" fill-opacity="0.45"/>
<rect x="564.8" y="84" width="10.2" height="3.7" fill="none" stroke="#f0141e" stroke-width="0.7" stroke-opacity="0.55"/>
<line x1="569.9" y1="84" x2="569.9" y2="88" stroke="#f0141e" stroke-width="1.25"/>
<line x1="565.1" y1="84" x2="574.7" y2="84" stroke="#f0141e" stroke-width="1.25"/>
<line x1="565.1" y1="88" x2="574.7" y2="88" stroke="#f0141e" stroke-width="1.25"/>
<line x1="564.8" y1="86" x2="575" y2="86" stroke="#f0141e" stroke-width="1.25"/>
<circle cx="610.6" cy="71" r="1.9" fill="#f25566" fill-opacity="0.45"/>
<circle cx="603.9" cy="84" r="1.9" fill="#f25566" fill-opacity="0.45"/>
<circle cx="610.8" cy="86" r="1.9" fill="#f25566" fill-opacity="0.45"/>
<circle cx="609.1" cy="87" r="1.9" fill="#f25566" fill-opacity="0.45"/>
<circle cx="604.3" cy="88" r="1.9" fill="#f25566" fill-opacity="0.45"/>
<circle cx="606.9" cy="85.5" r="1.9" fill="#f25566" fill-opacity="0.45"/>
<circle cx="608.3" cy="86.1" r="1.9" fill="#f25566" fill-opacity="0.45"/>
<circle cx="610.6" cy="87" r="1.9" fill="#f25566" fill-opacity="0.45"/>
<circle cx="606.3" cy="87.1" r="1.9" fill="#f25566" fill-opacity="0.45"/>
<rect x="602.2" y="84.2" width="10.2" height="3.7" fill="none" stroke="#f0141e" stroke-width="0.7" stroke-opacity="0.55"/>
<line x1="607.3" y1="83" x2="607.3" y2="88.6" stroke="#f0141e" stroke-width="1.25"/>
<line x1="602.5" y1="83" x2="612.1" y2="83" stroke="#f0141e" stroke-width="1.25"/>
<line x1="602.5" y1="88.6" x2="612.1" y2="88.6" stroke="#f0141e" stroke-width="1.25"/>
<line x1="602.2" y1="86" x2="612.4" y2="86" stroke="#f0141e" stroke-width="1.25"/>
<rect x="467.2" y="96.7" width="156.9" height="91.6" fill="#fff" stroke="none" stroke-width="1"/>
<line x1="467.2" y1="183.6" x2="624.1" y2="183.6" stroke="#f3f3f3" stroke-width="0.5"/>
<line x1="467.2" y1="161.4" x2="624.1" y2="161.4" stroke="#f3f3f3" stroke-width="0.5"/>
<line x1="467.2" y1="139.2" x2="624.1" y2="139.2" stroke="#f3f3f3" stroke-width="0.5"/>
<line x1="467.2" y1="117" x2="624.1" y2="117" stroke="#f3f3f3" stroke-width="0.5"/>
<line x1="467.2" y1="172.5" x2="624.1" y2="172.5" stroke="#e8e8e8" stroke-width="0.6"/>
<line x1="467.2" y1="150.3" x2="624.1" y2="150.3" stroke="#e8e8e8" stroke-width="0.6"/>
<line x1="467.2" y1="128.1" x2="624.1" y2="128.1" stroke="#e8e8e8" stroke-width="0.6"/>
<line x1="467.2" y1="105.9" x2="624.1" y2="105.9" stroke="#e8e8e8" stroke-width="0.6"/>
<line x1="489.5" y1="96.7" x2="489.5" y2="188.3" stroke="#e8e8e8" stroke-width="0.6"/>
<line x1="526.8" y1="96.7" x2="526.8" y2="188.3" stroke="#e8e8e8" stroke-width="0.6"/>
<line x1="564.1" y1="96.7" x2="564.1" y2="188.3" stroke="#e8e8e8" stroke-width="0.6"/>
<line x1="601.4" y1="96.7" x2="601.4" y2="188.3" stroke="#e8e8e8" stroke-width="0.6"/>
<rect x="467.2" y="96.7" width="156.9" height="91.6" fill="none" stroke="#b5b5b5" stroke-width="0.6"/>
<line x1="466" y1="172.5" x2="467.2" y2="172.5" stroke="#555" stroke-width="0.4"/>
<text x="465" y="174.2" font-size="5" text-anchor="end" fill="#4d4d4d">2</text>
<line x1="466" y1="150.3" x2="467.2" y2="150.3" stroke="#555" stroke-width="0.4"/>
<text x="465" y="152" font-size="5" text-anchor="end" fill="#4d4d4d">4</text>
<line x1="466" y1="128.1" x2="467.2" y2="128.1" stroke="#555" stroke-width="0.4"/>
<text x="465" y="129.8" font-size="5" text-anchor="end" fill="#4d4d4d">6</text>
<line x1="466" y1="105.9" x2="467.2" y2="105.9" stroke="#555" stroke-width="0.4"/>
<text x="465" y="107.6" font-size="5" text-anchor="end" fill="#4d4d4d">8</text>
<text x="622" y="104.4" font-size="7.3" text-anchor="end">non-SD vs SD p=0.02</text>
<circle cx="486.2" cy="119" r="1.9" fill="#5f82cc" fill-opacity="0.45"/>
<circle cx="482.3" cy="138" r="1.9" fill="#5f82cc" fill-opacity="0.45"/>
<circle cx="487.2" cy="143" r="1.9" fill="#5f82cc" fill-opacity="0.45"/>
<circle cx="486.8" cy="150" r="1.9" fill="#5f82cc" fill-opacity="0.45"/>
<circle cx="482.5" cy="152" r="1.9" fill="#5f82cc" fill-opacity="0.45"/>
<circle cx="480.3" cy="156" r="1.9" fill="#5f82cc" fill-opacity="0.45"/>
<circle cx="483.3" cy="160" r="1.9" fill="#5f82cc" fill-opacity="0.45"/>
<circle cx="484.2" cy="163" r="1.9" fill="#5f82cc" fill-opacity="0.45"/>
<circle cx="486" cy="165" r="1.9" fill="#5f82cc" fill-opacity="0.45"/>
<circle cx="483.7" cy="168" r="1.9" fill="#5f82cc" fill-opacity="0.45"/>
<circle cx="479.9" cy="171" r="1.9" fill="#5f82cc" fill-opacity="0.45"/>
<circle cx="486.4" cy="174" r="1.9" fill="#5f82cc" fill-opacity="0.45"/>
<circle cx="480.2" cy="177" r="1.9" fill="#5f82cc" fill-opacity="0.45"/>
<circle cx="486.3" cy="180" r="1.9" fill="#5f82cc" fill-opacity="0.45"/>
<circle cx="481.1" cy="183" r="1.9" fill="#5f82cc" fill-opacity="0.45"/>
<circle cx="482.4" cy="170.9" r="1.9" fill="#5f82cc" fill-opacity="0.45"/>
<circle cx="486.2" cy="180.6" r="1.9" fill="#5f82cc" fill-opacity="0.45"/>
<circle cx="480.8" cy="164.3" r="1.9" fill="#5f82cc" fill-opacity="0.45"/>
<circle cx="480.9" cy="166.4" r="1.9" fill="#5f82cc" fill-opacity="0.45"/>
<circle cx="483.9" cy="160.9" r="1.9" fill="#5f82cc" fill-opacity="0.45"/>
<circle cx="485.7" cy="133.1" r="1.9" fill="#5f82cc" fill-opacity="0.45"/>
<circle cx="486.6" cy="182.9" r="1.9" fill="#5f82cc" fill-opacity="0.45"/>
<circle cx="485.4" cy="154.1" r="1.9" fill="#5f82cc" fill-opacity="0.45"/>
<rect x="478.6" y="145.5" width="10.4" height="28.9" fill="none" stroke="#1c45a0" stroke-width="0.7" stroke-opacity="0.55"/>
<line x1="483.8" y1="119.2" x2="483.8" y2="184.2" stroke="#1c45a0" stroke-width="1.25"/>
<line x1="478.9" y1="119.2" x2="488.7" y2="119.2" stroke="#1c45a0" stroke-width="1.25"/>
<line x1="478.9" y1="184.2" x2="488.7" y2="184.2" stroke="#1c45a0" stroke-width="1.25"/>
<line x1="478.6" y1="162.4" x2="489" y2="162.4" stroke="#1c45a0" stroke-width="1.25"/>
<circle cx="519.1" cy="103" r="1.9" fill="#5f82cc" fill-opacity="0.45"/>
<circle cx="524.4" cy="116" r="1.9" fill="#5f82cc" fill-opacity="0.45"/>
<circle cx="525.4" cy="122" r="1.9" fill="#5f82cc" fill-opacity="0.45"/>
<circle cx="521.7" cy="127" r="1.9" fill="#5f82cc" fill-opacity="0.45"/>
<circle cx="522.1" cy="140" r="1.9" fill="#5f82cc" fill-opacity="0.45"/>
<circle cx="519" cy="145" r="1.9" fill="#5f82cc" fill-opacity="0.45"/>
<circle cx="521.8" cy="148" r="1.9" fill="#5f82cc" fill-opacity="0.45"/>
<circle cx="521.5" cy="152" r="1.9" fill="#5f82cc" fill-opacity="0.45"/>
<circle cx="522.4" cy="155" r="1.9" fill="#5f82cc" fill-opacity="0.45"/>
<circle cx="517.6" cy="158" r="1.9" fill="#5f82cc" fill-opacity="0.45"/>
<circle cx="525.4" cy="160" r="1.9" fill="#5f82cc" fill-opacity="0.45"/>
<circle cx="521.6" cy="163" r="1.9" fill="#5f82cc" fill-opacity="0.45"/>
<circle cx="520.7" cy="166" r="1.9" fill="#5f82cc" fill-opacity="0.45"/>
<circle cx="524" cy="170" r="1.9" fill="#5f82cc" fill-opacity="0.45"/>
<circle cx="522" cy="174" r="1.9" fill="#5f82cc" fill-opacity="0.45"/>
<circle cx="521.4" cy="178" r="1.9" fill="#5f82cc" fill-opacity="0.45"/>
<circle cx="523.1" cy="182" r="1.9" fill="#5f82cc" fill-opacity="0.45"/>
<circle cx="517.9" cy="151.8" r="1.9" fill="#5f82cc" fill-opacity="0.45"/>
<circle cx="521.8" cy="126.4" r="1.9" fill="#5f82cc" fill-opacity="0.45"/>
<circle cx="520.8" cy="161.5" r="1.9" fill="#5f82cc" fill-opacity="0.45"/>
<circle cx="525.3" cy="166.8" r="1.9" fill="#5f82cc" fill-opacity="0.45"/>
<circle cx="525" cy="161.4" r="1.9" fill="#5f82cc" fill-opacity="0.45"/>
<circle cx="519.6" cy="156" r="1.9" fill="#5f82cc" fill-opacity="0.45"/>
<circle cx="521.3" cy="157.6" r="1.9" fill="#5f82cc" fill-opacity="0.45"/>
<circle cx="518.4" cy="177.3" r="1.9" fill="#5f82cc" fill-opacity="0.45"/>
<rect x="516.3" y="147.5" width="10.4" height="26.5" fill="none" stroke="#1c45a0" stroke-width="0.7" stroke-opacity="0.55"/>
<line x1="521.5" y1="121" x2="521.5" y2="183.5" stroke="#1c45a0" stroke-width="1.25"/>
<line x1="516.6" y1="121" x2="526.4" y2="121" stroke="#1c45a0" stroke-width="1.25"/>
<line x1="516.6" y1="183.5" x2="526.4" y2="183.5" stroke="#1c45a0" stroke-width="1.25"/>
<line x1="516.3" y1="160" x2="526.7" y2="160" stroke="#1c45a0" stroke-width="1.25"/>
<circle cx="559.5" cy="140" r="1.9" fill="#5f82cc" fill-opacity="0.45"/>
<circle cx="555.2" cy="148" r="1.9" fill="#5f82cc" fill-opacity="0.45"/>
<circle cx="560.4" cy="152" r="1.9" fill="#5f82cc" fill-opacity="0.45"/>
<circle cx="555.4" cy="156" r="1.9" fill="#5f82cc" fill-opacity="0.45"/>
<circle cx="558.6" cy="160" r="1.9" fill="#5f82cc" fill-opacity="0.45"/>
<circle cx="556.4" cy="163" r="1.9" fill="#5f82cc" fill-opacity="0.45"/>
<circle cx="556" cy="166" r="1.9" fill="#5f82cc" fill-opacity="0.45"/>
<circle cx="558.8" cy="170" r="1.9" fill="#5f82cc" fill-opacity="0.45"/>
<circle cx="558" cy="176" r="1.9" fill="#5f82cc" fill-opacity="0.45"/>
<circle cx="557.5" cy="164.2" r="1.9" fill="#5f82cc" fill-opacity="0.45"/>
<circle cx="557.8" cy="157.4" r="1.9" fill="#5f82cc" fill-opacity="0.45"/>
<circle cx="558.7" cy="152.6" r="1.9" fill="#5f82cc" fill-opacity="0.45"/>
<circle cx="555.7" cy="166.2" r="1.9" fill="#5f82cc" fill-opacity="0.45"/>
<circle cx="556" cy="163.5" r="1.9" fill="#5f82cc" fill-opacity="0.45"/>
<circle cx="559.6" cy="152.6" r="1.9" fill="#5f82cc" fill-opacity="0.45"/>
<circle cx="559.7" cy="161.8" r="1.9" fill="#5f82cc" fill-opacity="0.45"/>
<circle cx="558.7" cy="155.6" r="1.9" fill="#5f82cc" fill-opacity="0.45"/>
<rect x="553.3" y="149" width="10.4" height="18.6" fill="none" stroke="#1c45a0" stroke-width="0.7" stroke-opacity="0.55"/>
<line x1="558.5" y1="139.4" x2="558.5" y2="177.2" stroke="#1c45a0" stroke-width="1.25"/>
<line x1="553.6" y1="139.4" x2="563.4" y2="139.4" stroke="#1c45a0" stroke-width="1.25"/>
<line x1="553.6" y1="177.2" x2="563.4" y2="177.2" stroke="#1c45a0" stroke-width="1.25"/>
<line x1="553.3" y1="158.7" x2="563.7" y2="158.7" stroke="#1c45a0" stroke-width="1.25"/>
<circle cx="593.9" cy="130" r="1.9" fill="#5f82cc" fill-opacity="0.45"/>
<circle cx="592.5" cy="136" r="1.9" fill="#5f82cc" fill-opacity="0.45"/>
<circle cx="598.7" cy="141" r="1.9" fill="#5f82cc" fill-opacity="0.45"/>
<circle cx="595.2" cy="146" r="1.9" fill="#5f82cc" fill-opacity="0.45"/>
<circle cx="598.3" cy="152" r="1.9" fill="#5f82cc" fill-opacity="0.45"/>
<circle cx="592.8" cy="158" r="1.9" fill="#5f82cc" fill-opacity="0.45"/>
<circle cx="595.1" cy="164" r="1.9" fill="#5f82cc" fill-opacity="0.45"/>
<circle cx="597.4" cy="168" r="1.9" fill="#5f82cc" fill-opacity="0.45"/>
<circle cx="591.9" cy="172" r="1.9" fill="#5f82cc" fill-opacity="0.45"/>
<circle cx="593.4" cy="176" r="1.9" fill="#5f82cc" fill-opacity="0.45"/>
<circle cx="597.4" cy="180" r="1.9" fill="#5f82cc" fill-opacity="0.45"/>
<circle cx="599.3" cy="160.2" r="1.9" fill="#5f82cc" fill-opacity="0.45"/>
<circle cx="599.8" cy="137.6" r="1.9" fill="#5f82cc" fill-opacity="0.45"/>
<circle cx="592.7" cy="172" r="1.9" fill="#5f82cc" fill-opacity="0.45"/>
<circle cx="595.9" cy="142.5" r="1.9" fill="#5f82cc" fill-opacity="0.45"/>
<circle cx="598" cy="170" r="1.9" fill="#5f82cc" fill-opacity="0.45"/>
<circle cx="595.9" cy="172.3" r="1.9" fill="#5f82cc" fill-opacity="0.45"/>
<circle cx="597.4" cy="131.7" r="1.9" fill="#5f82cc" fill-opacity="0.45"/>
<circle cx="593.3" cy="163.9" r="1.9" fill="#5f82cc" fill-opacity="0.45"/>
<rect x="590.7" y="141.3" width="10.4" height="31.1" fill="none" stroke="#1c45a0" stroke-width="0.7" stroke-opacity="0.55"/>
<line x1="595.9" y1="123.7" x2="595.9" y2="183.3" stroke="#1c45a0" stroke-width="1.25"/>
<line x1="591" y1="123.7" x2="600.8" y2="123.7" stroke="#1c45a0" stroke-width="1.25"/>
<line x1="591" y1="183.3" x2="600.8" y2="183.3" stroke="#1c45a0" stroke-width="1.25"/>
<line x1="590.7" y1="160.6" x2="601.1" y2="160.6" stroke="#1c45a0" stroke-width="1.25"/>
<circle cx="492.6" cy="165" r="1.9" fill="#f25566" fill-opacity="0.45"/>
<circle cx="497.9" cy="168" r="1.9" fill="#f25566" fill-opacity="0.45"/>
<circle cx="499.2" cy="170" r="1.9" fill="#f25566" fill-opacity="0.45"/>
<circle cx="498.7" cy="172" r="1.9" fill="#f25566" fill-opacity="0.45"/>
<circle cx="491.7" cy="180" r="1.9" fill="#f25566" fill-opacity="0.45"/>
<circle cx="491.5" cy="167.1" r="1.9" fill="#f25566" fill-opacity="0.45"/>
<circle cx="498.9" cy="169.8" r="1.9" fill="#f25566" fill-opacity="0.45"/>
<circle cx="494.8" cy="169.9" r="1.9" fill="#f25566" fill-opacity="0.45"/>
<circle cx="497.3" cy="167.6" r="1.9" fill="#f25566" fill-opacity="0.45"/>
<rect x="489.9" y="166.5" width="10.4" height="6" fill="none" stroke="#f0141e" stroke-width="0.7" stroke-opacity="0.55"/>
<line x1="495.1" y1="166.5" x2="495.1" y2="172.5" stroke="#f0141e" stroke-width="1.25"/>
<line x1="490.2" y1="166.5" x2="500" y2="166.5" stroke="#f0141e" stroke-width="1.25"/>
<line x1="490.2" y1="172.5" x2="500" y2="172.5" stroke="#f0141e" stroke-width="1.25"/>
<line x1="489.9" y1="168.7" x2="500.3" y2="168.7" stroke="#f0141e" stroke-width="1.25"/>
<circle cx="529.7" cy="160" r="1.9" fill="#f25566" fill-opacity="0.45"/>
<circle cx="532" cy="168" r="1.9" fill="#f25566" fill-opacity="0.45"/>
<circle cx="534.4" cy="176" r="1.9" fill="#f25566" fill-opacity="0.45"/>
<circle cx="531.6" cy="178" r="1.9" fill="#f25566" fill-opacity="0.45"/>
<circle cx="529.9" cy="166.4" r="1.9" fill="#f25566" fill-opacity="0.45"/>
<circle cx="529.6" cy="165.6" r="1.9" fill="#f25566" fill-opacity="0.45"/>
<circle cx="532.5" cy="156.6" r="1.9" fill="#f25566" fill-opacity="0.45"/>
<circle cx="528.4" cy="170.5" r="1.9" fill="#f25566" fill-opacity="0.45"/>
<rect x="527.2" y="156.3" width="10.4" height="21.7" fill="none" stroke="#f0141e" stroke-width="0.7" stroke-opacity="0.55"/>
<line x1="532.4" y1="127.8" x2="532.4" y2="178.4" stroke="#f0141e" stroke-width="1.25"/>
<line x1="527.5" y1="127.8" x2="537.3" y2="127.8" stroke="#f0141e" stroke-width="1.25"/>
<line x1="527.5" y1="178.4" x2="537.3" y2="178.4" stroke="#f0141e" stroke-width="1.25"/>
<line x1="527.2" y1="165.4" x2="537.6" y2="165.4" stroke="#f0141e" stroke-width="1.25"/>
<circle cx="574.2" cy="170" r="1.9" fill="#f25566" fill-opacity="0.45"/>
<circle cx="572.7" cy="174" r="1.9" fill="#f25566" fill-opacity="0.45"/>
<circle cx="568.2" cy="176" r="1.9" fill="#f25566" fill-opacity="0.45"/>
<circle cx="573.6" cy="178" r="1.9" fill="#f25566" fill-opacity="0.45"/>
<circle cx="572.2" cy="176.2" r="1.9" fill="#f25566" fill-opacity="0.45"/>
<circle cx="572.5" cy="176.7" r="1.9" fill="#f25566" fill-opacity="0.45"/>
<circle cx="572.8" cy="175.1" r="1.9" fill="#f25566" fill-opacity="0.45"/>
<circle cx="569.4" cy="175.6" r="1.9" fill="#f25566" fill-opacity="0.45"/>
<rect x="565" y="173.1" width="10.4" height="4.9" fill="none" stroke="#f0141e" stroke-width="0.7" stroke-opacity="0.55"/>
<line x1="570.2" y1="168.8" x2="570.2" y2="178" stroke="#f0141e" stroke-width="1.25"/>
<line x1="565.3" y1="168.8" x2="575.1" y2="168.8" stroke="#f0141e" stroke-width="1.25"/>
<line x1="565.3" y1="178" x2="575.1" y2="178" stroke="#f0141e" stroke-width="1.25"/>
<line x1="565" y1="175.5" x2="575.4" y2="175.5" stroke="#f0141e" stroke-width="1.25"/>
<circle cx="606.3" cy="123" r="1.9" fill="#f25566" fill-opacity="0.45"/>
<circle cx="607.3" cy="150" r="1.9" fill="#f25566" fill-opacity="0.45"/>
<circle cx="603.5" cy="160" r="1.9" fill="#f25566" fill-opacity="0.45"/>
<circle cx="606.4" cy="170" r="1.9" fill="#f25566" fill-opacity="0.45"/>
<circle cx="608.8" cy="178" r="1.9" fill="#f25566" fill-opacity="0.45"/>
<circle cx="608.6" cy="182" r="1.9" fill="#f25566" fill-opacity="0.45"/>
<circle cx="605.4" cy="176.8" r="1.9" fill="#f25566" fill-opacity="0.45"/>
<circle cx="611.3" cy="174.2" r="1.9" fill="#f25566" fill-opacity="0.45"/>
<circle cx="609" cy="148.2" r="1.9" fill="#f25566" fill-opacity="0.45"/>
<circle cx="606.3" cy="128" r="1.9" fill="#f25566" fill-opacity="0.45"/>
<rect x="602.4" y="156.3" width="10.4" height="23.3" fill="none" stroke="#f0141e" stroke-width="0.7" stroke-opacity="0.55"/>
<line x1="607.6" y1="123.7" x2="607.6" y2="184" stroke="#f0141e" stroke-width="1.25"/>
<line x1="602.7" y1="123.7" x2="612.5" y2="123.7" stroke="#f0141e" stroke-width="1.25"/>
<line x1="602.7" y1="184" x2="612.5" y2="184" stroke="#f0141e" stroke-width="1.25"/>
<line x1="602.4" y1="166.6" x2="612.8" y2="166.6" stroke="#f0141e" stroke-width="1.25"/>
<line x1="489.5" y1="188.3" x2="489.5" y2="189.5" stroke="#555" stroke-width="0.4"/>
<text x="489.5" y="196.6" font-size="6.8" text-anchor="middle" fill="#111">DENV1</text>
<line x1="526.8" y1="188.3" x2="526.8" y2="189.5" stroke="#555" stroke-width="0.4"/>
<text x="526.8" y="196.6" font-size="6.8" text-anchor="middle" fill="#111">DENV2</text>
<line x1="564.1" y1="188.3" x2="564.1" y2="189.5" stroke="#555" stroke-width="0.4"/>
<text x="564.1" y="196.6" font-size="6.8" text-anchor="middle" fill="#111">DENV3</text>
<line x1="601.4" y1="188.3" x2="601.4" y2="189.5" stroke="#555" stroke-width="0.4"/>
<text x="601.4" y="196.6" font-size="6.8" text-anchor="middle" fill="#111">DENV4</text>
<line x1="489.5" y1="92" x2="489.5" y2="93.2" stroke="#555" stroke-width="0.4"/>
<line x1="526.8" y1="92" x2="526.8" y2="93.2" stroke="#555" stroke-width="0.4"/>
<line x1="564.1" y1="92" x2="564.1" y2="93.2" stroke="#555" stroke-width="0.4"/>
<line x1="601.4" y1="92" x2="601.4" y2="93.2" stroke="#555" stroke-width="0.4"/>
<text x="450.2" y="46.2" font-size="7.6" text-anchor="middle" transform="rotate(-90 450.2 46.2)">CD4<tspan dy="-2.89" font-size="4.71">+</tspan><tspan dy="2.89"> Cytokine</tspan><tspan dy="-2.89" font-size="4.71">+</tspan></text>
<text x="458.8" y="47.6" font-size="7.6" text-anchor="middle" transform="rotate(-90 458.8 47.6)">and/or CD107a<tspan dy="-2.89" font-size="4.71">+</tspan><tspan dy="2.89"> (%)</tspan></text>
<text x="450.5" y="145" font-size="7.6" text-anchor="middle" transform="rotate(-90 450.5 145)">CD8<tspan dy="-2.89" font-size="4.71">+</tspan><tspan dy="2.89"> Cytokine</tspan><tspan dy="-2.89" font-size="4.71">+</tspan></text>
<text x="459.1" y="145" font-size="7.6" text-anchor="middle" transform="rotate(-90 459.1 145)">and/or CD107a<tspan dy="-2.89" font-size="4.71">+</tspan><tspan dy="2.89"> (%)</tspan></text>
<circle cx="637.3" cy="14.6" r="3.1460000000000004" fill="#1c45a0" fill-opacity="0.2"/>
<rect x="629.8" y="9.7" width="15.1" height="10" fill="none" stroke="#1c45a0" stroke-width="1.32"/>
<line x1="629.8" y1="14.6" x2="644.9" y2="14.6" stroke="#1c45a0" stroke-width="2.16"/>
<line x1="637.3" y1="7.4" x2="637.3" y2="9.7" stroke="#1c45a0" stroke-width="1.2"/>
<line x1="637.3" y1="19.7" x2="637.3" y2="21.7" stroke="#1c45a0" stroke-width="1.2"/>
<text x="652.6" y="18.6" font-size="9.6">non-SD</text>
<circle cx="637.3" cy="34.2" r="3.2119999999999997" fill="#f0141e" fill-opacity="0.2"/>
<rect x="629.8" y="29.2" width="15.1" height="10.2" fill="none" stroke="#f0141e" stroke-width="1.32"/>
<line x1="629.8" y1="34.2" x2="644.9" y2="34.2" stroke="#f0141e" stroke-width="2.16"/>
<line x1="637.3" y1="26.9" x2="637.3" y2="29.2" stroke="#f0141e" stroke-width="1.2"/>
<line x1="637.3" y1="39.5" x2="637.3" y2="41.5" stroke="#f0141e" stroke-width="1.2"/>
<text x="652.6" y="37.4" font-size="9.6">SD</text>
<text x="3" y="199.3" font-size="14.2" font-weight="bold">d</text>
<circle cx="52" cy="201.6" r="3.08" fill="#1b9e77" fill-opacity="0.2"/>
<rect x="44.7" y="196.8" width="14.5" height="9.8" fill="none" stroke="#1b9e77" stroke-width="1.32"/>
<line x1="44.7" y1="201.6" x2="59.2" y2="201.6" stroke="#1b9e77" stroke-width="2.16"/>
<line x1="52" y1="194.6" x2="52" y2="196.8" stroke="#1b9e77" stroke-width="1.2"/>
<line x1="52" y1="206.6" x2="52" y2="208.6" stroke="#1b9e77" stroke-width="1.2"/>
<text x="62.6" y="205.2" font-size="10.4">HW</text>
<circle cx="91.5" cy="201.6" r="3.08" fill="#d95f02" fill-opacity="0.2"/>
<rect x="84.2" y="196.8" width="14.5" height="9.8" fill="none" stroke="#d95f02" stroke-width="1.32"/>
<line x1="84.2" y1="201.6" x2="98.7" y2="201.6" stroke="#d95f02" stroke-width="2.16"/>
<line x1="91.5" y1="194.6" x2="91.5" y2="196.8" stroke="#d95f02" stroke-width="1.2"/>
<line x1="91.5" y1="206.6" x2="91.5" y2="208.6" stroke="#d95f02" stroke-width="1.2"/>
<text x="102.2" y="205.2" font-size="10.3">OW/OB</text>
<rect x="47.3" y="228.5" width="61" height="53.7" fill="#fff" stroke="none" stroke-width="1"/>
<line x1="47.3" y1="236.9" x2="108.3" y2="236.9" stroke="#f3f3f3" stroke-width="0.5"/>
<line x1="47.3" y1="248.7" x2="108.3" y2="248.7" stroke="#f3f3f3" stroke-width="0.5"/>
<line x1="47.3" y1="260.8" x2="108.3" y2="260.8" stroke="#f3f3f3" stroke-width="0.5"/>
<line x1="47.3" y1="272.7" x2="108.3" y2="272.7" stroke="#f3f3f3" stroke-width="0.5"/>
<line x1="47.3" y1="231.5" x2="108.3" y2="231.5" stroke="#e8e8e8" stroke-width="0.6"/>
<line x1="47.3" y1="242.3" x2="108.3" y2="242.3" stroke="#e8e8e8" stroke-width="0.6"/>
<line x1="47.3" y1="255" x2="108.3" y2="255" stroke="#e8e8e8" stroke-width="0.6"/>
<line x1="47.3" y1="266.5" x2="108.3" y2="266.5" stroke="#e8e8e8" stroke-width="0.6"/>
<line x1="47.3" y1="278.9" x2="108.3" y2="278.9" stroke="#e8e8e8" stroke-width="0.6"/>
<line x1="64.1" y1="228.5" x2="64.1" y2="282.2" stroke="#e8e8e8" stroke-width="0.6"/>
<line x1="92.2" y1="228.5" x2="92.2" y2="282.2" stroke="#e8e8e8" stroke-width="0.6"/>
<rect x="47.3" y="228.5" width="61" height="53.7" fill="none" stroke="#9a9a9a" stroke-width="0.6"/>
<line x1="45.7" y1="231.5" x2="47.3" y2="231.5" stroke="#555" stroke-width="0.4"/>
<text x="44.5" y="233.2" font-size="4.9" text-anchor="end" fill="#3a3a3a">3.00</text>
<line x1="45.7" y1="242.3" x2="47.3" y2="242.3" stroke="#555" stroke-width="0.4"/>
<text x="44.5" y="244" font-size="4.9" text-anchor="end" fill="#3a3a3a">1.00</text>
<line x1="45.7" y1="255" x2="47.3" y2="255" stroke="#555" stroke-width="0.4"/>
<text x="44.5" y="256.7" font-size="4.9" text-anchor="end" fill="#3a3a3a">0.30</text>
<line x1="45.7" y1="266.5" x2="47.3" y2="266.5" stroke="#555" stroke-width="0.4"/>
<text x="44.5" y="268.2" font-size="4.9" text-anchor="end" fill="#3a3a3a">0.10</text>
<line x1="45.7" y1="278.9" x2="47.3" y2="278.9" stroke="#555" stroke-width="0.4"/>
<text x="44.5" y="280.6" font-size="4.9" text-anchor="end" fill="#3a3a3a">0.03</text>
<circle cx="61.4" cy="275.8" r="1.75" fill="#1b9e77" fill-opacity="0.36"/>
<circle cx="61" cy="279.3" r="1.75" fill="#1b9e77" fill-opacity="0.36"/>
<circle cx="60.8" cy="279" r="1.75" fill="#1b9e77" fill-opacity="0.36"/>
<circle cx="60" cy="270.2" r="1.75" fill="#1b9e77" fill-opacity="0.36"/>
<circle cx="63.2" cy="274.2" r="1.75" fill="#1b9e77" fill-opacity="0.36"/>
<circle cx="61.3" cy="265" r="1.75" fill="#1b9e77" fill-opacity="0.36"/>
<rect x="57.4" y="266.5" width="6.4" height="8" fill="none" stroke="#1b9e77" stroke-width="0.7" stroke-opacity="0.75"/>
<line x1="60.6" y1="263" x2="60.6" y2="280.3" stroke="#1b9e77" stroke-width="1.05"/>
<line x1="57.6" y1="263" x2="63.6" y2="263" stroke="#1b9e77" stroke-width="1.05"/>
<line x1="57.6" y1="280.3" x2="63.6" y2="280.3" stroke="#1b9e77" stroke-width="1.05"/>
<line x1="57.4" y1="268.3" x2="63.8" y2="268.3" stroke="#1b9e77" stroke-width="1.05"/>
<circle cx="68.7" cy="265" r="1.75" fill="#d95f02" fill-opacity="0.36"/>
<circle cx="69" cy="267.8" r="1.75" fill="#d95f02" fill-opacity="0.36"/>
<circle cx="70.2" cy="264.8" r="1.75" fill="#d95f02" fill-opacity="0.36"/>
<circle cx="65.3" cy="270.6" r="1.75" fill="#d95f02" fill-opacity="0.36"/>
<circle cx="68.3" cy="258.8" r="1.75" fill="#d95f02" fill-opacity="0.36"/>
<circle cx="68.9" cy="258.3" r="1.75" fill="#d95f02" fill-opacity="0.36"/>
<rect x="64.5" y="263" width="6.4" height="8.3" fill="none" stroke="#d95f02" stroke-width="0.7" stroke-opacity="0.75"/>
<line x1="67.7" y1="254.7" x2="67.7" y2="280.7" stroke="#d95f02" stroke-width="1.05"/>
<line x1="64.7" y1="254.7" x2="70.7" y2="254.7" stroke="#d95f02" stroke-width="1.05"/>
<line x1="64.7" y1="280.7" x2="70.7" y2="280.7" stroke="#d95f02" stroke-width="1.05"/>
<line x1="64.5" y1="268.8" x2="70.9" y2="268.8" stroke="#d95f02" stroke-width="1.05"/>
<circle cx="87.5" cy="246.3" r="1.75" fill="#1b9e77" fill-opacity="0.36"/>
<circle cx="88.2" cy="261.3" r="1.75" fill="#1b9e77" fill-opacity="0.36"/>
<circle cx="86.4" cy="249.9" r="1.75" fill="#1b9e77" fill-opacity="0.36"/>
<circle cx="87.1" cy="267.8" r="1.75" fill="#1b9e77" fill-opacity="0.36"/>
<rect x="85.5" y="246.2" width="6.4" height="17.3" fill="none" stroke="#1b9e77" stroke-width="0.7" stroke-opacity="0.75"/>
<line x1="88.7" y1="242.7" x2="88.7" y2="271.5" stroke="#1b9e77" stroke-width="1.05"/>
<line x1="85.7" y1="242.7" x2="91.7" y2="242.7" stroke="#1b9e77" stroke-width="1.05"/>
<line x1="85.7" y1="271.5" x2="91.7" y2="271.5" stroke="#1b9e77" stroke-width="1.05"/>
<line x1="85.5" y1="257.2" x2="91.9" y2="257.2" stroke="#1b9e77" stroke-width="1.05"/>
<circle cx="95.2" cy="239.2" r="1.75" fill="#d95f02" fill-opacity="0.36"/>
<circle cx="93.7" cy="237.1" r="1.75" fill="#d95f02" fill-opacity="0.36"/>
<circle cx="94.5" cy="239.1" r="1.75" fill="#d95f02" fill-opacity="0.36"/>
<circle cx="97.9" cy="244.8" r="1.75" fill="#d95f02" fill-opacity="0.36"/>
<rect x="92.6" y="232" width="6.4" height="7.5" fill="none" stroke="#d95f02" stroke-width="0.7" stroke-opacity="0.75"/>
<line x1="95.8" y1="231.2" x2="95.8" y2="245.3" stroke="#d95f02" stroke-width="1.05"/>
<line x1="92.8" y1="231.2" x2="98.8" y2="231.2" stroke="#d95f02" stroke-width="1.05"/>
<line x1="92.8" y1="245.3" x2="98.8" y2="245.3" stroke="#d95f02" stroke-width="1.05"/>
<line x1="92.6" y1="233" x2="99" y2="233" stroke="#d95f02" stroke-width="1.05"/>
<rect x="47.3" y="286.2" width="61" height="53.8" fill="#fff" stroke="none" stroke-width="1"/>
<line x1="47.3" y1="297.9" x2="108.3" y2="297.9" stroke="#f3f3f3" stroke-width="0.5"/>
<line x1="47.3" y1="313.8" x2="108.3" y2="313.8" stroke="#f3f3f3" stroke-width="0.5"/>
<line x1="47.3" y1="329.2" x2="108.3" y2="329.2" stroke="#f3f3f3" stroke-width="0.5"/>
<line x1="47.3" y1="289.5" x2="108.3" y2="289.5" stroke="#e8e8e8" stroke-width="0.6"/>
<line x1="47.3" y1="306.3" x2="108.3" y2="306.3" stroke="#e8e8e8" stroke-width="0.6"/>
<line x1="47.3" y1="321.3" x2="108.3" y2="321.3" stroke="#e8e8e8" stroke-width="0.6"/>
<line x1="47.3" y1="337.2" x2="108.3" y2="337.2" stroke="#e8e8e8" stroke-width="0.6"/>
<line x1="64.1" y1="286.2" x2="64.1" y2="340" stroke="#e8e8e8" stroke-width="0.6"/>
<line x1="92.2" y1="286.2" x2="92.2" y2="340" stroke="#e8e8e8" stroke-width="0.6"/>
<rect x="47.3" y="286.2" width="61" height="53.8" fill="none" stroke="#9a9a9a" stroke-width="0.6"/>
<line x1="45.7" y1="289.5" x2="47.3" y2="289.5" stroke="#555" stroke-width="0.4"/>
<text x="44.5" y="291.2" font-size="4.9" text-anchor="end" fill="#3a3a3a">1.00</text>
<line x1="45.7" y1="306.3" x2="47.3" y2="306.3" stroke="#555" stroke-width="0.4"/>
<text x="44.5" y="308" font-size="4.9" text-anchor="end" fill="#3a3a3a">0.30</text>
<line x1="45.7" y1="321.3" x2="47.3" y2="321.3" stroke="#555" stroke-width="0.4"/>
<text x="44.5" y="323" font-size="4.9" text-anchor="end" fill="#3a3a3a">0.10</text>
<line x1="45.7" y1="337.2" x2="47.3" y2="337.2" stroke="#555" stroke-width="0.4"/>
<text x="44.5" y="338.9" font-size="4.9" text-anchor="end" fill="#3a3a3a">0.03</text>
<circle cx="60.9" cy="306.7" r="1.75" fill="#1b9e77" fill-opacity="0.36"/>
<circle cx="60.6" cy="310.3" r="1.75" fill="#1b9e77" fill-opacity="0.36"/>
<circle cx="63" cy="308.1" r="1.75" fill="#1b9e77" fill-opacity="0.36"/>
<circle cx="60.9" cy="320" r="1.75" fill="#1b9e77" fill-opacity="0.36"/>
<circle cx="63.1" cy="321.7" r="1.75" fill="#1b9e77" fill-opacity="0.36"/>
<circle cx="61.3" cy="313.5" r="1.75" fill="#1b9e77" fill-opacity="0.36"/>
<rect x="57.4" y="306.6" width="6.4" height="22.3" fill="none" stroke="#1b9e77" stroke-width="0.7" stroke-opacity="0.75"/>
<line x1="60.6" y1="293.5" x2="60.6" y2="337.7" stroke="#1b9e77" stroke-width="1.05"/>
<line x1="57.6" y1="293.5" x2="63.6" y2="293.5" stroke="#1b9e77" stroke-width="1.05"/>
<line x1="57.6" y1="337.7" x2="63.6" y2="337.7" stroke="#1b9e77" stroke-width="1.05"/>
<line x1="57.4" y1="316.5" x2="63.8" y2="316.5" stroke="#1b9e77" stroke-width="1.05"/>
<circle cx="69.3" cy="316.7" r="1.75" fill="#d95f02" fill-opacity="0.36"/>
<circle cx="65.5" cy="315.9" r="1.75" fill="#d95f02" fill-opacity="0.36"/>
<circle cx="68.2" cy="301" r="1.75" fill="#d95f02" fill-opacity="0.36"/>
<circle cx="69" cy="299.7" r="1.75" fill="#d95f02" fill-opacity="0.36"/>
<circle cx="65.4" cy="330.2" r="1.75" fill="#d95f02" fill-opacity="0.36"/>
<circle cx="69.9" cy="321.9" r="1.75" fill="#d95f02" fill-opacity="0.36"/>
<rect x="64.5" y="306.6" width="6.4" height="19.4" fill="none" stroke="#d95f02" stroke-width="0.7" stroke-opacity="0.75"/>
<line x1="67.7" y1="298.9" x2="67.7" y2="336" stroke="#d95f02" stroke-width="1.05"/>
<line x1="64.7" y1="298.9" x2="70.7" y2="298.9" stroke="#d95f02" stroke-width="1.05"/>
<line x1="64.7" y1="336" x2="70.7" y2="336" stroke="#d95f02" stroke-width="1.05"/>
<line x1="64.5" y1="316.9" x2="70.9" y2="316.9" stroke="#d95f02" stroke-width="1.05"/>
<circle cx="87" cy="323.4" r="1.75" fill="#1b9e77" fill-opacity="0.36"/>
<circle cx="88.6" cy="318.7" r="1.75" fill="#1b9e77" fill-opacity="0.36"/>
<circle cx="87" cy="326.7" r="1.75" fill="#1b9e77" fill-opacity="0.36"/>
<circle cx="88.7" cy="325" r="1.75" fill="#1b9e77" fill-opacity="0.36"/>
<rect x="85.5" y="318.3" width="6.4" height="8.8" fill="none" stroke="#1b9e77" stroke-width="0.7" stroke-opacity="0.75"/>
<line x1="88.7" y1="318.3" x2="88.7" y2="327.5" stroke="#1b9e77" stroke-width="1.05"/>
<line x1="85.7" y1="318.3" x2="91.7" y2="318.3" stroke="#1b9e77" stroke-width="1.05"/>
<line x1="85.7" y1="327.5" x2="91.7" y2="327.5" stroke="#1b9e77" stroke-width="1.05"/>
<line x1="85.5" y1="322.2" x2="91.9" y2="322.2" stroke="#1b9e77" stroke-width="1.05"/>
<circle cx="96.4" cy="333.5" r="1.75" fill="#d95f02" fill-opacity="0.36"/>
<circle cx="93.5" cy="317" r="1.75" fill="#d95f02" fill-opacity="0.36"/>
<circle cx="98.1" cy="325.9" r="1.75" fill="#d95f02" fill-opacity="0.36"/>
<circle cx="95.4" cy="325.4" r="1.75" fill="#d95f02" fill-opacity="0.36"/>
<rect x="92.6" y="309.5" width="6.4" height="21.2" fill="none" stroke="#d95f02" stroke-width="0.7" stroke-opacity="0.75"/>
<line x1="95.8" y1="287.7" x2="95.8" y2="336.3" stroke="#d95f02" stroke-width="1.05"/>
<line x1="92.8" y1="287.7" x2="98.8" y2="287.7" stroke="#d95f02" stroke-width="1.05"/>
<line x1="92.8" y1="336.3" x2="98.8" y2="336.3" stroke="#d95f02" stroke-width="1.05"/>
<line x1="92.6" y1="321.8" x2="99" y2="321.8" stroke="#d95f02" stroke-width="1.05"/>
<line x1="64.1" y1="340" x2="64.1" y2="341" stroke="#555" stroke-width="0.4"/>
<line x1="64.1" y1="282.2" x2="64.1" y2="283" stroke="#555" stroke-width="0.4"/>
<line x1="92.2" y1="340" x2="92.2" y2="341" stroke="#555" stroke-width="0.4"/>
<line x1="92.2" y1="282.2" x2="92.2" y2="283" stroke="#555" stroke-width="0.4"/>
<text x="64.1" y="346.8" font-size="5.2" text-anchor="middle" fill="#4d4d4d">non-SD</text>
<text x="92.2" y="346.8" font-size="5.2" text-anchor="middle" fill="#4d4d4d">SD</text>
<text x="31.1" y="286.2" font-size="6.5" text-anchor="middle" transform="rotate(-90 31.1 286.2)">CD4<tspan dy="-2.47" font-size="4.03">+</tspan><tspan dy="2.47"> IFN-γ</tspan><tspan dy="-2.47" font-size="4.03">+</tspan><tspan dy="2.47"> (%) log</tspan><tspan dy="1.30" font-size="4.03">10</tspan></text>
<rect x="132.2" y="228.5" width="61.8" height="53.7" fill="#fff" stroke="none" stroke-width="1"/>
<line x1="132.2" y1="249.9" x2="194" y2="249.9" stroke="#f3f3f3" stroke-width="0.5"/>
<line x1="132.2" y1="269.9" x2="194" y2="269.9" stroke="#f3f3f3" stroke-width="0.5"/>
<line x1="132.2" y1="239.5" x2="194" y2="239.5" stroke="#e8e8e8" stroke-width="0.6"/>
<line x1="132.2" y1="260.3" x2="194" y2="260.3" stroke="#e8e8e8" stroke-width="0.6"/>
<line x1="132.2" y1="279.4" x2="194" y2="279.4" stroke="#e8e8e8" stroke-width="0.6"/>
<line x1="149.5" y1="228.5" x2="149.5" y2="282.2" stroke="#e8e8e8" stroke-width="0.6"/>
<line x1="177.2" y1="228.5" x2="177.2" y2="282.2" stroke="#e8e8e8" stroke-width="0.6"/>
<rect x="132.2" y="228.5" width="61.8" height="53.7" fill="none" stroke="#9a9a9a" stroke-width="0.6"/>
<line x1="130.6" y1="239.5" x2="132.2" y2="239.5" stroke="#555" stroke-width="0.4"/>
<text x="129.4" y="241.2" font-size="4.9" text-anchor="end" fill="#3a3a3a">0.10</text>
<line x1="130.6" y1="260.3" x2="132.2" y2="260.3" stroke="#555" stroke-width="0.4"/>
<text x="129.4" y="262" font-size="4.9" text-anchor="end" fill="#3a3a3a">0.03</text>
<line x1="130.6" y1="279.4" x2="132.2" y2="279.4" stroke="#555" stroke-width="0.4"/>
<text x="129.4" y="281.1" font-size="4.9" text-anchor="end" fill="#3a3a3a">0.01</text>
<circle cx="146.1" cy="275.2" r="1.75" fill="#1b9e77" fill-opacity="0.36"/>
<circle cx="146.5" cy="268.6" r="1.75" fill="#1b9e77" fill-opacity="0.36"/>
<circle cx="145.3" cy="261.6" r="1.75" fill="#1b9e77" fill-opacity="0.36"/>
<circle cx="144.9" cy="277.5" r="1.75" fill="#1b9e77" fill-opacity="0.36"/>
<circle cx="146.8" cy="268.3" r="1.75" fill="#1b9e77" fill-opacity="0.36"/>
<circle cx="146.3" cy="261.3" r="1.75" fill="#1b9e77" fill-opacity="0.36"/>
<rect x="142.8" y="257.7" width="6.4" height="11.5" fill="none" stroke="#1b9e77" stroke-width="0.7" stroke-opacity="0.75"/>
<line x1="146" y1="241.8" x2="146" y2="280.7" stroke="#1b9e77" stroke-width="1.05"/>
<line x1="143" y1="241.8" x2="149" y2="241.8" stroke="#1b9e77" stroke-width="1.05"/>
<line x1="143" y1="280.7" x2="149" y2="280.7" stroke="#1b9e77" stroke-width="1.05"/>
<line x1="142.8" y1="266.5" x2="149.2" y2="266.5" stroke="#1b9e77" stroke-width="1.05"/>
<circle cx="152" cy="242.9" r="1.75" fill="#d95f02" fill-opacity="0.36"/>
<circle cx="154.2" cy="242.3" r="1.75" fill="#d95f02" fill-opacity="0.36"/>
<circle cx="152.1" cy="271.2" r="1.75" fill="#d95f02" fill-opacity="0.36"/>
<circle cx="150.6" cy="240.1" r="1.75" fill="#d95f02" fill-opacity="0.36"/>
<circle cx="151.8" cy="252.6" r="1.75" fill="#d95f02" fill-opacity="0.36"/>
<circle cx="150.8" cy="244.1" r="1.75" fill="#d95f02" fill-opacity="0.36"/>
<rect x="149.9" y="239.1" width="6.4" height="21.2" fill="none" stroke="#d95f02" stroke-width="0.7" stroke-opacity="0.75"/>
<line x1="153.1" y1="231.2" x2="153.1" y2="271.3" stroke="#d95f02" stroke-width="1.05"/>
<line x1="150.1" y1="231.2" x2="156.1" y2="231.2" stroke="#d95f02" stroke-width="1.05"/>
<line x1="150.1" y1="271.3" x2="156.1" y2="271.3" stroke="#d95f02" stroke-width="1.05"/>
<line x1="149.9" y1="255" x2="156.3" y2="255" stroke="#d95f02" stroke-width="1.05"/>
<circle cx="171.9" cy="246.4" r="1.75" fill="#1b9e77" fill-opacity="0.36"/>
<circle cx="175" cy="240.7" r="1.75" fill="#1b9e77" fill-opacity="0.36"/>
<circle cx="173.1" cy="247.7" r="1.75" fill="#1b9e77" fill-opacity="0.36"/>
<circle cx="175.7" cy="241.7" r="1.75" fill="#1b9e77" fill-opacity="0.36"/>
<rect x="170.5" y="234.7" width="6.4" height="14.2" fill="none" stroke="#1b9e77" stroke-width="0.7" stroke-opacity="0.75"/>
<line x1="173.7" y1="234.2" x2="173.7" y2="249.2" stroke="#1b9e77" stroke-width="1.05"/>
<line x1="170.7" y1="234.2" x2="176.7" y2="234.2" stroke="#1b9e77" stroke-width="1.05"/>
<line x1="170.7" y1="249.2" x2="176.7" y2="249.2" stroke="#1b9e77" stroke-width="1.05"/>
<line x1="170.5" y1="238.3" x2="176.9" y2="238.3" stroke="#1b9e77" stroke-width="1.05"/>
<circle cx="182.1" cy="243.4" r="1.75" fill="#d95f02" fill-opacity="0.36"/>
<circle cx="178.5" cy="253.6" r="1.75" fill="#d95f02" fill-opacity="0.36"/>
<circle cx="183.3" cy="251.6" r="1.75" fill="#d95f02" fill-opacity="0.36"/>
<circle cx="183.1" cy="246.8" r="1.75" fill="#d95f02" fill-opacity="0.36"/>
<rect x="177.6" y="244.1" width="6.4" height="6.2" fill="none" stroke="#d95f02" stroke-width="0.7" stroke-opacity="0.75"/>
<line x1="180.8" y1="241.8" x2="180.8" y2="254.2" stroke="#d95f02" stroke-width="1.05"/>
<line x1="177.8" y1="241.8" x2="183.8" y2="241.8" stroke="#d95f02" stroke-width="1.05"/>
<line x1="177.8" y1="254.2" x2="183.8" y2="254.2" stroke="#d95f02" stroke-width="1.05"/>
<line x1="177.6" y1="247.1" x2="184" y2="247.1" stroke="#d95f02" stroke-width="1.05"/>
<rect x="132.2" y="286.2" width="61.8" height="53.8" fill="#fff" stroke="none" stroke-width="1"/>
<line x1="132.2" y1="296.1" x2="194" y2="296.1" stroke="#f3f3f3" stroke-width="0.5"/>
<line x1="132.2" y1="308.4" x2="194" y2="308.4" stroke="#f3f3f3" stroke-width="0.5"/>
<line x1="132.2" y1="320.5" x2="194" y2="320.5" stroke="#f3f3f3" stroke-width="0.5"/>
<line x1="132.2" y1="333" x2="194" y2="333" stroke="#f3f3f3" stroke-width="0.5"/>
<line x1="132.2" y1="290.4" x2="194" y2="290.4" stroke="#e8e8e8" stroke-width="0.6"/>
<line x1="132.2" y1="301.9" x2="194" y2="301.9" stroke="#e8e8e8" stroke-width="0.6"/>
<line x1="132.2" y1="314.8" x2="194" y2="314.8" stroke="#e8e8e8" stroke-width="0.6"/>
<line x1="132.2" y1="326.2" x2="194" y2="326.2" stroke="#e8e8e8" stroke-width="0.6"/>
<line x1="132.2" y1="339.8" x2="194" y2="339.8" stroke="#e8e8e8" stroke-width="0.6"/>
<line x1="149.5" y1="286.2" x2="149.5" y2="340" stroke="#e8e8e8" stroke-width="0.6"/>
<line x1="177.2" y1="286.2" x2="177.2" y2="340" stroke="#e8e8e8" stroke-width="0.6"/>
<rect x="132.2" y="286.2" width="61.8" height="53.8" fill="none" stroke="#9a9a9a" stroke-width="0.6"/>
<line x1="130.6" y1="290.4" x2="132.2" y2="290.4" stroke="#555" stroke-width="0.4"/>
<text x="129.4" y="292.1" font-size="4.9" text-anchor="end" fill="#3a3a3a">3.00</text>
<line x1="130.6" y1="301.9" x2="132.2" y2="301.9" stroke="#555" stroke-width="0.4"/>
<text x="129.4" y="303.6" font-size="4.9" text-anchor="end" fill="#3a3a3a">1.00</text>
<line x1="130.6" y1="314.8" x2="132.2" y2="314.8" stroke="#555" stroke-width="0.4"/>
<text x="129.4" y="316.5" font-size="4.9" text-anchor="end" fill="#3a3a3a">0.30</text>
<line x1="130.6" y1="326.2" x2="132.2" y2="326.2" stroke="#555" stroke-width="0.4"/>
<text x="129.4" y="327.9" font-size="4.9" text-anchor="end" fill="#3a3a3a">0.10</text>
<line x1="130.6" y1="339.8" x2="132.2" y2="339.8" stroke="#555" stroke-width="0.4"/>
<text x="129.4" y="341.5" font-size="4.9" text-anchor="end" fill="#3a3a3a">0.03</text>
<circle cx="143.8" cy="323.2" r="1.75" fill="#1b9e77" fill-opacity="0.36"/>
<circle cx="148.1" cy="312.5" r="1.75" fill="#1b9e77" fill-opacity="0.36"/>
<circle cx="145.6" cy="325.4" r="1.75" fill="#1b9e77" fill-opacity="0.36"/>
<circle cx="145.9" cy="307.7" r="1.75" fill="#1b9e77" fill-opacity="0.36"/>
<circle cx="148.4" cy="320.1" r="1.75" fill="#1b9e77" fill-opacity="0.36"/>
<circle cx="144.7" cy="308.1" r="1.75" fill="#1b9e77" fill-opacity="0.36"/>
<rect x="142.8" y="300.1" width="6.4" height="27.4" fill="none" stroke="#1b9e77" stroke-width="0.7" stroke-opacity="0.75"/>
<line x1="146" y1="287.7" x2="146" y2="331.9" stroke="#1b9e77" stroke-width="1.05"/>
<line x1="143" y1="287.7" x2="149" y2="287.7" stroke="#1b9e77" stroke-width="1.05"/>
<line x1="143" y1="331.9" x2="149" y2="331.9" stroke="#1b9e77" stroke-width="1.05"/>
<line x1="142.8" y1="325.7" x2="149.2" y2="325.7" stroke="#1b9e77" stroke-width="1.05"/>
<circle cx="153.2" cy="323.7" r="1.75" fill="#d95f02" fill-opacity="0.36"/>
<circle cx="155.3" cy="329.1" r="1.75" fill="#d95f02" fill-opacity="0.36"/>
<circle cx="154.2" cy="330.7" r="1.75" fill="#d95f02" fill-opacity="0.36"/>
<circle cx="152.9" cy="324.9" r="1.75" fill="#d95f02" fill-opacity="0.36"/>
<circle cx="155.6" cy="324.5" r="1.75" fill="#d95f02" fill-opacity="0.36"/>
<circle cx="154.7" cy="333.7" r="1.75" fill="#d95f02" fill-opacity="0.36"/>
<rect x="149.9" y="322.7" width="6.4" height="6.5" fill="none" stroke="#d95f02" stroke-width="0.7" stroke-opacity="0.75"/>
<line x1="153.1" y1="322.7" x2="153.1" y2="335.4" stroke="#d95f02" stroke-width="1.05"/>
<line x1="150.1" y1="322.7" x2="156.1" y2="322.7" stroke="#d95f02" stroke-width="1.05"/>
<line x1="150.1" y1="335.4" x2="156.1" y2="335.4" stroke="#d95f02" stroke-width="1.05"/>
<line x1="149.9" y1="326.2" x2="156.3" y2="326.2" stroke="#d95f02" stroke-width="1.05"/>
<circle cx="174.2" cy="334.7" r="1.75" fill="#1b9e77" fill-opacity="0.36"/>
<circle cx="171.7" cy="332.5" r="1.75" fill="#1b9e77" fill-opacity="0.36"/>
<circle cx="174.3" cy="333.2" r="1.75" fill="#1b9e77" fill-opacity="0.36"/>
<circle cx="173.5" cy="334.3" r="1.75" fill="#1b9e77" fill-opacity="0.36"/>
<rect x="170.5" y="330.1" width="6.4" height="5.9" fill="none" stroke="#1b9e77" stroke-width="0.7" stroke-opacity="0.75"/>
<line x1="173.7" y1="324.5" x2="173.7" y2="336" stroke="#1b9e77" stroke-width="1.05"/>
<line x1="170.7" y1="324.5" x2="176.7" y2="324.5" stroke="#1b9e77" stroke-width="1.05"/>
<line x1="170.7" y1="336" x2="176.7" y2="336" stroke="#1b9e77" stroke-width="1.05"/>
<line x1="170.5" y1="333" x2="176.9" y2="333" stroke="#1b9e77" stroke-width="1.05"/>
<circle cx="179.3" cy="325.1" r="1.75" fill="#d95f02" fill-opacity="0.36"/>
<circle cx="178.5" cy="329.6" r="1.75" fill="#d95f02" fill-opacity="0.36"/>
<circle cx="180.9" cy="330.4" r="1.75" fill="#d95f02" fill-opacity="0.36"/>
<circle cx="178.9" cy="326.8" r="1.75" fill="#d95f02" fill-opacity="0.36"/>
<rect x="177.6" y="319.5" width="6.4" height="11.5" fill="none" stroke="#d95f02" stroke-width="0.7" stroke-opacity="0.75"/>
<line x1="180.8" y1="312.5" x2="180.8" y2="337.2" stroke="#d95f02" stroke-width="1.05"/>
<line x1="177.8" y1="312.5" x2="183.8" y2="312.5" stroke="#d95f02" stroke-width="1.05"/>
<line x1="177.8" y1="337.2" x2="183.8" y2="337.2" stroke="#d95f02" stroke-width="1.05"/>
<line x1="177.6" y1="325.7" x2="184" y2="325.7" stroke="#d95f02" stroke-width="1.05"/>
<line x1="149.5" y1="340" x2="149.5" y2="341" stroke="#555" stroke-width="0.4"/>
<line x1="149.5" y1="282.2" x2="149.5" y2="283" stroke="#555" stroke-width="0.4"/>
<line x1="177.2" y1="340" x2="177.2" y2="341" stroke="#555" stroke-width="0.4"/>
<line x1="177.2" y1="282.2" x2="177.2" y2="283" stroke="#555" stroke-width="0.4"/>
<text x="149.5" y="346.8" font-size="5.2" text-anchor="middle" fill="#4d4d4d">non-SD</text>
<text x="177.2" y="346.8" font-size="5.2" text-anchor="middle" fill="#4d4d4d">SD</text>
<text x="116.9" y="286.2" font-size="6.5" text-anchor="middle" transform="rotate(-90 116.9 286.2)">CD4<tspan dy="-2.47" font-size="4.03">+</tspan><tspan dy="2.47"> TNF-α</tspan><tspan dy="-2.47" font-size="4.03">+</tspan><tspan dy="2.47"> (%) log</tspan><tspan dy="1.30" font-size="4.03">10</tspan></text>
<rect x="221.2" y="228.5" width="58.3" height="53.7" fill="#fff" stroke="none" stroke-width="1"/>
<line x1="221.2" y1="253.3" x2="279.5" y2="253.3" stroke="#f3f3f3" stroke-width="0.5"/>
<line x1="221.2" y1="265" x2="279.5" y2="265" stroke="#f3f3f3" stroke-width="0.5"/>
<line x1="221.2" y1="246.6" x2="279.5" y2="246.6" stroke="#e8e8e8" stroke-width="0.6"/>
<line x1="221.2" y1="260" x2="279.5" y2="260" stroke="#e8e8e8" stroke-width="0.6"/>
<line x1="221.2" y1="270" x2="279.5" y2="270" stroke="#e8e8e8" stroke-width="0.6"/>
<line x1="236.9" y1="228.5" x2="236.9" y2="282.2" stroke="#e8e8e8" stroke-width="0.6"/>
<line x1="263.6" y1="228.5" x2="263.6" y2="282.2" stroke="#e8e8e8" stroke-width="0.6"/>
<rect x="221.2" y="228.5" width="58.3" height="53.7" fill="none" stroke="#9a9a9a" stroke-width="0.6"/>
<line x1="219.6" y1="246.6" x2="221.2" y2="246.6" stroke="#555" stroke-width="0.4"/>
<text x="218.4" y="248.3" font-size="4.9" text-anchor="end" fill="#3a3a3a">0.010</text>
<line x1="219.6" y1="260" x2="221.2" y2="260" stroke="#555" stroke-width="0.4"/>
<text x="218.4" y="261.7" font-size="4.9" text-anchor="end" fill="#3a3a3a">0.005</text>
<line x1="219.6" y1="270" x2="221.2" y2="270" stroke="#555" stroke-width="0.4"/>
<text x="218.4" y="271.7" font-size="4.9" text-anchor="end" fill="#3a3a3a">0.003</text>
<circle cx="233.1" cy="264.3" r="1.75" fill="#1b9e77" fill-opacity="0.36"/>
<circle cx="234.3" cy="268.7" r="1.75" fill="#1b9e77" fill-opacity="0.36"/>
<circle cx="233.2" cy="273.7" r="1.75" fill="#1b9e77" fill-opacity="0.36"/>
<circle cx="232.2" cy="272.6" r="1.75" fill="#1b9e77" fill-opacity="0.36"/>
<circle cx="233.8" cy="267.7" r="1.75" fill="#1b9e77" fill-opacity="0.36"/>
<circle cx="233" cy="273.8" r="1.75" fill="#1b9e77" fill-opacity="0.36"/>
<rect x="230.2" y="245.3" width="6.4" height="34.8" fill="none" stroke="#1b9e77" stroke-width="0.7" stroke-opacity="0.75"/>
<line x1="233.4" y1="240.5" x2="233.4" y2="280.7" stroke="#1b9e77" stroke-width="1.05"/>
<line x1="230.4" y1="240.5" x2="236.4" y2="240.5" stroke="#1b9e77" stroke-width="1.05"/>
<line x1="230.4" y1="280.7" x2="236.4" y2="280.7" stroke="#1b9e77" stroke-width="1.05"/>
<line x1="230.2" y1="262.1" x2="236.6" y2="262.1" stroke="#1b9e77" stroke-width="1.05"/>
<circle cx="241.9" cy="255.1" r="1.75" fill="#d95f02" fill-opacity="0.36"/>
<circle cx="240.7" cy="265.3" r="1.75" fill="#d95f02" fill-opacity="0.36"/>
<circle cx="243" cy="278.5" r="1.75" fill="#d95f02" fill-opacity="0.36"/>
<circle cx="242.8" cy="248.8" r="1.75" fill="#d95f02" fill-opacity="0.36"/>
<circle cx="241.7" cy="254.9" r="1.75" fill="#d95f02" fill-opacity="0.36"/>
<circle cx="239.2" cy="254.8" r="1.75" fill="#d95f02" fill-opacity="0.36"/>
<rect x="237.3" y="238.3" width="6.4" height="19.9" fill="none" stroke="#d95f02" stroke-width="0.7" stroke-opacity="0.75"/>
<line x1="240.5" y1="231.2" x2="240.5" y2="280.7" stroke="#d95f02" stroke-width="1.05"/>
<line x1="237.5" y1="231.2" x2="243.5" y2="231.2" stroke="#d95f02" stroke-width="1.05"/>
<line x1="237.5" y1="280.7" x2="243.5" y2="280.7" stroke="#d95f02" stroke-width="1.05"/>
<line x1="237.3" y1="244.4" x2="243.7" y2="244.4" stroke="#d95f02" stroke-width="1.05"/>
<circle cx="258.1" cy="269.9" r="1.75" fill="#1b9e77" fill-opacity="0.36"/>
<circle cx="262.1" cy="248.9" r="1.75" fill="#1b9e77" fill-opacity="0.36"/>
<circle cx="261.6" cy="264.6" r="1.75" fill="#1b9e77" fill-opacity="0.36"/>
<circle cx="260.7" cy="258.5" r="1.75" fill="#1b9e77" fill-opacity="0.36"/>
<rect x="256.9" y="254.2" width="6.4" height="25.9" fill="none" stroke="#1b9e77" stroke-width="0.7" stroke-opacity="0.75"/>
<line x1="260.1" y1="242.3" x2="260.1" y2="280.7" stroke="#1b9e77" stroke-width="1.05"/>
<line x1="257.1" y1="242.3" x2="263.1" y2="242.3" stroke="#1b9e77" stroke-width="1.05"/>
<line x1="257.1" y1="280.7" x2="263.1" y2="280.7" stroke="#1b9e77" stroke-width="1.05"/>
<line x1="256.9" y1="260.3" x2="263.3" y2="260.3" stroke="#1b9e77" stroke-width="1.05"/>
<circle cx="266.5" cy="262.1" r="1.75" fill="#d95f02" fill-opacity="0.36"/>
<circle cx="266" cy="260.7" r="1.75" fill="#d95f02" fill-opacity="0.36"/>
<circle cx="268.1" cy="246.8" r="1.75" fill="#d95f02" fill-opacity="0.36"/>
<circle cx="267.5" cy="252.9" r="1.75" fill="#d95f02" fill-opacity="0.36"/>
<rect x="264" y="244.8" width="6.4" height="12.5" fill="none" stroke="#d95f02" stroke-width="0.7" stroke-opacity="0.75"/>
<line x1="267.2" y1="241.8" x2="267.2" y2="268" stroke="#d95f02" stroke-width="1.05"/>
<line x1="264.2" y1="241.8" x2="270.2" y2="241.8" stroke="#d95f02" stroke-width="1.05"/>
<line x1="264.2" y1="268" x2="270.2" y2="268" stroke="#d95f02" stroke-width="1.05"/>
<line x1="264" y1="246.6" x2="270.4" y2="246.6" stroke="#d95f02" stroke-width="1.05"/>
<rect x="221.2" y="286.2" width="58.3" height="53.8" fill="#fff" stroke="none" stroke-width="1"/>
<line x1="221.2" y1="304.6" x2="279.5" y2="304.6" stroke="#f3f3f3" stroke-width="0.5"/>
<line x1="221.2" y1="320.4" x2="279.5" y2="320.4" stroke="#f3f3f3" stroke-width="0.5"/>
<line x1="221.2" y1="296.6" x2="279.5" y2="296.6" stroke="#e8e8e8" stroke-width="0.6"/>
<line x1="221.2" y1="312.5" x2="279.5" y2="312.5" stroke="#e8e8e8" stroke-width="0.6"/>
<line x1="221.2" y1="328.4" x2="279.5" y2="328.4" stroke="#e8e8e8" stroke-width="0.6"/>
<line x1="236.9" y1="286.2" x2="236.9" y2="340" stroke="#e8e8e8" stroke-width="0.6"/>
<line x1="263.6" y1="286.2" x2="263.6" y2="340" stroke="#e8e8e8" stroke-width="0.6"/>
<rect x="221.2" y="286.2" width="58.3" height="53.8" fill="none" stroke="#9a9a9a" stroke-width="0.6"/>
<line x1="219.6" y1="296.6" x2="221.2" y2="296.6" stroke="#555" stroke-width="0.4"/>
<text x="218.4" y="298.3" font-size="4.9" text-anchor="end" fill="#3a3a3a">1.00</text>
<line x1="219.6" y1="312.5" x2="221.2" y2="312.5" stroke="#555" stroke-width="0.4"/>
<text x="218.4" y="314.2" font-size="4.9" text-anchor="end" fill="#3a3a3a">0.10</text>
<line x1="219.6" y1="328.4" x2="221.2" y2="328.4" stroke="#555" stroke-width="0.4"/>
<text x="218.4" y="330.1" font-size="4.9" text-anchor="end" fill="#3a3a3a">0.01</text>
<circle cx="233.9" cy="320.3" r="1.75" fill="#1b9e77" fill-opacity="0.36"/>
<circle cx="234.1" cy="316.3" r="1.75" fill="#1b9e77" fill-opacity="0.36"/>
<circle cx="234.7" cy="317.4" r="1.75" fill="#1b9e77" fill-opacity="0.36"/>
<circle cx="231.8" cy="316.8" r="1.75" fill="#1b9e77" fill-opacity="0.36"/>
<circle cx="232.1" cy="317.1" r="1.75" fill="#1b9e77" fill-opacity="0.36"/>
<circle cx="235.9" cy="316.2" r="1.75" fill="#1b9e77" fill-opacity="0.36"/>
<rect x="230.2" y="316" width="6.4" height="6.2" fill="none" stroke="#1b9e77" stroke-width="0.7" stroke-opacity="0.75"/>
<line x1="233.4" y1="316" x2="233.4" y2="322.2" stroke="#1b9e77" stroke-width="1.05"/>
<line x1="230.4" y1="316" x2="236.4" y2="316" stroke="#1b9e77" stroke-width="1.05"/>
<line x1="230.4" y1="322.2" x2="236.4" y2="322.2" stroke="#1b9e77" stroke-width="1.05"/>
<line x1="230.2" y1="319" x2="236.6" y2="319" stroke="#1b9e77" stroke-width="1.05"/>
<circle cx="242.6" cy="320.4" r="1.75" fill="#d95f02" fill-opacity="0.36"/>
<circle cx="242.4" cy="325.2" r="1.75" fill="#d95f02" fill-opacity="0.36"/>
<circle cx="238.1" cy="326.4" r="1.75" fill="#d95f02" fill-opacity="0.36"/>
<circle cx="238.3" cy="320.7" r="1.75" fill="#d95f02" fill-opacity="0.36"/>
<circle cx="239.3" cy="320.7" r="1.75" fill="#d95f02" fill-opacity="0.36"/>
<circle cx="240.1" cy="325.6" r="1.75" fill="#d95f02" fill-opacity="0.36"/>
<rect x="237.3" y="316" width="6.4" height="11.5" fill="none" stroke="#d95f02" stroke-width="0.7" stroke-opacity="0.75"/>
<line x1="240.5" y1="307.2" x2="240.5" y2="337.7" stroke="#d95f02" stroke-width="1.05"/>
<line x1="237.5" y1="307.2" x2="243.5" y2="307.2" stroke="#d95f02" stroke-width="1.05"/>
<line x1="237.5" y1="337.7" x2="243.5" y2="337.7" stroke="#d95f02" stroke-width="1.05"/>
<line x1="237.3" y1="321.3" x2="243.7" y2="321.3" stroke="#d95f02" stroke-width="1.05"/>
<circle cx="260.7" cy="315.4" r="1.75" fill="#1b9e77" fill-opacity="0.36"/>
<circle cx="258.1" cy="308.8" r="1.75" fill="#1b9e77" fill-opacity="0.36"/>
<circle cx="260.3" cy="318.1" r="1.75" fill="#1b9e77" fill-opacity="0.36"/>
<circle cx="257.9" cy="323.6" r="1.75" fill="#1b9e77" fill-opacity="0.36"/>
<rect x="256.9" y="315.1" width="6.4" height="8.9" fill="none" stroke="#1b9e77" stroke-width="0.7" stroke-opacity="0.75"/>
<line x1="260.1" y1="307.2" x2="260.1" y2="324" stroke="#1b9e77" stroke-width="1.05"/>
<line x1="257.1" y1="307.2" x2="263.1" y2="307.2" stroke="#1b9e77" stroke-width="1.05"/>
<line x1="257.1" y1="324" x2="263.1" y2="324" stroke="#1b9e77" stroke-width="1.05"/>
<line x1="256.9" y1="320" x2="263.3" y2="320" stroke="#1b9e77" stroke-width="1.05"/>
<circle cx="265.1" cy="313.2" r="1.75" fill="#d95f02" fill-opacity="0.36"/>
<circle cx="268.1" cy="316" r="1.75" fill="#d95f02" fill-opacity="0.36"/>
<circle cx="267.5" cy="312.4" r="1.75" fill="#d95f02" fill-opacity="0.36"/>
<circle cx="267.9" cy="314.6" r="1.75" fill="#d95f02" fill-opacity="0.36"/>
<rect x="264" y="311.6" width="6.4" height="5.3" fill="none" stroke="#d95f02" stroke-width="0.7" stroke-opacity="0.75"/>
<line x1="267.2" y1="308" x2="267.2" y2="320.4" stroke="#d95f02" stroke-width="1.05"/>
<line x1="264.2" y1="308" x2="270.2" y2="308" stroke="#d95f02" stroke-width="1.05"/>
<line x1="264.2" y1="320.4" x2="270.2" y2="320.4" stroke="#d95f02" stroke-width="1.05"/>
<line x1="264" y1="314.2" x2="270.4" y2="314.2" stroke="#d95f02" stroke-width="1.05"/>
<line x1="236.9" y1="340" x2="236.9" y2="341" stroke="#555" stroke-width="0.4"/>
<line x1="236.9" y1="282.2" x2="236.9" y2="283" stroke="#555" stroke-width="0.4"/>
<line x1="263.6" y1="340" x2="263.6" y2="341" stroke="#555" stroke-width="0.4"/>
<line x1="263.6" y1="282.2" x2="263.6" y2="283" stroke="#555" stroke-width="0.4"/>
<text x="236.9" y="346.8" font-size="5.2" text-anchor="middle" fill="#4d4d4d">non-SD</text>
<text x="263.6" y="346.8" font-size="5.2" text-anchor="middle" fill="#4d4d4d">SD</text>
<text x="202" y="286.2" font-size="6.5" text-anchor="middle" transform="rotate(-90 202 286.2)">CD4<tspan dy="-2.47" font-size="4.03">+</tspan><tspan dy="2.47"> IL-2</tspan><tspan dy="-2.47" font-size="4.03">+</tspan><tspan dy="2.47"> (%) log</tspan><tspan dy="1.30" font-size="4.03">10</tspan></text>
<rect x="303" y="228.5" width="61.8" height="53.7" fill="#fff" stroke="none" stroke-width="1"/>
<line x1="303" y1="248.2" x2="364.8" y2="248.2" stroke="#f3f3f3" stroke-width="0.5"/>
<line x1="303" y1="267.8" x2="364.8" y2="267.8" stroke="#f3f3f3" stroke-width="0.5"/>
<line x1="303" y1="238.3" x2="364.8" y2="238.3" stroke="#e8e8e8" stroke-width="0.6"/>
<line x1="303" y1="258" x2="364.8" y2="258" stroke="#e8e8e8" stroke-width="0.6"/>
<line x1="303" y1="277.5" x2="364.8" y2="277.5" stroke="#e8e8e8" stroke-width="0.6"/>
<line x1="320" y1="228.5" x2="320" y2="282.2" stroke="#e8e8e8" stroke-width="0.6"/>
<line x1="348.4" y1="228.5" x2="348.4" y2="282.2" stroke="#e8e8e8" stroke-width="0.6"/>
<rect x="303" y="228.5" width="61.8" height="53.7" fill="none" stroke="#9a9a9a" stroke-width="0.6"/>
<line x1="301.4" y1="238.3" x2="303" y2="238.3" stroke="#555" stroke-width="0.4"/>
<text x="300.2" y="240" font-size="4.9" text-anchor="end" fill="#3a3a3a">10.0</text>
<line x1="301.4" y1="258" x2="303" y2="258" stroke="#555" stroke-width="0.4"/>
<text x="300.2" y="259.7" font-size="4.9" text-anchor="end" fill="#3a3a3a">1.0</text>
<line x1="301.4" y1="277.5" x2="303" y2="277.5" stroke="#555" stroke-width="0.4"/>
<text x="300.2" y="279.2" font-size="4.9" text-anchor="end" fill="#3a3a3a">0.1</text>
<circle cx="315.9" cy="279.5" r="1.75" fill="#1b9e77" fill-opacity="0.36"/>
<circle cx="316.4" cy="257" r="1.75" fill="#1b9e77" fill-opacity="0.36"/>
<circle cx="315" cy="244.1" r="1.75" fill="#1b9e77" fill-opacity="0.36"/>
<circle cx="315.7" cy="265.7" r="1.75" fill="#1b9e77" fill-opacity="0.36"/>
<circle cx="317.8" cy="249.2" r="1.75" fill="#1b9e77" fill-opacity="0.36"/>
<circle cx="318.2" cy="276.7" r="1.75" fill="#1b9e77" fill-opacity="0.36"/>
<rect x="313.3" y="257.2" width="6.4" height="15.1" fill="none" stroke="#1b9e77" stroke-width="0.7" stroke-opacity="0.75"/>
<line x1="316.5" y1="244.1" x2="316.5" y2="280.7" stroke="#1b9e77" stroke-width="1.05"/>
<line x1="313.5" y1="244.1" x2="319.5" y2="244.1" stroke="#1b9e77" stroke-width="1.05"/>
<line x1="313.5" y1="280.7" x2="319.5" y2="280.7" stroke="#1b9e77" stroke-width="1.05"/>
<line x1="313.3" y1="264.2" x2="319.7" y2="264.2" stroke="#1b9e77" stroke-width="1.05"/>
<circle cx="321.4" cy="263.9" r="1.75" fill="#d95f02" fill-opacity="0.36"/>
<circle cx="321.7" cy="261.8" r="1.75" fill="#d95f02" fill-opacity="0.36"/>
<circle cx="325.2" cy="266.1" r="1.75" fill="#d95f02" fill-opacity="0.36"/>
<circle cx="324.2" cy="278.7" r="1.75" fill="#d95f02" fill-opacity="0.36"/>
<circle cx="325" cy="261.3" r="1.75" fill="#d95f02" fill-opacity="0.36"/>
<circle cx="322.1" cy="268.9" r="1.75" fill="#d95f02" fill-opacity="0.36"/>
<rect x="320.4" y="257.3" width="6.4" height="15.4" fill="none" stroke="#d95f02" stroke-width="0.7" stroke-opacity="0.75"/>
<line x1="323.6" y1="257.2" x2="323.6" y2="280.7" stroke="#d95f02" stroke-width="1.05"/>
<line x1="320.6" y1="257.2" x2="326.6" y2="257.2" stroke="#d95f02" stroke-width="1.05"/>
<line x1="320.6" y1="280.7" x2="326.6" y2="280.7" stroke="#d95f02" stroke-width="1.05"/>
<line x1="320.4" y1="266.5" x2="326.8" y2="266.5" stroke="#d95f02" stroke-width="1.05"/>
<circle cx="344.5" cy="255.5" r="1.75" fill="#1b9e77" fill-opacity="0.36"/>
<circle cx="343.7" cy="255.9" r="1.75" fill="#1b9e77" fill-opacity="0.36"/>
<circle cx="346.5" cy="255.9" r="1.75" fill="#1b9e77" fill-opacity="0.36"/>
<circle cx="344.2" cy="256.3" r="1.75" fill="#1b9e77" fill-opacity="0.36"/>
<rect x="341.7" y="254.7" width="6.4" height="2.5" fill="none" stroke="#1b9e77" stroke-width="0.7" stroke-opacity="0.75"/>
<line x1="344.9" y1="254.2" x2="344.9" y2="257.7" stroke="#1b9e77" stroke-width="1.05"/>
<line x1="341.9" y1="254.2" x2="347.9" y2="254.2" stroke="#1b9e77" stroke-width="1.05"/>
<line x1="341.9" y1="257.7" x2="347.9" y2="257.7" stroke="#1b9e77" stroke-width="1.05"/>
<line x1="341.7" y1="256" x2="348.1" y2="256" stroke="#1b9e77" stroke-width="1.05"/>
<circle cx="352.8" cy="260.4" r="1.75" fill="#d95f02" fill-opacity="0.36"/>
<circle cx="354.5" cy="269.2" r="1.75" fill="#d95f02" fill-opacity="0.36"/>
<circle cx="351.1" cy="262.6" r="1.75" fill="#d95f02" fill-opacity="0.36"/>
<circle cx="352.2" cy="266.3" r="1.75" fill="#d95f02" fill-opacity="0.36"/>
<rect x="348.8" y="257.7" width="6.4" height="9.2" fill="none" stroke="#d95f02" stroke-width="0.7" stroke-opacity="0.75"/>
<line x1="352" y1="254.2" x2="352" y2="272.3" stroke="#d95f02" stroke-width="1.05"/>
<line x1="349" y1="254.2" x2="355" y2="254.2" stroke="#d95f02" stroke-width="1.05"/>
<line x1="349" y1="272.3" x2="355" y2="272.3" stroke="#d95f02" stroke-width="1.05"/>
<line x1="348.8" y1="261.2" x2="355.2" y2="261.2" stroke="#d95f02" stroke-width="1.05"/>
<rect x="303" y="286.2" width="61.8" height="53.8" fill="#fff" stroke="none" stroke-width="1"/>
<line x1="303" y1="305.1" x2="364.8" y2="305.1" stroke="#f3f3f3" stroke-width="0.5"/>
<line x1="303" y1="322.4" x2="364.8" y2="322.4" stroke="#f3f3f3" stroke-width="0.5"/>
<line x1="303" y1="296" x2="364.8" y2="296" stroke="#e8e8e8" stroke-width="0.6"/>
<line x1="303" y1="314.2" x2="364.8" y2="314.2" stroke="#e8e8e8" stroke-width="0.6"/>
<line x1="303" y1="330.5" x2="364.8" y2="330.5" stroke="#e8e8e8" stroke-width="0.6"/>
<line x1="320" y1="286.2" x2="320" y2="340" stroke="#e8e8e8" stroke-width="0.6"/>
<line x1="348.4" y1="286.2" x2="348.4" y2="340" stroke="#e8e8e8" stroke-width="0.6"/>
<rect x="303" y="286.2" width="61.8" height="53.8" fill="none" stroke="#9a9a9a" stroke-width="0.6"/>
<line x1="301.4" y1="296" x2="303" y2="296" stroke="#555" stroke-width="0.4"/>
<text x="300.2" y="297.7" font-size="4.9" text-anchor="end" fill="#3a3a3a">1.0</text>
<line x1="301.4" y1="314.2" x2="303" y2="314.2" stroke="#555" stroke-width="0.4"/>
<text x="300.2" y="315.9" font-size="4.9" text-anchor="end" fill="#3a3a3a">0.3</text>
<line x1="301.4" y1="330.5" x2="303" y2="330.5" stroke="#555" stroke-width="0.4"/>
<text x="300.2" y="332.2" font-size="4.9" text-anchor="end" fill="#3a3a3a">0.1</text>
<circle cx="317.8" cy="304.2" r="1.75" fill="#1b9e77" fill-opacity="0.36"/>
<circle cx="318.7" cy="302.5" r="1.75" fill="#1b9e77" fill-opacity="0.36"/>
<circle cx="316.1" cy="305.8" r="1.75" fill="#1b9e77" fill-opacity="0.36"/>
<circle cx="315.8" cy="311.7" r="1.75" fill="#1b9e77" fill-opacity="0.36"/>
<circle cx="314.4" cy="315.9" r="1.75" fill="#1b9e77" fill-opacity="0.36"/>
<circle cx="318.4" cy="300.1" r="1.75" fill="#1b9e77" fill-opacity="0.36"/>
<rect x="313.3" y="299.2" width="6.4" height="21.2" fill="none" stroke="#1b9e77" stroke-width="0.7" stroke-opacity="0.75"/>
<line x1="316.5" y1="296.2" x2="316.5" y2="328.9" stroke="#1b9e77" stroke-width="1.05"/>
<line x1="313.5" y1="296.2" x2="319.5" y2="296.2" stroke="#1b9e77" stroke-width="1.05"/>
<line x1="313.5" y1="328.9" x2="319.5" y2="328.9" stroke="#1b9e77" stroke-width="1.05"/>
<line x1="313.3" y1="307.2" x2="319.7" y2="307.2" stroke="#1b9e77" stroke-width="1.05"/>
<circle cx="321.4" cy="302.2" r="1.75" fill="#d95f02" fill-opacity="0.36"/>
<circle cx="321.5" cy="306.8" r="1.75" fill="#d95f02" fill-opacity="0.36"/>
<circle cx="323.9" cy="309.6" r="1.75" fill="#d95f02" fill-opacity="0.36"/>
<circle cx="323.5" cy="307.2" r="1.75" fill="#d95f02" fill-opacity="0.36"/>
<circle cx="324.5" cy="315.6" r="1.75" fill="#d95f02" fill-opacity="0.36"/>
<circle cx="322.6" cy="305.6" r="1.75" fill="#d95f02" fill-opacity="0.36"/>
<rect x="320.4" y="301.9" width="6.4" height="14.6" fill="none" stroke="#d95f02" stroke-width="0.7" stroke-opacity="0.75"/>
<line x1="323.6" y1="288.3" x2="323.6" y2="334.5" stroke="#d95f02" stroke-width="1.05"/>
<line x1="320.6" y1="288.3" x2="326.6" y2="288.3" stroke="#d95f02" stroke-width="1.05"/>
<line x1="320.6" y1="334.5" x2="326.6" y2="334.5" stroke="#d95f02" stroke-width="1.05"/>
<line x1="320.4" y1="311.2" x2="326.8" y2="311.2" stroke="#d95f02" stroke-width="1.05"/>
<circle cx="346.3" cy="318" r="1.75" fill="#1b9e77" fill-opacity="0.36"/>
<circle cx="342.7" cy="316.2" r="1.75" fill="#1b9e77" fill-opacity="0.36"/>
<circle cx="343.4" cy="317" r="1.75" fill="#1b9e77" fill-opacity="0.36"/>
<circle cx="345.7" cy="315.6" r="1.75" fill="#1b9e77" fill-opacity="0.36"/>
<rect x="341.7" y="311.6" width="6.4" height="7" fill="none" stroke="#1b9e77" stroke-width="0.7" stroke-opacity="0.75"/>
<line x1="344.9" y1="309.5" x2="344.9" y2="321.8" stroke="#1b9e77" stroke-width="1.05"/>
<line x1="341.9" y1="309.5" x2="347.9" y2="309.5" stroke="#1b9e77" stroke-width="1.05"/>
<line x1="341.9" y1="321.8" x2="347.9" y2="321.8" stroke="#1b9e77" stroke-width="1.05"/>
<line x1="341.7" y1="315.1" x2="348.1" y2="315.1" stroke="#1b9e77" stroke-width="1.05"/>
<circle cx="349.9" cy="315.3" r="1.75" fill="#d95f02" fill-opacity="0.36"/>
<circle cx="351" cy="318.9" r="1.75" fill="#d95f02" fill-opacity="0.36"/>
<circle cx="353.2" cy="312.5" r="1.75" fill="#d95f02" fill-opacity="0.36"/>
<circle cx="353" cy="309.7" r="1.75" fill="#d95f02" fill-opacity="0.36"/>
<rect x="348.8" y="307.7" width="6.4" height="12.3" fill="none" stroke="#d95f02" stroke-width="0.7" stroke-opacity="0.75"/>
<line x1="352" y1="307.2" x2="352" y2="320" stroke="#d95f02" stroke-width="1.05"/>
<line x1="349" y1="307.2" x2="355" y2="307.2" stroke="#d95f02" stroke-width="1.05"/>
<line x1="349" y1="320" x2="355" y2="320" stroke="#d95f02" stroke-width="1.05"/>
<line x1="348.8" y1="313.3" x2="355.2" y2="313.3" stroke="#d95f02" stroke-width="1.05"/>
<line x1="320" y1="340" x2="320" y2="341" stroke="#555" stroke-width="0.4"/>
<line x1="320" y1="282.2" x2="320" y2="283" stroke="#555" stroke-width="0.4"/>
<line x1="348.4" y1="340" x2="348.4" y2="341" stroke="#555" stroke-width="0.4"/>
<line x1="348.4" y1="282.2" x2="348.4" y2="283" stroke="#555" stroke-width="0.4"/>
<text x="320" y="346.8" font-size="5.2" text-anchor="middle" fill="#4d4d4d">non-SD</text>
<text x="348.4" y="346.8" font-size="5.2" text-anchor="middle" fill="#4d4d4d">SD</text>
<text x="287.8" y="286.2" font-size="6.5" text-anchor="middle" transform="rotate(-90 287.8 286.2)">CD4<tspan dy="-2.47" font-size="4.03">+</tspan><tspan dy="2.47"> CD107a</tspan><tspan dy="-2.47" font-size="4.03">+</tspan><tspan dy="2.47"> (%) log</tspan><tspan dy="1.30" font-size="4.03">10</tspan></text>
<rect x="388.7" y="228.5" width="61.7" height="53.7" fill="#fff" stroke="none" stroke-width="1"/>
<line x1="388.7" y1="243.6" x2="450.4" y2="243.6" stroke="#f3f3f3" stroke-width="0.5"/>
<line x1="388.7" y1="257.1" x2="450.4" y2="257.1" stroke="#f3f3f3" stroke-width="0.5"/>
<line x1="388.7" y1="270.6" x2="450.4" y2="270.6" stroke="#f3f3f3" stroke-width="0.5"/>
<line x1="388.7" y1="236.5" x2="450.4" y2="236.5" stroke="#e8e8e8" stroke-width="0.6"/>
<line x1="388.7" y1="250.7" x2="450.4" y2="250.7" stroke="#e8e8e8" stroke-width="0.6"/>
<line x1="388.7" y1="263.6" x2="450.4" y2="263.6" stroke="#e8e8e8" stroke-width="0.6"/>
<line x1="388.7" y1="277.7" x2="450.4" y2="277.7" stroke="#e8e8e8" stroke-width="0.6"/>
<line x1="405.5" y1="228.5" x2="405.5" y2="282.2" stroke="#e8e8e8" stroke-width="0.6"/>
<line x1="433.6" y1="228.5" x2="433.6" y2="282.2" stroke="#e8e8e8" stroke-width="0.6"/>
<rect x="388.7" y="228.5" width="61.7" height="53.7" fill="none" stroke="#9a9a9a" stroke-width="0.6"/>
<line x1="387.1" y1="236.5" x2="388.7" y2="236.5" stroke="#555" stroke-width="0.4"/>
<text x="385.9" y="238.2" font-size="4.9" text-anchor="end" fill="#3a3a3a">1.00</text>
<line x1="387.1" y1="250.7" x2="388.7" y2="250.7" stroke="#555" stroke-width="0.4"/>
<text x="385.9" y="252.4" font-size="4.9" text-anchor="end" fill="#3a3a3a">0.30</text>
<line x1="387.1" y1="263.6" x2="388.7" y2="263.6" stroke="#555" stroke-width="0.4"/>
<text x="385.9" y="265.3" font-size="4.9" text-anchor="end" fill="#3a3a3a">0.10</text>
<line x1="387.1" y1="277.7" x2="388.7" y2="277.7" stroke="#555" stroke-width="0.4"/>
<text x="385.9" y="279.4" font-size="4.9" text-anchor="end" fill="#3a3a3a">0.03</text>
<circle cx="400.9" cy="267.4" r="1.75" fill="#1b9e77" fill-opacity="0.36"/>
<circle cx="400.2" cy="267.5" r="1.75" fill="#1b9e77" fill-opacity="0.36"/>
<circle cx="401.3" cy="259.1" r="1.75" fill="#1b9e77" fill-opacity="0.36"/>
<circle cx="403.2" cy="266.7" r="1.75" fill="#1b9e77" fill-opacity="0.36"/>
<circle cx="401.3" cy="248.7" r="1.75" fill="#1b9e77" fill-opacity="0.36"/>
<circle cx="400" cy="263.7" r="1.75" fill="#1b9e77" fill-opacity="0.36"/>
<rect x="398.8" y="256.5" width="6.4" height="13.1" fill="none" stroke="#1b9e77" stroke-width="0.7" stroke-opacity="0.75"/>
<line x1="402" y1="243.6" x2="402" y2="279.5" stroke="#1b9e77" stroke-width="1.05"/>
<line x1="399" y1="243.6" x2="405" y2="243.6" stroke="#1b9e77" stroke-width="1.05"/>
<line x1="399" y1="279.5" x2="405" y2="279.5" stroke="#1b9e77" stroke-width="1.05"/>
<line x1="398.8" y1="263" x2="405.2" y2="263" stroke="#1b9e77" stroke-width="1.05"/>
<circle cx="410.2" cy="269.5" r="1.75" fill="#d95f02" fill-opacity="0.36"/>
<circle cx="409.5" cy="272.6" r="1.75" fill="#d95f02" fill-opacity="0.36"/>
<circle cx="411.2" cy="266.5" r="1.75" fill="#d95f02" fill-opacity="0.36"/>
<circle cx="411.4" cy="275.5" r="1.75" fill="#d95f02" fill-opacity="0.36"/>
<circle cx="411.2" cy="275.6" r="1.75" fill="#d95f02" fill-opacity="0.36"/>
<circle cx="408.8" cy="274.3" r="1.75" fill="#d95f02" fill-opacity="0.36"/>
<rect x="405.9" y="265.4" width="6.4" height="12.3" fill="none" stroke="#d95f02" stroke-width="0.7" stroke-opacity="0.75"/>
<line x1="409.1" y1="265.4" x2="409.1" y2="280.8" stroke="#d95f02" stroke-width="1.05"/>
<line x1="406.1" y1="265.4" x2="412.1" y2="265.4" stroke="#d95f02" stroke-width="1.05"/>
<line x1="406.1" y1="280.8" x2="412.1" y2="280.8" stroke="#d95f02" stroke-width="1.05"/>
<line x1="405.9" y1="271.4" x2="412.3" y2="271.4" stroke="#d95f02" stroke-width="1.05"/>
<circle cx="431.7" cy="271.8" r="1.75" fill="#1b9e77" fill-opacity="0.36"/>
<circle cx="429.1" cy="261.5" r="1.75" fill="#1b9e77" fill-opacity="0.36"/>
<circle cx="429.2" cy="263.4" r="1.75" fill="#1b9e77" fill-opacity="0.36"/>
<circle cx="429.6" cy="271.3" r="1.75" fill="#1b9e77" fill-opacity="0.36"/>
<rect x="426.9" y="261.3" width="6.4" height="10.1" fill="none" stroke="#1b9e77" stroke-width="0.7" stroke-opacity="0.75"/>
<line x1="430.1" y1="261" x2="430.1" y2="271.8" stroke="#1b9e77" stroke-width="1.05"/>
<line x1="427.1" y1="261" x2="433.1" y2="261" stroke="#1b9e77" stroke-width="1.05"/>
<line x1="427.1" y1="271.8" x2="433.1" y2="271.8" stroke="#1b9e77" stroke-width="1.05"/>
<line x1="426.9" y1="264.8" x2="433.3" y2="264.8" stroke="#1b9e77" stroke-width="1.05"/>
<circle cx="439.4" cy="249.9" r="1.75" fill="#d95f02" fill-opacity="0.36"/>
<circle cx="439.2" cy="270.2" r="1.75" fill="#d95f02" fill-opacity="0.36"/>
<circle cx="435.9" cy="265.9" r="1.75" fill="#d95f02" fill-opacity="0.36"/>
<circle cx="436.5" cy="259.5" r="1.75" fill="#d95f02" fill-opacity="0.36"/>
<rect x="434" y="257.2" width="6.4" height="14.2" fill="none" stroke="#d95f02" stroke-width="0.7" stroke-opacity="0.75"/>
<line x1="437.2" y1="245.9" x2="437.2" y2="275.4" stroke="#d95f02" stroke-width="1.05"/>
<line x1="434.2" y1="245.9" x2="440.2" y2="245.9" stroke="#d95f02" stroke-width="1.05"/>
<line x1="434.2" y1="275.4" x2="440.2" y2="275.4" stroke="#d95f02" stroke-width="1.05"/>
<line x1="434" y1="267.8" x2="440.4" y2="267.8" stroke="#d95f02" stroke-width="1.05"/>
<rect x="388.7" y="286.2" width="61.7" height="53.8" fill="#fff" stroke="none" stroke-width="1"/>
<line x1="388.7" y1="299.8" x2="450.4" y2="299.8" stroke="#f3f3f3" stroke-width="0.5"/>
<line x1="388.7" y1="312.1" x2="450.4" y2="312.1" stroke="#f3f3f3" stroke-width="0.5"/>
<line x1="388.7" y1="324.5" x2="450.4" y2="324.5" stroke="#f3f3f3" stroke-width="0.5"/>
<line x1="388.7" y1="293.1" x2="450.4" y2="293.1" stroke="#e8e8e8" stroke-width="0.6"/>
<line x1="388.7" y1="306.4" x2="450.4" y2="306.4" stroke="#e8e8e8" stroke-width="0.6"/>
<line x1="388.7" y1="317.9" x2="450.4" y2="317.9" stroke="#e8e8e8" stroke-width="0.6"/>
<line x1="388.7" y1="331.2" x2="450.4" y2="331.2" stroke="#e8e8e8" stroke-width="0.6"/>
<line x1="405.5" y1="286.2" x2="405.5" y2="340" stroke="#e8e8e8" stroke-width="0.6"/>
<line x1="433.6" y1="286.2" x2="433.6" y2="340" stroke="#e8e8e8" stroke-width="0.6"/>
<rect x="388.7" y="286.2" width="61.7" height="53.8" fill="none" stroke="#9a9a9a" stroke-width="0.6"/>
<line x1="387.1" y1="293.1" x2="388.7" y2="293.1" stroke="#555" stroke-width="0.4"/>
<text x="385.9" y="294.8" font-size="4.9" text-anchor="end" fill="#3a3a3a">1.00</text>
<line x1="387.1" y1="306.4" x2="388.7" y2="306.4" stroke="#555" stroke-width="0.4"/>
<text x="385.9" y="308.1" font-size="4.9" text-anchor="end" fill="#3a3a3a">0.30</text>
<line x1="387.1" y1="317.9" x2="388.7" y2="317.9" stroke="#555" stroke-width="0.4"/>
<text x="385.9" y="319.6" font-size="4.9" text-anchor="end" fill="#3a3a3a">0.10</text>
<line x1="387.1" y1="331.2" x2="388.7" y2="331.2" stroke="#555" stroke-width="0.4"/>
<text x="385.9" y="332.9" font-size="4.9" text-anchor="end" fill="#3a3a3a">0.03</text>
<circle cx="401.3" cy="298.2" r="1.75" fill="#1b9e77" fill-opacity="0.36"/>
<circle cx="401.3" cy="309.1" r="1.75" fill="#1b9e77" fill-opacity="0.36"/>
<circle cx="401.5" cy="303.1" r="1.75" fill="#1b9e77" fill-opacity="0.36"/>
<circle cx="401.4" cy="315.8" r="1.75" fill="#1b9e77" fill-opacity="0.36"/>
<circle cx="400.4" cy="301.5" r="1.75" fill="#1b9e77" fill-opacity="0.36"/>
<circle cx="402.3" cy="307.9" r="1.75" fill="#1b9e77" fill-opacity="0.36"/>
<rect x="398.8" y="302" width="6.4" height="18.6" fill="none" stroke="#1b9e77" stroke-width="0.7" stroke-opacity="0.75"/>
<line x1="402" y1="296.7" x2="402" y2="332.1" stroke="#1b9e77" stroke-width="1.05"/>
<line x1="399" y1="296.7" x2="405" y2="296.7" stroke="#1b9e77" stroke-width="1.05"/>
<line x1="399" y1="332.1" x2="405" y2="332.1" stroke="#1b9e77" stroke-width="1.05"/>
<line x1="398.8" y1="315.6" x2="405.2" y2="315.6" stroke="#1b9e77" stroke-width="1.05"/>
<circle cx="410.6" cy="312.5" r="1.75" fill="#d95f02" fill-opacity="0.36"/>
<circle cx="409.3" cy="306.8" r="1.75" fill="#d95f02" fill-opacity="0.36"/>
<circle cx="410.8" cy="319.9" r="1.75" fill="#d95f02" fill-opacity="0.36"/>
<circle cx="409.4" cy="318.8" r="1.75" fill="#d95f02" fill-opacity="0.36"/>
<circle cx="407.4" cy="323.5" r="1.75" fill="#d95f02" fill-opacity="0.36"/>
<circle cx="410.4" cy="318.6" r="1.75" fill="#d95f02" fill-opacity="0.36"/>
<rect x="405.9" y="308.2" width="6.4" height="16.8" fill="none" stroke="#d95f02" stroke-width="0.7" stroke-opacity="0.75"/>
<line x1="409.1" y1="288.4" x2="409.1" y2="337.7" stroke="#d95f02" stroke-width="1.05"/>
<line x1="406.1" y1="288.4" x2="412.1" y2="288.4" stroke="#d95f02" stroke-width="1.05"/>
<line x1="406.1" y1="337.7" x2="412.1" y2="337.7" stroke="#d95f02" stroke-width="1.05"/>
<line x1="405.9" y1="311.7" x2="412.3" y2="311.7" stroke="#d95f02" stroke-width="1.05"/>
<circle cx="432.1" cy="321.5" r="1.75" fill="#1b9e77" fill-opacity="0.36"/>
<circle cx="429" cy="321.9" r="1.75" fill="#1b9e77" fill-opacity="0.36"/>
<circle cx="427.7" cy="320.8" r="1.75" fill="#1b9e77" fill-opacity="0.36"/>
<circle cx="430.2" cy="321.2" r="1.75" fill="#1b9e77" fill-opacity="0.36"/>
<rect x="426.9" y="320.6" width="6.4" height="1.7" fill="none" stroke="#1b9e77" stroke-width="0.7" stroke-opacity="0.75"/>
<line x1="430.1" y1="320.6" x2="430.1" y2="322.3" stroke="#1b9e77" stroke-width="1.05"/>
<line x1="427.1" y1="320.6" x2="433.1" y2="320.6" stroke="#1b9e77" stroke-width="1.05"/>
<line x1="427.1" y1="322.3" x2="433.1" y2="322.3" stroke="#1b9e77" stroke-width="1.05"/>
<line x1="426.9" y1="321.5" x2="433.3" y2="321.5" stroke="#1b9e77" stroke-width="1.05"/>
<circle cx="437.4" cy="318.8" r="1.75" fill="#d95f02" fill-opacity="0.36"/>
<circle cx="437.5" cy="323.7" r="1.75" fill="#d95f02" fill-opacity="0.36"/>
<circle cx="439.6" cy="323.9" r="1.75" fill="#d95f02" fill-opacity="0.36"/>
<circle cx="438" cy="318.3" r="1.75" fill="#d95f02" fill-opacity="0.36"/>
<rect x="434" y="317" width="6.4" height="10.3" fill="none" stroke="#d95f02" stroke-width="0.7" stroke-opacity="0.75"/>
<line x1="437.2" y1="317" x2="437.2" y2="327.3" stroke="#d95f02" stroke-width="1.05"/>
<line x1="434.2" y1="317" x2="440.2" y2="317" stroke="#d95f02" stroke-width="1.05"/>
<line x1="434.2" y1="327.3" x2="440.2" y2="327.3" stroke="#d95f02" stroke-width="1.05"/>
<line x1="434" y1="321.5" x2="440.4" y2="321.5" stroke="#d95f02" stroke-width="1.05"/>
<line x1="405.5" y1="340" x2="405.5" y2="341" stroke="#555" stroke-width="0.4"/>
<line x1="405.5" y1="282.2" x2="405.5" y2="283" stroke="#555" stroke-width="0.4"/>
<line x1="433.6" y1="340" x2="433.6" y2="341" stroke="#555" stroke-width="0.4"/>
<line x1="433.6" y1="282.2" x2="433.6" y2="283" stroke="#555" stroke-width="0.4"/>
<text x="405.5" y="346.8" font-size="5.2" text-anchor="middle" fill="#4d4d4d">non-SD</text>
<text x="433.6" y="346.8" font-size="5.2" text-anchor="middle" fill="#4d4d4d">SD</text>
<text x="373.8" y="286.2" font-size="6.5" text-anchor="middle" transform="rotate(-90 373.8 286.2)">CD4<tspan dy="-2.47" font-size="4.03">+</tspan><tspan dy="2.47"> MIP-1β</tspan><tspan dy="-2.47" font-size="4.03">+</tspan><tspan dy="2.47"> (%) log</tspan><tspan dy="1.30" font-size="4.03">10</tspan></text>
<rect x="450.5" y="228.5" width="10.1" height="53.7" fill="#d9d9d9" stroke="#3a3a3a" stroke-width="0.6"/>
<text x="452.8" y="255.3" font-size="7.2" text-anchor="middle" font-weight="bold" transform="rotate(90 452.8 255.3)">TP1</text>
<rect x="450.5" y="286.2" width="10.1" height="53.8" fill="#d9d9d9" stroke="#3a3a3a" stroke-width="0.6"/>
<text x="452.8" y="313.1" font-size="7.2" text-anchor="middle" font-weight="bold" transform="rotate(90 452.8 313.1)">TP2</text>
<text x="76.8" y="242.4" font-size="10.5" text-anchor="middle" font-weight="bold">**</text>
<text x="16.5" y="275.7" font-size="11" text-anchor="middle" font-weight="bold" transform="rotate(-90 16.5 275.7)">CD4<tspan dy="-4.18" font-size="6.82">+</tspan></text>
<text x="3" y="352.9" font-size="14.2" font-weight="bold">e</text>
<rect x="47.1" y="355.9" width="60.8" height="53.7" fill="#fff" stroke="none" stroke-width="1"/>
<line x1="47.1" y1="363.3" x2="107.9" y2="363.3" stroke="#f3f3f3" stroke-width="0.5"/>
<line x1="47.1" y1="374.4" x2="107.9" y2="374.4" stroke="#f3f3f3" stroke-width="0.5"/>
<line x1="47.1" y1="385.8" x2="107.9" y2="385.8" stroke="#f3f3f3" stroke-width="0.5"/>
<line x1="47.1" y1="397.2" x2="107.9" y2="397.2" stroke="#f3f3f3" stroke-width="0.5"/>
<line x1="47.1" y1="358.2" x2="107.9" y2="358.2" stroke="#e8e8e8" stroke-width="0.6"/>
<line x1="47.1" y1="368.4" x2="107.9" y2="368.4" stroke="#e8e8e8" stroke-width="0.6"/>
<line x1="47.1" y1="380.3" x2="107.9" y2="380.3" stroke="#e8e8e8" stroke-width="0.6"/>
<line x1="47.1" y1="391.2" x2="107.9" y2="391.2" stroke="#e8e8e8" stroke-width="0.6"/>
<line x1="47.1" y1="403.2" x2="107.9" y2="403.2" stroke="#e8e8e8" stroke-width="0.6"/>
<line x1="64" y1="355.9" x2="64" y2="409.6" stroke="#e8e8e8" stroke-width="0.6"/>
<line x1="92.2" y1="355.9" x2="92.2" y2="409.6" stroke="#e8e8e8" stroke-width="0.6"/>
<rect x="47.1" y="355.9" width="60.8" height="53.7" fill="none" stroke="#9a9a9a" stroke-width="0.6"/>
<line x1="45.5" y1="358.2" x2="47.1" y2="358.2" stroke="#555" stroke-width="0.4"/>
<text x="44.3" y="359.9" font-size="4.9" text-anchor="end" fill="#3a3a3a">3.00</text>
<line x1="45.5" y1="368.4" x2="47.1" y2="368.4" stroke="#555" stroke-width="0.4"/>
<text x="44.3" y="370.1" font-size="4.9" text-anchor="end" fill="#3a3a3a">1.00</text>
<line x1="45.5" y1="380.3" x2="47.1" y2="380.3" stroke="#555" stroke-width="0.4"/>
<text x="44.3" y="382" font-size="4.9" text-anchor="end" fill="#3a3a3a">0.30</text>
<line x1="45.5" y1="391.2" x2="47.1" y2="391.2" stroke="#555" stroke-width="0.4"/>
<text x="44.3" y="392.9" font-size="4.9" text-anchor="end" fill="#3a3a3a">0.10</text>
<line x1="45.5" y1="403.2" x2="47.1" y2="403.2" stroke="#555" stroke-width="0.4"/>
<text x="44.3" y="404.9" font-size="4.9" text-anchor="end" fill="#3a3a3a">0.03</text>
<circle cx="62.1" cy="384.4" r="1.75" fill="#1b9e77" fill-opacity="0.36"/>
<circle cx="58.3" cy="387" r="1.75" fill="#1b9e77" fill-opacity="0.36"/>
<circle cx="60.7" cy="395" r="1.75" fill="#1b9e77" fill-opacity="0.36"/>
<circle cx="62" cy="393.6" r="1.75" fill="#1b9e77" fill-opacity="0.36"/>
<circle cx="58.4" cy="382.8" r="1.75" fill="#1b9e77" fill-opacity="0.36"/>
<circle cx="58.4" cy="394.9" r="1.75" fill="#1b9e77" fill-opacity="0.36"/>
<rect x="57.3" y="379.9" width="6.4" height="18.9" fill="none" stroke="#1b9e77" stroke-width="0.7" stroke-opacity="0.75"/>
<line x1="60.5" y1="368.3" x2="60.5" y2="407.3" stroke="#1b9e77" stroke-width="1.05"/>
<line x1="57.5" y1="368.3" x2="63.5" y2="368.3" stroke="#1b9e77" stroke-width="1.05"/>
<line x1="57.5" y1="407.3" x2="63.5" y2="407.3" stroke="#1b9e77" stroke-width="1.05"/>
<line x1="57.3" y1="386.5" x2="63.7" y2="386.5" stroke="#1b9e77" stroke-width="1.05"/>
<circle cx="68.8" cy="382.8" r="1.75" fill="#d95f02" fill-opacity="0.36"/>
<circle cx="69.6" cy="386.7" r="1.75" fill="#d95f02" fill-opacity="0.36"/>
<circle cx="65.5" cy="383" r="1.75" fill="#d95f02" fill-opacity="0.36"/>
<circle cx="68.3" cy="384.5" r="1.75" fill="#d95f02" fill-opacity="0.36"/>
<circle cx="65.8" cy="384.4" r="1.75" fill="#d95f02" fill-opacity="0.36"/>
<circle cx="68.9" cy="384.5" r="1.75" fill="#d95f02" fill-opacity="0.36"/>
<rect x="64.4" y="382" width="6.4" height="7.1" fill="none" stroke="#d95f02" stroke-width="0.7" stroke-opacity="0.75"/>
<line x1="67.6" y1="382" x2="67.6" y2="389.1" stroke="#d95f02" stroke-width="1.05"/>
<line x1="64.6" y1="382" x2="70.6" y2="382" stroke="#d95f02" stroke-width="1.05"/>
<line x1="64.6" y1="389.1" x2="70.6" y2="389.1" stroke="#d95f02" stroke-width="1.05"/>
<line x1="64.4" y1="384.7" x2="70.8" y2="384.7" stroke="#d95f02" stroke-width="1.05"/>
<circle cx="89.5" cy="372.8" r="1.75" fill="#1b9e77" fill-opacity="0.36"/>
<circle cx="87.4" cy="386.7" r="1.75" fill="#1b9e77" fill-opacity="0.36"/>
<circle cx="87.3" cy="379" r="1.75" fill="#1b9e77" fill-opacity="0.36"/>
<circle cx="90.1" cy="382" r="1.75" fill="#1b9e77" fill-opacity="0.36"/>
<rect x="85.5" y="371.1" width="6.4" height="12.7" fill="none" stroke="#1b9e77" stroke-width="0.7" stroke-opacity="0.75"/>
<line x1="88.7" y1="363.5" x2="88.7" y2="399.3" stroke="#1b9e77" stroke-width="1.05"/>
<line x1="85.7" y1="363.5" x2="91.7" y2="363.5" stroke="#1b9e77" stroke-width="1.05"/>
<line x1="85.7" y1="399.3" x2="91.7" y2="399.3" stroke="#1b9e77" stroke-width="1.05"/>
<line x1="85.5" y1="383.4" x2="91.9" y2="383.4" stroke="#1b9e77" stroke-width="1.05"/>
<circle cx="95.9" cy="360.4" r="1.75" fill="#d95f02" fill-opacity="0.36"/>
<circle cx="97.2" cy="359.8" r="1.75" fill="#d95f02" fill-opacity="0.36"/>
<circle cx="95.3" cy="358.8" r="1.75" fill="#d95f02" fill-opacity="0.36"/>
<circle cx="95" cy="358.8" r="1.75" fill="#d95f02" fill-opacity="0.36"/>
<rect x="92.6" y="358.7" width="6.4" height="3" fill="none" stroke="#d95f02" stroke-width="0.7" stroke-opacity="0.75"/>
<line x1="95.8" y1="358.5" x2="95.8" y2="361.7" stroke="#d95f02" stroke-width="1.05"/>
<line x1="92.8" y1="358.5" x2="98.8" y2="358.5" stroke="#d95f02" stroke-width="1.05"/>
<line x1="92.8" y1="361.7" x2="98.8" y2="361.7" stroke="#d95f02" stroke-width="1.05"/>
<line x1="92.6" y1="360" x2="99" y2="360" stroke="#d95f02" stroke-width="1.05"/>
<rect x="47.1" y="413" width="60.8" height="54.5" fill="#fff" stroke="none" stroke-width="1"/>
<line x1="47.1" y1="435.9" x2="107.9" y2="435.9" stroke="#f3f3f3" stroke-width="0.5"/>
<line x1="47.1" y1="454.4" x2="107.9" y2="454.4" stroke="#f3f3f3" stroke-width="0.5"/>
<line x1="47.1" y1="426.6" x2="107.9" y2="426.6" stroke="#e8e8e8" stroke-width="0.6"/>
<line x1="47.1" y1="445.1" x2="107.9" y2="445.1" stroke="#e8e8e8" stroke-width="0.6"/>
<line x1="47.1" y1="463.7" x2="107.9" y2="463.7" stroke="#e8e8e8" stroke-width="0.6"/>
<line x1="64" y1="413" x2="64" y2="467.5" stroke="#e8e8e8" stroke-width="0.6"/>
<line x1="92.2" y1="413" x2="92.2" y2="467.5" stroke="#e8e8e8" stroke-width="0.6"/>
<rect x="47.1" y="413" width="60.8" height="54.5" fill="none" stroke="#9a9a9a" stroke-width="0.6"/>
<line x1="45.5" y1="426.6" x2="47.1" y2="426.6" stroke="#555" stroke-width="0.4"/>
<text x="44.3" y="428.3" font-size="4.9" text-anchor="end" fill="#3a3a3a">1.00</text>
<line x1="45.5" y1="445.1" x2="47.1" y2="445.1" stroke="#555" stroke-width="0.4"/>
<text x="44.3" y="446.8" font-size="4.9" text-anchor="end" fill="#3a3a3a">0.10</text>
<line x1="45.5" y1="463.7" x2="47.1" y2="463.7" stroke="#555" stroke-width="0.4"/>
<text x="44.3" y="465.4" font-size="4.9" text-anchor="end" fill="#3a3a3a">0.01</text>
<circle cx="62.9" cy="426.9" r="1.75" fill="#1b9e77" fill-opacity="0.36"/>
<circle cx="61.4" cy="414.7" r="1.75" fill="#1b9e77" fill-opacity="0.36"/>
<circle cx="60.5" cy="435.8" r="1.75" fill="#1b9e77" fill-opacity="0.36"/>
<circle cx="60.7" cy="425.5" r="1.75" fill="#1b9e77" fill-opacity="0.36"/>
<circle cx="61.6" cy="428.5" r="1.75" fill="#1b9e77" fill-opacity="0.36"/>
<circle cx="61.6" cy="429.1" r="1.75" fill="#1b9e77" fill-opacity="0.36"/>
<rect x="57.3" y="427.6" width="6.4" height="9.2" fill="none" stroke="#1b9e77" stroke-width="0.7" stroke-opacity="0.75"/>
<line x1="60.5" y1="414.7" x2="60.5" y2="440" stroke="#1b9e77" stroke-width="1.05"/>
<line x1="57.5" y1="414.7" x2="63.5" y2="414.7" stroke="#1b9e77" stroke-width="1.05"/>
<line x1="57.5" y1="440" x2="63.5" y2="440" stroke="#1b9e77" stroke-width="1.05"/>
<line x1="57.3" y1="433.3" x2="63.7" y2="433.3" stroke="#1b9e77" stroke-width="1.05"/>
<circle cx="69.7" cy="427.7" r="1.75" fill="#d95f02" fill-opacity="0.36"/>
<circle cx="67.1" cy="421.5" r="1.75" fill="#d95f02" fill-opacity="0.36"/>
<circle cx="69.3" cy="426.5" r="1.75" fill="#d95f02" fill-opacity="0.36"/>
<circle cx="68.5" cy="426.6" r="1.75" fill="#d95f02" fill-opacity="0.36"/>
<circle cx="69.4" cy="428.7" r="1.75" fill="#d95f02" fill-opacity="0.36"/>
<circle cx="69.2" cy="433.4" r="1.75" fill="#d95f02" fill-opacity="0.36"/>
<rect x="64.4" y="423.6" width="6.4" height="10.6" fill="none" stroke="#d95f02" stroke-width="0.7" stroke-opacity="0.75"/>
<line x1="67.6" y1="417.7" x2="67.6" y2="443" stroke="#d95f02" stroke-width="1.05"/>
<line x1="64.6" y1="417.7" x2="70.6" y2="417.7" stroke="#d95f02" stroke-width="1.05"/>
<line x1="64.6" y1="443" x2="70.6" y2="443" stroke="#d95f02" stroke-width="1.05"/>
<line x1="64.4" y1="429.7" x2="70.8" y2="429.7" stroke="#d95f02" stroke-width="1.05"/>
<circle cx="90.4" cy="436.3" r="1.75" fill="#1b9e77" fill-opacity="0.36"/>
<circle cx="90.7" cy="436.5" r="1.75" fill="#1b9e77" fill-opacity="0.36"/>
<circle cx="91" cy="436.4" r="1.75" fill="#1b9e77" fill-opacity="0.36"/>
<circle cx="89.4" cy="434.2" r="1.75" fill="#1b9e77" fill-opacity="0.36"/>
<rect x="85.5" y="428.9" width="6.4" height="7.9" fill="none" stroke="#1b9e77" stroke-width="0.7" stroke-opacity="0.75"/>
<line x1="88.7" y1="428.5" x2="88.7" y2="440.3" stroke="#1b9e77" stroke-width="1.05"/>
<line x1="85.7" y1="428.5" x2="91.7" y2="428.5" stroke="#1b9e77" stroke-width="1.05"/>
<line x1="85.7" y1="440.3" x2="91.7" y2="440.3" stroke="#1b9e77" stroke-width="1.05"/>
<line x1="85.5" y1="433.3" x2="91.9" y2="433.3" stroke="#1b9e77" stroke-width="1.05"/>
<circle cx="95.9" cy="432.4" r="1.75" fill="#d95f02" fill-opacity="0.36"/>
<circle cx="96.9" cy="422.6" r="1.75" fill="#d95f02" fill-opacity="0.36"/>
<circle cx="97.3" cy="427.3" r="1.75" fill="#d95f02" fill-opacity="0.36"/>
<circle cx="95.4" cy="427.7" r="1.75" fill="#d95f02" fill-opacity="0.36"/>
<rect x="92.6" y="427.1" width="6.4" height="7.9" fill="none" stroke="#d95f02" stroke-width="0.7" stroke-opacity="0.75"/>
<line x1="95.8" y1="419.1" x2="95.8" y2="440.3" stroke="#d95f02" stroke-width="1.05"/>
<line x1="92.8" y1="419.1" x2="98.8" y2="419.1" stroke="#d95f02" stroke-width="1.05"/>
<line x1="92.8" y1="440.3" x2="98.8" y2="440.3" stroke="#d95f02" stroke-width="1.05"/>
<line x1="92.6" y1="431.5" x2="99" y2="431.5" stroke="#d95f02" stroke-width="1.05"/>
<line x1="64" y1="467.5" x2="64" y2="468.5" stroke="#555" stroke-width="0.4"/>
<line x1="64" y1="409.6" x2="64" y2="410.4" stroke="#555" stroke-width="0.4"/>
<line x1="92.2" y1="467.5" x2="92.2" y2="468.5" stroke="#555" stroke-width="0.4"/>
<line x1="92.2" y1="409.6" x2="92.2" y2="410.4" stroke="#555" stroke-width="0.4"/>
<text x="64" y="474.3" font-size="5.2" text-anchor="middle" fill="#4d4d4d">non-SD</text>
<text x="92.2" y="474.3" font-size="5.2" text-anchor="middle" fill="#4d4d4d">SD</text>
<text x="31.1" y="413.7" font-size="6.5" text-anchor="middle" transform="rotate(-90 31.1 413.7)">CD8<tspan dy="-2.47" font-size="4.03">+</tspan><tspan dy="2.47"> IFN-γ</tspan><tspan dy="-2.47" font-size="4.03">+</tspan><tspan dy="2.47"> (%) log</tspan><tspan dy="1.30" font-size="4.03">10</tspan></text>
<rect x="135" y="355.9" width="59.2" height="53.7" fill="#fff" stroke="none" stroke-width="1"/>
<line x1="135" y1="370.6" x2="194.2" y2="370.6" stroke="#f3f3f3" stroke-width="0.5"/>
<line x1="135" y1="380.6" x2="194.2" y2="380.6" stroke="#f3f3f3" stroke-width="0.5"/>
<line x1="135" y1="390.9" x2="194.2" y2="390.9" stroke="#f3f3f3" stroke-width="0.5"/>
<line x1="135" y1="401.1" x2="194.2" y2="401.1" stroke="#f3f3f3" stroke-width="0.5"/>
<line x1="135" y1="365.8" x2="194.2" y2="365.8" stroke="#e8e8e8" stroke-width="0.6"/>
<line x1="135" y1="375.3" x2="194.2" y2="375.3" stroke="#e8e8e8" stroke-width="0.6"/>
<line x1="135" y1="385.9" x2="194.2" y2="385.9" stroke="#e8e8e8" stroke-width="0.6"/>
<line x1="135" y1="395.8" x2="194.2" y2="395.8" stroke="#e8e8e8" stroke-width="0.6"/>
<line x1="135" y1="406.4" x2="194.2" y2="406.4" stroke="#e8e8e8" stroke-width="0.6"/>
<line x1="151.5" y1="355.9" x2="151.5" y2="409.6" stroke="#e8e8e8" stroke-width="0.6"/>
<line x1="178.6" y1="355.9" x2="178.6" y2="409.6" stroke="#e8e8e8" stroke-width="0.6"/>
<rect x="135" y="355.9" width="59.2" height="53.7" fill="none" stroke="#9a9a9a" stroke-width="0.6"/>
<line x1="133.4" y1="365.8" x2="135" y2="365.8" stroke="#555" stroke-width="0.4"/>
<text x="132.2" y="367.5" font-size="4.9" text-anchor="end" fill="#3a3a3a">0.300</text>
<line x1="133.4" y1="375.3" x2="135" y2="375.3" stroke="#555" stroke-width="0.4"/>
<text x="132.2" y="377" font-size="4.9" text-anchor="end" fill="#3a3a3a">0.100</text>
<line x1="133.4" y1="385.9" x2="135" y2="385.9" stroke="#555" stroke-width="0.4"/>
<text x="132.2" y="387.6" font-size="4.9" text-anchor="end" fill="#3a3a3a">0.030</text>
<line x1="133.4" y1="395.8" x2="135" y2="395.8" stroke="#555" stroke-width="0.4"/>
<text x="132.2" y="397.5" font-size="4.9" text-anchor="end" fill="#3a3a3a">0.010</text>
<line x1="133.4" y1="406.4" x2="135" y2="406.4" stroke="#555" stroke-width="0.4"/>
<text x="132.2" y="408.1" font-size="4.9" text-anchor="end" fill="#3a3a3a">0.003</text>
<circle cx="147.6" cy="386.8" r="1.75" fill="#1b9e77" fill-opacity="0.36"/>
<circle cx="146.2" cy="373" r="1.75" fill="#1b9e77" fill-opacity="0.36"/>
<circle cx="149.2" cy="372.4" r="1.75" fill="#1b9e77" fill-opacity="0.36"/>
<circle cx="150.5" cy="393.3" r="1.75" fill="#1b9e77" fill-opacity="0.36"/>
<circle cx="147.4" cy="371.5" r="1.75" fill="#1b9e77" fill-opacity="0.36"/>
<circle cx="146.3" cy="404.2" r="1.75" fill="#1b9e77" fill-opacity="0.36"/>
<rect x="144.8" y="366.5" width="6.4" height="20.8" fill="none" stroke="#1b9e77" stroke-width="0.7" stroke-opacity="0.75"/>
<line x1="148" y1="358.2" x2="148" y2="407.1" stroke="#1b9e77" stroke-width="1.05"/>
<line x1="145" y1="358.2" x2="151" y2="358.2" stroke="#1b9e77" stroke-width="1.05"/>
<line x1="145" y1="407.1" x2="151" y2="407.1" stroke="#1b9e77" stroke-width="1.05"/>
<line x1="144.8" y1="382" x2="151.2" y2="382" stroke="#1b9e77" stroke-width="1.05"/>
<circle cx="153.6" cy="370" r="1.75" fill="#d95f02" fill-opacity="0.36"/>
<circle cx="154.7" cy="368.3" r="1.75" fill="#d95f02" fill-opacity="0.36"/>
<circle cx="154" cy="371.4" r="1.75" fill="#d95f02" fill-opacity="0.36"/>
<circle cx="157.5" cy="368.5" r="1.75" fill="#d95f02" fill-opacity="0.36"/>
<circle cx="152.8" cy="372.3" r="1.75" fill="#d95f02" fill-opacity="0.36"/>
<circle cx="154.1" cy="369.7" r="1.75" fill="#d95f02" fill-opacity="0.36"/>
<rect x="151.9" y="368.3" width="6.4" height="4" fill="none" stroke="#d95f02" stroke-width="0.7" stroke-opacity="0.75"/>
<line x1="155.1" y1="368.3" x2="155.1" y2="372.3" stroke="#d95f02" stroke-width="1.05"/>
<line x1="152.1" y1="368.3" x2="158.1" y2="368.3" stroke="#d95f02" stroke-width="1.05"/>
<line x1="152.1" y1="372.3" x2="158.1" y2="372.3" stroke="#d95f02" stroke-width="1.05"/>
<line x1="151.9" y1="370.2" x2="158.3" y2="370.2" stroke="#d95f02" stroke-width="1.05"/>
<circle cx="173.1" cy="373.1" r="1.75" fill="#1b9e77" fill-opacity="0.36"/>
<circle cx="175.9" cy="372.6" r="1.75" fill="#1b9e77" fill-opacity="0.36"/>
<circle cx="176.5" cy="368.8" r="1.75" fill="#1b9e77" fill-opacity="0.36"/>
<circle cx="173.5" cy="373" r="1.75" fill="#1b9e77" fill-opacity="0.36"/>
<rect x="171.9" y="372.8" width="6.4" height="4.3" fill="none" stroke="#1b9e77" stroke-width="0.7" stroke-opacity="0.75"/>
<line x1="175.1" y1="368.3" x2="175.1" y2="377.1" stroke="#1b9e77" stroke-width="1.05"/>
<line x1="172.1" y1="368.3" x2="178.1" y2="368.3" stroke="#1b9e77" stroke-width="1.05"/>
<line x1="172.1" y1="377.1" x2="178.1" y2="377.1" stroke="#1b9e77" stroke-width="1.05"/>
<line x1="171.9" y1="375" x2="178.3" y2="375" stroke="#1b9e77" stroke-width="1.05"/>
<circle cx="180" cy="369.9" r="1.75" fill="#d95f02" fill-opacity="0.36"/>
<circle cx="182" cy="371" r="1.75" fill="#d95f02" fill-opacity="0.36"/>
<circle cx="182.6" cy="369.9" r="1.75" fill="#d95f02" fill-opacity="0.36"/>
<circle cx="184.3" cy="372.7" r="1.75" fill="#d95f02" fill-opacity="0.36"/>
<rect x="179" y="369.7" width="6.4" height="3.1" fill="none" stroke="#d95f02" stroke-width="0.7" stroke-opacity="0.75"/>
<line x1="182.2" y1="369.7" x2="182.2" y2="372.8" stroke="#d95f02" stroke-width="1.05"/>
<line x1="179.2" y1="369.7" x2="185.2" y2="369.7" stroke="#d95f02" stroke-width="1.05"/>
<line x1="179.2" y1="372.8" x2="185.2" y2="372.8" stroke="#d95f02" stroke-width="1.05"/>
<line x1="179" y1="371.4" x2="185.4" y2="371.4" stroke="#d95f02" stroke-width="1.05"/>
<rect x="135" y="413" width="59.2" height="54.5" fill="#fff" stroke="none" stroke-width="1"/>
<line x1="135" y1="432.6" x2="194.2" y2="432.6" stroke="#f3f3f3" stroke-width="0.5"/>
<line x1="135" y1="446.6" x2="194.2" y2="446.6" stroke="#f3f3f3" stroke-width="0.5"/>
<line x1="135" y1="425.3" x2="194.2" y2="425.3" stroke="#e8e8e8" stroke-width="0.6"/>
<line x1="135" y1="440" x2="194.2" y2="440" stroke="#e8e8e8" stroke-width="0.6"/>
<line x1="135" y1="453.2" x2="194.2" y2="453.2" stroke="#e8e8e8" stroke-width="0.6"/>
<line x1="151.5" y1="413" x2="151.5" y2="467.5" stroke="#e8e8e8" stroke-width="0.6"/>
<line x1="178.6" y1="413" x2="178.6" y2="467.5" stroke="#e8e8e8" stroke-width="0.6"/>
<rect x="135" y="413" width="59.2" height="54.5" fill="none" stroke="#9a9a9a" stroke-width="0.6"/>
<line x1="133.4" y1="425.3" x2="135" y2="425.3" stroke="#555" stroke-width="0.4"/>
<text x="132.2" y="427" font-size="4.9" text-anchor="end" fill="#3a3a3a">1.0</text>
<line x1="133.4" y1="440" x2="135" y2="440" stroke="#555" stroke-width="0.4"/>
<text x="132.2" y="441.7" font-size="4.9" text-anchor="end" fill="#3a3a3a">0.3</text>
<line x1="133.4" y1="453.2" x2="135" y2="453.2" stroke="#555" stroke-width="0.4"/>
<text x="132.2" y="454.9" font-size="4.9" text-anchor="end" fill="#3a3a3a">0.1</text>
<circle cx="145.6" cy="436.1" r="1.75" fill="#1b9e77" fill-opacity="0.36"/>
<circle cx="146" cy="436.4" r="1.75" fill="#1b9e77" fill-opacity="0.36"/>
<circle cx="146.4" cy="433.3" r="1.75" fill="#1b9e77" fill-opacity="0.36"/>
<circle cx="146.6" cy="436.5" r="1.75" fill="#1b9e77" fill-opacity="0.36"/>
<circle cx="146.6" cy="438" r="1.75" fill="#1b9e77" fill-opacity="0.36"/>
<circle cx="149.1" cy="423" r="1.75" fill="#1b9e77" fill-opacity="0.36"/>
<rect x="144.8" y="428.9" width="6.4" height="14.1" fill="none" stroke="#1b9e77" stroke-width="0.7" stroke-opacity="0.75"/>
<line x1="148" y1="414.7" x2="148" y2="453.6" stroke="#1b9e77" stroke-width="1.05"/>
<line x1="145" y1="414.7" x2="151" y2="414.7" stroke="#1b9e77" stroke-width="1.05"/>
<line x1="145" y1="453.6" x2="151" y2="453.6" stroke="#1b9e77" stroke-width="1.05"/>
<line x1="144.8" y1="437.3" x2="151.2" y2="437.3" stroke="#1b9e77" stroke-width="1.05"/>
<circle cx="155.6" cy="447.4" r="1.75" fill="#d95f02" fill-opacity="0.36"/>
<circle cx="153.7" cy="447.8" r="1.75" fill="#d95f02" fill-opacity="0.36"/>
<circle cx="153.5" cy="448.4" r="1.75" fill="#d95f02" fill-opacity="0.36"/>
<circle cx="154" cy="455.4" r="1.75" fill="#d95f02" fill-opacity="0.36"/>
<circle cx="153.4" cy="446.4" r="1.75" fill="#d95f02" fill-opacity="0.36"/>
<circle cx="156.4" cy="435" r="1.75" fill="#d95f02" fill-opacity="0.36"/>
<rect x="151.9" y="441.2" width="6.4" height="11.5" fill="none" stroke="#d95f02" stroke-width="0.7" stroke-opacity="0.75"/>
<line x1="155.1" y1="428.3" x2="155.1" y2="458" stroke="#d95f02" stroke-width="1.05"/>
<line x1="152.1" y1="428.3" x2="158.1" y2="428.3" stroke="#d95f02" stroke-width="1.05"/>
<line x1="152.1" y1="458" x2="158.1" y2="458" stroke="#d95f02" stroke-width="1.05"/>
<line x1="151.9" y1="442.6" x2="158.3" y2="442.6" stroke="#d95f02" stroke-width="1.05"/>
<circle cx="174.1" cy="455.2" r="1.75" fill="#1b9e77" fill-opacity="0.36"/>
<circle cx="175.3" cy="458.9" r="1.75" fill="#1b9e77" fill-opacity="0.36"/>
<circle cx="176.7" cy="452.7" r="1.75" fill="#1b9e77" fill-opacity="0.36"/>
<circle cx="175" cy="453.4" r="1.75" fill="#1b9e77" fill-opacity="0.36"/>
<rect x="171.9" y="452.7" width="6.4" height="8" fill="none" stroke="#1b9e77" stroke-width="0.7" stroke-opacity="0.75"/>
<line x1="175.1" y1="447.4" x2="175.1" y2="464.2" stroke="#1b9e77" stroke-width="1.05"/>
<line x1="172.1" y1="447.4" x2="178.1" y2="447.4" stroke="#1b9e77" stroke-width="1.05"/>
<line x1="172.1" y1="464.2" x2="178.1" y2="464.2" stroke="#1b9e77" stroke-width="1.05"/>
<line x1="171.9" y1="458" x2="178.3" y2="458" stroke="#1b9e77" stroke-width="1.05"/>
<circle cx="181" cy="434.8" r="1.75" fill="#d95f02" fill-opacity="0.36"/>
<circle cx="184.2" cy="442.1" r="1.75" fill="#d95f02" fill-opacity="0.36"/>
<circle cx="184.3" cy="434.5" r="1.75" fill="#d95f02" fill-opacity="0.36"/>
<circle cx="181.4" cy="421.7" r="1.75" fill="#d95f02" fill-opacity="0.36"/>
<rect x="179" y="433.6" width="6.4" height="14.7" fill="none" stroke="#d95f02" stroke-width="0.7" stroke-opacity="0.75"/>
<line x1="182.2" y1="420" x2="182.2" y2="454.8" stroke="#d95f02" stroke-width="1.05"/>
<line x1="179.2" y1="420" x2="185.2" y2="420" stroke="#d95f02" stroke-width="1.05"/>
<line x1="179.2" y1="454.8" x2="185.2" y2="454.8" stroke="#d95f02" stroke-width="1.05"/>
<line x1="179" y1="442.5" x2="185.4" y2="442.5" stroke="#d95f02" stroke-width="1.05"/>
<line x1="151.5" y1="467.5" x2="151.5" y2="468.5" stroke="#555" stroke-width="0.4"/>
<line x1="151.5" y1="409.6" x2="151.5" y2="410.4" stroke="#555" stroke-width="0.4"/>
<line x1="178.6" y1="467.5" x2="178.6" y2="468.5" stroke="#555" stroke-width="0.4"/>
<line x1="178.6" y1="409.6" x2="178.6" y2="410.4" stroke="#555" stroke-width="0.4"/>
<text x="151.5" y="474.3" font-size="5.2" text-anchor="middle" fill="#4d4d4d">non-SD</text>
<text x="178.6" y="474.3" font-size="5.2" text-anchor="middle" fill="#4d4d4d">SD</text>
<text x="117.2" y="413.7" font-size="6.5" text-anchor="middle" transform="rotate(-90 117.2 413.7)">CD8<tspan dy="-2.47" font-size="4.03">+</tspan><tspan dy="2.47"> TNF-α</tspan><tspan dy="-2.47" font-size="4.03">+</tspan><tspan dy="2.47"> (%) log</tspan><tspan dy="1.30" font-size="4.03">10</tspan></text>
<rect x="220" y="355.9" width="59.5" height="53.7" fill="#fff" stroke="none" stroke-width="1"/>
<line x1="220" y1="370.2" x2="279.5" y2="370.2" stroke="#f3f3f3" stroke-width="0.5"/>
<line x1="220" y1="390.7" x2="279.5" y2="390.7" stroke="#f3f3f3" stroke-width="0.5"/>
<line x1="220" y1="360.5" x2="279.5" y2="360.5" stroke="#e8e8e8" stroke-width="0.6"/>
<line x1="220" y1="379.9" x2="279.5" y2="379.9" stroke="#e8e8e8" stroke-width="0.6"/>
<line x1="220" y1="401.5" x2="279.5" y2="401.5" stroke="#e8e8e8" stroke-width="0.6"/>
<line x1="236.6" y1="355.9" x2="236.6" y2="409.6" stroke="#e8e8e8" stroke-width="0.6"/>
<line x1="263.6" y1="355.9" x2="263.6" y2="409.6" stroke="#e8e8e8" stroke-width="0.6"/>
<rect x="220" y="355.9" width="59.5" height="53.7" fill="none" stroke="#9a9a9a" stroke-width="0.6"/>
<line x1="218.4" y1="360.5" x2="220" y2="360.5" stroke="#555" stroke-width="0.4"/>
<text x="217.2" y="362.2" font-size="4.9" text-anchor="end" fill="#3a3a3a">0.030</text>
<line x1="218.4" y1="379.9" x2="220" y2="379.9" stroke="#555" stroke-width="0.4"/>
<text x="217.2" y="381.6" font-size="4.9" text-anchor="end" fill="#3a3a3a">0.010</text>
<line x1="218.4" y1="401.5" x2="220" y2="401.5" stroke="#555" stroke-width="0.4"/>
<text x="217.2" y="403.2" font-size="4.9" text-anchor="end" fill="#3a3a3a">0.003</text>
<circle cx="233.3" cy="373.4" r="1.75" fill="#1b9e77" fill-opacity="0.36"/>
<circle cx="235.4" cy="368.1" r="1.75" fill="#1b9e77" fill-opacity="0.36"/>
<circle cx="233" cy="374.2" r="1.75" fill="#1b9e77" fill-opacity="0.36"/>
<circle cx="231.7" cy="385.4" r="1.75" fill="#1b9e77" fill-opacity="0.36"/>
<circle cx="230.8" cy="390.2" r="1.75" fill="#1b9e77" fill-opacity="0.36"/>
<circle cx="235.4" cy="386.3" r="1.75" fill="#1b9e77" fill-opacity="0.36"/>
<rect x="229.9" y="365.3" width="6.4" height="28.2" fill="none" stroke="#1b9e77" stroke-width="0.7" stroke-opacity="0.75"/>
<line x1="233.1" y1="358.2" x2="233.1" y2="407.1" stroke="#1b9e77" stroke-width="1.05"/>
<line x1="230.1" y1="358.2" x2="236.1" y2="358.2" stroke="#1b9e77" stroke-width="1.05"/>
<line x1="230.1" y1="407.1" x2="236.1" y2="407.1" stroke="#1b9e77" stroke-width="1.05"/>
<line x1="229.9" y1="372.8" x2="236.3" y2="372.8" stroke="#1b9e77" stroke-width="1.05"/>
<circle cx="241.7" cy="403.6" r="1.75" fill="#d95f02" fill-opacity="0.36"/>
<circle cx="239.6" cy="405.9" r="1.75" fill="#d95f02" fill-opacity="0.36"/>
<circle cx="240.3" cy="399" r="1.75" fill="#d95f02" fill-opacity="0.36"/>
<circle cx="240.3" cy="403.5" r="1.75" fill="#d95f02" fill-opacity="0.36"/>
<circle cx="239" cy="390.7" r="1.75" fill="#d95f02" fill-opacity="0.36"/>
<circle cx="242.7" cy="391.4" r="1.75" fill="#d95f02" fill-opacity="0.36"/>
<rect x="237" y="388.2" width="6.4" height="18.9" fill="none" stroke="#d95f02" stroke-width="0.7" stroke-opacity="0.75"/>
<line x1="240.2" y1="379.9" x2="240.2" y2="407.1" stroke="#d95f02" stroke-width="1.05"/>
<line x1="237.2" y1="379.9" x2="243.2" y2="379.9" stroke="#d95f02" stroke-width="1.05"/>
<line x1="237.2" y1="407.1" x2="243.2" y2="407.1" stroke="#d95f02" stroke-width="1.05"/>
<line x1="237" y1="395.3" x2="243.4" y2="395.3" stroke="#d95f02" stroke-width="1.05"/>
<circle cx="260.9" cy="402.7" r="1.75" fill="#1b9e77" fill-opacity="0.36"/>
<circle cx="258.8" cy="394.8" r="1.75" fill="#1b9e77" fill-opacity="0.36"/>
<circle cx="257.6" cy="400.1" r="1.75" fill="#1b9e77" fill-opacity="0.36"/>
<circle cx="260" cy="394.6" r="1.75" fill="#1b9e77" fill-opacity="0.36"/>
<rect x="256.9" y="394" width="6.4" height="12.8" fill="none" stroke="#1b9e77" stroke-width="0.7" stroke-opacity="0.75"/>
<line x1="260.1" y1="390" x2="260.1" y2="408.2" stroke="#1b9e77" stroke-width="1.05"/>
<line x1="257.1" y1="390" x2="263.1" y2="390" stroke="#1b9e77" stroke-width="1.05"/>
<line x1="257.1" y1="408.2" x2="263.1" y2="408.2" stroke="#1b9e77" stroke-width="1.05"/>
<line x1="256.9" y1="397" x2="263.3" y2="397" stroke="#1b9e77" stroke-width="1.05"/>
<circle cx="266.5" cy="389.3" r="1.75" fill="#d95f02" fill-opacity="0.36"/>
<circle cx="268.7" cy="405.9" r="1.75" fill="#d95f02" fill-opacity="0.36"/>
<circle cx="268.3" cy="389.5" r="1.75" fill="#d95f02" fill-opacity="0.36"/>
<circle cx="267.7" cy="389.4" r="1.75" fill="#d95f02" fill-opacity="0.36"/>
<rect x="264" y="384.7" width="6.4" height="12.9" fill="none" stroke="#d95f02" stroke-width="0.7" stroke-opacity="0.75"/>
<line x1="267.2" y1="384.2" x2="267.2" y2="407.1" stroke="#d95f02" stroke-width="1.05"/>
<line x1="264.2" y1="384.2" x2="270.2" y2="384.2" stroke="#d95f02" stroke-width="1.05"/>
<line x1="264.2" y1="407.1" x2="270.2" y2="407.1" stroke="#d95f02" stroke-width="1.05"/>
<line x1="264" y1="386.5" x2="270.4" y2="386.5" stroke="#d95f02" stroke-width="1.05"/>
<rect x="220" y="413" width="59.5" height="54.5" fill="#fff" stroke="none" stroke-width="1"/>
<line x1="220" y1="424.1" x2="279.5" y2="424.1" stroke="#f3f3f3" stroke-width="0.5"/>
<line x1="220" y1="443" x2="279.5" y2="443" stroke="#f3f3f3" stroke-width="0.5"/>
<line x1="220" y1="414.7" x2="279.5" y2="414.7" stroke="#e8e8e8" stroke-width="0.6"/>
<line x1="220" y1="433.6" x2="279.5" y2="433.6" stroke="#e8e8e8" stroke-width="0.6"/>
<line x1="220" y1="452.4" x2="279.5" y2="452.4" stroke="#e8e8e8" stroke-width="0.6"/>
<line x1="236.6" y1="413" x2="236.6" y2="467.5" stroke="#e8e8e8" stroke-width="0.6"/>
<line x1="263.6" y1="413" x2="263.6" y2="467.5" stroke="#e8e8e8" stroke-width="0.6"/>
<rect x="220" y="413" width="59.5" height="54.5" fill="none" stroke="#9a9a9a" stroke-width="0.6"/>
<line x1="218.4" y1="414.7" x2="220" y2="414.7" stroke="#555" stroke-width="0.4"/>
<text x="217.2" y="416.4" font-size="4.9" text-anchor="end" fill="#3a3a3a">1.00</text>
<line x1="218.4" y1="433.6" x2="220" y2="433.6" stroke="#555" stroke-width="0.4"/>
<text x="217.2" y="435.3" font-size="4.9" text-anchor="end" fill="#3a3a3a">0.10</text>
<line x1="218.4" y1="452.4" x2="220" y2="452.4" stroke="#555" stroke-width="0.4"/>
<text x="217.2" y="454.1" font-size="4.9" text-anchor="end" fill="#3a3a3a">0.01</text>
<circle cx="231.3" cy="416.8" r="1.75" fill="#1b9e77" fill-opacity="0.36"/>
<circle cx="231.3" cy="438.8" r="1.75" fill="#1b9e77" fill-opacity="0.36"/>
<circle cx="232.2" cy="419.4" r="1.75" fill="#1b9e77" fill-opacity="0.36"/>
<circle cx="231.9" cy="421.1" r="1.75" fill="#1b9e77" fill-opacity="0.36"/>
<circle cx="235" cy="436.8" r="1.75" fill="#1b9e77" fill-opacity="0.36"/>
<circle cx="233.2" cy="454" r="1.75" fill="#1b9e77" fill-opacity="0.36"/>
<rect x="229.9" y="416.5" width="6.4" height="27" fill="none" stroke="#1b9e77" stroke-width="0.7" stroke-opacity="0.75"/>
<line x1="233.1" y1="414.7" x2="233.1" y2="464.2" stroke="#1b9e77" stroke-width="1.05"/>
<line x1="230.1" y1="414.7" x2="236.1" y2="414.7" stroke="#1b9e77" stroke-width="1.05"/>
<line x1="230.1" y1="464.2" x2="236.1" y2="464.2" stroke="#1b9e77" stroke-width="1.05"/>
<line x1="229.9" y1="428.9" x2="236.3" y2="428.9" stroke="#1b9e77" stroke-width="1.05"/>
<circle cx="240.9" cy="434.4" r="1.75" fill="#d95f02" fill-opacity="0.36"/>
<circle cx="242.7" cy="434.8" r="1.75" fill="#d95f02" fill-opacity="0.36"/>
<circle cx="239" cy="437" r="1.75" fill="#d95f02" fill-opacity="0.36"/>
<circle cx="240.4" cy="450.3" r="1.75" fill="#d95f02" fill-opacity="0.36"/>
<circle cx="238.4" cy="447.7" r="1.75" fill="#d95f02" fill-opacity="0.36"/>
<circle cx="241.6" cy="430.1" r="1.75" fill="#d95f02" fill-opacity="0.36"/>
<rect x="237" y="428" width="6.4" height="20.3" fill="none" stroke="#d95f02" stroke-width="0.7" stroke-opacity="0.75"/>
<line x1="240.2" y1="419.7" x2="240.2" y2="452.4" stroke="#d95f02" stroke-width="1.05"/>
<line x1="237.2" y1="419.7" x2="243.2" y2="419.7" stroke="#d95f02" stroke-width="1.05"/>
<line x1="237.2" y1="452.4" x2="243.2" y2="452.4" stroke="#d95f02" stroke-width="1.05"/>
<line x1="237" y1="442.1" x2="243.4" y2="442.1" stroke="#d95f02" stroke-width="1.05"/>
<circle cx="257.5" cy="429.5" r="1.75" fill="#1b9e77" fill-opacity="0.36"/>
<circle cx="261.7" cy="438.7" r="1.75" fill="#1b9e77" fill-opacity="0.36"/>
<circle cx="261.9" cy="435.3" r="1.75" fill="#1b9e77" fill-opacity="0.36"/>
<circle cx="261.7" cy="437.9" r="1.75" fill="#1b9e77" fill-opacity="0.36"/>
<rect x="256.9" y="430.3" width="6.4" height="8.6" fill="none" stroke="#1b9e77" stroke-width="0.7" stroke-opacity="0.75"/>
<line x1="260.1" y1="422.7" x2="260.1" y2="438.9" stroke="#1b9e77" stroke-width="1.05"/>
<line x1="257.1" y1="422.7" x2="263.1" y2="422.7" stroke="#1b9e77" stroke-width="1.05"/>
<line x1="257.1" y1="438.9" x2="263.1" y2="438.9" stroke="#1b9e77" stroke-width="1.05"/>
<line x1="256.9" y1="438.2" x2="263.3" y2="438.2" stroke="#1b9e77" stroke-width="1.05"/>
<circle cx="265.1" cy="425.2" r="1.75" fill="#d95f02" fill-opacity="0.36"/>
<circle cx="266" cy="425.1" r="1.75" fill="#d95f02" fill-opacity="0.36"/>
<circle cx="268.3" cy="425.7" r="1.75" fill="#d95f02" fill-opacity="0.36"/>
<circle cx="265.1" cy="426.2" r="1.75" fill="#d95f02" fill-opacity="0.36"/>
<rect x="264" y="424.4" width="6.4" height="3.6" fill="none" stroke="#d95f02" stroke-width="0.7" stroke-opacity="0.75"/>
<line x1="267.2" y1="423.6" x2="267.2" y2="434.2" stroke="#d95f02" stroke-width="1.05"/>
<line x1="264.2" y1="423.6" x2="270.2" y2="423.6" stroke="#d95f02" stroke-width="1.05"/>
<line x1="264.2" y1="434.2" x2="270.2" y2="434.2" stroke="#d95f02" stroke-width="1.05"/>
<line x1="264" y1="426.2" x2="270.4" y2="426.2" stroke="#d95f02" stroke-width="1.05"/>
<line x1="236.6" y1="467.5" x2="236.6" y2="468.5" stroke="#555" stroke-width="0.4"/>
<line x1="236.6" y1="409.6" x2="236.6" y2="410.4" stroke="#555" stroke-width="0.4"/>
<line x1="263.6" y1="467.5" x2="263.6" y2="468.5" stroke="#555" stroke-width="0.4"/>
<line x1="263.6" y1="409.6" x2="263.6" y2="410.4" stroke="#555" stroke-width="0.4"/>
<text x="236.6" y="474.3" font-size="5.2" text-anchor="middle" fill="#4d4d4d">non-SD</text>
<text x="263.6" y="474.3" font-size="5.2" text-anchor="middle" fill="#4d4d4d">SD</text>
<text x="202" y="413.7" font-size="6.5" text-anchor="middle" transform="rotate(-90 202 413.7)">CD8<tspan dy="-2.47" font-size="4.03">+</tspan><tspan dy="2.47"> IL-2</tspan><tspan dy="-2.47" font-size="4.03">+</tspan><tspan dy="2.47"> (%) log</tspan><tspan dy="1.30" font-size="4.03">10</tspan></text>
<rect x="303" y="355.9" width="62" height="53.7" fill="#fff" stroke="none" stroke-width="1"/>
<line x1="303" y1="368.1" x2="365" y2="368.1" stroke="#f3f3f3" stroke-width="0.5"/>
<line x1="303" y1="380.7" x2="365" y2="380.7" stroke="#f3f3f3" stroke-width="0.5"/>
<line x1="303" y1="393.1" x2="365" y2="393.1" stroke="#f3f3f3" stroke-width="0.5"/>
<line x1="303" y1="361.7" x2="365" y2="361.7" stroke="#e8e8e8" stroke-width="0.6"/>
<line x1="303" y1="374.6" x2="365" y2="374.6" stroke="#e8e8e8" stroke-width="0.6"/>
<line x1="303" y1="386.8" x2="365" y2="386.8" stroke="#e8e8e8" stroke-width="0.6"/>
<line x1="303" y1="399.3" x2="365" y2="399.3" stroke="#e8e8e8" stroke-width="0.6"/>
<line x1="320" y1="355.9" x2="320" y2="409.6" stroke="#e8e8e8" stroke-width="0.6"/>
<line x1="348.3" y1="355.9" x2="348.3" y2="409.6" stroke="#e8e8e8" stroke-width="0.6"/>
<rect x="303" y="355.9" width="62" height="53.7" fill="none" stroke="#9a9a9a" stroke-width="0.6"/>
<line x1="301.4" y1="361.7" x2="303" y2="361.7" stroke="#555" stroke-width="0.4"/>
<text x="300.2" y="363.4" font-size="4.9" text-anchor="end" fill="#3a3a3a">10.0</text>
<line x1="301.4" y1="374.6" x2="303" y2="374.6" stroke="#555" stroke-width="0.4"/>
<text x="300.2" y="376.3" font-size="4.9" text-anchor="end" fill="#3a3a3a">3.0</text>
<line x1="301.4" y1="386.8" x2="303" y2="386.8" stroke="#555" stroke-width="0.4"/>
<text x="300.2" y="388.5" font-size="4.9" text-anchor="end" fill="#3a3a3a">1.0</text>
<line x1="301.4" y1="399.3" x2="303" y2="399.3" stroke="#555" stroke-width="0.4"/>
<text x="300.2" y="401" font-size="4.9" text-anchor="end" fill="#3a3a3a">0.3</text>
<circle cx="316.4" cy="388.9" r="1.75" fill="#1b9e77" fill-opacity="0.36"/>
<circle cx="316.3" cy="399.8" r="1.75" fill="#1b9e77" fill-opacity="0.36"/>
<circle cx="318.8" cy="393.1" r="1.75" fill="#1b9e77" fill-opacity="0.36"/>
<circle cx="316.9" cy="387.9" r="1.75" fill="#1b9e77" fill-opacity="0.36"/>
<circle cx="318.3" cy="389.3" r="1.75" fill="#1b9e77" fill-opacity="0.36"/>
<circle cx="315.5" cy="388.1" r="1.75" fill="#1b9e77" fill-opacity="0.36"/>
<rect x="313.3" y="386.5" width="6.4" height="9.7" fill="none" stroke="#1b9e77" stroke-width="0.7" stroke-opacity="0.75"/>
<line x1="316.5" y1="374.6" x2="316.5" y2="404.6" stroke="#1b9e77" stroke-width="1.05"/>
<line x1="313.5" y1="374.6" x2="319.5" y2="374.6" stroke="#1b9e77" stroke-width="1.05"/>
<line x1="313.5" y1="404.6" x2="319.5" y2="404.6" stroke="#1b9e77" stroke-width="1.05"/>
<line x1="313.3" y1="392.3" x2="319.7" y2="392.3" stroke="#1b9e77" stroke-width="1.05"/>
<circle cx="325.1" cy="399.3" r="1.75" fill="#d95f02" fill-opacity="0.36"/>
<circle cx="323.2" cy="397.7" r="1.75" fill="#d95f02" fill-opacity="0.36"/>
<circle cx="325.7" cy="398.1" r="1.75" fill="#d95f02" fill-opacity="0.36"/>
<circle cx="321.5" cy="399.7" r="1.75" fill="#d95f02" fill-opacity="0.36"/>
<circle cx="325.3" cy="399.5" r="1.75" fill="#d95f02" fill-opacity="0.36"/>
<circle cx="322.1" cy="397.1" r="1.75" fill="#d95f02" fill-opacity="0.36"/>
<rect x="320.4" y="397.1" width="6.4" height="3" fill="none" stroke="#d95f02" stroke-width="0.7" stroke-opacity="0.75"/>
<line x1="323.6" y1="397.1" x2="323.6" y2="400.1" stroke="#d95f02" stroke-width="1.05"/>
<line x1="320.6" y1="397.1" x2="326.6" y2="397.1" stroke="#d95f02" stroke-width="1.05"/>
<line x1="320.6" y1="400.1" x2="326.6" y2="400.1" stroke="#d95f02" stroke-width="1.05"/>
<line x1="320.4" y1="398.3" x2="326.8" y2="398.3" stroke="#d95f02" stroke-width="1.05"/>
<circle cx="345" cy="381.8" r="1.75" fill="#1b9e77" fill-opacity="0.36"/>
<circle cx="344.9" cy="379.2" r="1.75" fill="#1b9e77" fill-opacity="0.36"/>
<circle cx="343" cy="374.5" r="1.75" fill="#1b9e77" fill-opacity="0.36"/>
<circle cx="346.5" cy="379.2" r="1.75" fill="#1b9e77" fill-opacity="0.36"/>
<rect x="341.6" y="374.1" width="6.4" height="13.2" fill="none" stroke="#1b9e77" stroke-width="0.7" stroke-opacity="0.75"/>
<line x1="344.8" y1="358.2" x2="344.8" y2="399.3" stroke="#1b9e77" stroke-width="1.05"/>
<line x1="341.8" y1="358.2" x2="347.8" y2="358.2" stroke="#1b9e77" stroke-width="1.05"/>
<line x1="341.8" y1="399.3" x2="347.8" y2="399.3" stroke="#1b9e77" stroke-width="1.05"/>
<line x1="341.6" y1="387" x2="348" y2="387" stroke="#1b9e77" stroke-width="1.05"/>
<circle cx="350.9" cy="386" r="1.75" fill="#d95f02" fill-opacity="0.36"/>
<circle cx="350.9" cy="389.8" r="1.75" fill="#d95f02" fill-opacity="0.36"/>
<circle cx="349.7" cy="396.1" r="1.75" fill="#d95f02" fill-opacity="0.36"/>
<circle cx="350.9" cy="388.9" r="1.75" fill="#d95f02" fill-opacity="0.36"/>
<rect x="348.7" y="376.4" width="6.4" height="13.6" fill="none" stroke="#d95f02" stroke-width="0.7" stroke-opacity="0.75"/>
<line x1="351.9" y1="369.7" x2="351.9" y2="398.3" stroke="#d95f02" stroke-width="1.05"/>
<line x1="348.9" y1="369.7" x2="354.9" y2="369.7" stroke="#d95f02" stroke-width="1.05"/>
<line x1="348.9" y1="398.3" x2="354.9" y2="398.3" stroke="#d95f02" stroke-width="1.05"/>
<line x1="348.7" y1="382.4" x2="355.1" y2="382.4" stroke="#d95f02" stroke-width="1.05"/>
<rect x="303" y="413" width="62" height="54.5" fill="#fff" stroke="none" stroke-width="1"/>
<line x1="303" y1="429.8" x2="365" y2="429.8" stroke="#f3f3f3" stroke-width="0.5"/>
<line x1="303" y1="443.6" x2="365" y2="443.6" stroke="#f3f3f3" stroke-width="0.5"/>
<line x1="303" y1="457.5" x2="365" y2="457.5" stroke="#f3f3f3" stroke-width="0.5"/>
<line x1="303" y1="423.2" x2="365" y2="423.2" stroke="#e8e8e8" stroke-width="0.6"/>
<line x1="303" y1="436.3" x2="365" y2="436.3" stroke="#e8e8e8" stroke-width="0.6"/>
<line x1="303" y1="450.9" x2="365" y2="450.9" stroke="#e8e8e8" stroke-width="0.6"/>
<line x1="303" y1="464.2" x2="365" y2="464.2" stroke="#e8e8e8" stroke-width="0.6"/>
<line x1="320" y1="413" x2="320" y2="467.5" stroke="#e8e8e8" stroke-width="0.6"/>
<line x1="348.3" y1="413" x2="348.3" y2="467.5" stroke="#e8e8e8" stroke-width="0.6"/>
<rect x="303" y="413" width="62" height="54.5" fill="none" stroke="#9a9a9a" stroke-width="0.6"/>
<line x1="301.4" y1="423.2" x2="303" y2="423.2" stroke="#555" stroke-width="0.4"/>
<text x="300.2" y="424.9" font-size="4.9" text-anchor="end" fill="#3a3a3a">3.0</text>
<line x1="301.4" y1="436.3" x2="303" y2="436.3" stroke="#555" stroke-width="0.4"/>
<text x="300.2" y="438" font-size="4.9" text-anchor="end" fill="#3a3a3a">1.0</text>
<line x1="301.4" y1="450.9" x2="303" y2="450.9" stroke="#555" stroke-width="0.4"/>
<text x="300.2" y="452.6" font-size="4.9" text-anchor="end" fill="#3a3a3a">0.3</text>
<line x1="301.4" y1="464.2" x2="303" y2="464.2" stroke="#555" stroke-width="0.4"/>
<text x="300.2" y="465.9" font-size="4.9" text-anchor="end" fill="#3a3a3a">0.1</text>
<circle cx="316.3" cy="441.6" r="1.75" fill="#1b9e77" fill-opacity="0.36"/>
<circle cx="317.6" cy="439.7" r="1.75" fill="#1b9e77" fill-opacity="0.36"/>
<circle cx="315.8" cy="434.6" r="1.75" fill="#1b9e77" fill-opacity="0.36"/>
<circle cx="317.5" cy="434.9" r="1.75" fill="#1b9e77" fill-opacity="0.36"/>
<circle cx="314.5" cy="437.5" r="1.75" fill="#1b9e77" fill-opacity="0.36"/>
<circle cx="316" cy="441.3" r="1.75" fill="#1b9e77" fill-opacity="0.36"/>
<rect x="313.3" y="434.2" width="6.4" height="9.3" fill="none" stroke="#1b9e77" stroke-width="0.7" stroke-opacity="0.75"/>
<line x1="316.5" y1="420.6" x2="316.5" y2="447.4" stroke="#1b9e77" stroke-width="1.05"/>
<line x1="313.5" y1="420.6" x2="319.5" y2="420.6" stroke="#1b9e77" stroke-width="1.05"/>
<line x1="313.5" y1="447.4" x2="319.5" y2="447.4" stroke="#1b9e77" stroke-width="1.05"/>
<line x1="313.3" y1="438.6" x2="319.7" y2="438.6" stroke="#1b9e77" stroke-width="1.05"/>
<circle cx="323.4" cy="428.5" r="1.75" fill="#d95f02" fill-opacity="0.36"/>
<circle cx="326" cy="427.1" r="1.75" fill="#d95f02" fill-opacity="0.36"/>
<circle cx="325.3" cy="418.2" r="1.75" fill="#d95f02" fill-opacity="0.36"/>
<circle cx="324.4" cy="444.4" r="1.75" fill="#d95f02" fill-opacity="0.36"/>
<circle cx="321.1" cy="454.4" r="1.75" fill="#d95f02" fill-opacity="0.36"/>
<circle cx="323" cy="451.8" r="1.75" fill="#d95f02" fill-opacity="0.36"/>
<rect x="320.4" y="429.7" width="6.4" height="17.7" fill="none" stroke="#d95f02" stroke-width="0.7" stroke-opacity="0.75"/>
<line x1="323.6" y1="415" x2="323.6" y2="458.9" stroke="#d95f02" stroke-width="1.05"/>
<line x1="320.6" y1="415" x2="326.6" y2="415" stroke="#d95f02" stroke-width="1.05"/>
<line x1="320.6" y1="458.9" x2="326.6" y2="458.9" stroke="#d95f02" stroke-width="1.05"/>
<line x1="320.4" y1="438.9" x2="326.8" y2="438.9" stroke="#d95f02" stroke-width="1.05"/>
<circle cx="345.9" cy="443.4" r="1.75" fill="#1b9e77" fill-opacity="0.36"/>
<circle cx="343.5" cy="442.2" r="1.75" fill="#1b9e77" fill-opacity="0.36"/>
<circle cx="345.1" cy="437.8" r="1.75" fill="#1b9e77" fill-opacity="0.36"/>
<circle cx="344.6" cy="442.4" r="1.75" fill="#1b9e77" fill-opacity="0.36"/>
<rect x="341.6" y="438.6" width="6.4" height="7" fill="none" stroke="#1b9e77" stroke-width="0.7" stroke-opacity="0.75"/>
<line x1="344.8" y1="434.2" x2="344.8" y2="449.2" stroke="#1b9e77" stroke-width="1.05"/>
<line x1="341.8" y1="434.2" x2="347.8" y2="434.2" stroke="#1b9e77" stroke-width="1.05"/>
<line x1="341.8" y1="449.2" x2="347.8" y2="449.2" stroke="#1b9e77" stroke-width="1.05"/>
<line x1="341.6" y1="442.1" x2="348" y2="442.1" stroke="#1b9e77" stroke-width="1.05"/>
<circle cx="349.4" cy="432.4" r="1.75" fill="#d95f02" fill-opacity="0.36"/>
<circle cx="354.4" cy="434" r="1.75" fill="#d95f02" fill-opacity="0.36"/>
<circle cx="353.4" cy="442.5" r="1.75" fill="#d95f02" fill-opacity="0.36"/>
<circle cx="350.4" cy="438.6" r="1.75" fill="#d95f02" fill-opacity="0.36"/>
<rect x="348.7" y="432.4" width="6.4" height="8.8" fill="none" stroke="#d95f02" stroke-width="0.7" stroke-opacity="0.75"/>
<line x1="351.9" y1="430.1" x2="351.9" y2="443.9" stroke="#d95f02" stroke-width="1.05"/>
<line x1="348.9" y1="430.1" x2="354.9" y2="430.1" stroke="#d95f02" stroke-width="1.05"/>
<line x1="348.9" y1="443.9" x2="354.9" y2="443.9" stroke="#d95f02" stroke-width="1.05"/>
<line x1="348.7" y1="435" x2="355.1" y2="435" stroke="#d95f02" stroke-width="1.05"/>
<line x1="320" y1="467.5" x2="320" y2="468.5" stroke="#555" stroke-width="0.4"/>
<line x1="320" y1="409.6" x2="320" y2="410.4" stroke="#555" stroke-width="0.4"/>
<line x1="348.3" y1="467.5" x2="348.3" y2="468.5" stroke="#555" stroke-width="0.4"/>
<line x1="348.3" y1="409.6" x2="348.3" y2="410.4" stroke="#555" stroke-width="0.4"/>
<text x="320" y="474.3" font-size="5.2" text-anchor="middle" fill="#4d4d4d">non-SD</text>
<text x="348.3" y="474.3" font-size="5.2" text-anchor="middle" fill="#4d4d4d">SD</text>
<text x="287.8" y="413.7" font-size="6.5" text-anchor="middle" transform="rotate(-90 287.8 413.7)">CD8<tspan dy="-2.47" font-size="4.03">+</tspan><tspan dy="2.47"> CD107a</tspan><tspan dy="-2.47" font-size="4.03">+</tspan><tspan dy="2.47"> (%) log</tspan><tspan dy="1.30" font-size="4.03">10</tspan></text>
<rect x="386.8" y="355.9" width="63.7" height="53.7" fill="#fff" stroke="none" stroke-width="1"/>
<line x1="386.8" y1="374.6" x2="450.5" y2="374.6" stroke="#f3f3f3" stroke-width="0.5"/>
<line x1="386.8" y1="391.2" x2="450.5" y2="391.2" stroke="#f3f3f3" stroke-width="0.5"/>
<line x1="386.8" y1="369.3" x2="450.5" y2="369.3" stroke="#e8e8e8" stroke-width="0.6"/>
<line x1="386.8" y1="380" x2="450.5" y2="380" stroke="#e8e8e8" stroke-width="0.6"/>
<line x1="386.8" y1="402.4" x2="450.5" y2="402.4" stroke="#e8e8e8" stroke-width="0.6"/>
<line x1="403.8" y1="355.9" x2="403.8" y2="409.6" stroke="#e8e8e8" stroke-width="0.6"/>
<line x1="433.5" y1="355.9" x2="433.5" y2="409.6" stroke="#e8e8e8" stroke-width="0.6"/>
<rect x="386.8" y="355.9" width="63.7" height="53.7" fill="none" stroke="#9a9a9a" stroke-width="0.6"/>
<line x1="385.2" y1="369.3" x2="386.8" y2="369.3" stroke="#555" stroke-width="0.4"/>
<text x="384" y="371" font-size="4.9" text-anchor="end" fill="#3a3a3a">5</text>
<line x1="385.2" y1="380" x2="386.8" y2="380" stroke="#555" stroke-width="0.4"/>
<text x="384" y="381.7" font-size="4.9" text-anchor="end" fill="#3a3a3a">3</text>
<line x1="385.2" y1="402.4" x2="386.8" y2="402.4" stroke="#555" stroke-width="0.4"/>
<text x="384" y="404.1" font-size="4.9" text-anchor="end" fill="#3a3a3a">1</text>
<circle cx="400.9" cy="381.1" r="1.75" fill="#1b9e77" fill-opacity="0.36"/>
<circle cx="399.2" cy="385.3" r="1.75" fill="#1b9e77" fill-opacity="0.36"/>
<circle cx="399.7" cy="376.5" r="1.75" fill="#1b9e77" fill-opacity="0.36"/>
<circle cx="400.5" cy="368.6" r="1.75" fill="#1b9e77" fill-opacity="0.36"/>
<circle cx="399.3" cy="383.7" r="1.75" fill="#1b9e77" fill-opacity="0.36"/>
<circle cx="399.5" cy="402.2" r="1.75" fill="#1b9e77" fill-opacity="0.36"/>
<rect x="397.1" y="379.4" width="6.4" height="16" fill="none" stroke="#1b9e77" stroke-width="0.7" stroke-opacity="0.75"/>
<line x1="400.3" y1="358.2" x2="400.3" y2="407.2" stroke="#1b9e77" stroke-width="1.05"/>
<line x1="397.3" y1="358.2" x2="403.3" y2="358.2" stroke="#1b9e77" stroke-width="1.05"/>
<line x1="397.3" y1="407.2" x2="403.3" y2="407.2" stroke="#1b9e77" stroke-width="1.05"/>
<line x1="397.1" y1="383.5" x2="403.5" y2="383.5" stroke="#1b9e77" stroke-width="1.05"/>
<circle cx="406.8" cy="387.7" r="1.75" fill="#d95f02" fill-opacity="0.36"/>
<circle cx="408.3" cy="374.4" r="1.75" fill="#d95f02" fill-opacity="0.36"/>
<circle cx="406.2" cy="386.4" r="1.75" fill="#d95f02" fill-opacity="0.36"/>
<circle cx="405.9" cy="396.1" r="1.75" fill="#d95f02" fill-opacity="0.36"/>
<circle cx="408.6" cy="380.8" r="1.75" fill="#d95f02" fill-opacity="0.36"/>
<circle cx="406.5" cy="385.7" r="1.75" fill="#d95f02" fill-opacity="0.36"/>
<rect x="404.2" y="375.9" width="6.4" height="18.6" fill="none" stroke="#d95f02" stroke-width="0.7" stroke-opacity="0.75"/>
<line x1="407.4" y1="367" x2="407.4" y2="400.1" stroke="#d95f02" stroke-width="1.05"/>
<line x1="404.4" y1="367" x2="410.4" y2="367" stroke="#d95f02" stroke-width="1.05"/>
<line x1="404.4" y1="400.1" x2="410.4" y2="400.1" stroke="#d95f02" stroke-width="1.05"/>
<line x1="404.2" y1="384.2" x2="410.6" y2="384.2" stroke="#d95f02" stroke-width="1.05"/>
<circle cx="432.3" cy="379.9" r="1.75" fill="#1b9e77" fill-opacity="0.36"/>
<circle cx="430.3" cy="387.3" r="1.75" fill="#1b9e77" fill-opacity="0.36"/>
<circle cx="431.1" cy="377" r="1.75" fill="#1b9e77" fill-opacity="0.36"/>
<circle cx="429.1" cy="381.6" r="1.75" fill="#1b9e77" fill-opacity="0.36"/>
<rect x="426.8" y="380.3" width="6.4" height="11.5" fill="none" stroke="#1b9e77" stroke-width="0.7" stroke-opacity="0.75"/>
<line x1="430" y1="372.4" x2="430" y2="397.1" stroke="#1b9e77" stroke-width="1.05"/>
<line x1="427" y1="372.4" x2="433" y2="372.4" stroke="#1b9e77" stroke-width="1.05"/>
<line x1="427" y1="397.1" x2="433" y2="397.1" stroke="#1b9e77" stroke-width="1.05"/>
<line x1="426.8" y1="390.9" x2="433.2" y2="390.9" stroke="#1b9e77" stroke-width="1.05"/>
<circle cx="438.8" cy="390.3" r="1.75" fill="#d95f02" fill-opacity="0.36"/>
<circle cx="435" cy="384.1" r="1.75" fill="#d95f02" fill-opacity="0.36"/>
<circle cx="435.3" cy="390.9" r="1.75" fill="#d95f02" fill-opacity="0.36"/>
<circle cx="435" cy="393.3" r="1.75" fill="#d95f02" fill-opacity="0.36"/>
<rect x="433.9" y="381.2" width="6.4" height="15" fill="none" stroke="#d95f02" stroke-width="0.7" stroke-opacity="0.75"/>
<line x1="437.1" y1="370.2" x2="437.1" y2="401.9" stroke="#d95f02" stroke-width="1.05"/>
<line x1="434.1" y1="370.2" x2="440.1" y2="370.2" stroke="#d95f02" stroke-width="1.05"/>
<line x1="434.1" y1="401.9" x2="440.1" y2="401.9" stroke="#d95f02" stroke-width="1.05"/>
<line x1="433.9" y1="390.6" x2="440.3" y2="390.6" stroke="#d95f02" stroke-width="1.05"/>
<rect x="386.8" y="413" width="63.7" height="54.5" fill="#fff" stroke="none" stroke-width="1"/>
<line x1="386.8" y1="423.1" x2="450.5" y2="423.1" stroke="#f3f3f3" stroke-width="0.5"/>
<line x1="386.8" y1="439.6" x2="450.5" y2="439.6" stroke="#f3f3f3" stroke-width="0.5"/>
<line x1="386.8" y1="457.8" x2="450.5" y2="457.8" stroke="#f3f3f3" stroke-width="0.5"/>
<line x1="386.8" y1="417.8" x2="450.5" y2="417.8" stroke="#e8e8e8" stroke-width="0.6"/>
<line x1="386.8" y1="428.5" x2="450.5" y2="428.5" stroke="#e8e8e8" stroke-width="0.6"/>
<line x1="386.8" y1="450.8" x2="450.5" y2="450.8" stroke="#e8e8e8" stroke-width="0.6"/>
<line x1="386.8" y1="464.7" x2="450.5" y2="464.7" stroke="#e8e8e8" stroke-width="0.6"/>
<line x1="403.8" y1="413" x2="403.8" y2="467.5" stroke="#e8e8e8" stroke-width="0.6"/>
<line x1="433.5" y1="413" x2="433.5" y2="467.5" stroke="#e8e8e8" stroke-width="0.6"/>
<rect x="386.8" y="413" width="63.7" height="54.5" fill="none" stroke="#9a9a9a" stroke-width="0.6"/>
<line x1="385.2" y1="417.8" x2="386.8" y2="417.8" stroke="#555" stroke-width="0.4"/>
<text x="384" y="419.5" font-size="4.9" text-anchor="end" fill="#3a3a3a">5.0</text>
<line x1="385.2" y1="428.5" x2="386.8" y2="428.5" stroke="#555" stroke-width="0.4"/>
<text x="384" y="430.2" font-size="4.9" text-anchor="end" fill="#3a3a3a">3.0</text>
<line x1="385.2" y1="450.8" x2="386.8" y2="450.8" stroke="#555" stroke-width="0.4"/>
<text x="384" y="452.5" font-size="4.9" text-anchor="end" fill="#3a3a3a">1.0</text>
<line x1="385.2" y1="464.7" x2="386.8" y2="464.7" stroke="#555" stroke-width="0.4"/>
<text x="384" y="466.4" font-size="4.9" text-anchor="end" fill="#3a3a3a">0.5</text>
<circle cx="401.2" cy="434" r="1.75" fill="#1b9e77" fill-opacity="0.36"/>
<circle cx="401.4" cy="441.4" r="1.75" fill="#1b9e77" fill-opacity="0.36"/>
<circle cx="398.7" cy="437.3" r="1.75" fill="#1b9e77" fill-opacity="0.36"/>
<circle cx="399.8" cy="440.6" r="1.75" fill="#1b9e77" fill-opacity="0.36"/>
<circle cx="402" cy="435.9" r="1.75" fill="#1b9e77" fill-opacity="0.36"/>
<circle cx="400.8" cy="428.3" r="1.75" fill="#1b9e77" fill-opacity="0.36"/>
<rect x="397.1" y="429.5" width="6.4" height="9.2" fill="none" stroke="#1b9e77" stroke-width="0.7" stroke-opacity="0.75"/>
<line x1="400.3" y1="415.2" x2="400.3" y2="442.6" stroke="#1b9e77" stroke-width="1.05"/>
<line x1="397.3" y1="415.2" x2="403.3" y2="415.2" stroke="#1b9e77" stroke-width="1.05"/>
<line x1="397.3" y1="442.6" x2="403.3" y2="442.6" stroke="#1b9e77" stroke-width="1.05"/>
<line x1="397.1" y1="437" x2="403.5" y2="437" stroke="#1b9e77" stroke-width="1.05"/>
<circle cx="405.3" cy="441.7" r="1.75" fill="#d95f02" fill-opacity="0.36"/>
<circle cx="406" cy="440.6" r="1.75" fill="#d95f02" fill-opacity="0.36"/>
<circle cx="405.6" cy="446.1" r="1.75" fill="#d95f02" fill-opacity="0.36"/>
<circle cx="405.5" cy="447.6" r="1.75" fill="#d95f02" fill-opacity="0.36"/>
<circle cx="406.9" cy="457.9" r="1.75" fill="#d95f02" fill-opacity="0.36"/>
<circle cx="405.2" cy="454.2" r="1.75" fill="#d95f02" fill-opacity="0.36"/>
<rect x="404.2" y="439.6" width="6.4" height="10.6" fill="none" stroke="#d95f02" stroke-width="0.7" stroke-opacity="0.75"/>
<line x1="407.4" y1="429" x2="407.4" y2="464.4" stroke="#d95f02" stroke-width="1.05"/>
<line x1="404.4" y1="429" x2="410.4" y2="429" stroke="#d95f02" stroke-width="1.05"/>
<line x1="404.4" y1="464.4" x2="410.4" y2="464.4" stroke="#d95f02" stroke-width="1.05"/>
<line x1="404.2" y1="441.4" x2="410.6" y2="441.4" stroke="#d95f02" stroke-width="1.05"/>
<circle cx="432.2" cy="454.5" r="1.75" fill="#1b9e77" fill-opacity="0.36"/>
<circle cx="429.6" cy="454.7" r="1.75" fill="#1b9e77" fill-opacity="0.36"/>
<circle cx="430.1" cy="441.7" r="1.75" fill="#1b9e77" fill-opacity="0.36"/>
<circle cx="430.8" cy="442.9" r="1.75" fill="#1b9e77" fill-opacity="0.36"/>
<rect x="426.8" y="440.5" width="6.4" height="11.5" fill="none" stroke="#1b9e77" stroke-width="0.7" stroke-opacity="0.75"/>
<line x1="430" y1="431.6" x2="430" y2="455.5" stroke="#1b9e77" stroke-width="1.05"/>
<line x1="427" y1="431.6" x2="433" y2="431.6" stroke="#1b9e77" stroke-width="1.05"/>
<line x1="427" y1="455.5" x2="433" y2="455.5" stroke="#1b9e77" stroke-width="1.05"/>
<line x1="426.8" y1="448.5" x2="433.2" y2="448.5" stroke="#1b9e77" stroke-width="1.05"/>
<circle cx="438.5" cy="438" r="1.75" fill="#d95f02" fill-opacity="0.36"/>
<circle cx="438.7" cy="445.5" r="1.75" fill="#d95f02" fill-opacity="0.36"/>
<circle cx="436.5" cy="437.7" r="1.75" fill="#d95f02" fill-opacity="0.36"/>
<circle cx="436.2" cy="437.5" r="1.75" fill="#d95f02" fill-opacity="0.36"/>
<rect x="433.9" y="435.2" width="6.4" height="6.2" fill="none" stroke="#d95f02" stroke-width="0.7" stroke-opacity="0.75"/>
<line x1="437.1" y1="435.2" x2="437.1" y2="449" stroke="#d95f02" stroke-width="1.05"/>
<line x1="434.1" y1="435.2" x2="440.1" y2="435.2" stroke="#d95f02" stroke-width="1.05"/>
<line x1="434.1" y1="449" x2="440.1" y2="449" stroke="#d95f02" stroke-width="1.05"/>
<line x1="433.9" y1="438.7" x2="440.3" y2="438.7" stroke="#d95f02" stroke-width="1.05"/>
<line x1="403.8" y1="467.5" x2="403.8" y2="468.5" stroke="#555" stroke-width="0.4"/>
<line x1="403.8" y1="409.6" x2="403.8" y2="410.4" stroke="#555" stroke-width="0.4"/>
<line x1="433.5" y1="467.5" x2="433.5" y2="468.5" stroke="#555" stroke-width="0.4"/>
<line x1="433.5" y1="409.6" x2="433.5" y2="410.4" stroke="#555" stroke-width="0.4"/>
<text x="403.8" y="474.3" font-size="5.2" text-anchor="middle" fill="#4d4d4d">non-SD</text>
<text x="433.5" y="474.3" font-size="5.2" text-anchor="middle" fill="#4d4d4d">SD</text>
<text x="371.9" y="413.7" font-size="6.5" text-anchor="middle" transform="rotate(-90 371.9 413.7)">CD8<tspan dy="-2.47" font-size="4.03">+</tspan><tspan dy="2.47"> MIP-1β</tspan><tspan dy="-2.47" font-size="4.03">+</tspan><tspan dy="2.47"> (%) log</tspan><tspan dy="1.30" font-size="4.03">10</tspan></text>
<rect x="450.5" y="355.9" width="10.1" height="53.7" fill="#d9d9d9" stroke="#3a3a3a" stroke-width="0.6"/>
<text x="452.8" y="382.8" font-size="7.2" text-anchor="middle" font-weight="bold" transform="rotate(90 452.8 382.8)">TP1</text>
<rect x="450.5" y="413" width="10.1" height="54.5" fill="#d9d9d9" stroke="#3a3a3a" stroke-width="0.6"/>
<text x="452.8" y="440.2" font-size="7.2" text-anchor="middle" font-weight="bold" transform="rotate(90 452.8 440.2)">TP2</text>
<text x="76.3" y="371.9" font-size="10.5" text-anchor="middle" font-weight="bold">*</text>
<text x="332.7" y="370.7" font-size="10.5" text-anchor="middle" font-weight="bold">*</text>
<text x="15.6" y="407.2" font-size="11" text-anchor="middle" font-weight="bold" transform="rotate(-90 15.6 407.2)">CD8<tspan dy="-4.18" font-size="6.82">+</tspan></text>
<circle cx="58.6" cy="251.9" r="1.75" fill="#1b9e77" fill-opacity="0.36"/>
<circle cx="172.4" cy="280" r="1.75" fill="#1b9e77" fill-opacity="0.36"/>
<circle cx="152.1" cy="293" r="1.75" fill="#d95f02" fill-opacity="0.36"/>
<circle cx="154.5" cy="293.5" r="1.75" fill="#d95f02" fill-opacity="0.36"/>
<circle cx="231.4" cy="289.5" r="1.75" fill="#1b9e77" fill-opacity="0.36"/>
<circle cx="233.6" cy="288.6" r="1.75" fill="#1b9e77" fill-opacity="0.36"/>
<circle cx="234.5" cy="296.6" r="1.75" fill="#1b9e77" fill-opacity="0.36"/>
<circle cx="231.8" cy="333" r="1.75" fill="#1b9e77" fill-opacity="0.36"/>
<circle cx="233.6" cy="331" r="1.75" fill="#1b9e77" fill-opacity="0.36"/>
<circle cx="346" cy="231.2" r="1.75" fill="#1b9e77" fill-opacity="0.36"/>
<circle cx="411" cy="231.2" r="1.75" fill="#d95f02" fill-opacity="0.36"/>
<circle cx="429" cy="237.7" r="1.75" fill="#1b9e77" fill-opacity="0.36"/>
<circle cx="57.9" cy="455.9" r="1.75" fill="#1b9e77" fill-opacity="0.36"/>
<circle cx="62.7" cy="464.2" r="1.75" fill="#1b9e77" fill-opacity="0.36"/>
<circle cx="157" cy="407.1" r="1.75" fill="#d95f02" fill-opacity="0.36"/>
<circle cx="173.8" cy="382.9" r="1.75" fill="#1b9e77" fill-opacity="0.36"/>
<circle cx="314.2" cy="464.2" r="1.75" fill="#1b9e77" fill-opacity="0.36"/>
<circle cx="400.4" cy="462.6" r="1.75" fill="#1b9e77" fill-opacity="0.36"/>
<circle cx="439" cy="425.5" r="1.75" fill="#d95f02" fill-opacity="0.36"/>
<circle cx="436.5" cy="308.5" r="1.75" fill="#d95f02" fill-opacity="0.36"/>
<circle cx="341.5" cy="266.5" r="1.75" fill="#1b9e77" fill-opacity="0.36"/>
<circle cx="87" cy="269" r="1.75" fill="#1b9e77" fill-opacity="0.36"/>
<circle cx="97" cy="247" r="1.75" fill="#d95f02" fill-opacity="0.36"/>
<text x="478.3" y="222.8" font-size="14.2" font-weight="bold">f</text>
<text x="530.6" y="219.2" font-size="10" text-anchor="middle" font-weight="bold">non-SD</text>
<text x="603.4" y="219.2" font-size="10" text-anchor="middle" font-weight="bold">SD</text>
<text x="565.5" y="226.6" font-size="10" text-anchor="middle" font-weight="bold">CD4<tspan dy="-3.80" font-size="6.20">+</tspan></text>
<line x1="506" y1="228.4" x2="630.2" y2="228.4" stroke="#333" stroke-width="0.8"/>
<text x="568" y="351" font-size="10" text-anchor="middle" font-weight="bold">CD8<tspan dy="-3.80" font-size="6.20">+</tspan></text>
<line x1="506.1" y1="352.3" x2="630.1" y2="352.3" stroke="#333" stroke-width="0.8"/>
<text x="478.5" y="261.6" font-size="9.6" font-weight="bold">TP1</text>
<text x="478.5" y="324.3" font-size="9.6" font-weight="bold">TP2</text>
<text x="478.5" y="385.1" font-size="9.6" font-weight="bold">TP1</text>
<text x="478.5" y="439.6" font-size="9.6" font-weight="bold">TP2</text>
<circle cx="530.6" cy="257" r="26" fill="#000"/>
<path d="M530.6 257L530.6 231A26 26 0 0 1 530.6 283Z" fill="#a3a3a3" stroke="none" stroke-width="1"/>
<path d="M530.6 257L530.6 283A26 26 0 0 1 527.3 282.8Z" fill="#fff" stroke="none" stroke-width="1"/>
<circle cx="530.6" cy="257" r="25.6" fill="none" stroke="#1c3f9e" stroke-width="1.3"/>
<text x="519.6" y="254.1" font-size="8.9" text-anchor="middle" fill="#fff">48%</text>
<text x="543.7" y="259.9" font-size="8.9" text-anchor="middle" fill="#111">50%</text>
<text x="535.5" y="280.7" font-size="8.9" text-anchor="middle" fill="#111">2%</text>
<circle cx="605.8" cy="257" r="26" fill="#000"/>
<path d="M605.8 257L605.8 231A26 26 0 0 1 607.4 282.9Z" fill="#a3a3a3" stroke="none" stroke-width="1"/>
<path d="M605.8 257L607.4 282.9A26 26 0 0 1 580.3 261.9Z" fill="#fff" stroke="none" stroke-width="1"/>
<circle cx="605.8" cy="257" r="25.6" fill="none" stroke="#ee2a2a" stroke-width="1.3"/>
<text x="594" y="253.7" font-size="8.9" text-anchor="middle" fill="#fff">28%</text>
<text x="616.9" y="259.9" font-size="8.9" text-anchor="middle" fill="#111">49%</text>
<text x="594" y="271.5" font-size="8.9" text-anchor="middle" fill="#111">23%</text>
<circle cx="530.6" cy="314.6" r="26" fill="#000"/>
<path d="M530.6 314.6L530.6 288.6A26 26 0 0 1 530.6 340.6Z" fill="#a3a3a3" stroke="none" stroke-width="1"/>
<path d="M530.6 314.6L530.6 340.6A26 26 0 0 1 522.6 339.3Z" fill="#fff" stroke="none" stroke-width="1"/>
<circle cx="530.6" cy="314.6" r="25.6" fill="none" stroke="#1c3f9e" stroke-width="1.3"/>
<text x="519.6" y="310.7" font-size="8.9" text-anchor="middle" fill="#fff">45%</text>
<text x="543.7" y="319.4" font-size="8.9" text-anchor="middle" fill="#111">50%</text>
<text x="530.8" y="337.8" font-size="8.9" text-anchor="middle" fill="#111">5%</text>
<circle cx="605.8" cy="314.6" r="26" fill="#000"/>
<path d="M605.8 314.6L605.8 288.6A26 26 0 0 1 605.8 340.6Z" fill="#a3a3a3" stroke="none" stroke-width="1"/>
<path d="M605.8 314.6L605.8 340.6A26 26 0 0 1 581.1 322.6Z" fill="#fff" stroke="none" stroke-width="1"/>
<circle cx="605.8" cy="314.6" r="25.6" fill="none" stroke="#ee2a2a" stroke-width="1.3"/>
<text x="592.8" y="310.7" font-size="8.9" text-anchor="middle" fill="#fff">30%</text>
<text x="616.4" y="319.4" font-size="8.9" text-anchor="middle" fill="#111">50%</text>
<text x="594" y="329.8" font-size="8.9" text-anchor="middle" fill="#111">20%</text>
<circle cx="530.4" cy="381.3" r="26" fill="#000"/>
<path d="M530.4 381.3L530.4 355.3A26 26 0 0 1 530.4 407.3Z" fill="#a3a3a3" stroke="none" stroke-width="1"/>
<path d="M530.4 381.3L530.4 407.3A26 26 0 0 1 520.8 405.5Z" fill="#fff" stroke="none" stroke-width="1"/>
<circle cx="530.4" cy="381.3" r="25.6" fill="none" stroke="#1c3f9e" stroke-width="1.3"/>
<text x="520.2" y="378.9" font-size="8.9" text-anchor="middle" fill="#fff">44%</text>
<text x="543.8" y="383.6" font-size="8.9" text-anchor="middle" fill="#111">50%</text>
<text x="529.6" y="403.4" font-size="8.9" text-anchor="middle" fill="#111">6%</text>
<circle cx="605" cy="381.3" r="26" fill="#000"/>
<path d="M605 381.3L605 355.3A26 26 0 0 1 605 407.3Z" fill="#a3a3a3" stroke="none" stroke-width="1"/>
<path d="M605 381.3L605 407.3A26 26 0 0 1 579.5 376.4Z" fill="#fff" stroke="none" stroke-width="1"/>
<circle cx="605" cy="381.3" r="25.6" fill="none" stroke="#ee2a2a" stroke-width="1.3"/>
<text x="594" y="372" font-size="8.9" text-anchor="middle" fill="#fff">22%</text>
<text x="616.9" y="383.6" font-size="8.9" text-anchor="middle" fill="#111">50%</text>
<text x="594" y="394" font-size="8.9" text-anchor="middle" fill="#111">28%</text>
<circle cx="530.4" cy="437.5" r="26" fill="#000"/>
<path d="M530.4 437.5L530.4 411.5A26 26 0 0 1 530.4 463.5Z" fill="#a3a3a3" stroke="none" stroke-width="1"/>
<path d="M530.4 437.5L530.4 463.5A26 26 0 0 1 509.4 452.8Z" fill="#fff" stroke="none" stroke-width="1"/>
<circle cx="530.4" cy="437.5" r="25.6" fill="none" stroke="#1c3f9e" stroke-width="1.3"/>
<text x="520.2" y="433.8" font-size="8.9" text-anchor="middle" fill="#fff">35%</text>
<text x="543.8" y="440.1" font-size="8.9" text-anchor="middle" fill="#111">50%</text>
<text x="521.8" y="456.7" font-size="8.9" text-anchor="middle" fill="#111">15%</text>
<circle cx="605" cy="437.5" r="26" fill="#000"/>
<path d="M605 437.5L605 411.5A26 26 0 0 1 605 463.5Z" fill="#a3a3a3" stroke="none" stroke-width="1"/>
<path d="M605 437.5L605 463.5A26 26 0 0 1 580.3 445.5Z" fill="#fff" stroke="none" stroke-width="1"/>
<circle cx="605" cy="437.5" r="25.6" fill="none" stroke="#ee2a2a" stroke-width="1.3"/>
<text x="594" y="433.8" font-size="8.9" text-anchor="middle" fill="#fff">30%</text>
<text x="616.9" y="440.1" font-size="8.9" text-anchor="middle" fill="#111">50%</text>
<text x="594.9" y="453.6" font-size="8.9" text-anchor="middle" fill="#111">20%</text>
<rect x="497.8" y="470.2" width="12.2" height="5.4" fill="#a3a3a3" stroke="#555" stroke-width="0.5"/>
<text x="512.4" y="475.9" font-size="8">IFN-γ<tspan dy="-3.04" font-size="4.96">+</tspan><tspan dy="3.04"> and/or TNF-α</tspan><tspan dy="-3.04" font-size="4.96">+</tspan><tspan dy="3.04"> and/or CD107a</tspan><tspan dy="-3.04" font-size="4.96">+</tspan></text>
<rect x="497.8" y="480.2" width="12.2" height="5.6" fill="#fff" stroke="#555" stroke-width="0.5"/>
<text x="512.4" y="485.8" font-size="8">IFN-γ<tspan dy="-3.04" font-size="4.96">+</tspan><tspan dy="3.04"> and/or TNF-α</tspan><tspan dy="-3.04" font-size="4.96">+</tspan></text>
<rect x="594" y="480.2" width="12.4" height="5.6" fill="#000" stroke="none" stroke-width="1"/>
<text x="609.7" y="485.8" font-size="8">CD107a<tspan dy="-3.04" font-size="4.96">+</tspan></text>
<text x="-0.4" y="498.2" font-size="14.2" font-weight="bold">g</text>
<rect x="19.4" y="513.3" width="80.6" height="65.3" fill="#fff" stroke="#c4c4c4" stroke-width="0.6"/>
<line x1="19.8" y1="557.3" x2="99.6" y2="557.3" stroke="#c8c8e0" stroke-width="0.5"/>
<path d="M37.8 557.3C38.3 557 40 557.2 41 555.5C42 553.8 43.1 550.4 44 547C44.9 543.6 45.7 538.1 46.3 535C46.9 531.9 47.2 528.2 47.7 528.2C48.2 528.2 48.7 532.2 49.2 535C49.7 537.8 50 542.4 50.5 545C51 547.6 51.6 549.1 52.5 550.5C53.4 551.9 54.6 552.6 56 553.5C57.4 554.4 59.3 555.1 61 555.6C62.7 556.1 64.2 556 66 556.3C67.8 556.6 71 557.1 72 557.3Z" fill="#2a2a9a" stroke="none" stroke-width="1"/>
<path d="M30.6 578C31.3 577.8 33.6 577.5 35 576.5C36.4 575.5 37.8 573.8 39 572C40.2 570.2 41 568.3 42 566C43 563.7 44.1 560.2 45 558C45.9 555.8 46.7 553.8 47.5 552.5C48.3 551.2 49.2 549.9 50 550C50.8 550.1 51.7 551.2 52.5 553C53.3 554.8 54.1 558.2 55 561C55.9 563.8 57 567.8 58 570C59 572.2 59.7 573.4 61 574.5C62.3 575.6 64.5 576.1 66 576.5C67.5 576.9 68.8 577 70 576.8C71.2 576.6 72 576 73 575.5C74 575 75 573.6 76 573.8C77 574 77.7 576 79 576.5C80.3 577 82.5 576.8 84 577C85.5 577.2 86.4 577.3 88 577.5C89.6 577.7 92.6 577.9 93.5 578Z" fill="#ff1f1f" stroke="none" stroke-width="1" fill-opacity="0.9"/>
<text x="21.6" y="521.9" font-size="7.8" font-weight="bold">CD4<tspan dy="-2.96" font-size="4.84">+</tspan></text>
<text x="98.2" y="521.9" font-size="8.4" text-anchor="end" font-weight="bold" fill="#2d2d9e">non-SD</text>
<text x="69.3" y="530.5" font-size="8.4" font-weight="bold" fill="#ff2020">SD</text>
<line x1="26" y1="578.6" x2="26" y2="579.9" stroke="#666" stroke-width="0.4"/>
<text x="26" y="583.8" font-size="3.2" text-anchor="middle" fill="#666">-10²</text>
<line x1="46" y1="578.6" x2="46" y2="579.9" stroke="#666" stroke-width="0.4"/>
<text x="46" y="583.8" font-size="3.2" text-anchor="middle" fill="#666">0</text>
<line x1="71" y1="578.6" x2="71" y2="579.9" stroke="#666" stroke-width="0.4"/>
<text x="71" y="583.8" font-size="3.2" text-anchor="middle" fill="#666">10²</text>
<line x1="21" y1="578.6" x2="21" y2="579.4" stroke="#999" stroke-width="0.3"/>
<line x1="24" y1="578.6" x2="24" y2="579.4" stroke="#999" stroke-width="0.3"/>
<line x1="27" y1="578.6" x2="27" y2="579.4" stroke="#999" stroke-width="0.3"/>
<line x1="30" y1="578.6" x2="30" y2="579.4" stroke="#999" stroke-width="0.3"/>
<line x1="33" y1="578.6" x2="33" y2="579.4" stroke="#999" stroke-width="0.3"/>
<line x1="36" y1="578.6" x2="36" y2="579.4" stroke="#999" stroke-width="0.3"/>
<line x1="39" y1="578.6" x2="39" y2="579.4" stroke="#999" stroke-width="0.3"/>
<line x1="42" y1="578.6" x2="42" y2="579.4" stroke="#999" stroke-width="0.3"/>
<line x1="45" y1="578.6" x2="45" y2="579.4" stroke="#999" stroke-width="0.3"/>
<line x1="48" y1="578.6" x2="48" y2="579.4" stroke="#999" stroke-width="0.3"/>
<line x1="51" y1="578.6" x2="51" y2="579.4" stroke="#999" stroke-width="0.3"/>
<line x1="54" y1="578.6" x2="54" y2="579.4" stroke="#999" stroke-width="0.3"/>
<line x1="57" y1="578.6" x2="57" y2="579.4" stroke="#999" stroke-width="0.3"/>
<line x1="60" y1="578.6" x2="60" y2="579.4" stroke="#999" stroke-width="0.3"/>
<line x1="63" y1="578.6" x2="63" y2="579.4" stroke="#999" stroke-width="0.3"/>
<line x1="66" y1="578.6" x2="66" y2="579.4" stroke="#999" stroke-width="0.3"/>
<line x1="69" y1="578.6" x2="69" y2="579.4" stroke="#999" stroke-width="0.3"/>
<line x1="72" y1="578.6" x2="72" y2="579.4" stroke="#999" stroke-width="0.3"/>
<line x1="75" y1="578.6" x2="75" y2="579.4" stroke="#999" stroke-width="0.3"/>
<line x1="78" y1="578.6" x2="78" y2="579.4" stroke="#999" stroke-width="0.3"/>
<line x1="81" y1="578.6" x2="81" y2="579.4" stroke="#999" stroke-width="0.3"/>
<line x1="84" y1="578.6" x2="84" y2="579.4" stroke="#999" stroke-width="0.3"/>
<line x1="87" y1="578.6" x2="87" y2="579.4" stroke="#999" stroke-width="0.3"/>
<line x1="90" y1="578.6" x2="90" y2="579.4" stroke="#999" stroke-width="0.3"/>
<line x1="93" y1="578.6" x2="93" y2="579.4" stroke="#999" stroke-width="0.3"/>
<line x1="96" y1="578.6" x2="96" y2="579.4" stroke="#999" stroke-width="0.3"/>
<rect x="41.5" y="578" width="4.5" height="1.4" fill="#222" stroke="none" stroke-width="1"/>
<rect x="19.4" y="587.1" width="80.6" height="64.3" fill="#fff" stroke="#c4c4c4" stroke-width="0.6"/>
<line x1="19.8" y1="630.4" x2="99.6" y2="630.4" stroke="#c8c8e0" stroke-width="0.5"/>
<path d="M35.9 630.4C36.4 630.2 38.1 630.2 39 629C39.9 627.8 40.8 626.2 41.5 623C42.2 619.8 42.8 613.8 43.3 610C43.8 606.2 44.2 600.3 44.7 600C45.2 599.7 45.5 604.7 46 608C46.5 611.3 46.9 616.8 47.5 620C48.1 623.2 48.6 625.9 49.5 627.5C50.4 629.1 51.5 629 53 629.5C54.5 630 57.8 630.2 58.7 630.4Z" fill="#2a2a9a" stroke="none" stroke-width="1"/>
<path d="M33.3 651.4C33.9 650.8 35.9 649.9 37 648C38.1 646.1 39.1 643.3 40 640C40.9 636.7 41.6 630.9 42.3 628C43 625.1 43.5 623.6 44 622.5C44.5 621.4 44.7 620.9 45.2 621.3C45.7 621.7 46.5 623 47 625C47.5 627 47.9 630 48.5 633C49.1 636 49.8 640.8 50.5 643C51.2 645.2 51.9 646 53 646.5C54.1 647 55.7 645.9 57 646C58.3 646.1 59.7 647.1 61 647C62.3 646.9 63.9 646 65 645.5C66.1 645 66.7 643.6 67.5 643.8C68.3 644 68.9 646 70 646.5C71.1 647 72.8 646.7 74 647C75.2 647.3 75.6 647.8 77 648.5C78.4 649.2 80.8 650.5 82.3 651C83.8 651.5 85.4 651.3 86 651.4Z" fill="#ff1f1f" stroke="none" stroke-width="1" fill-opacity="0.9"/>
<text x="21.6" y="595.7" font-size="7.8" font-weight="bold">CD8<tspan dy="-2.96" font-size="4.84">+</tspan></text>
<text x="98.2" y="595.7" font-size="8.4" text-anchor="end" font-weight="bold" fill="#2d2d9e">non-SD</text>
<text x="69.3" y="604.3" font-size="8.4" font-weight="bold" fill="#ff2020">SD</text>
<line x1="26" y1="651.4" x2="26" y2="652.7" stroke="#666" stroke-width="0.4"/>
<text x="26" y="656.6" font-size="3.2" text-anchor="middle" fill="#666">-10²</text>
<line x1="46" y1="651.4" x2="46" y2="652.7" stroke="#666" stroke-width="0.4"/>
<text x="46" y="656.6" font-size="3.2" text-anchor="middle" fill="#666">0</text>
<line x1="71" y1="651.4" x2="71" y2="652.7" stroke="#666" stroke-width="0.4"/>
<text x="71" y="656.6" font-size="3.2" text-anchor="middle" fill="#666">10²</text>
<line x1="21" y1="651.4" x2="21" y2="652.2" stroke="#999" stroke-width="0.3"/>
<line x1="24" y1="651.4" x2="24" y2="652.2" stroke="#999" stroke-width="0.3"/>
<line x1="27" y1="651.4" x2="27" y2="652.2" stroke="#999" stroke-width="0.3"/>
<line x1="30" y1="651.4" x2="30" y2="652.2" stroke="#999" stroke-width="0.3"/>
<line x1="33" y1="651.4" x2="33" y2="652.2" stroke="#999" stroke-width="0.3"/>
<line x1="36" y1="651.4" x2="36" y2="652.2" stroke="#999" stroke-width="0.3"/>
<line x1="39" y1="651.4" x2="39" y2="652.2" stroke="#999" stroke-width="0.3"/>
<line x1="42" y1="651.4" x2="42" y2="652.2" stroke="#999" stroke-width="0.3"/>
<line x1="45" y1="651.4" x2="45" y2="652.2" stroke="#999" stroke-width="0.3"/>
<line x1="48" y1="651.4" x2="48" y2="652.2" stroke="#999" stroke-width="0.3"/>
<line x1="51" y1="651.4" x2="51" y2="652.2" stroke="#999" stroke-width="0.3"/>
<line x1="54" y1="651.4" x2="54" y2="652.2" stroke="#999" stroke-width="0.3"/>
<line x1="57" y1="651.4" x2="57" y2="652.2" stroke="#999" stroke-width="0.3"/>
<line x1="60" y1="651.4" x2="60" y2="652.2" stroke="#999" stroke-width="0.3"/>
<line x1="63" y1="651.4" x2="63" y2="652.2" stroke="#999" stroke-width="0.3"/>
<line x1="66" y1="651.4" x2="66" y2="652.2" stroke="#999" stroke-width="0.3"/>
<line x1="69" y1="651.4" x2="69" y2="652.2" stroke="#999" stroke-width="0.3"/>
<line x1="72" y1="651.4" x2="72" y2="652.2" stroke="#999" stroke-width="0.3"/>
<line x1="75" y1="651.4" x2="75" y2="652.2" stroke="#999" stroke-width="0.3"/>
<line x1="78" y1="651.4" x2="78" y2="652.2" stroke="#999" stroke-width="0.3"/>
<line x1="81" y1="651.4" x2="81" y2="652.2" stroke="#999" stroke-width="0.3"/>
<line x1="84" y1="651.4" x2="84" y2="652.2" stroke="#999" stroke-width="0.3"/>
<line x1="87" y1="651.4" x2="87" y2="652.2" stroke="#999" stroke-width="0.3"/>
<line x1="90" y1="651.4" x2="90" y2="652.2" stroke="#999" stroke-width="0.3"/>
<line x1="93" y1="651.4" x2="93" y2="652.2" stroke="#999" stroke-width="0.3"/>
<line x1="96" y1="651.4" x2="96" y2="652.2" stroke="#999" stroke-width="0.3"/>
<rect x="41.5" y="650.8" width="4.5" height="1.4" fill="#222" stroke="none" stroke-width="1"/>
<text x="14.9" y="584" font-size="7.6" text-anchor="middle" transform="rotate(-90 14.9 584)">Normalized to Mode</text>
<line x1="12.6" y1="514" x2="12.6" y2="547" stroke="#777" stroke-width="0.5"/>
<line x1="12.6" y1="621" x2="12.6" y2="650.5" stroke="#777" stroke-width="0.5"/>
<text x="61.3" y="667" font-size="8" text-anchor="middle">PD-1</text>
<circle cx="127.8" cy="501.8" r="3.08" fill="#1c45a0" fill-opacity="0.2"/>
<rect x="119.9" y="497" width="15.8" height="9.8" fill="none" stroke="#1c45a0" stroke-width="1.32"/>
<line x1="119.9" y1="501.8" x2="135.7" y2="501.8" stroke="#1c45a0" stroke-width="2.16"/>
<line x1="127.8" y1="494.8" x2="127.8" y2="497" stroke="#1c45a0" stroke-width="1.2"/>
<line x1="127.8" y1="506.8" x2="127.8" y2="508.8" stroke="#1c45a0" stroke-width="1.2"/>
<text x="143.3" y="505.6" font-size="9.6">non-SD</text>
<circle cx="186.4" cy="501.8" r="3.08" fill="#f0141e" fill-opacity="0.2"/>
<rect x="178.7" y="497" width="15.5" height="9.8" fill="none" stroke="#f0141e" stroke-width="1.32"/>
<line x1="178.7" y1="501.8" x2="194.2" y2="501.8" stroke="#f0141e" stroke-width="2.16"/>
<line x1="186.4" y1="494.8" x2="186.4" y2="497" stroke="#f0141e" stroke-width="1.2"/>
<line x1="186.4" y1="506.8" x2="186.4" y2="508.8" stroke="#f0141e" stroke-width="1.2"/>
<text x="201.5" y="505.6" font-size="9.6">SD</text>
<rect x="134.2" y="513.8" width="71.5" height="66.5" fill="#fff" stroke="none" stroke-width="1"/>
<line x1="134.2" y1="523.3" x2="205.7" y2="523.3" stroke="#f3f3f3" stroke-width="0.5"/>
<line x1="134.2" y1="535.3" x2="205.7" y2="535.3" stroke="#f3f3f3" stroke-width="0.5"/>
<line x1="134.2" y1="547.5" x2="205.7" y2="547.5" stroke="#f3f3f3" stroke-width="0.5"/>
<line x1="134.2" y1="559.7" x2="205.7" y2="559.7" stroke="#f3f3f3" stroke-width="0.5"/>
<line x1="134.2" y1="571.8" x2="205.7" y2="571.8" stroke="#f3f3f3" stroke-width="0.5"/>
<line x1="134.2" y1="517.4" x2="205.7" y2="517.4" stroke="#e8e8e8" stroke-width="0.6"/>
<line x1="134.2" y1="529.3" x2="205.7" y2="529.3" stroke="#e8e8e8" stroke-width="0.6"/>
<line x1="134.2" y1="541.3" x2="205.7" y2="541.3" stroke="#e8e8e8" stroke-width="0.6"/>
<line x1="134.2" y1="553.6" x2="205.7" y2="553.6" stroke="#e8e8e8" stroke-width="0.6"/>
<line x1="134.2" y1="565.8" x2="205.7" y2="565.8" stroke="#e8e8e8" stroke-width="0.6"/>
<line x1="134.2" y1="577.7" x2="205.7" y2="577.7" stroke="#e8e8e8" stroke-width="0.6"/>
<line x1="153.7" y1="513.8" x2="153.7" y2="580.3" stroke="#e8e8e8" stroke-width="0.6"/>
<line x1="185.8" y1="513.8" x2="185.8" y2="580.3" stroke="#e8e8e8" stroke-width="0.6"/>
<rect x="134.2" y="513.8" width="71.5" height="66.5" fill="none" stroke="#b5b5b5" stroke-width="0.6"/>
<line x1="133" y1="517.4" x2="134.2" y2="517.4" stroke="#555" stroke-width="0.4"/>
<text x="132" y="519" font-size="4.6" text-anchor="end" fill="#4d4d4d">50</text>
<line x1="133" y1="529.3" x2="134.2" y2="529.3" stroke="#555" stroke-width="0.4"/>
<text x="132" y="530.9" font-size="4.6" text-anchor="end" fill="#4d4d4d">40</text>
<line x1="133" y1="541.3" x2="134.2" y2="541.3" stroke="#555" stroke-width="0.4"/>
<text x="132" y="542.9" font-size="4.6" text-anchor="end" fill="#4d4d4d">30</text>
<line x1="133" y1="553.6" x2="134.2" y2="553.6" stroke="#555" stroke-width="0.4"/>
<text x="132" y="555.2" font-size="4.6" text-anchor="end" fill="#4d4d4d">20</text>
<line x1="133" y1="565.8" x2="134.2" y2="565.8" stroke="#555" stroke-width="0.4"/>
<text x="132" y="567.4" font-size="4.6" text-anchor="end" fill="#4d4d4d">10</text>
<line x1="133" y1="577.7" x2="134.2" y2="577.7" stroke="#555" stroke-width="0.4"/>
<text x="132" y="579.3" font-size="4.6" text-anchor="end" fill="#4d4d4d">0</text>
<circle cx="147.8" cy="566" r="1.8" fill="#6d8fd0" fill-opacity="0.45"/>
<circle cx="145" cy="571" r="1.8" fill="#6d8fd0" fill-opacity="0.45"/>
<circle cx="147.7" cy="572" r="1.8" fill="#6d8fd0" fill-opacity="0.45"/>
<circle cx="149.8" cy="573" r="1.8" fill="#6d8fd0" fill-opacity="0.45"/>
<circle cx="151.8" cy="574" r="1.8" fill="#6d8fd0" fill-opacity="0.45"/>
<circle cx="150.4" cy="575" r="1.8" fill="#6d8fd0" fill-opacity="0.45"/>
<circle cx="149.5" cy="576" r="1.8" fill="#6d8fd0" fill-opacity="0.45"/>
<circle cx="149.2" cy="577" r="1.8" fill="#6d8fd0" fill-opacity="0.45"/>
<circle cx="145" cy="577" r="1.8" fill="#6d8fd0" fill-opacity="0.45"/>
<circle cx="147.2" cy="577" r="1.8" fill="#6d8fd0" fill-opacity="0.45"/>
<circle cx="147.3" cy="575" r="1.8" fill="#6d8fd0" fill-opacity="0.45"/>
<circle cx="149.5" cy="574" r="1.8" fill="#6d8fd0" fill-opacity="0.45"/>
<circle cx="145.6" cy="576" r="1.8" fill="#6d8fd0" fill-opacity="0.45"/>
<circle cx="147.5" cy="573" r="1.8" fill="#6d8fd0" fill-opacity="0.45"/>
<circle cx="148.5" cy="572" r="1.8" fill="#6d8fd0" fill-opacity="0.45"/>
<rect x="144" y="571.5" width="8.8" height="5.7" fill="none" stroke="#1c45a0" stroke-width="0.7" stroke-opacity="0.55"/>
<line x1="148.4" y1="566.3" x2="148.4" y2="577.7" stroke="#1c45a0" stroke-width="1.25"/>
<line x1="144.2" y1="566.3" x2="152.6" y2="566.3" stroke="#1c45a0" stroke-width="1.25"/>
<line x1="144.2" y1="577.7" x2="152.6" y2="577.7" stroke="#1c45a0" stroke-width="1.25"/>
<line x1="144" y1="574.5" x2="152.8" y2="574.5" stroke="#1c45a0" stroke-width="1.25"/>
<circle cx="160.1" cy="530" r="1.7" fill="#f26070" fill-opacity="0.45"/>
<circle cx="160.3" cy="536" r="1.7" fill="#f26070" fill-opacity="0.45"/>
<circle cx="158.8" cy="576" r="1.7" fill="#f26070" fill-opacity="0.45"/>
<circle cx="155.5" cy="577" r="1.7" fill="#f26070" fill-opacity="0.45"/>
<rect x="153.5" y="535.4" width="9" height="41.8" fill="none" stroke="#f0141e" stroke-width="0.7" stroke-opacity="0.55"/>
<line x1="158" y1="522.7" x2="158" y2="577.7" stroke="#f0141e" stroke-width="1.25"/>
<line x1="153.7" y1="522.7" x2="162.3" y2="522.7" stroke="#f0141e" stroke-width="1.25"/>
<line x1="153.7" y1="577.7" x2="162.3" y2="577.7" stroke="#f0141e" stroke-width="1.25"/>
<line x1="153.5" y1="576" x2="162.5" y2="576" stroke="#f0141e" stroke-width="1.25"/>
<circle cx="183.2" cy="517" r="1.8" fill="#6d8fd0" fill-opacity="0.45"/>
<circle cx="184.1" cy="520" r="1.8" fill="#6d8fd0" fill-opacity="0.45"/>
<circle cx="181.6" cy="523" r="1.8" fill="#6d8fd0" fill-opacity="0.45"/>
<circle cx="180.3" cy="545" r="1.8" fill="#6d8fd0" fill-opacity="0.45"/>
<circle cx="181.3" cy="550" r="1.8" fill="#6d8fd0" fill-opacity="0.45"/>
<circle cx="178.8" cy="555" r="1.8" fill="#6d8fd0" fill-opacity="0.45"/>
<circle cx="182.8" cy="558" r="1.8" fill="#6d8fd0" fill-opacity="0.45"/>
<circle cx="184.7" cy="561" r="1.8" fill="#6d8fd0" fill-opacity="0.45"/>
<circle cx="181.4" cy="563" r="1.8" fill="#6d8fd0" fill-opacity="0.45"/>
<circle cx="182.8" cy="565" r="1.8" fill="#6d8fd0" fill-opacity="0.45"/>
<circle cx="183.7" cy="567" r="1.8" fill="#6d8fd0" fill-opacity="0.45"/>
<circle cx="179.2" cy="569" r="1.8" fill="#6d8fd0" fill-opacity="0.45"/>
<circle cx="184.4" cy="571" r="1.8" fill="#6d8fd0" fill-opacity="0.45"/>
<circle cx="182.2" cy="573" r="1.8" fill="#6d8fd0" fill-opacity="0.45"/>
<circle cx="179.2" cy="576" r="1.8" fill="#6d8fd0" fill-opacity="0.45"/>
<circle cx="178.4" cy="556" r="1.8" fill="#6d8fd0" fill-opacity="0.45"/>
<circle cx="179.5" cy="559" r="1.8" fill="#6d8fd0" fill-opacity="0.45"/>
<circle cx="181.8" cy="562" r="1.8" fill="#6d8fd0" fill-opacity="0.45"/>
<circle cx="182.7" cy="566" r="1.8" fill="#6d8fd0" fill-opacity="0.45"/>
<circle cx="180.1" cy="568" r="1.8" fill="#6d8fd0" fill-opacity="0.45"/>
<circle cx="184.3" cy="570" r="1.8" fill="#6d8fd0" fill-opacity="0.45"/>
<circle cx="180.3" cy="572" r="1.8" fill="#6d8fd0" fill-opacity="0.45"/>
<rect x="176.9" y="555" width="8.8" height="15.1" fill="none" stroke="#1c45a0" stroke-width="0.7" stroke-opacity="0.55"/>
<line x1="181.3" y1="535.4" x2="181.3" y2="577.7" stroke="#1c45a0" stroke-width="1.25"/>
<line x1="177.1" y1="535.4" x2="185.5" y2="535.4" stroke="#1c45a0" stroke-width="1.25"/>
<line x1="177.1" y1="577.7" x2="185.5" y2="577.7" stroke="#1c45a0" stroke-width="1.25"/>
<line x1="176.9" y1="563.5" x2="185.7" y2="563.5" stroke="#1c45a0" stroke-width="1.25"/>
<circle cx="190.5" cy="548" r="1.7" fill="#f26070" fill-opacity="0.45"/>
<circle cx="188.1" cy="555" r="1.7" fill="#f26070" fill-opacity="0.45"/>
<circle cx="194.2" cy="560" r="1.7" fill="#f26070" fill-opacity="0.45"/>
<circle cx="188.2" cy="563" r="1.7" fill="#f26070" fill-opacity="0.45"/>
<circle cx="193.7" cy="566" r="1.7" fill="#f26070" fill-opacity="0.45"/>
<circle cx="191.1" cy="570" r="1.7" fill="#f26070" fill-opacity="0.45"/>
<rect x="186.3" y="553" width="9" height="12.4" fill="none" stroke="#f0141e" stroke-width="0.7" stroke-opacity="0.55"/>
<line x1="190.8" y1="545.5" x2="190.8" y2="571.5" stroke="#f0141e" stroke-width="1.25"/>
<line x1="186.5" y1="545.5" x2="195.1" y2="545.5" stroke="#f0141e" stroke-width="1.25"/>
<line x1="186.5" y1="571.5" x2="195.1" y2="571.5" stroke="#f0141e" stroke-width="1.25"/>
<line x1="186.3" y1="565.4" x2="195.3" y2="565.4" stroke="#f0141e" stroke-width="1.25"/>
<path d="M147.4 525.5V517.4H181.6V519.5" fill="none" stroke="#555" stroke-width="0.5"/>
<text x="164.5" y="520.6" font-size="8.6" text-anchor="middle" font-weight="bold">****</text>
<rect x="133.8" y="587.5" width="71.5" height="66.8" fill="#fff" stroke="none" stroke-width="1"/>
<line x1="133.8" y1="600.2" x2="205.3" y2="600.2" stroke="#f3f3f3" stroke-width="0.5"/>
<line x1="133.8" y1="620.5" x2="205.3" y2="620.5" stroke="#f3f3f3" stroke-width="0.5"/>
<line x1="133.8" y1="640.8" x2="205.3" y2="640.8" stroke="#f3f3f3" stroke-width="0.5"/>
<line x1="133.8" y1="590" x2="205.3" y2="590" stroke="#e8e8e8" stroke-width="0.6"/>
<line x1="133.8" y1="610.5" x2="205.3" y2="610.5" stroke="#e8e8e8" stroke-width="0.6"/>
<line x1="133.8" y1="630.6" x2="205.3" y2="630.6" stroke="#e8e8e8" stroke-width="0.6"/>
<line x1="133.8" y1="651.1" x2="205.3" y2="651.1" stroke="#e8e8e8" stroke-width="0.6"/>
<line x1="153.7" y1="587.5" x2="153.7" y2="654.3" stroke="#e8e8e8" stroke-width="0.6"/>
<line x1="185.8" y1="587.5" x2="185.8" y2="654.3" stroke="#e8e8e8" stroke-width="0.6"/>
<rect x="133.8" y="587.5" width="71.5" height="66.8" fill="none" stroke="#b5b5b5" stroke-width="0.6"/>
<line x1="132.6" y1="590" x2="133.8" y2="590" stroke="#555" stroke-width="0.4"/>
<text x="131.6" y="591.6" font-size="4.6" text-anchor="end" fill="#4d4d4d">30</text>
<line x1="132.6" y1="610.5" x2="133.8" y2="610.5" stroke="#555" stroke-width="0.4"/>
<text x="131.6" y="612.1" font-size="4.6" text-anchor="end" fill="#4d4d4d">20</text>
<line x1="132.6" y1="630.6" x2="133.8" y2="630.6" stroke="#555" stroke-width="0.4"/>
<text x="131.6" y="632.2" font-size="4.6" text-anchor="end" fill="#4d4d4d">10</text>
<line x1="132.6" y1="651.1" x2="133.8" y2="651.1" stroke="#555" stroke-width="0.4"/>
<text x="131.6" y="652.7" font-size="4.6" text-anchor="end" fill="#4d4d4d">0</text>
<circle cx="149.2" cy="649" r="1.8" fill="#6d8fd0" fill-opacity="0.45"/>
<circle cx="149.2" cy="650" r="1.8" fill="#6d8fd0" fill-opacity="0.45"/>
<circle cx="147.2" cy="651" r="1.8" fill="#6d8fd0" fill-opacity="0.45"/>
<circle cx="151.6" cy="651" r="1.8" fill="#6d8fd0" fill-opacity="0.45"/>
<circle cx="152.2" cy="652" r="1.8" fill="#6d8fd0" fill-opacity="0.45"/>
<circle cx="151" cy="652" r="1.8" fill="#6d8fd0" fill-opacity="0.45"/>
<circle cx="149.5" cy="650" r="1.8" fill="#6d8fd0" fill-opacity="0.45"/>
<circle cx="146.2" cy="651" r="1.8" fill="#6d8fd0" fill-opacity="0.45"/>
<circle cx="151" cy="649" r="1.8" fill="#6d8fd0" fill-opacity="0.45"/>
<circle cx="147.3" cy="650" r="1.8" fill="#6d8fd0" fill-opacity="0.45"/>
<rect x="144.5" y="649" width="8.6" height="3" fill="none" stroke="#1c45a0" stroke-width="0.7" stroke-opacity="0.55"/>
<line x1="148.8" y1="648.5" x2="148.8" y2="652" stroke="#1c45a0" stroke-width="1.25"/>
<line x1="144.7" y1="648.5" x2="152.9" y2="648.5" stroke="#1c45a0" stroke-width="1.25"/>
<line x1="144.7" y1="652" x2="152.9" y2="652" stroke="#1c45a0" stroke-width="1.25"/>
<line x1="144.5" y1="651" x2="153.1" y2="651" stroke="#1c45a0" stroke-width="1.25"/>
<circle cx="160.9" cy="591" r="1.7" fill="#f26070" fill-opacity="0.45"/>
<circle cx="156.3" cy="642" r="1.7" fill="#f26070" fill-opacity="0.45"/>
<circle cx="158.6" cy="650" r="1.7" fill="#f26070" fill-opacity="0.45"/>
<rect x="153.7" y="635.9" width="8.8" height="14.2" fill="none" stroke="#f0141e" stroke-width="0.7" stroke-opacity="0.55"/>
<line x1="158.1" y1="616.5" x2="158.1" y2="651" stroke="#f0141e" stroke-width="1.25"/>
<line x1="153.9" y1="616.5" x2="162.3" y2="616.5" stroke="#f0141e" stroke-width="1.25"/>
<line x1="153.9" y1="651" x2="162.3" y2="651" stroke="#f0141e" stroke-width="1.25"/>
<line x1="153.7" y1="650" x2="162.5" y2="650" stroke="#f0141e" stroke-width="1.25"/>
<circle cx="183.4" cy="639" r="1.8" fill="#6d8fd0" fill-opacity="0.45"/>
<circle cx="178.9" cy="642" r="1.8" fill="#6d8fd0" fill-opacity="0.45"/>
<circle cx="181.4" cy="643" r="1.8" fill="#6d8fd0" fill-opacity="0.45"/>
<circle cx="178.2" cy="646" r="1.8" fill="#6d8fd0" fill-opacity="0.45"/>
<circle cx="177.9" cy="648" r="1.8" fill="#6d8fd0" fill-opacity="0.45"/>
<circle cx="178.9" cy="650" r="1.8" fill="#6d8fd0" fill-opacity="0.45"/>
<circle cx="184.5" cy="651" r="1.8" fill="#6d8fd0" fill-opacity="0.45"/>
<circle cx="184.1" cy="652" r="1.8" fill="#6d8fd0" fill-opacity="0.45"/>
<circle cx="182.2" cy="647" r="1.8" fill="#6d8fd0" fill-opacity="0.45"/>
<circle cx="179.8" cy="649" r="1.8" fill="#6d8fd0" fill-opacity="0.45"/>
<circle cx="182.3" cy="650" r="1.8" fill="#6d8fd0" fill-opacity="0.45"/>
<circle cx="182.7" cy="651" r="1.8" fill="#6d8fd0" fill-opacity="0.45"/>
<circle cx="180.3" cy="648" r="1.8" fill="#6d8fd0" fill-opacity="0.45"/>
<rect x="176.8" y="646.3" width="8.6" height="5.2" fill="none" stroke="#1c45a0" stroke-width="0.7" stroke-opacity="0.55"/>
<line x1="181.1" y1="645" x2="181.1" y2="652" stroke="#1c45a0" stroke-width="1.25"/>
<line x1="177" y1="645" x2="185.2" y2="645" stroke="#1c45a0" stroke-width="1.25"/>
<line x1="177" y1="652" x2="185.2" y2="652" stroke="#1c45a0" stroke-width="1.25"/>
<line x1="176.8" y1="649" x2="185.4" y2="649" stroke="#1c45a0" stroke-width="1.25"/>
<circle cx="191.2" cy="640" r="1.7" fill="#f26070" fill-opacity="0.45"/>
<circle cx="192.7" cy="644" r="1.7" fill="#f26070" fill-opacity="0.45"/>
<circle cx="187.2" cy="647" r="1.7" fill="#f26070" fill-opacity="0.45"/>
<circle cx="188.5" cy="650" r="1.7" fill="#f26070" fill-opacity="0.45"/>
<rect x="186.2" y="643.5" width="8.8" height="5.7" fill="none" stroke="#f0141e" stroke-width="0.7" stroke-opacity="0.55"/>
<line x1="190.6" y1="638.2" x2="190.6" y2="651" stroke="#f0141e" stroke-width="1.25"/>
<line x1="186.4" y1="638.2" x2="194.8" y2="638.2" stroke="#f0141e" stroke-width="1.25"/>
<line x1="186.4" y1="651" x2="194.8" y2="651" stroke="#f0141e" stroke-width="1.25"/>
<line x1="186.2" y1="646.5" x2="195" y2="646.5" stroke="#f0141e" stroke-width="1.25"/>
<path d="M148.4 608.4V599.8H181.6V608.4" fill="none" stroke="#555" stroke-width="0.5"/>
<text x="165.5" y="601.7" font-size="8" text-anchor="middle" font-weight="bold">**</text>
<text x="153.7" y="609.6" font-size="8" text-anchor="middle" font-weight="bold">**</text>
<line x1="149" y1="608.8" x2="157.9" y2="608.8" stroke="#555" stroke-width="0.5"/>
<text x="185.8" y="630.5" font-size="8" text-anchor="middle" font-weight="bold">*</text>
<line x1="182" y1="628.3" x2="190.7" y2="628.3" stroke="#555" stroke-width="0.5"/>
<line x1="153.7" y1="654.3" x2="153.7" y2="655.5" stroke="#555" stroke-width="0.4"/>
<text x="153.7" y="662.9" font-size="8.2" text-anchor="middle">TP1</text>
<line x1="185.8" y1="654.3" x2="185.8" y2="655.5" stroke="#555" stroke-width="0.4"/>
<text x="185.8" y="662.9" font-size="8.2" text-anchor="middle">TP2</text>
<line x1="153.7" y1="580.3" x2="153.7" y2="581.5" stroke="#555" stroke-width="0.4"/>
<line x1="185.8" y1="580.3" x2="185.8" y2="581.5" stroke="#555" stroke-width="0.4"/>
<text x="115.5" y="547" font-size="6.3" text-anchor="middle" transform="rotate(-90 115.5 547)">CD4<tspan dy="-2.39" font-size="3.91">+</tspan><tspan dy="2.39"> DENV2-specific</tspan></text>
<text x="124" y="547" font-size="6.3" text-anchor="middle" transform="rotate(-90 124 547)">PD-1<tspan dy="-2.39" font-size="3.91">+</tspan><tspan dy="2.39"> (%)</tspan></text>
<text x="115.9" y="621" font-size="6.3" text-anchor="middle" transform="rotate(-90 115.9 621)">CD8<tspan dy="-2.39" font-size="3.91">+</tspan><tspan dy="2.39"> DENV2-specific</tspan></text>
<text x="124" y="621" font-size="6.3" text-anchor="middle" transform="rotate(-90 124 621)">PD-1<tspan dy="-2.39" font-size="3.91">+</tspan><tspan dy="2.39"> (%)</tspan></text>
<text x="237.6" y="498.9" font-size="14.2" font-weight="bold">h</text>
<rect x="251.5" y="507.1" width="65.7" height="65.7" fill="none" stroke="#c8c8c8" stroke-width="0.7"/>
<path d="M254.2 511.5H312.8V569.3H273V546.2H254.2Z" fill="none" stroke="#8c8c8c" stroke-width="0.55"/>
<text x="255.9" y="518" font-size="4.7" fill="#222">cytokine<tspan dy="-1.79" font-size="2.91">+</tspan><tspan dy="1.79"> and/or CD107a</tspan><tspan dy="-1.79" font-size="2.91">+</tspan></text>
<g transform="translate(251.5 507.5)" stroke-width="1" stroke-linecap="square"><path d="M22 49h0" stroke="#2525ff"/><path d="M23 49h0" stroke="#1717ff"/><path d="M21 50h0" stroke="#0b0bff"/><path d="M15 43h2M14 44h4M14 45h1M17 45h1M13 46h1M18 46h1M13 47h0M18 47h1M13 48h0M19 48h0M13 49h0M19 49h1M13 50h0M19 50h1M24 50h0M13 51h0M19 51h0M13 52h0M19 52h0M13 53h0M18 53h1M13 54h0M18 54h0M14 55h0M18 55h0M14 56h4M15 57h2M16 58h0" stroke="#0000ff"/><path d="M49 22h0M21 46h0M33 48h0M28 50h0" stroke="#3c3cff"/><path d="M25 50h0" stroke="#1616ff"/><path d="M21 49h0M25 51h0" stroke="#1c1cff"/><path d="M23 50h0" stroke="#0808ff"/><path d="M50 22h0M33 49h0" stroke="#3939ff"/><path d="M24 49h0M24 51h0" stroke="#1414ff"/><path d="M21 52h0" stroke="#2f2fff"/><path d="M20 52h0" stroke="#1e1eff"/><path d="M27 50h0M25 52h0" stroke="#3535ff"/><path d="M25 48h0" stroke="#3838ff"/><path d="M26 51h0" stroke="#2d2dff"/><path d="M22 51h0" stroke="#2323ff"/><path d="M20 51h0M15 58h0" stroke="#0202ff"/><path d="M23 51h0" stroke="#1b1bff"/><path d="M26 50h0" stroke="#2e2eff"/><path d="M27 49h0" stroke="#3a3aff"/><path d="M50 14h0M47 17h0M54 22h0M59 22h0M47 23h0M49 24h0M46 27h0M28 29h0M43 29h0M47 29h0M31 30h0M42 31h0M44 31h0M47 32h0M50 33h0M44 34h0M33 35h0M29 38h0M35 38h0M38 38h0M24 41h0M27 42h0M23 44h0M26 44h0M28 47h0M31 51h0M25 54h0" stroke="#4141ff"/><path d="M27 51h0" stroke="#3737ff"/><path d="M21 51h0" stroke="#1919ff"/><path d="M55 17h0M54 18h0M41 27h0M40 31h0M39 32h0M27 39h0M28 40h0M23 47h0M31 47h0M30 48h0" stroke="#3f3fff"/><path d="M49 19h1M45 22h0M44 24h0M42 25h0M39 26h0M38 28h0M38 29h0M35 33h0M35 34h0" stroke="#3e3eff"/><path d="M45 23h0M43 25h0M40 26h0M26 48h0M27 52h0" stroke="#3d3dff"/><path d="M24 48h0" stroke="#3232ff"/><path d="M18 52h0" stroke="#0016ff"/><path d="M14 47h0" stroke="#0018ff"/><path d="M14 48h0" stroke="#004fff"/><path d="M14 49h0" stroke="#0083ff"/><path d="M17 48h0M14 50h0" stroke="#009fff"/><path d="M14 51h0" stroke="#0097ff"/><path d="M14 52h0" stroke="#0071ff"/><path d="M14 53h0" stroke="#0035ff"/><path d="M14 54h0" stroke="#0003ff"/><path d="M15 46h0" stroke="#003aff"/><path d="M15 47h0" stroke="#0098ff"/><path d="M15 48h0" stroke="#00ef9b"/><path d="M15 49h0" stroke="#cef800"/><path d="M15 50h0" stroke="#ff9c00"/><path d="M15 51h0" stroke="#fdc900"/><path d="M15 52h0" stroke="#5dff2a"/><path d="M15 53h0" stroke="#00dcfd"/><path d="M15 54h0" stroke="#006fff"/><path d="M15 55h0" stroke="#0019ff"/><path d="M16 42h0M18 57h0" stroke="#0606ff"/><path d="M16 45h0" stroke="#000cff"/><path d="M16 46h0" stroke="#0052ff"/><path d="M16 47h0" stroke="#00b6ff"/><path d="M16 48h0" stroke="#07ff4c"/><path d="M16 49h0" stroke="#ffc700"/><path d="M16 50h0" stroke="#f00000"/><path d="M16 51h0" stroke="#f93900"/><path d="M16 52h0" stroke="#d0f600"/><path d="M16 53h0" stroke="#00e9ba"/><path d="M16 54h0" stroke="#0087ff"/><path d="M16 55h0" stroke="#002dff"/><path d="M16 59h0" stroke="#1818ff"/><path d="M17 46h0" stroke="#001cff"/><path d="M17 47h0" stroke="#005bff"/><path d="M17 49h0" stroke="#00def4"/><path d="M17 50h0" stroke="#00ebb0"/><path d="M17 51h0" stroke="#00e7c4"/><path d="M17 52h0" stroke="#00c7ff"/><path d="M17 53h0" stroke="#0081ff"/><path d="M17 54h0" stroke="#003bff"/><path d="M17 55h0" stroke="#0005ff"/><path d="M18 48h0" stroke="#000bff"/><path d="M18 49h0" stroke="#001fff"/><path d="M18 50h0" stroke="#0029ff"/><path d="M18 51h0" stroke="#0026ff"/><path d="M18 58h0" stroke="#1d1dff"/></g>
<line x1="250.2" y1="513.1" x2="251.5" y2="513.1" stroke="#777" stroke-width="0.4"/>
<line x1="250.2" y1="525.1" x2="251.5" y2="525.1" stroke="#777" stroke-width="0.4"/>
<line x1="250.2" y1="538.1" x2="251.5" y2="538.1" stroke="#777" stroke-width="0.4"/>
<line x1="250.2" y1="551.1" x2="251.5" y2="551.1" stroke="#777" stroke-width="0.4"/>
<line x1="250.2" y1="565.1" x2="251.5" y2="565.1" stroke="#777" stroke-width="0.4"/>
<line x1="257.5" y1="572.8" x2="257.5" y2="574.1" stroke="#777" stroke-width="0.4"/>
<line x1="267.5" y1="572.8" x2="267.5" y2="574.1" stroke="#777" stroke-width="0.4"/>
<line x1="279.5" y1="572.8" x2="279.5" y2="574.1" stroke="#777" stroke-width="0.4"/>
<line x1="303.5" y1="572.8" x2="303.5" y2="574.1" stroke="#777" stroke-width="0.4"/>
<line x1="313.5" y1="572.8" x2="313.5" y2="574.1" stroke="#777" stroke-width="0.4"/>
<rect x="249.7" y="555.6" width="1.3" height="2.5" fill="#222" stroke="none" stroke-width="1"/>
<rect x="265" y="573.1" width="2.5" height="1.3" fill="#222" stroke="none" stroke-width="1"/>
<text x="241.3" y="541" font-size="5.6" text-anchor="middle" transform="rotate(-90 241.3 541)">TNF-α/MIP-1β/IL-2/CD107a</text>
<text x="283" y="584" font-size="5.8" text-anchor="middle">IFN-γ</text>
<line x1="301.4" y1="567.6" x2="301.4" y2="581.8" stroke="#000" stroke-width="1.1"/>
<path d="M301.4 587.8L298.3 581.8L304.5 581.8Z" fill="#000" stroke="none" stroke-width="1"/>
<rect x="251.5" y="587.4" width="65.7" height="65.2" fill="none" stroke="#c8c8c8" stroke-width="0.7"/>
<g transform="translate(251.5 587.5)" stroke-width="1" stroke-linecap="square"><path d="M21 17h0M26 17h0M22 18h3M15 19h0M17 19h0M19 19h2M14 20h12M28 20h0M31 20h0M13 21h0M28 21h3M11 22h2M30 22h1M11 23h1M33 23h0M11 24h0M32 24h1M10 25h1M33 25h1M34 26h1M9 27h1M34 27h0M8 28h1M8 29h2M35 29h0M9 30h0M35 30h1M9 31h0M35 31h0M8 32h0M35 32h0M8 33h1M35 33h0M9 35h0M35 35h0M8 36h0M34 36h0M10 38h0M33 38h0M35 38h0M9 39h1M33 39h1M10 40h0M32 40h0M31 41h2M10 42h0M29 42h0M31 42h1M36 42h0M11 43h0M27 43h0M29 43h2M36 43h0M12 44h0M21 44h2M25 44h0M27 44h0M32 44h0M12 45h1M20 45h0M23 45h2M28 45h2M14 46h0M18 46h7M29 46h0M12 47h0M15 47h1M18 47h2M36 47h0M19 48h0M31 48h0M19 49h0" stroke="#0000ff"/><path d="M24 40h0" stroke="#0055ff"/><path d="M27 25h0M29 26h0M20 38h0M27 38h0" stroke="#008cff"/><path d="M11 26h0M10 30h0M32 39h0M11 41h0M15 46h0" stroke="#0004ff"/><path d="M16 21h0M22 21h0M34 29h0M10 31h0M33 37h0M23 43h0" stroke="#0009ff"/><path d="M14 22h0M29 22h0M10 32h0M10 35h0" stroke="#000cff"/><path d="M10 33h0M10 34h0" stroke="#000eff"/><path d="M18 21h0M27 21h0M10 36h0M24 43h0M20 44h0" stroke="#0008ff"/><path d="M15 21h0M10 37h0M26 43h0M17 46h0" stroke="#0003ff"/><path d="M11 27h0M11 40h0M14 45h0" stroke="#0010ff"/><path d="M19 22h0M11 28h0M31 39h0M30 40h0M20 43h0" stroke="#001bff"/><path d="M11 29h0M18 44h0" stroke="#0026ff"/><path d="M11 30h0M33 34h0" stroke="#0030ff"/><path d="M11 31h0M24 41h0" stroke="#0038ff"/><path d="M33 31h0M11 32h0M33 32h0" stroke="#003eff"/><path d="M11 33h0M13 42h0" stroke="#0042ff"/><path d="M29 24h0M11 34h0" stroke="#0043ff"/><path d="M27 23h0M11 35h0M18 43h0" stroke="#0040ff"/><path d="M14 24h0M11 36h0" stroke="#003bff"/><path d="M11 37h0M30 39h0" stroke="#0033ff"/><path d="M24 22h0M11 38h0M14 44h0" stroke="#0029ff"/><path d="M11 39h0M25 42h0" stroke="#001dff"/><path d="M19 21h0M21 21h0M12 24h0M33 26h0M30 41h0" stroke="#0006ff"/><path d="M12 25h0" stroke="#0016ff"/><path d="M12 26h0M32 37h0M13 43h0" stroke="#0027ff"/><path d="M12 27h0M32 27h0M33 30h0M33 33h0M15 44h0" stroke="#0039ff"/><path d="M19 24h0M30 25h0M12 28h0" stroke="#004bff"/><path d="M12 29h0M28 39h0" stroke="#005dff"/><path d="M25 24h0M12 30h0M32 33h0" stroke="#006fff"/><path d="M12 31h0M31 35h0" stroke="#007cff"/><path d="M12 32h0" stroke="#0087ff"/><path d="M12 33h0M12 35h0M14 41h0" stroke="#008fff"/><path d="M16 26h0M12 34h0M31 34h0" stroke="#0092ff"/><path d="M12 36h0" stroke="#0088ff"/><path d="M12 37h0" stroke="#007bff"/><path d="M12 38h0M22 39h0M27 39h0" stroke="#006cff"/><path d="M16 24h1M22 24h0M28 24h0M14 25h0M12 39h0" stroke="#0057ff"/><path d="M23 23h0M12 40h0" stroke="#0041ff"/><path d="M12 41h0M19 43h0" stroke="#002cff"/><path d="M15 22h0M12 42h0" stroke="#0019ff"/><path d="M31 40h0M12 43h0M25 43h0M16 46h0" stroke="#0007ff"/><path d="M23 21h0M26 21h0M13 23h0" stroke="#000dff"/><path d="M17 22h0M13 24h0" stroke="#0021ff"/><path d="M13 25h0M22 41h1M25 41h0" stroke="#0037ff"/><path d="M13 26h0M32 28h0" stroke="#004fff"/><path d="M13 27h0" stroke="#0069ff"/><path d="M13 28h0" stroke="#0081ff"/><path d="M13 29h0" stroke="#009aff"/><path d="M18 28h0M13 30h0" stroke="#00b6ff"/><path d="M21 29h0M13 31h0" stroke="#00d3ff"/><path d="M13 32h0" stroke="#00e2dd"/><path d="M13 33h0" stroke="#00eab8"/><path d="M13 34h0" stroke="#00eda6"/><path d="M13 35h0" stroke="#00ecab"/><path d="M22 29h0M13 36h0" stroke="#00e7c7"/><path d="M24 36h0M13 37h0" stroke="#00ddf5"/><path d="M13 38h0" stroke="#00c0ff"/><path d="M13 39h0" stroke="#009eff"/><path d="M13 40h0" stroke="#007fff"/><path d="M32 34h0M13 41h0M16 43h0" stroke="#0060ff"/><path d="M32 25h0M21 43h0M13 44h0" stroke="#0011ff"/><path d="M27 22h0M14 23h0M28 41h0" stroke="#0022ff"/><path d="M17 25h0M14 26h0M24 39h0" stroke="#0074ff"/><path d="M14 27h0" stroke="#0090ff"/><path d="M14 28h0M31 32h0" stroke="#00b2ff"/><path d="M14 29h0" stroke="#00dcfe"/><path d="M14 30h0" stroke="#00eda7"/><path d="M14 31h0" stroke="#0bff4b"/><path d="M14 32h0" stroke="#88ff19"/><path d="M14 33h0" stroke="#d4f200"/><path d="M14 34h0" stroke="#e5e100"/><path d="M14 35h0" stroke="#e3e300"/><path d="M14 36h0" stroke="#ccfa00"/><path d="M14 37h0" stroke="#63ff28"/><path d="M14 38h0" stroke="#00f96d"/><path d="M26 36h0M14 39h0" stroke="#00e3d7"/><path d="M27 26h0M14 40h0" stroke="#00bcff"/><path d="M24 24h0M21 25h0M14 42h0" stroke="#006bff"/><path d="M24 23h0M14 43h0" stroke="#0047ff"/><path d="M15 23h0M19 23h0" stroke="#0032ff"/><path d="M15 24h0M21 24h0M32 35h0M30 38h0" stroke="#004eff"/><path d="M26 24h0M15 25h0M18 25h0M30 26h0M21 39h0" stroke="#006eff"/><path d="M15 26h0M23 38h0" stroke="#008aff"/><path d="M15 27h0" stroke="#00acff"/><path d="M15 28h0M30 29h0" stroke="#00d7ff"/><path d="M15 29h0" stroke="#00ecaa"/><path d="M15 30h1" stroke="#21ff42"/><path d="M24 30h0M15 31h0" stroke="#cafc00"/><path d="M15 32h0" stroke="#ffbf00"/><path d="M15 33h0" stroke="#fb4500"/><path d="M15 34h0" stroke="#f00000"/><path d="M15 35h0" stroke="#f10700"/><path d="M15 36h0" stroke="#ff5c00"/><path d="M15 37h0" stroke="#f4d200"/><path d="M15 38h0" stroke="#94ff14"/><path d="M15 39h0" stroke="#00f96c"/><path d="M15 40h0" stroke="#00e0e8"/><path d="M21 36h0M15 41h0" stroke="#00aeff"/><path d="M23 25h0M15 42h0" stroke="#0082ff"/><path d="M15 43h0" stroke="#005cff"/><path d="M21 22h0M15 45h0" stroke="#001cff"/><path d="M16 22h0M22 22h0M22 42h0M16 45h0" stroke="#0020ff"/><path d="M16 23h1M22 23h0M32 36h0" stroke="#003aff"/><path d="M16 25h0" stroke="#0075ff"/><path d="M16 27h0M22 27h0M31 31h0M27 37h0" stroke="#00b4ff"/><path d="M16 28h0" stroke="#00dcfb"/><path d="M16 29h0" stroke="#00eea2"/><path d="M16 31h0M17 33h0" stroke="#c1ff02"/><path d="M16 32h0" stroke="#f9cd00"/><path d="M16 33h0" stroke="#ff6800"/><path d="M16 34h0" stroke="#f72a00"/><path d="M16 35h0" stroke="#f83400"/><path d="M16 36h0" stroke="#ff8200"/><path d="M16 37h0" stroke="#e9dd00"/><path d="M16 38h0" stroke="#7eff1d"/><path d="M16 39h0" stroke="#00f775"/><path d="M21 30h0M27 36h0M16 40h0" stroke="#00e0ea"/><path d="M16 41h0" stroke="#00b0ff"/><path d="M18 26h0M16 42h0" stroke="#0085ff"/><path d="M28 40h0M16 44h0" stroke="#003dff"/><path d="M17 21h0M34 34h0M28 42h0" stroke="#000aff"/><path d="M17 26h0M30 27h0" stroke="#008eff"/><path d="M17 27h0M31 30h0" stroke="#00abff"/><path d="M17 28h0" stroke="#00ccff"/><path d="M17 29h0M17 39h0" stroke="#00e3d9"/><path d="M17 30h0" stroke="#00f28f"/><path d="M17 31h0" stroke="#12ff48"/><path d="M17 32h0" stroke="#74ff21"/><path d="M28 32h0M17 34h0" stroke="#d1f500"/><path d="M17 35h0" stroke="#cdf900"/><path d="M17 36h0" stroke="#9cff11"/><path d="M17 37h0" stroke="#39ff39"/><path d="M17 38h0" stroke="#00f57e"/><path d="M20 35h0M17 40h0" stroke="#00c1ff"/><path d="M31 29h0M21 37h0M17 41h0" stroke="#0098ff"/><path d="M22 25h0M32 32h0M25 39h0M17 42h0" stroke="#0076ff"/><path d="M21 40h0M17 43h0" stroke="#0054ff"/><path d="M28 23h0M17 44h0" stroke="#0035ff"/><path d="M20 22h0M26 42h0M17 45h0" stroke="#001aff"/><path d="M18 22h0" stroke="#001eff"/><path d="M18 23h0" stroke="#0036ff"/><path d="M18 24h0M22 40h0" stroke="#0051ff"/><path d="M18 27h0M22 37h0" stroke="#009dff"/><path d="M18 29h0M20 30h0M20 34h0M28 36h0" stroke="#00cfff"/><path d="M18 30h0" stroke="#00e0e9"/><path d="M18 31h0" stroke="#00e8c1"/><path d="M18 32h0" stroke="#00eea0"/><path d="M18 33h0" stroke="#00f38a"/><path d="M18 34h0" stroke="#00f483"/><path d="M18 35h0" stroke="#00f290"/><path d="M18 36h0" stroke="#00ecad"/><path d="M18 37h0" stroke="#00e3d8"/><path d="M18 38h0" stroke="#00d4ff"/><path d="M24 37h0M18 39h0" stroke="#00b5ff"/><path d="M18 40h0" stroke="#0096ff"/><path d="M18 41h0" stroke="#007aff"/><path d="M18 42h0" stroke="#005eff"/><path d="M24 21h1M34 30h0M34 33h0M18 45h0" stroke="#000fff"/><path d="M27 24h0M19 25h0M31 27h0" stroke="#0066ff"/><path d="M19 26h0M28 38h0" stroke="#007eff"/><path d="M25 25h1M19 27h0M26 38h0" stroke="#0094ff"/><path d="M19 28h0M30 35h0" stroke="#00a9ff"/><path d="M19 29h0M25 37h1" stroke="#00bdff"/><path d="M19 30h0" stroke="#00ceff"/><path d="M19 31h0" stroke="#00dbff"/><path d="M19 32h0" stroke="#00def1"/><path d="M19 33h0" stroke="#00dfee"/><path d="M19 34h0" stroke="#00def4"/><path d="M19 35h0M22 35h0" stroke="#00d8ff"/><path d="M19 36h0" stroke="#00caff"/><path d="M19 37h0" stroke="#00b7ff"/><path d="M19 38h0" stroke="#00a3ff"/><path d="M24 25h0M19 39h0" stroke="#008dff"/><path d="M32 31h0M19 40h0" stroke="#0077ff"/><path d="M19 41h0" stroke="#005fff"/><path d="M19 42h0" stroke="#0044ff"/><path d="M31 24h0M33 27h0M32 38h0M29 41h0M19 44h0" stroke="#0015ff"/><path d="M31 23h0M34 28h0M19 45h0" stroke="#0001ff"/><path d="M20 21h0" stroke="#0005ff"/><path d="M20 23h0M31 38h0M20 42h0" stroke="#0031ff"/><path d="M25 23h0M20 24h0M27 40h0" stroke="#004aff"/><path d="M20 25h0" stroke="#0065ff"/><path d="M28 25h0M20 26h0" stroke="#007dff"/><path d="M22 26h0M20 27h0" stroke="#0093ff"/><path d="M20 28h0" stroke="#00aaff"/><path d="M20 29h0" stroke="#00beff"/><path d="M22 28h0M20 31h0M20 33h0M21 34h0" stroke="#00d9ff"/><path d="M20 32h0" stroke="#00dcfd"/><path d="M20 36h0" stroke="#00b1ff"/><path d="M21 27h0M20 37h0" stroke="#009fff"/><path d="M20 39h0" stroke="#0078ff"/><path d="M20 40h0" stroke="#0061ff"/><path d="M31 37h0M29 39h0M20 41h0" stroke="#0049ff"/><path d="M21 23h0M26 41h0" stroke="#0034ff"/><path d="M21 26h0M22 38h0" stroke="#0084ff"/><path d="M21 28h0" stroke="#00baff"/><path d="M21 31h0" stroke="#00e4d6"/><path d="M30 30h0M21 32h0" stroke="#00e4d5"/><path d="M29 28h0M21 33h0M30 33h0" stroke="#00e1e5"/><path d="M25 26h0M21 35h0" stroke="#00c4ff"/><path d="M21 38h0" stroke="#0083ff"/><path d="M21 41h0" stroke="#003cff"/><path d="M23 22h0M29 23h0M21 42h0" stroke="#0025ff"/><path d="M22 30h0" stroke="#00f097"/><path d="M22 31h0" stroke="#00f57d"/><path d="M22 32h0" stroke="#00f581"/><path d="M22 33h0" stroke="#00ef9f"/><path d="M22 34h0" stroke="#00e5ce"/><path d="M22 36h0" stroke="#00b9ff"/><path d="M22 43h0" stroke="#000bff"/><path d="M23 24h0M32 29h0" stroke="#0062ff"/><path d="M23 26h0" stroke="#00a5ff"/><path d="M23 27h0" stroke="#00d1ff"/><path d="M25 27h0M23 28h0" stroke="#00e8be"/><path d="M23 29h0" stroke="#00f96a"/><path d="M23 30h0" stroke="#35ff3a"/><path d="M23 31h0" stroke="#62ff28"/><path d="M23 32h0" stroke="#57ff2c"/><path d="M23 33h0" stroke="#1aff45"/><path d="M23 34h0" stroke="#00f482"/><path d="M23 35h0" stroke="#00e5d0"/><path d="M23 36h0" stroke="#00cdff"/><path d="M28 26h0M23 37h0" stroke="#00a8ff"/><path d="M23 39h0" stroke="#0070ff"/><path d="M23 40h0M26 40h0" stroke="#0052ff"/><path d="M23 42h1" stroke="#001fff"/><path d="M24 26h0M29 27h0" stroke="#00b8ff"/><path d="M24 27h0" stroke="#00e1e1"/><path d="M24 28h0" stroke="#00f776"/><path d="M24 29h0" stroke="#5cff2a"/><path d="M24 31h0" stroke="#dde900"/><path d="M28 31h0M24 32h0" stroke="#d7ef00"/><path d="M24 33h0" stroke="#a4ff0e"/><path d="M24 34h0" stroke="#27ff40"/><path d="M24 35h0" stroke="#00f098"/><path d="M24 38h0" stroke="#0091ff"/><path d="M25 22h0" stroke="#002aff"/><path d="M25 28h0" stroke="#14ff47"/><path d="M25 29h0" stroke="#beff03"/><path d="M25 30h0" stroke="#f1d500"/><path d="M25 31h0" stroke="#ffb200"/><path d="M25 32h0" stroke="#ffc400"/><path d="M25 33h0" stroke="#dee800"/><path d="M25 34h0" stroke="#77ff20"/><path d="M25 35h0" stroke="#00f86f"/><path d="M25 36h0" stroke="#00e2dc"/><path d="M25 38h0" stroke="#0095ff"/><path d="M25 40h0" stroke="#0056ff"/><path d="M26 22h0" stroke="#0028ff"/><path d="M26 23h0M31 26h0" stroke="#0048ff"/><path d="M26 26h0" stroke="#00c6ff"/><path d="M26 27h0" stroke="#00eab4"/><path d="M26 28h0" stroke="#2bff3e"/><path d="M26 29h0" stroke="#cff700"/><path d="M26 30h0" stroke="#ffc700"/><path d="M26 31h0" stroke="#ff8800"/><path d="M26 32h0" stroke="#ff9d00"/><path d="M26 33h0" stroke="#ebdb00"/><path d="M26 34h0" stroke="#92ff15"/><path d="M26 35h0" stroke="#00fb63"/><path d="M26 39h0" stroke="#0073ff"/><path d="M27 27h0" stroke="#00e6c9"/><path d="M27 28h0M28 34h0" stroke="#08ff4c"/><path d="M27 29h0" stroke="#b5ff07"/><path d="M27 30h0" stroke="#efd700"/><path d="M27 31h0" stroke="#ffb600"/><path d="M27 32h0" stroke="#fec800"/><path d="M27 33h0" stroke="#dcea00"/><path d="M27 34h0" stroke="#6aff25"/><path d="M27 35h0" stroke="#00f67c"/><path d="M30 24h0M31 25h0M29 40h0M27 41h0" stroke="#002dff"/><path d="M30 23h0M27 42h0" stroke="#0013ff"/><path d="M28 22h0" stroke="#0018ff"/><path d="M28 27h0" stroke="#00ddf9"/><path d="M28 28h0" stroke="#00f38b"/><path d="M28 29h0" stroke="#45ff34"/><path d="M28 30h0" stroke="#bdff04"/><path d="M28 33h0" stroke="#8cff17"/><path d="M28 35h0" stroke="#00eab5"/><path d="M28 37h0" stroke="#00a1ff"/><path d="M29 25h0" stroke="#0068ff"/><path d="M29 29h0" stroke="#00f28e"/><path d="M29 30h0" stroke="#0aff4b"/><path d="M29 31h0" stroke="#38ff39"/><path d="M29 32h0" stroke="#2aff3e"/><path d="M29 33h0" stroke="#00fb62"/><path d="M29 34h0" stroke="#00ebaf"/><path d="M29 35h0" stroke="#00daff"/><path d="M29 36h0" stroke="#00adff"/><path d="M30 36h0M29 37h0" stroke="#0089ff"/><path d="M29 38h0" stroke="#006aff"/><path d="M30 28h0" stroke="#00b3ff"/><path d="M30 31h0" stroke="#00e9bc"/><path d="M30 32h0" stroke="#00e7c3"/><path d="M30 34h0" stroke="#00cbff"/><path d="M30 37h0" stroke="#006dff"/><path d="M31 28h0" stroke="#0080ff"/><path d="M31 33h0" stroke="#00a6ff"/><path d="M31 36h0" stroke="#0064ff"/><path d="M32 26h0M33 35h0" stroke="#0024ff"/><path d="M32 30h0" stroke="#0071ff"/><path d="M33 28h0" stroke="#0023ff"/><path d="M33 29h0" stroke="#002fff"/><path d="M33 36h0" stroke="#0017ff"/><path d="M34 31h0M34 32h0" stroke="#0012ff"/><path d="M34 35h0" stroke="#0002ff"/></g>
<rect x="256.3" y="597.4" width="15.9" height="48.2" fill="none" stroke="#e33" stroke-width="0.8"/>
<rect x="274.3" y="597.4" width="29.2" height="48.2" fill="none" stroke="#e33" stroke-width="0.8"/>
<text x="263.8" y="595.9" font-size="5.8" text-anchor="middle" font-weight="bold">PD-1<tspan dy="-2.20" font-size="3.60">-</tspan></text>
<text x="289.2" y="595.9" font-size="5.8" text-anchor="middle" font-weight="bold">PD-1<tspan dy="-2.20" font-size="3.60">+</tspan></text>
<line x1="250.2" y1="594.4" x2="251.5" y2="594.4" stroke="#777" stroke-width="0.4"/>
<line x1="250.2" y1="606.4" x2="251.5" y2="606.4" stroke="#777" stroke-width="0.4"/>
<line x1="250.2" y1="618.4" x2="251.5" y2="618.4" stroke="#777" stroke-width="0.4"/>
<line x1="250.2" y1="631.4" x2="251.5" y2="631.4" stroke="#777" stroke-width="0.4"/>
<line x1="250.2" y1="644.4" x2="251.5" y2="644.4" stroke="#777" stroke-width="0.4"/>
<line x1="257.5" y1="652.6" x2="257.5" y2="653.9" stroke="#777" stroke-width="0.4"/>
<line x1="267.5" y1="652.6" x2="267.5" y2="653.9" stroke="#777" stroke-width="0.4"/>
<line x1="279.5" y1="652.6" x2="279.5" y2="653.9" stroke="#777" stroke-width="0.4"/>
<line x1="303.5" y1="652.6" x2="303.5" y2="653.9" stroke="#777" stroke-width="0.4"/>
<line x1="313.5" y1="652.6" x2="313.5" y2="653.9" stroke="#777" stroke-width="0.4"/>
<rect x="265" y="652.9" width="2.5" height="1.3" fill="#222" stroke="none" stroke-width="1"/>
<text x="242.4" y="619.3" font-size="6.8" text-anchor="middle" transform="rotate(-90 242.4 619.3)">FSC-A</text>
<text x="283.9" y="663.8" font-size="6.8" text-anchor="middle">PD-1</text>
<line x1="311" y1="599.2" x2="329.2" y2="582.6" stroke="#000" stroke-width="1.0"/>
<path d="M332.5 579.6L330.9 584.5L327.5 580.8Z" fill="#000" stroke="none" stroke-width="1"/>
<line x1="311" y1="603.2" x2="328.5" y2="603.2" stroke="#000" stroke-width="1.0"/>
<path d="M333 603.2L328.5 605.7L328.5 600.7Z" fill="#000" stroke="none" stroke-width="1"/>
<rect x="345.7" y="507.1" width="65.8" height="65.7" fill="#fff" stroke="#c4c4c4" stroke-width="0.6"/>
<path d="M350 572.3C351 572.2 354.2 572 356 571.6C357.8 571.2 359.3 570.7 361 570.2C362.7 569.7 364.5 569.1 366 568.4C367.5 567.7 368.8 566.6 370 566C371.2 565.4 372 565.1 373 564.6C374 564.1 375.2 563.9 376 562.8C376.8 561.7 377.3 560.1 378 558C378.7 555.9 379.2 552.7 380 550C380.8 547.3 381.7 544 382.5 542C383.3 540 384.1 538.9 384.8 538.2C385.5 537.5 386.1 537.4 386.6 537.8C387.1 538.2 387.5 538.8 388 540.5C388.5 542.2 389 545.4 389.5 548C390 550.6 390.4 553.5 391 556C391.6 558.5 392.2 561 393 563C393.8 565 394.8 566.7 396 568C397.2 569.3 398.6 570.3 400 571C401.4 571.7 403.9 572.1 404.7 572.3Z" fill="#cfcfcf" stroke="#bdbdbd" stroke-width="0.4"/>
<path d="M378 572.3C378.5 571.8 380.2 570.7 381 569C381.8 567.3 382.3 564.8 383 562C383.7 559.2 384.3 555.2 385 552C385.7 548.8 386.3 545.7 387 543C387.7 540.3 388.3 537.7 389 536C389.7 534.3 390.3 533.6 391 533C391.7 532.4 392.4 532.9 393 532.6C393.6 532.3 394 531.2 394.5 531.1C395 531 395.5 531.4 396 532C396.5 532.6 397 533.3 397.5 535C398 536.7 398.5 539.5 399 542C399.5 544.5 400 547 400.5 550C401 553 401.4 557 402 560C402.6 563 403.3 566 404 568C404.7 570 405.7 571.6 406 572.3Z" fill="#7a7a7a" stroke="#444" stroke-width="0.5" fill-opacity="0.8"/>
<text x="348.4" y="515.7" font-size="7.2" font-weight="bold">CD4<tspan dy="-2.74" font-size="4.46">+</tspan></text>
<text x="392.4" y="529.8" font-size="7.2" font-weight="bold">PD-1<tspan dy="-2.74" font-size="4.46">+</tspan></text>
<text x="360.9" y="563.1" font-size="7.2" fill="#a8a8a8">PD-1<tspan dy="-2.74" font-size="4.46">-</tspan></text>
<text x="338" y="540" font-size="5.8" text-anchor="middle" transform="rotate(-90 338 540)">Normalized to Mode</text>
<line x1="344.3" y1="571.8" x2="345.7" y2="571.8" stroke="#777" stroke-width="0.4"/>
<text x="343.6" y="572.8" font-size="2.6" text-anchor="end" fill="#777">0</text>
<line x1="344.3" y1="559.9" x2="345.7" y2="559.9" stroke="#777" stroke-width="0.4"/>
<text x="343.6" y="560.9" font-size="2.6" text-anchor="end" fill="#777">20</text>
<line x1="344.3" y1="547.9" x2="345.7" y2="547.9" stroke="#777" stroke-width="0.4"/>
<text x="343.6" y="548.9" font-size="2.6" text-anchor="end" fill="#777">40</text>
<line x1="344.3" y1="536" x2="345.7" y2="536" stroke="#777" stroke-width="0.4"/>
<text x="343.6" y="537" font-size="2.6" text-anchor="end" fill="#777">60</text>
<line x1="344.3" y1="524" x2="345.7" y2="524" stroke="#777" stroke-width="0.4"/>
<text x="343.6" y="525" font-size="2.6" text-anchor="end" fill="#777">80</text>
<line x1="344.3" y1="512.1" x2="345.7" y2="512.1" stroke="#777" stroke-width="0.4"/>
<text x="343.6" y="513.1" font-size="2.6" text-anchor="end" fill="#777">100</text>
<line x1="352" y1="572.8" x2="352" y2="574" stroke="#777" stroke-width="0.4"/>
<text x="352" y="577.4" font-size="3" text-anchor="middle" fill="#777">0</text>
<line x1="372" y1="572.8" x2="372" y2="574" stroke="#777" stroke-width="0.4"/>
<text x="372" y="577.4" font-size="3" text-anchor="middle" fill="#777">10³</text>
<line x1="392" y1="572.8" x2="392" y2="574" stroke="#777" stroke-width="0.4"/>
<text x="392" y="577.4" font-size="3" text-anchor="middle" fill="#777">10⁴</text>
<rect x="347" y="572.2" width="5" height="1.3" fill="#222" stroke="none" stroke-width="1"/>
<text x="380" y="585" font-size="6.3" text-anchor="middle">CD95</text>
<rect x="345.7" y="588.6" width="65.8" height="64.8" fill="#fff" stroke="#c4c4c4" stroke-width="0.6"/>
<path d="M350 652.6C350.8 652.4 353.5 652.2 355 651.6C356.5 651 357.8 650.3 359 649C360.2 647.7 361 645.8 362 644C363 642.2 364.2 639.5 365 638C365.8 636.5 366.2 635.8 367 635C367.8 634.2 368.8 633.8 369.5 633C370.2 632.2 370.4 631.2 371 630C371.6 628.8 372.3 627.8 373 626C373.7 624.2 374.3 621.2 375 619C375.7 616.8 376.3 614.7 377 613C377.7 611.3 378.3 610 379 609C379.7 608 380.3 606.8 381 607C381.7 607.2 382.3 607.8 383 610C383.7 612.2 384.3 616.3 385 620C385.7 623.7 386.2 628.3 387 632C387.8 635.7 388.7 639.3 389.5 642C390.3 644.7 390.8 646.2 392 648C393.2 649.8 396 651.8 396.8 652.6Z" fill="#cfcfcf" stroke="#bdbdbd" stroke-width="0.4"/>
<path d="M375.5 652.6C375.9 651.7 377.2 649.8 378 647C378.8 644.2 379.4 640.2 380 636C380.6 631.8 381 626.5 381.5 622C382 617.5 382.5 612.4 383 609C383.5 605.6 384 602.6 384.5 601.8C385 601 385.5 602.1 386 604C386.5 605.9 387 609.3 387.5 613C388 616.7 388.4 621.5 389 626C389.6 630.5 390.2 636.3 391 640C391.8 643.7 392.5 645.9 393.5 648C394.5 650.1 396.2 651.8 396.8 652.6Z" fill="#7a7a7a" stroke="#444" stroke-width="0.5" fill-opacity="0.8"/>
<text x="348.4" y="597.2" font-size="7.2" font-weight="bold">CD8<tspan dy="-2.74" font-size="4.46">+</tspan></text>
<text x="387.2" y="603.4" font-size="7.2" font-weight="bold">PD-1<tspan dy="-2.74" font-size="4.46">+</tspan></text>
<text x="357.4" y="630.2" font-size="7.2" fill="#a8a8a8">PD-1<tspan dy="-2.74" font-size="4.46">-</tspan></text>
<text x="338" y="621" font-size="5.8" text-anchor="middle" transform="rotate(-90 338 621)">Normalized to Mode</text>
<line x1="344.3" y1="652.4" x2="345.7" y2="652.4" stroke="#777" stroke-width="0.4"/>
<text x="343.6" y="653.4" font-size="2.6" text-anchor="end" fill="#777">0</text>
<line x1="344.3" y1="640.6" x2="345.7" y2="640.6" stroke="#777" stroke-width="0.4"/>
<text x="343.6" y="641.6" font-size="2.6" text-anchor="end" fill="#777">20</text>
<line x1="344.3" y1="628.9" x2="345.7" y2="628.9" stroke="#777" stroke-width="0.4"/>
<text x="343.6" y="629.9" font-size="2.6" text-anchor="end" fill="#777">40</text>
<line x1="344.3" y1="617.1" x2="345.7" y2="617.1" stroke="#777" stroke-width="0.4"/>
<text x="343.6" y="618.1" font-size="2.6" text-anchor="end" fill="#777">60</text>
<line x1="344.3" y1="605.4" x2="345.7" y2="605.4" stroke="#777" stroke-width="0.4"/>
<text x="343.6" y="606.4" font-size="2.6" text-anchor="end" fill="#777">80</text>
<line x1="344.3" y1="593.6" x2="345.7" y2="593.6" stroke="#777" stroke-width="0.4"/>
<text x="343.6" y="594.6" font-size="2.6" text-anchor="end" fill="#777">100</text>
<line x1="352" y1="653.4" x2="352" y2="654.6" stroke="#777" stroke-width="0.4"/>
<text x="352" y="658" font-size="3" text-anchor="middle" fill="#777">0</text>
<line x1="372" y1="653.4" x2="372" y2="654.6" stroke="#777" stroke-width="0.4"/>
<text x="372" y="658" font-size="3" text-anchor="middle" fill="#777">10³</text>
<line x1="392" y1="653.4" x2="392" y2="654.6" stroke="#777" stroke-width="0.4"/>
<text x="392" y="658" font-size="3" text-anchor="middle" fill="#777">10⁴</text>
<rect x="347" y="652.8" width="5" height="1.3" fill="#222" stroke="none" stroke-width="1"/>
<text x="380" y="665.6" font-size="6.3" text-anchor="middle">CD95</text>
<text x="482.8" y="505.4" font-size="10.2" text-anchor="middle">SD patients</text>
<rect x="449.2" y="509.4" width="63.5" height="63.6" fill="#fff" stroke="none" stroke-width="1"/>
<line x1="449.2" y1="522.6" x2="512.7" y2="522.6" stroke="#f3f3f3" stroke-width="0.5"/>
<line x1="449.2" y1="542.3" x2="512.7" y2="542.3" stroke="#f3f3f3" stroke-width="0.5"/>
<line x1="449.2" y1="562" x2="512.7" y2="562" stroke="#f3f3f3" stroke-width="0.5"/>
<line x1="449.2" y1="512.6" x2="512.7" y2="512.6" stroke="#e8e8e8" stroke-width="0.6"/>
<line x1="449.2" y1="532.6" x2="512.7" y2="532.6" stroke="#e8e8e8" stroke-width="0.6"/>
<line x1="449.2" y1="552.1" x2="512.7" y2="552.1" stroke="#e8e8e8" stroke-width="0.6"/>
<line x1="449.2" y1="572" x2="512.7" y2="572" stroke="#e8e8e8" stroke-width="0.6"/>
<line x1="466.2" y1="509.4" x2="466.2" y2="573" stroke="#e8e8e8" stroke-width="0.6"/>
<line x1="495.6" y1="509.4" x2="495.6" y2="573" stroke="#e8e8e8" stroke-width="0.6"/>
<rect x="449.2" y="509.4" width="63.5" height="63.6" fill="none" stroke="#b5b5b5" stroke-width="0.6"/>
<line x1="448" y1="512.6" x2="449.2" y2="512.6" stroke="#555" stroke-width="0.4"/>
<text x="447" y="514.2" font-size="4.6" text-anchor="end" fill="#4d4d4d">15000</text>
<line x1="448" y1="532.6" x2="449.2" y2="532.6" stroke="#555" stroke-width="0.4"/>
<text x="447" y="534.2" font-size="4.6" text-anchor="end" fill="#4d4d4d">10000</text>
<line x1="448" y1="552.1" x2="449.2" y2="552.1" stroke="#555" stroke-width="0.4"/>
<text x="447" y="553.7" font-size="4.6" text-anchor="end" fill="#4d4d4d">5000</text>
<line x1="448" y1="572" x2="449.2" y2="572" stroke="#555" stroke-width="0.4"/>
<text x="447" y="573.6" font-size="4.6" text-anchor="end" fill="#4d4d4d">0</text>
<circle cx="462.3" cy="520" r="1.8" fill="#a0a0a0" fill-opacity="0.45"/>
<circle cx="460.1" cy="527" r="1.8" fill="#a0a0a0" fill-opacity="0.45"/>
<circle cx="461.7" cy="530" r="1.8" fill="#a0a0a0" fill-opacity="0.45"/>
<circle cx="463" cy="535" r="1.8" fill="#a0a0a0" fill-opacity="0.45"/>
<circle cx="460.3" cy="550" r="1.8" fill="#a0a0a0" fill-opacity="0.45"/>
<circle cx="462.6" cy="555" r="1.8" fill="#a0a0a0" fill-opacity="0.45"/>
<rect x="458.3" y="526.5" width="8.4" height="15.2" fill="none" stroke="#707070" stroke-width="0.7" stroke-opacity="0.55"/>
<line x1="462.5" y1="519.5" x2="462.5" y2="555.9" stroke="#707070" stroke-width="1.25"/>
<line x1="458.5" y1="519.5" x2="466.5" y2="519.5" stroke="#707070" stroke-width="1.25"/>
<line x1="458.5" y1="555.9" x2="466.5" y2="555.9" stroke="#707070" stroke-width="1.25"/>
<line x1="458.3" y1="529.7" x2="466.7" y2="529.7" stroke="#707070" stroke-width="1.25"/>
<circle cx="470" cy="549" r="1.8" fill="#d47a9a" fill-opacity="0.45"/>
<circle cx="471.9" cy="555" r="1.8" fill="#d47a9a" fill-opacity="0.45"/>
<circle cx="470.5" cy="556" r="1.8" fill="#d47a9a" fill-opacity="0.45"/>
<circle cx="472.4" cy="557" r="1.8" fill="#d47a9a" fill-opacity="0.45"/>
<circle cx="468.6" cy="558" r="1.8" fill="#d47a9a" fill-opacity="0.45"/>
<rect x="467.6" y="555" width="7.8" height="2.8" fill="none" stroke="#a8144a" stroke-width="0.7" stroke-opacity="0.55"/>
<line x1="471.5" y1="554.5" x2="471.5" y2="558" stroke="#a8144a" stroke-width="1.25"/>
<line x1="467.8" y1="554.5" x2="475.2" y2="554.5" stroke="#a8144a" stroke-width="1.25"/>
<line x1="467.8" y1="558" x2="475.2" y2="558" stroke="#a8144a" stroke-width="1.25"/>
<line x1="467.6" y1="556.4" x2="475.4" y2="556.4" stroke="#a8144a" stroke-width="1.25"/>
<circle cx="492.8" cy="555" r="1.8" fill="#a0a0a0" fill-opacity="0.45"/>
<circle cx="489.4" cy="558" r="1.8" fill="#a0a0a0" fill-opacity="0.45"/>
<circle cx="494.6" cy="560" r="1.8" fill="#a0a0a0" fill-opacity="0.45"/>
<circle cx="492.3" cy="563" r="1.8" fill="#a0a0a0" fill-opacity="0.45"/>
<circle cx="491.5" cy="566" r="1.8" fill="#a0a0a0" fill-opacity="0.45"/>
<rect x="487.7" y="557.4" width="8" height="6.1" fill="none" stroke="#707070" stroke-width="0.7" stroke-opacity="0.55"/>
<line x1="491.7" y1="553" x2="491.7" y2="568.2" stroke="#707070" stroke-width="1.25"/>
<line x1="487.9" y1="553" x2="495.5" y2="553" stroke="#707070" stroke-width="1.25"/>
<line x1="487.9" y1="568.2" x2="495.5" y2="568.2" stroke="#707070" stroke-width="1.25"/>
<line x1="487.7" y1="560.5" x2="495.7" y2="560.5" stroke="#707070" stroke-width="1.25"/>
<circle cx="499.5" cy="562" r="1.8" fill="#d47a9a" fill-opacity="0.45"/>
<circle cx="500.8" cy="565" r="1.8" fill="#d47a9a" fill-opacity="0.45"/>
<circle cx="501.2" cy="567" r="1.8" fill="#d47a9a" fill-opacity="0.45"/>
<circle cx="501.6" cy="568" r="1.8" fill="#d47a9a" fill-opacity="0.45"/>
<rect x="496.2" y="565.4" width="7.6" height="2.8" fill="none" stroke="#a8144a" stroke-width="0.7" stroke-opacity="0.55"/>
<line x1="500" y1="564.5" x2="500" y2="568.8" stroke="#a8144a" stroke-width="1.25"/>
<line x1="496.4" y1="564.5" x2="503.6" y2="564.5" stroke="#a8144a" stroke-width="1.25"/>
<line x1="496.4" y1="568.8" x2="503.6" y2="568.8" stroke="#a8144a" stroke-width="1.25"/>
<line x1="496.2" y1="566.8" x2="503.8" y2="566.8" stroke="#a8144a" stroke-width="1.25"/>
<text x="466.8" y="519.8" font-size="8" text-anchor="middle" font-weight="bold">*</text>
<line x1="460.5" y1="517.6" x2="472" y2="517.6" stroke="#888" stroke-width="0.5"/>
<path d="M462.4 516V513.2H492.4V528.4" fill="none" stroke="#888" stroke-width="0.5"/>
<text x="477.6" y="516" font-size="8" text-anchor="middle" font-weight="bold">**</text>
<path d="M470.6 543.6V539.8H500.4V545.5" fill="none" stroke="#888" stroke-width="0.5"/>
<text x="486.2" y="542" font-size="8" text-anchor="middle" font-weight="bold">**</text>
<text x="495.6" y="551.5" font-size="8" text-anchor="middle" font-weight="bold">*</text>
<line x1="491.9" y1="549.3" x2="500" y2="549.3" stroke="#888" stroke-width="0.5"/>
<line x1="466.2" y1="573" x2="466.2" y2="574.2" stroke="#555" stroke-width="0.4"/>
<line x1="495.6" y1="573" x2="495.6" y2="574.2" stroke="#555" stroke-width="0.4"/>
<text x="466.2" y="581.2" font-size="7.6" text-anchor="middle">PD-1<tspan dy="-2.89" font-size="4.71">+</tspan></text>
<text x="495.6" y="581.2" font-size="7.6" text-anchor="middle">PD-1<tspan dy="-2.89" font-size="4.71">-</tspan></text>
<rect x="447.6" y="590" width="65.1" height="63.2" fill="#fff" stroke="none" stroke-width="1"/>
<line x1="447.6" y1="608.1" x2="512.7" y2="608.1" stroke="#f3f3f3" stroke-width="0.5"/>
<line x1="447.6" y1="627" x2="512.7" y2="627" stroke="#f3f3f3" stroke-width="0.5"/>
<line x1="447.6" y1="646" x2="512.7" y2="646" stroke="#f3f3f3" stroke-width="0.5"/>
<line x1="447.6" y1="598.6" x2="512.7" y2="598.6" stroke="#e8e8e8" stroke-width="0.6"/>
<line x1="447.6" y1="617.6" x2="512.7" y2="617.6" stroke="#e8e8e8" stroke-width="0.6"/>
<line x1="447.6" y1="636.5" x2="512.7" y2="636.5" stroke="#e8e8e8" stroke-width="0.6"/>
<line x1="466.2" y1="590" x2="466.2" y2="653.2" stroke="#e8e8e8" stroke-width="0.6"/>
<line x1="495.6" y1="590" x2="495.6" y2="653.2" stroke="#e8e8e8" stroke-width="0.6"/>
<rect x="447.6" y="590" width="65.1" height="63.2" fill="none" stroke="#b5b5b5" stroke-width="0.6"/>
<line x1="446.4" y1="598.6" x2="447.6" y2="598.6" stroke="#555" stroke-width="0.4"/>
<text x="445.4" y="600.2" font-size="4.6" text-anchor="end" fill="#4d4d4d">6000</text>
<line x1="446.4" y1="617.6" x2="447.6" y2="617.6" stroke="#555" stroke-width="0.4"/>
<text x="445.4" y="619.2" font-size="4.6" text-anchor="end" fill="#4d4d4d">4000</text>
<line x1="446.4" y1="636.5" x2="447.6" y2="636.5" stroke="#555" stroke-width="0.4"/>
<text x="445.4" y="638.1" font-size="4.6" text-anchor="end" fill="#4d4d4d">2000</text>
<circle cx="462.9" cy="600" r="1.8" fill="#a0a0a0" fill-opacity="0.45"/>
<circle cx="461.1" cy="606" r="1.8" fill="#a0a0a0" fill-opacity="0.45"/>
<circle cx="464.4" cy="610" r="1.8" fill="#a0a0a0" fill-opacity="0.45"/>
<circle cx="463.4" cy="614" r="1.8" fill="#a0a0a0" fill-opacity="0.45"/>
<circle cx="463.5" cy="618" r="1.8" fill="#a0a0a0" fill-opacity="0.45"/>
<circle cx="460.6" cy="621" r="1.8" fill="#a0a0a0" fill-opacity="0.45"/>
<rect x="457.1" y="608.6" width="8.2" height="8.6" fill="none" stroke="#707070" stroke-width="0.7" stroke-opacity="0.55"/>
<line x1="461.2" y1="599.5" x2="461.2" y2="622.9" stroke="#707070" stroke-width="1.25"/>
<line x1="457.3" y1="599.5" x2="465.1" y2="599.5" stroke="#707070" stroke-width="1.25"/>
<line x1="457.3" y1="622.9" x2="465.1" y2="622.9" stroke="#707070" stroke-width="1.25"/>
<line x1="457.1" y1="613.4" x2="465.3" y2="613.4" stroke="#707070" stroke-width="1.25"/>
<circle cx="470.3" cy="603" r="1.8" fill="#d47a9a" fill-opacity="0.45"/>
<circle cx="471.1" cy="627" r="1.8" fill="#d47a9a" fill-opacity="0.45"/>
<circle cx="473" cy="630" r="1.8" fill="#d47a9a" fill-opacity="0.45"/>
<circle cx="470.8" cy="633" r="1.8" fill="#d47a9a" fill-opacity="0.45"/>
<circle cx="470.8" cy="636" r="1.8" fill="#d47a9a" fill-opacity="0.45"/>
<rect x="467.2" y="626.7" width="7" height="7.6" fill="none" stroke="#a8144a" stroke-width="0.7" stroke-opacity="0.55"/>
<line x1="470.7" y1="626.1" x2="470.7" y2="637.1" stroke="#a8144a" stroke-width="1.25"/>
<line x1="467.4" y1="626.1" x2="474" y2="626.1" stroke="#a8144a" stroke-width="1.25"/>
<line x1="467.4" y1="637.1" x2="474" y2="637.1" stroke="#a8144a" stroke-width="1.25"/>
<line x1="467.2" y1="630.5" x2="474.2" y2="630.5" stroke="#a8144a" stroke-width="1.25"/>
<circle cx="490.3" cy="625" r="1.8" fill="#a0a0a0" fill-opacity="0.45"/>
<circle cx="493.3" cy="635" r="1.8" fill="#a0a0a0" fill-opacity="0.45"/>
<circle cx="489.6" cy="640" r="1.8" fill="#a0a0a0" fill-opacity="0.45"/>
<circle cx="487.8" cy="643" r="1.8" fill="#a0a0a0" fill-opacity="0.45"/>
<circle cx="492.1" cy="647" r="1.8" fill="#a0a0a0" fill-opacity="0.45"/>
<rect x="486.7" y="639" width="8" height="5.7" fill="none" stroke="#707070" stroke-width="0.7" stroke-opacity="0.55"/>
<line x1="490.7" y1="634.3" x2="490.7" y2="649.4" stroke="#707070" stroke-width="1.25"/>
<line x1="486.9" y1="634.3" x2="494.5" y2="634.3" stroke="#707070" stroke-width="1.25"/>
<line x1="486.9" y1="649.4" x2="494.5" y2="649.4" stroke="#707070" stroke-width="1.25"/>
<line x1="486.7" y1="641.9" x2="494.7" y2="641.9" stroke="#707070" stroke-width="1.25"/>
<circle cx="501.8" cy="641" r="1.8" fill="#d47a9a" fill-opacity="0.45"/>
<circle cx="500.8" cy="644" r="1.8" fill="#d47a9a" fill-opacity="0.45"/>
<circle cx="500" cy="646" r="1.8" fill="#d47a9a" fill-opacity="0.45"/>
<circle cx="500.9" cy="649" r="1.8" fill="#d47a9a" fill-opacity="0.45"/>
<rect x="495.6" y="642.8" width="7.6" height="4.7" fill="none" stroke="#a8144a" stroke-width="0.7" stroke-opacity="0.55"/>
<line x1="499.4" y1="640.9" x2="499.4" y2="650.8" stroke="#a8144a" stroke-width="1.25"/>
<line x1="495.8" y1="640.9" x2="503" y2="640.9" stroke="#a8144a" stroke-width="1.25"/>
<line x1="495.8" y1="650.8" x2="503" y2="650.8" stroke="#a8144a" stroke-width="1.25"/>
<line x1="495.6" y1="645" x2="503.2" y2="645" stroke="#a8144a" stroke-width="1.25"/>
<text x="464.7" y="600.4" font-size="8" text-anchor="middle" font-weight="bold">*</text>
<path d="M460.5 596V594.4H489.6V609.6" fill="none" stroke="#888" stroke-width="0.5"/>
<text x="474.8" y="596.6" font-size="8" text-anchor="middle" font-weight="bold">**</text>
<path d="M470 622V619.1H499.4V625.3" fill="none" stroke="#888" stroke-width="0.5"/>
<text x="484.8" y="621.3" font-size="8" text-anchor="middle" font-weight="bold">**</text>
<line x1="466.2" y1="653.2" x2="466.2" y2="654.4" stroke="#555" stroke-width="0.4"/>
<line x1="495.6" y1="653.2" x2="495.6" y2="654.4" stroke="#555" stroke-width="0.4"/>
<text x="466.2" y="661.8" font-size="7.6" text-anchor="middle">PD-1<tspan dy="-2.89" font-size="4.71">+</tspan></text>
<text x="495.6" y="661.8" font-size="7.6" text-anchor="middle">PD-1<tspan dy="-2.89" font-size="4.71">-</tspan></text>
<text x="421.5" y="541" font-size="6.6" text-anchor="middle" transform="rotate(-90 421.5 541)">CD4<tspan dy="-2.51" font-size="4.09">+</tspan><tspan dy="2.51"> DENV2-specific</tspan></text>
<text x="429.2" y="541" font-size="6.6" text-anchor="middle" transform="rotate(-90 429.2 541)">CD95 (MFI)</text>
<text x="422" y="621.6" font-size="6.6" text-anchor="middle" transform="rotate(-90 422 621.6)">CD8<tspan dy="-2.51" font-size="4.09">+</tspan><tspan dy="2.51"> DENV2-specific</tspan></text>
<text x="429.7" y="621.6" font-size="6.6" text-anchor="middle" transform="rotate(-90 429.7 621.6)">CD95 (MFI)</text>
<circle cx="530" cy="517.9" r="3.014" fill="#707070" fill-opacity="0.2"/>
<rect x="522.1" y="513.2" width="15.7" height="9.6" fill="none" stroke="#707070" stroke-width="1.54"/>
<line x1="522.1" y1="517.9" x2="537.8" y2="517.9" stroke="#707070" stroke-width="2.52"/>
<line x1="530" y1="511" x2="530" y2="513.2" stroke="#707070" stroke-width="1.4"/>
<line x1="530" y1="522.8" x2="530" y2="524.7" stroke="#707070" stroke-width="1.4"/>
<text x="539" y="522.8" font-size="14.5">TP1</text>
<circle cx="530" cy="537.5" r="3.19" fill="#a8144a" fill-opacity="0.2"/>
<rect x="522.1" y="532.6" width="15.7" height="10.1" fill="none" stroke="#a8144a" stroke-width="1.54"/>
<line x1="522.1" y1="537.5" x2="537.8" y2="537.5" stroke="#a8144a" stroke-width="2.52"/>
<line x1="530" y1="530.3" x2="530" y2="532.6" stroke="#a8144a" stroke-width="1.4"/>
<line x1="530" y1="542.8" x2="530" y2="544.8" stroke="#a8144a" stroke-width="1.4"/>
<text x="539" y="542.9" font-size="14.5">TP2</text>
</svg></body></html>
